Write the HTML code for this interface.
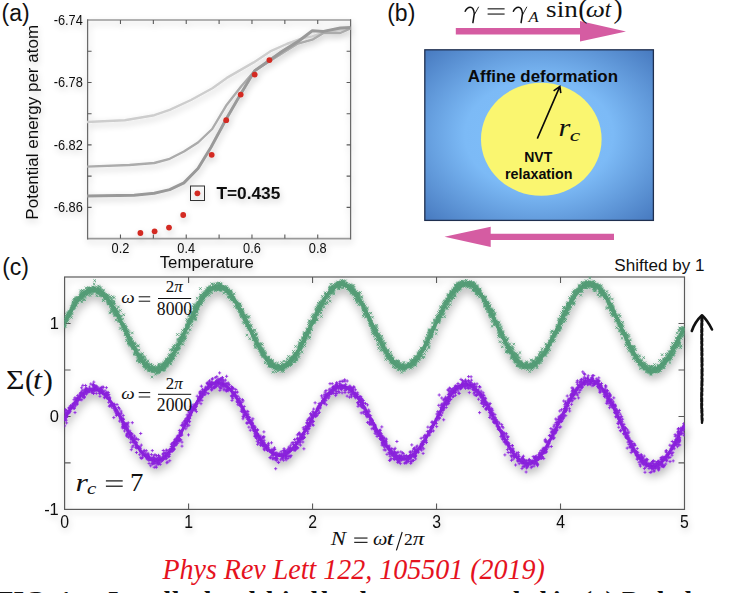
<!DOCTYPE html>
<html><head><meta charset="utf-8"><style>
html,body{margin:0;padding:0;background:#fff;width:736px;height:593px;overflow:hidden;position:relative;font-family:"Liberation Sans",sans-serif}
</style></head><body>
<svg width="736" height="593" viewBox="0 0 736 593" style="position:absolute;left:0;top:0">
<defs>
<filter id="sh" x="-20%" y="-20%" width="140%" height="140%">
 <feGaussianBlur in="SourceAlpha" stdDeviation="3.5"/>
 <feOffset dx="1" dy="3" result="b"/>
 <feComponentTransfer><feFuncA type="linear" slope="0.22"/></feComponentTransfer>
 <feMerge><feMergeNode/><feMergeNode in="SourceGraphic"/></feMerge>
</filter>
<filter id="sh2" x="-20%" y="-20%" width="140%" height="140%">
 <feGaussianBlur in="SourceAlpha" stdDeviation="5"/>
 <feOffset dx="1" dy="4" result="b"/>
 <feComponentTransfer><feFuncA type="linear" slope="0.34"/></feComponentTransfer>
 <feMerge><feMergeNode/><feMergeNode in="SourceGraphic"/></feMerge>
</filter>
<radialGradient id="bg" cx="50%" cy="50%" r="72%">
 <stop offset="0" stop-color="#80c0fb"/>
 <stop offset="0.45" stop-color="#7cbaf6"/>
 <stop offset="1" stop-color="#4577bd"/>
</radialGradient>
</defs>
<clipPath id="cbox"><rect x="64.6" y="267.0" width="619.9" height="252.39999999999998"/></clipPath>
<g filter="url(#sh)">
<path d="M87.6,20.0H350.6M87.6,238.6H350.6" stroke="#999" stroke-width="1.7" fill="none"/>
<path d="M87.6,19.2V239.4M350.6,19.2V239.4" stroke="#6a6a6a" stroke-width="1.25" fill="none"/>
<path d="M87.6,51.23h4M350.6,51.23h-4M87.6,82.46h4M350.6,82.46h-4M87.6,113.69h4M350.6,113.69h-4M87.6,144.91h4M350.6,144.91h-4M87.6,176.14h4M350.6,176.14h-4M87.6,207.37h4M350.6,207.37h-4M120.47,20.0v4M120.47,238.6v-4M153.35,20.0v4M153.35,238.6v-4M186.23,20.0v4M186.23,238.6v-4M219.10,20.0v4M219.10,238.6v-4M251.97,20.0v4M251.97,238.6v-4M284.85,20.0v4M284.85,238.6v-4M317.73,20.0v4M317.73,238.6v-4" stroke="#5a5a5a" stroke-width="1.1" fill="none"/>
<text transform="translate(82.8,24.90) scale(1,1.1)" text-anchor="end" font-size="12.8" font-family="Liberation Sans" fill="#111">-6.74</text>
<text transform="translate(82.8,87.36) scale(1,1.1)" text-anchor="end" font-size="12.8" font-family="Liberation Sans" fill="#111">-6.78</text>
<text transform="translate(82.8,149.81) scale(1,1.1)" text-anchor="end" font-size="12.8" font-family="Liberation Sans" fill="#111">-6.82</text>
<text transform="translate(82.8,212.27) scale(1,1.1)" text-anchor="end" font-size="12.8" font-family="Liberation Sans" fill="#111">-6.86</text>
<text transform="translate(120.47,252.6) scale(1,1.09)" text-anchor="middle" font-size="12.8" font-family="Liberation Sans" fill="#111">0.2</text>
<text transform="translate(186.23,252.6) scale(1,1.09)" text-anchor="middle" font-size="12.8" font-family="Liberation Sans" fill="#111">0.4</text>
<text transform="translate(251.97,252.6) scale(1,1.09)" text-anchor="middle" font-size="12.8" font-family="Liberation Sans" fill="#111">0.6</text>
<text transform="translate(317.73,252.6) scale(1,1.09)" text-anchor="middle" font-size="12.8" font-family="Liberation Sans" fill="#111">0.8</text>
<text x="206.8" y="267.8" text-anchor="middle" font-size="16.8" font-family="Liberation Sans" fill="#111">Temperature</text>
<text transform="translate(38.3,122.3) rotate(-90)" text-anchor="middle" font-size="17" font-family="Liberation Sans" fill="#111">Potential energy per atom</text>
<polyline points="87.0,122.0 124.8,120.2 154.3,115.2 169.7,109.8 191.0,100.0 212.4,88.2 226.8,77.9 253.7,62.4 270.2,51.4 286.7,44.0 303.4,38.0 312.3,36.4 323.9,32.5 340.2,30.0 350.6,28.3" fill="none" stroke="#cdcdcd" stroke-width="2.4" stroke-linejoin="round"/>
<polyline points="87.0,166.6 129.5,165.0 154.3,163.0 169.7,158.8 183.9,151.5 198.0,142.5 212.2,129.0 226.8,104.7 241.3,86.2 254.7,70.7 282.6,53.0 297.9,43.6 312.3,39.7 323.5,33.0 340.2,33.0 350.6,28.5" fill="none" stroke="#ababab" stroke-width="2.4" stroke-linejoin="round"/>
<polyline points="87.0,196.1 134.2,195.3 154.3,193.2 169.7,189.6 183.9,182.9 198.0,168.5 211.0,147.2 226.8,118.0 240.7,94.0 254.7,70.7 282.6,51.0 299.1,40.7 312.3,30.8 323.5,31.4 340.2,28.0 350.6,27.5" fill="none" stroke="#999" stroke-width="3.0" stroke-linejoin="round"/>
<circle cx="140.4" cy="233" r="2.9" fill="#d32a22"/>
<circle cx="154.6" cy="231.3" r="2.9" fill="#d32a22"/>
<circle cx="169" cy="227.6" r="2.9" fill="#d32a22"/>
<circle cx="183.2" cy="215" r="2.9" fill="#d32a22"/>
<circle cx="211.7" cy="154.8" r="2.9" fill="#d32a22"/>
<circle cx="226.2" cy="120.2" r="2.9" fill="#d32a22"/>
<circle cx="240.7" cy="94.6" r="2.9" fill="#d32a22"/>
<circle cx="254.7" cy="74.6" r="2.9" fill="#d32a22"/>
<circle cx="269.4" cy="60.1" r="2.9" fill="#d32a22"/>
<circle cx="197.4" cy="193.3" r="2.9" fill="#d32a22"/>
<rect x="190.5" y="186" width="14" height="14.5" fill="none" stroke="#333" stroke-width="1"/>
<text x="216.4" y="198.9" font-size="17.3" font-weight="bold" font-family="Liberation Sans" fill="#111">T=0.435</text>
</g>
<text transform="translate(1.6,20.6) scale(1.0,1.03)" font-size="23" font-family="Liberation Sans" fill="#111">(a)</text>
<text transform="translate(387.2,20.6) scale(1.0,1.03)" font-size="23" font-family="Liberation Sans" fill="#111">(b)</text>
<path d="M455.8,28.1H580V21.1L626,31.5L580,41.4V34.6H455.8Z" fill="#d55ca2"/>
<path d="M614,233.8H490.7V226.8L444.5,236.8L490.7,246.9V240H614Z" fill="#d55ca2"/>
<path d="M465.2,11.3C466.6,8.2 468.4,7.2 470.2,7.2C472.6,7.2 473.9,9.6 474.3,13.6L472.9,22.6" stroke="#111" stroke-width="1.55" fill="none" stroke-linecap="round"/><path d="M478.5,7.1L474.4,14.6" stroke="#111" stroke-width="0.9" fill="none" stroke-linecap="round"/>
<rect x="487.6" y="8.3" width="17" height="1.1" fill="#111"/><rect x="487.6" y="13.5" width="17" height="1.1" fill="#111"/>
<path d="M513.4,11.3C514.8,8.2 516.6,7.2 518.4,7.2C520.8,7.2 522.1,9.6 522.5,13.6L521.1,22.6" stroke="#111" stroke-width="1.55" fill="none" stroke-linecap="round"/><path d="M526.7,7.1L522.6,14.6" stroke="#111" stroke-width="0.9" fill="none" stroke-linecap="round"/>
<text transform="translate(528.4,21.7) scale(1.2,1)" font-size="13.8" font-style="italic" font-family="Liberation Serif" fill="#111">A</text>
<text transform="translate(546.1,17.1) scale(1.18,1)" font-size="23" font-family="Liberation Serif" fill="#111">sin</text>
<text x="578.2" y="18.2" font-size="27.5" font-family="Liberation Serif" fill="#111">(</text>
<text transform="translate(585.8,17.1) scale(1.18,1)" font-size="23" font-style="italic" font-family="Liberation Serif" fill="#111">ω</text>
<text x="604.8" y="17.1" font-size="23" font-style="italic" font-family="Liberation Serif" fill="#111">t</text>
<text x="613.6" y="18.2" font-size="27.5" font-family="Liberation Serif" fill="#111">)</text>
<rect x="424.8" y="49.8" width="228.6" height="170.6" fill="url(#bg)" stroke="#1f2f4f" stroke-width="1.3"/>
<ellipse cx="541.3" cy="139.2" rx="60.3" ry="56.5" fill="#faf670"/>
<text x="542.9" y="81.5" text-anchor="middle" font-size="16.9" font-weight="bold" font-family="Liberation Sans" fill="#0a0a0a">Affine deformation</text>
<path d="M537.3,138.6L559.9,86.4M553.6,90.9L559.9,86.4L560.8,93.2" stroke="#0a0a0a" stroke-width="1.6" fill="none"/>
<text transform="translate(558.6,136.4) scale(1.22,1)" font-size="25" font-style="italic" font-family="Liberation Serif" fill="#111">r</text>
<text transform="translate(569.8,140.8) scale(1.35,1)" font-size="17.5" font-style="italic" font-family="Liberation Serif" fill="#111">c</text>
<text x="538.2" y="161.6" text-anchor="middle" font-size="14" font-weight="bold" font-family="Liberation Sans" fill="#0a0a0a">NVT</text>
<text x="538.8" y="178.8" text-anchor="middle" font-size="14.3" font-weight="bold" font-family="Liberation Sans" fill="#0a0a0a">relaxation</text>
<g filter="url(#sh)">
<rect x="64.6" y="277.0" width="619.9" height="232.39999999999998" fill="none" stroke="#5a5a5a" stroke-width="1.2"/>
<path d="M64.6,462.92h6M684.5,462.92h-6M64.6,416.44h6M684.5,416.44h-6M64.6,369.96h6M684.5,369.96h-6M64.6,323.48h6M684.5,323.48h-6M188.58,277.0v6M188.58,509.4v-6M312.56,277.0v6M312.56,509.4v-6M436.54,277.0v6M436.54,509.4v-6M560.52,277.0v6M560.52,509.4v-6" stroke="#5a5a5a" stroke-width="1.1" fill="none"/>
<text transform="translate(58.8,328.98) scale(1,1.04)" text-anchor="end" font-size="16.5" font-family="Liberation Sans" fill="#111">1</text>
<text transform="translate(58.8,421.94) scale(1,1.04)" text-anchor="end" font-size="16.5" font-family="Liberation Sans" fill="#111">0</text>
<text transform="translate(58.8,514.90) scale(1,1.04)" text-anchor="end" font-size="16.5" font-family="Liberation Sans" fill="#111">-1</text>
<text transform="translate(64.60,528.3) scale(1,1.13)" text-anchor="middle" font-size="15.8" font-family="Liberation Sans" fill="#111">0</text>
<text transform="translate(188.58,528.3) scale(1,1.13)" text-anchor="middle" font-size="15.8" font-family="Liberation Sans" fill="#111">1</text>
<text transform="translate(312.56,528.3) scale(1,1.13)" text-anchor="middle" font-size="15.8" font-family="Liberation Sans" fill="#111">2</text>
<text transform="translate(436.54,528.3) scale(1,1.13)" text-anchor="middle" font-size="15.8" font-family="Liberation Sans" fill="#111">3</text>
<text transform="translate(560.52,528.3) scale(1,1.13)" text-anchor="middle" font-size="15.8" font-family="Liberation Sans" fill="#111">4</text>
<text transform="translate(684.50,528.3) scale(1,1.13)" text-anchor="middle" font-size="15.8" font-family="Liberation Sans" fill="#111">5</text>
</g>
<text x="614.3" y="270.7" font-size="17.1" font-family="Liberation Sans" fill="#111">Shifted by 1</text>
<text transform="translate(2.2,274.6) scale(1.0,1.03)" font-size="23" font-family="Liberation Sans" fill="#111">(c)</text>
<g filter="url(#sh2)"><g clip-path="url(#cbox)">
<polyline points="60.1,326.6 60.9,326.6 61.7,326.6 62.5,326.6 63.2,325.4 64.0,323.8 64.8,322.3 65.6,320.9 66.4,319.4 67.2,317.9 67.9,316.4 68.7,315.0 69.5,313.6 70.3,312.2 71.1,310.8 71.8,309.4 72.6,308.1 73.4,306.8 74.2,305.5 75.0,304.3 75.8,303.1 76.5,301.9 77.3,300.8 78.1,299.8 78.9,298.8 79.7,297.9 80.4,297.0 81.2,296.2 82.0,295.5 82.8,294.7 83.6,294.1 84.4,293.4 85.1,292.9 85.9,292.3 86.7,291.9 87.5,291.4 88.3,291.1 89.0,290.8 89.8,290.5 90.6,290.3 91.4,290.1 92.2,290.0 93.0,290.0 93.7,290.0 94.5,290.0 95.3,290.1 96.1,290.3 96.9,290.5 97.6,290.8 98.4,291.2 99.2,291.6 100.0,292.0 100.8,292.5 101.6,293.1 102.3,293.7 103.1,294.3 103.9,295.1 104.7,295.8 105.5,296.6 106.2,297.5 107.0,298.4 107.8,299.3 108.6,300.3 109.4,301.4 110.2,302.5 110.9,303.6 111.7,304.7 112.5,305.9 113.3,307.2 114.1,308.4 114.8,309.7 115.6,311.2 116.4,312.6 117.2,314.1 118.0,315.6 118.8,317.1 119.5,318.7 120.3,320.2 121.1,321.8 121.9,323.4 122.7,325.0 123.4,326.6 124.2,328.2 125.0,329.8 125.8,331.4 126.6,333.0 127.4,334.6 128.1,336.2 128.9,337.7 129.7,339.3 130.5,340.9 131.3,342.4 132.0,343.9 132.8,345.4 133.6,346.8 134.4,348.2 135.2,349.6 136.0,351.0 136.7,352.3 137.5,353.6 138.3,354.9 139.1,356.1 139.9,357.3 140.6,358.4 141.4,359.5 142.2,360.5 143.0,361.5 143.8,362.5 144.6,363.3 145.3,364.2 146.1,364.9 146.9,365.7 147.7,366.3 148.5,366.9 149.2,367.5 150.0,368.0 150.8,368.4 151.6,368.7 152.4,369.0 153.2,369.3 153.9,369.4 154.7,369.6 155.5,369.6 156.3,369.6 157.1,369.5 157.8,369.3 158.6,369.1 159.4,368.9 160.2,368.5 161.0,368.1 161.8,367.6 162.5,367.1 163.3,366.5 164.1,365.9 164.9,365.2 165.7,364.4 166.4,363.6 167.2,362.7 168.0,361.7 168.8,360.7 169.6,359.7 170.4,358.6 171.1,357.5 171.9,356.3 172.7,355.1 173.5,353.8 174.3,352.5 175.0,351.1 175.8,349.7 176.6,348.3 177.4,346.9 178.2,345.4 179.0,343.9 179.7,342.3 180.5,340.8 181.3,339.2 182.1,337.6 182.9,336.0 183.6,334.4 184.4,332.7 185.2,331.1 186.0,329.4 186.8,327.8 187.6,326.1 188.3,324.5 189.1,322.9 189.9,321.2 190.7,319.6 191.5,318.0 192.2,316.4 193.0,314.8 193.8,313.3 194.6,311.7 195.4,310.2 196.2,308.8 196.9,307.3 197.7,305.9 198.5,304.5 199.3,303.2 200.1,301.9 200.8,300.6 201.6,299.4 202.4,298.2 203.2,297.1 204.0,296.0 204.8,295.0 205.5,294.0 206.3,293.1 207.1,292.2 207.9,291.4 208.7,290.6 209.4,289.9 210.2,289.3 211.0,288.7 211.8,288.2 212.6,287.7 213.4,287.3 214.1,287.0 214.9,286.7 215.7,286.5 216.5,286.4 217.3,286.3 218.0,286.3 218.8,286.4 219.6,286.5 220.4,286.7 221.2,286.9 222.0,287.2 222.7,287.6 223.5,288.0 224.3,288.5 225.1,289.1 225.9,289.7 226.6,290.4 227.4,291.1 228.2,291.9 229.0,292.7 229.8,293.6 230.6,294.6 231.3,295.6 232.1,296.6 232.9,297.7 233.7,298.8 234.5,300.0 235.2,301.2 236.0,302.5 236.8,303.8 237.6,305.1 238.4,306.5 239.2,307.9 239.9,309.4 240.7,310.8 241.5,312.3 242.3,313.8 243.1,315.3 243.8,316.9 244.6,318.5 245.4,320.0 246.2,321.6 247.0,323.2 247.8,324.8 248.5,326.4 249.3,328.0 250.1,329.6 250.9,331.2 251.7,332.8 252.4,334.4 253.2,336.0 254.0,337.5 254.8,339.1 255.6,340.6 256.4,342.1 257.1,343.6 257.9,345.0 258.7,346.4 259.5,347.8 260.3,349.2 261.0,350.5 261.8,351.8 262.6,353.0 263.4,354.2 264.2,355.4 265.0,356.5 265.7,357.6 266.5,358.6 267.3,359.6 268.1,360.5 268.9,361.4 269.6,362.2 270.4,362.9 271.2,363.6 272.0,364.3 272.8,364.9 273.6,365.4 274.3,365.9 275.1,366.3 275.9,366.6 276.7,366.9 277.5,367.1 278.2,367.3 279.0,367.4 279.8,367.4 280.6,367.4 281.4,367.3 282.2,367.1 282.9,366.9 283.7,366.6 284.5,366.2 285.3,365.8 286.1,365.3 286.8,364.8 287.6,364.2 288.4,363.5 289.2,362.8 290.0,362.0 290.8,361.1 291.5,360.2 292.3,359.3 293.1,358.3 293.9,357.2 294.7,356.1 295.4,355.0 296.2,353.8 297.0,352.6 297.8,351.3 298.6,350.0 299.4,348.6 300.1,347.2 300.9,345.8 301.7,344.3 302.5,342.8 303.3,341.3 304.0,339.8 304.8,338.2 305.6,336.6 306.4,335.0 307.2,333.4 308.0,331.8 308.7,330.2 309.5,328.5 310.3,326.9 311.1,325.2 311.9,323.6 312.6,322.0 313.4,320.3 314.2,318.7 315.0,317.1 315.8,315.5 316.6,313.9 317.3,312.3 318.1,310.8 318.9,309.3 319.7,307.8 320.5,306.3 321.2,304.9 322.0,303.5 322.8,302.1 323.6,300.8 324.4,299.5 325.2,298.2 325.9,297.0 326.7,295.9 327.5,294.8 328.3,293.7 329.1,292.7 329.8,291.7 330.6,290.8 331.4,289.9 332.2,289.1 333.0,288.4 333.8,287.7 334.5,287.1 335.3,286.5 336.1,286.0 336.9,285.6 337.7,285.2 338.4,284.9 339.2,284.7 340.0,284.5 340.8,284.4 341.6,284.3 342.4,284.3 343.1,284.4 343.9,284.5 344.7,284.7 345.5,285.0 346.3,285.3 347.0,285.7 347.8,286.2 348.6,286.7 349.4,287.3 350.2,288.0 351.0,288.7 351.7,289.4 352.5,290.2 353.3,291.1 354.1,292.1 354.9,293.0 355.6,294.1 356.4,295.2 357.2,296.3 358.0,297.5 358.8,298.7 359.6,300.0 360.3,301.3 361.1,302.6 361.9,304.0 362.7,305.4 363.5,306.8 364.2,308.3 365.0,309.8 365.8,311.4 366.6,312.9 367.4,314.5 368.2,316.1 368.9,317.7 369.7,319.3 370.5,320.9 371.3,322.6 372.1,324.2 372.8,325.8 373.6,327.5 374.4,329.1 375.2,330.8 376.0,332.4 376.8,334.0 377.5,335.6 378.3,337.2 379.1,338.8 379.9,340.3 380.7,341.9 381.5,343.4 382.2,344.9 383.0,346.3 383.8,347.7 384.6,349.1 385.4,350.4 386.1,351.7 386.9,353.0 387.7,354.2 388.5,355.4 389.3,356.5 390.1,357.6 390.8,358.7 391.6,359.6 392.4,360.6 393.2,361.5 394.0,362.3 394.7,363.0 395.5,363.7 396.3,364.4 397.1,365.0 397.9,365.5 398.7,366.0 399.4,366.4 400.2,366.7 401.0,367.0 401.8,367.2 402.6,367.3 403.3,367.4 404.1,367.4 404.9,367.3 405.7,367.2 406.5,367.0 407.3,366.8 408.0,366.5 408.8,366.1 409.6,365.7 410.4,365.1 411.2,364.6 411.9,364.0 412.7,363.3 413.5,362.5 414.3,361.7 415.1,360.8 415.9,359.9 416.6,359.0 417.4,357.9 418.2,356.9 419.0,355.7 419.8,354.6 420.5,353.3 421.3,352.1 422.1,350.8 422.9,349.4 423.7,348.1 424.5,346.6 425.2,345.2 426.0,343.7 426.8,342.2 427.6,340.7 428.4,339.1 429.1,337.5 429.9,335.9 430.7,334.3 431.5,332.7 432.3,331.1 433.1,329.4 433.8,327.8 434.6,326.1 435.4,324.4 436.2,322.8 437.0,321.1 437.7,319.5 438.5,317.9 439.3,316.2 440.1,314.6 440.9,313.0 441.7,311.5 442.4,309.9 443.2,308.4 444.0,306.9 444.8,305.4 445.6,304.0 446.3,302.6 447.1,301.2 447.9,299.9 448.7,298.6 449.5,297.3 450.3,296.1 451.0,295.0 451.8,293.8 452.6,292.8 453.4,291.8 454.2,290.8 454.9,289.9 455.7,289.1 456.5,288.3 457.3,287.5 458.1,286.9 458.9,286.3 459.6,285.7 460.4,285.2 461.2,284.8 462.0,284.4 462.8,284.1 463.5,283.9 464.3,283.7 465.1,283.6 465.9,283.6 466.7,283.6 467.5,283.7 468.2,283.9 469.0,284.1 469.8,284.4 470.6,284.7 471.4,285.2 472.1,285.6 472.9,286.2 473.7,286.8 474.5,287.4 475.3,288.1 476.1,288.9 476.8,289.7 477.6,290.6 478.4,291.6 479.2,292.6 480.0,293.6 480.7,294.7 481.5,295.8 482.3,297.0 483.1,298.2 483.9,299.5 484.7,300.8 485.4,302.2 486.2,303.5 487.0,305.0 487.8,306.4 488.6,307.9 489.3,309.4 490.1,310.9 490.9,312.5 491.7,314.0 492.5,315.6 493.3,317.2 494.0,318.8 494.8,320.4 495.6,322.1 496.4,323.7 497.2,325.3 497.9,327.0 498.7,328.6 499.5,330.2 500.3,331.8 501.1,333.5 501.9,335.0 502.6,336.6 503.4,338.2 504.2,339.7 505.0,341.2 505.8,342.7 506.5,344.2 507.3,345.6 508.1,347.0 508.9,348.4 509.7,349.7 510.5,351.0 511.2,352.2 512.0,353.4 512.8,354.6 513.6,355.7 514.4,356.8 515.1,357.8 515.9,358.7 516.7,359.7 517.5,360.5 518.3,361.3 519.1,362.1 519.8,362.7 520.6,363.4 521.4,363.9 522.2,364.4 523.0,364.9 523.7,365.3 524.5,365.6 525.3,365.8 526.1,366.0 526.9,366.1 527.7,366.2 528.4,366.2 529.2,366.1 530.0,366.0 530.8,365.8 531.6,365.5 532.3,365.2 533.1,364.8 533.9,364.4 534.7,363.8 535.5,363.3 536.3,362.6 537.0,362.0 537.8,361.2 538.6,360.4 539.4,359.5 540.2,358.6 540.9,357.7 541.7,356.6 542.5,355.6 543.3,354.5 544.1,353.3 544.9,352.1 545.6,350.8 546.4,349.5 547.2,348.2 548.0,346.9 548.8,345.5 549.5,344.0 550.3,342.6 551.1,341.1 551.9,339.6 552.7,338.0 553.5,336.5 554.2,334.9 555.0,333.3 555.8,331.7 556.6,330.1 557.4,328.5 558.1,326.9 558.9,325.3 559.7,323.6 560.5,322.0 561.3,320.4 562.1,318.8 562.8,317.2 563.6,315.6 564.4,314.0 565.2,312.4 566.0,310.9 566.7,309.4 567.5,307.9 568.3,306.4 569.1,305.0 569.9,303.6 570.7,302.2 571.4,300.9 572.2,299.6 573.0,298.3 573.8,297.1 574.6,296.0 575.3,294.8 576.1,293.8 576.9,292.7 577.7,291.8 578.5,290.8 579.3,290.0 580.0,289.1 580.8,288.4 581.6,287.7 582.4,287.0 583.2,286.5 583.9,285.9 584.7,285.5 585.5,285.1 586.3,284.7 587.1,284.5 587.9,284.2 588.6,284.1 589.4,284.0 590.2,284.0 591.0,284.1 591.8,284.2 592.5,284.4 593.3,284.6 594.1,284.9 594.9,285.3 595.7,285.8 596.5,286.3 597.2,286.8 598.0,287.5 598.8,288.2 599.6,289.0 600.4,289.8 601.1,290.7 601.9,291.6 602.7,292.6 603.5,293.7 604.3,294.8 605.1,295.9 605.8,297.1 606.6,298.4 607.4,299.7 608.2,301.0 609.0,302.4 609.7,303.8 610.5,305.3 611.3,306.8 612.1,308.3 612.9,309.8 613.7,311.4 614.4,313.0 615.2,314.7 616.0,316.3 616.8,318.0 617.6,319.7 618.3,321.3 619.1,323.0 619.9,324.8 620.7,326.5 621.5,328.2 622.3,329.9 623.0,331.6 623.8,333.3 624.6,335.0 625.4,336.7 626.2,338.3 626.9,340.0 627.7,341.6 628.5,343.2 629.3,344.8 630.1,346.3 630.9,347.8 631.6,349.3 632.4,350.8 633.2,352.2 634.0,353.6 634.8,354.9 635.5,356.2 636.3,357.5 637.1,358.7 637.9,359.8 638.7,360.9 639.5,362.0 640.2,363.0 641.0,363.9 641.8,364.8 642.6,365.6 643.4,366.4 644.1,367.1 644.9,367.7 645.7,368.3 646.5,368.8 647.3,369.2 648.1,369.6 648.8,369.9 649.6,370.2 650.4,370.3 651.2,370.5 652.0,370.5 652.7,370.5 653.5,370.4 654.3,370.2 655.1,370.0 655.9,369.7 656.7,369.4 657.4,369.0 658.2,368.5 659.0,368.0 659.8,367.4 660.6,366.8 661.3,366.1 662.1,365.3 662.9,364.5 663.7,363.6 664.5,362.7 665.3,361.7 666.0,360.7 666.8,359.6 667.6,358.5 668.4,357.3 669.2,356.1 669.9,354.8 670.7,353.5 671.5,352.2 672.3,350.8 673.1,349.4 673.9,348.0 674.6,346.5 675.4,345.0 676.2,343.5 677.0,342.0 677.8,340.4 678.5,338.9 679.3,337.3 680.1,335.7 680.9,334.1 681.7,332.5 682.5,330.8 683.2,329.5 684.0,329.5 684.8,329.5 685.6,329.5" fill="none" stroke="#559d77" stroke-width="3.6" stroke-linejoin="round"/>
<path d="M340.3,279.1l2.6,2.6m0,-2.6l-2.6,2.6M375.9,333.7l2.6,2.6m0,-2.6l-2.6,2.6M452.1,289.8l2.6,2.6m0,-2.6l-2.6,2.6M113.1,313.2l2.6,2.6m0,-2.6l-2.6,2.6M672.6,348.3l2.6,2.6m0,-2.6l-2.6,2.6M157.5,370.2l2.6,2.6m0,-2.6l-2.6,2.6M178.2,342.3l2.6,2.6m0,-2.6l-2.6,2.6M332.6,286.3l2.6,2.6m0,-2.6l-2.6,2.6M369.8,323.2l2.6,2.6m0,-2.6l-2.6,2.6M682.7,331.8l2.6,2.6m0,-2.6l-2.6,2.6M257.4,342.8l2.6,2.6m0,-2.6l-2.6,2.6M540.0,355.2l2.6,2.6m0,-2.6l-2.6,2.6M658.0,366.5l2.6,2.6m0,-2.6l-2.6,2.6M629.1,338.6l2.6,2.6m0,-2.6l-2.6,2.6M102.4,293.4l2.6,2.6m0,-2.6l-2.6,2.6M117.1,305.6l2.6,2.6m0,-2.6l-2.6,2.6M133.4,346.1l2.6,2.6m0,-2.6l-2.6,2.6M559.3,325.6l2.6,2.6m0,-2.6l-2.6,2.6M177.2,341.6l2.6,2.6m0,-2.6l-2.6,2.6M132.3,343.2l2.6,2.6m0,-2.6l-2.6,2.6M664.7,358.0l2.6,2.6m0,-2.6l-2.6,2.6M192.7,312.9l2.6,2.6m0,-2.6l-2.6,2.6M121.5,325.4l2.6,2.6m0,-2.6l-2.6,2.6M543.4,352.2l2.6,2.6m0,-2.6l-2.6,2.6M114.6,310.2l2.6,2.6m0,-2.6l-2.6,2.6M292.6,353.0l2.6,2.6m0,-2.6l-2.6,2.6M417.4,354.5l2.6,2.6m0,-2.6l-2.6,2.6M625.8,342.1l2.6,2.6m0,-2.6l-2.6,2.6M520.9,364.6l2.6,2.6m0,-2.6l-2.6,2.6M609.5,305.0l2.6,2.6m0,-2.6l-2.6,2.6M82.7,293.5l2.6,2.6m0,-2.6l-2.6,2.6M217.5,286.7l2.6,2.6m0,-2.6l-2.6,2.6M167.9,357.9l2.6,2.6m0,-2.6l-2.6,2.6M406.8,365.7l2.6,2.6m0,-2.6l-2.6,2.6M632.9,352.2l2.6,2.6m0,-2.6l-2.6,2.6M338.0,284.6l2.6,2.6m0,-2.6l-2.6,2.6M417.9,357.1l2.6,2.6m0,-2.6l-2.6,2.6M669.9,346.0l2.6,2.6m0,-2.6l-2.6,2.6M146.7,365.6l2.6,2.6m0,-2.6l-2.6,2.6M497.2,327.3l2.6,2.6m0,-2.6l-2.6,2.6M359.0,302.2l2.6,2.6m0,-2.6l-2.6,2.6M105.1,294.3l2.6,2.6m0,-2.6l-2.6,2.6M516.9,361.5l2.6,2.6m0,-2.6l-2.6,2.6M275.5,364.5l2.6,2.6m0,-2.6l-2.6,2.6M316.4,304.9l2.6,2.6m0,-2.6l-2.6,2.6M451.2,291.8l2.6,2.6m0,-2.6l-2.6,2.6M104.8,297.5l2.6,2.6m0,-2.6l-2.6,2.6M516.1,354.7l2.6,2.6m0,-2.6l-2.6,2.6M333.7,285.4l2.6,2.6m0,-2.6l-2.6,2.6M76.3,295.9l2.6,2.6m0,-2.6l-2.6,2.6M495.6,320.9l2.6,2.6m0,-2.6l-2.6,2.6M218.9,286.9l2.6,2.6m0,-2.6l-2.6,2.6M188.8,328.4l2.6,2.6m0,-2.6l-2.6,2.6M334.3,285.8l2.6,2.6m0,-2.6l-2.6,2.6M184.3,328.6l2.6,2.6m0,-2.6l-2.6,2.6M610.9,302.4l2.6,2.6m0,-2.6l-2.6,2.6M144.1,359.2l2.6,2.6m0,-2.6l-2.6,2.6M503.2,341.3l2.6,2.6m0,-2.6l-2.6,2.6M341.8,282.8l2.6,2.6m0,-2.6l-2.6,2.6M450.2,291.3l2.6,2.6m0,-2.6l-2.6,2.6M673.4,345.5l2.6,2.6m0,-2.6l-2.6,2.6M501.0,336.3l2.6,2.6m0,-2.6l-2.6,2.6M70.4,310.9l2.6,2.6m0,-2.6l-2.6,2.6M578.1,289.0l2.6,2.6m0,-2.6l-2.6,2.6M450.6,290.6l2.6,2.6m0,-2.6l-2.6,2.6M563.4,309.3l2.6,2.6m0,-2.6l-2.6,2.6M357.9,294.0l2.6,2.6m0,-2.6l-2.6,2.6M505.3,343.5l2.6,2.6m0,-2.6l-2.6,2.6M492.8,323.9l2.6,2.6m0,-2.6l-2.6,2.6M305.6,331.9l2.6,2.6m0,-2.6l-2.6,2.6M643.4,364.7l2.6,2.6m0,-2.6l-2.6,2.6M448.5,294.7l2.6,2.6m0,-2.6l-2.6,2.6M610.6,304.9l2.6,2.6m0,-2.6l-2.6,2.6M465.6,281.7l2.6,2.6m0,-2.6l-2.6,2.6M461.0,279.9l2.6,2.6m0,-2.6l-2.6,2.6M669.2,351.5l2.6,2.6m0,-2.6l-2.6,2.6M260.2,347.5l2.6,2.6m0,-2.6l-2.6,2.6M107.8,302.3l2.6,2.6m0,-2.6l-2.6,2.6M363.1,308.0l2.6,2.6m0,-2.6l-2.6,2.6M560.5,321.7l2.6,2.6m0,-2.6l-2.6,2.6M148.3,366.6l2.6,2.6m0,-2.6l-2.6,2.6M580.4,282.1l2.6,2.6m0,-2.6l-2.6,2.6M653.1,370.2l2.6,2.6m0,-2.6l-2.6,2.6M237.9,310.8l2.6,2.6m0,-2.6l-2.6,2.6M585.9,281.4l2.6,2.6m0,-2.6l-2.6,2.6M586.8,283.8l2.6,2.6m0,-2.6l-2.6,2.6M664.2,357.2l2.6,2.6m0,-2.6l-2.6,2.6M396.0,359.6l2.6,2.6m0,-2.6l-2.6,2.6M307.5,324.4l2.6,2.6m0,-2.6l-2.6,2.6M489.3,313.1l2.6,2.6m0,-2.6l-2.6,2.6M657.1,366.5l2.6,2.6m0,-2.6l-2.6,2.6M139.7,357.6l2.6,2.6m0,-2.6l-2.6,2.6M357.7,292.7l2.6,2.6m0,-2.6l-2.6,2.6M637.6,362.3l2.6,2.6m0,-2.6l-2.6,2.6M179.6,337.0l2.6,2.6m0,-2.6l-2.6,2.6M283.3,364.2l2.6,2.6m0,-2.6l-2.6,2.6M135.6,353.2l2.6,2.6m0,-2.6l-2.6,2.6M389.3,359.9l2.6,2.6m0,-2.6l-2.6,2.6M390.6,359.2l2.6,2.6m0,-2.6l-2.6,2.6M459.5,287.1l2.6,2.6m0,-2.6l-2.6,2.6M594.5,282.6l2.6,2.6m0,-2.6l-2.6,2.6M621.9,330.5l2.6,2.6m0,-2.6l-2.6,2.6M196.0,310.7l2.6,2.6m0,-2.6l-2.6,2.6M208.5,287.6l2.6,2.6m0,-2.6l-2.6,2.6M579.5,288.1l2.6,2.6m0,-2.6l-2.6,2.6M311.9,321.0l2.6,2.6m0,-2.6l-2.6,2.6M486.4,303.7l2.6,2.6m0,-2.6l-2.6,2.6M372.5,331.8l2.6,2.6m0,-2.6l-2.6,2.6M177.4,343.7l2.6,2.6m0,-2.6l-2.6,2.6M403.0,366.3l2.6,2.6m0,-2.6l-2.6,2.6M177.0,348.5l2.6,2.6m0,-2.6l-2.6,2.6M642.4,356.3l2.6,2.6m0,-2.6l-2.6,2.6M346.9,287.6l2.6,2.6m0,-2.6l-2.6,2.6M380.9,345.8l2.6,2.6m0,-2.6l-2.6,2.6M498.1,326.8l2.6,2.6m0,-2.6l-2.6,2.6M521.6,365.2l2.6,2.6m0,-2.6l-2.6,2.6M377.5,347.1l2.6,2.6m0,-2.6l-2.6,2.6M497.7,333.4l2.6,2.6m0,-2.6l-2.6,2.6M433.7,318.3l2.6,2.6m0,-2.6l-2.6,2.6M218.9,288.5l2.6,2.6m0,-2.6l-2.6,2.6M570.4,299.3l2.6,2.6m0,-2.6l-2.6,2.6M490.5,319.2l2.6,2.6m0,-2.6l-2.6,2.6M511.5,353.8l2.6,2.6m0,-2.6l-2.6,2.6M67.4,315.7l2.6,2.6m0,-2.6l-2.6,2.6M203.1,295.6l2.6,2.6m0,-2.6l-2.6,2.6M470.6,282.6l2.6,2.6m0,-2.6l-2.6,2.6M682.2,326.3l2.6,2.6m0,-2.6l-2.6,2.6M672.2,350.6l2.6,2.6m0,-2.6l-2.6,2.6M219.7,284.9l2.6,2.6m0,-2.6l-2.6,2.6M294.5,355.4l2.6,2.6m0,-2.6l-2.6,2.6M402.6,361.1l2.6,2.6m0,-2.6l-2.6,2.6M678.9,327.2l2.6,2.6m0,-2.6l-2.6,2.6M432.0,326.4l2.6,2.6m0,-2.6l-2.6,2.6M159.0,366.1l2.6,2.6m0,-2.6l-2.6,2.6M442.6,313.0l2.6,2.6m0,-2.6l-2.6,2.6M387.4,354.2l2.6,2.6m0,-2.6l-2.6,2.6M468.1,281.7l2.6,2.6m0,-2.6l-2.6,2.6M244.1,319.9l2.6,2.6m0,-2.6l-2.6,2.6M155.1,368.1l2.6,2.6m0,-2.6l-2.6,2.6M528.5,370.3l2.6,2.6m0,-2.6l-2.6,2.6M103.8,297.7l2.6,2.6m0,-2.6l-2.6,2.6M669.6,355.5l2.6,2.6m0,-2.6l-2.6,2.6M511.8,347.2l2.6,2.6m0,-2.6l-2.6,2.6M437.9,320.4l2.6,2.6m0,-2.6l-2.6,2.6M186.9,327.2l2.6,2.6m0,-2.6l-2.6,2.6M334.2,283.1l2.6,2.6m0,-2.6l-2.6,2.6M424.4,342.8l2.6,2.6m0,-2.6l-2.6,2.6M682.0,331.2l2.6,2.6m0,-2.6l-2.6,2.6M128.2,343.8l2.6,2.6m0,-2.6l-2.6,2.6M286.0,364.4l2.6,2.6m0,-2.6l-2.6,2.6M426.8,332.0l2.6,2.6m0,-2.6l-2.6,2.6M214.1,289.4l2.6,2.6m0,-2.6l-2.6,2.6M84.0,293.2l2.6,2.6m0,-2.6l-2.6,2.6M450.0,297.1l2.6,2.6m0,-2.6l-2.6,2.6M111.0,306.2l2.6,2.6m0,-2.6l-2.6,2.6M292.4,355.1l2.6,2.6m0,-2.6l-2.6,2.6M524.1,365.1l2.6,2.6m0,-2.6l-2.6,2.6M562.9,306.8l2.6,2.6m0,-2.6l-2.6,2.6M327.3,296.2l2.6,2.6m0,-2.6l-2.6,2.6M467.6,284.5l2.6,2.6m0,-2.6l-2.6,2.6M524.6,366.6l2.6,2.6m0,-2.6l-2.6,2.6M119.0,320.4l2.6,2.6m0,-2.6l-2.6,2.6M412.0,358.8l2.6,2.6m0,-2.6l-2.6,2.6M544.4,351.5l2.6,2.6m0,-2.6l-2.6,2.6M112.5,301.7l2.6,2.6m0,-2.6l-2.6,2.6M237.0,304.1l2.6,2.6m0,-2.6l-2.6,2.6M289.8,363.6l2.6,2.6m0,-2.6l-2.6,2.6M632.0,357.3l2.6,2.6m0,-2.6l-2.6,2.6M562.5,316.2l2.6,2.6m0,-2.6l-2.6,2.6M642.6,367.4l2.6,2.6m0,-2.6l-2.6,2.6M288.8,360.6l2.6,2.6m0,-2.6l-2.6,2.6M179.6,333.2l2.6,2.6m0,-2.6l-2.6,2.6M581.5,284.0l2.6,2.6m0,-2.6l-2.6,2.6M610.1,305.0l2.6,2.6m0,-2.6l-2.6,2.6M397.3,361.0l2.6,2.6m0,-2.6l-2.6,2.6M562.7,317.3l2.6,2.6m0,-2.6l-2.6,2.6M112.8,307.6l2.6,2.6m0,-2.6l-2.6,2.6M111.1,304.9l2.6,2.6m0,-2.6l-2.6,2.6M465.9,282.3l2.6,2.6m0,-2.6l-2.6,2.6M383.3,350.9l2.6,2.6m0,-2.6l-2.6,2.6M662.7,358.7l2.6,2.6m0,-2.6l-2.6,2.6M506.1,349.5l2.6,2.6m0,-2.6l-2.6,2.6M572.7,289.6l2.6,2.6m0,-2.6l-2.6,2.6M577.6,290.0l2.6,2.6m0,-2.6l-2.6,2.6M383.5,352.2l2.6,2.6m0,-2.6l-2.6,2.6M324.0,302.2l2.6,2.6m0,-2.6l-2.6,2.6M294.7,355.0l2.6,2.6m0,-2.6l-2.6,2.6M241.4,314.1l2.6,2.6m0,-2.6l-2.6,2.6M128.3,340.4l2.6,2.6m0,-2.6l-2.6,2.6M98.4,287.8l2.6,2.6m0,-2.6l-2.6,2.6M82.3,294.3l2.6,2.6m0,-2.6l-2.6,2.6M203.8,290.1l2.6,2.6m0,-2.6l-2.6,2.6M175.5,348.2l2.6,2.6m0,-2.6l-2.6,2.6M252.9,335.0l2.6,2.6m0,-2.6l-2.6,2.6M219.3,289.7l2.6,2.6m0,-2.6l-2.6,2.6M400.6,368.1l2.6,2.6m0,-2.6l-2.6,2.6M88.9,292.1l2.6,2.6m0,-2.6l-2.6,2.6M388.7,354.9l2.6,2.6m0,-2.6l-2.6,2.6M470.3,283.9l2.6,2.6m0,-2.6l-2.6,2.6M288.6,358.6l2.6,2.6m0,-2.6l-2.6,2.6M158.4,368.8l2.6,2.6m0,-2.6l-2.6,2.6M602.3,290.1l2.6,2.6m0,-2.6l-2.6,2.6M225.3,288.2l2.6,2.6m0,-2.6l-2.6,2.6M56.7,326.9l2.6,2.6m0,-2.6l-2.6,2.6M113.1,303.0l2.6,2.6m0,-2.6l-2.6,2.6M359.9,295.4l2.6,2.6m0,-2.6l-2.6,2.6M597.9,283.8l2.6,2.6m0,-2.6l-2.6,2.6M633.9,354.5l2.6,2.6m0,-2.6l-2.6,2.6M398.5,364.2l2.6,2.6m0,-2.6l-2.6,2.6M254.2,337.7l2.6,2.6m0,-2.6l-2.6,2.6M349.5,288.4l2.6,2.6m0,-2.6l-2.6,2.6M126.1,329.4l2.6,2.6m0,-2.6l-2.6,2.6M577.6,288.7l2.6,2.6m0,-2.6l-2.6,2.6M505.1,338.6l2.6,2.6m0,-2.6l-2.6,2.6M65.2,320.9l2.6,2.6m0,-2.6l-2.6,2.6M445.7,302.4l2.6,2.6m0,-2.6l-2.6,2.6M246.8,320.2l2.6,2.6m0,-2.6l-2.6,2.6M221.8,286.4l2.6,2.6m0,-2.6l-2.6,2.6M648.9,366.3l2.6,2.6m0,-2.6l-2.6,2.6M576.5,291.8l2.6,2.6m0,-2.6l-2.6,2.6M481.7,298.1l2.6,2.6m0,-2.6l-2.6,2.6M581.9,284.2l2.6,2.6m0,-2.6l-2.6,2.6M158.3,369.3l2.6,2.6m0,-2.6l-2.6,2.6M635.5,353.5l2.6,2.6m0,-2.6l-2.6,2.6M536.9,358.6l2.6,2.6m0,-2.6l-2.6,2.6M316.8,311.9l2.6,2.6m0,-2.6l-2.6,2.6M670.6,346.6l2.6,2.6m0,-2.6l-2.6,2.6M71.8,307.5l2.6,2.6m0,-2.6l-2.6,2.6M126.7,330.1l2.6,2.6m0,-2.6l-2.6,2.6M574.3,291.5l2.6,2.6m0,-2.6l-2.6,2.6M623.1,332.7l2.6,2.6m0,-2.6l-2.6,2.6M142.6,364.6l2.6,2.6m0,-2.6l-2.6,2.6M505.3,345.4l2.6,2.6m0,-2.6l-2.6,2.6M451.7,292.1l2.6,2.6m0,-2.6l-2.6,2.6M418.0,351.3l2.6,2.6m0,-2.6l-2.6,2.6M284.9,363.1l2.6,2.6m0,-2.6l-2.6,2.6M142.4,364.4l2.6,2.6m0,-2.6l-2.6,2.6M413.0,363.3l2.6,2.6m0,-2.6l-2.6,2.6M569.6,298.8l2.6,2.6m0,-2.6l-2.6,2.6M238.6,310.4l2.6,2.6m0,-2.6l-2.6,2.6M580.4,289.1l2.6,2.6m0,-2.6l-2.6,2.6M83.4,298.4l2.6,2.6m0,-2.6l-2.6,2.6M473.0,283.2l2.6,2.6m0,-2.6l-2.6,2.6M298.1,341.6l2.6,2.6m0,-2.6l-2.6,2.6M147.3,368.4l2.6,2.6m0,-2.6l-2.6,2.6M382.5,348.4l2.6,2.6m0,-2.6l-2.6,2.6M459.3,281.6l2.6,2.6m0,-2.6l-2.6,2.6M657.7,364.1l2.6,2.6m0,-2.6l-2.6,2.6M446.3,293.6l2.6,2.6m0,-2.6l-2.6,2.6M362.6,310.1l2.6,2.6m0,-2.6l-2.6,2.6M315.5,311.6l2.6,2.6m0,-2.6l-2.6,2.6M387.5,353.0l2.6,2.6m0,-2.6l-2.6,2.6M260.3,351.5l2.6,2.6m0,-2.6l-2.6,2.6M515.0,357.1l2.6,2.6m0,-2.6l-2.6,2.6M430.4,332.7l2.6,2.6m0,-2.6l-2.6,2.6M373.5,327.5l2.6,2.6m0,-2.6l-2.6,2.6M389.4,355.3l2.6,2.6m0,-2.6l-2.6,2.6M207.9,294.1l2.6,2.6m0,-2.6l-2.6,2.6M473.9,289.4l2.6,2.6m0,-2.6l-2.6,2.6M195.3,302.6l2.6,2.6m0,-2.6l-2.6,2.6M119.6,322.1l2.6,2.6m0,-2.6l-2.6,2.6M653.6,370.2l2.6,2.6m0,-2.6l-2.6,2.6M263.3,356.4l2.6,2.6m0,-2.6l-2.6,2.6M309.1,327.6l2.6,2.6m0,-2.6l-2.6,2.6M77.4,298.0l2.6,2.6m0,-2.6l-2.6,2.6M642.7,368.0l2.6,2.6m0,-2.6l-2.6,2.6M241.9,321.2l2.6,2.6m0,-2.6l-2.6,2.6M584.4,283.2l2.6,2.6m0,-2.6l-2.6,2.6M609.0,304.9l2.6,2.6m0,-2.6l-2.6,2.6M178.2,341.2l2.6,2.6m0,-2.6l-2.6,2.6M516.1,353.5l2.6,2.6m0,-2.6l-2.6,2.6M506.8,344.1l2.6,2.6m0,-2.6l-2.6,2.6M337.8,284.8l2.6,2.6m0,-2.6l-2.6,2.6M504.2,339.5l2.6,2.6m0,-2.6l-2.6,2.6M472.9,287.8l2.6,2.6m0,-2.6l-2.6,2.6M611.3,308.3l2.6,2.6m0,-2.6l-2.6,2.6M637.3,360.3l2.6,2.6m0,-2.6l-2.6,2.6M114.9,313.3l2.6,2.6m0,-2.6l-2.6,2.6M391.5,361.4l2.6,2.6m0,-2.6l-2.6,2.6M215.1,285.3l2.6,2.6m0,-2.6l-2.6,2.6M532.8,363.7l2.6,2.6m0,-2.6l-2.6,2.6M172.6,344.6l2.6,2.6m0,-2.6l-2.6,2.6M298.4,345.6l2.6,2.6m0,-2.6l-2.6,2.6M405.0,365.2l2.6,2.6m0,-2.6l-2.6,2.6M545.3,344.3l2.6,2.6m0,-2.6l-2.6,2.6M487.8,305.6l2.6,2.6m0,-2.6l-2.6,2.6M545.5,345.6l2.6,2.6m0,-2.6l-2.6,2.6M335.0,284.2l2.6,2.6m0,-2.6l-2.6,2.6M206.8,287.0l2.6,2.6m0,-2.6l-2.6,2.6M369.4,320.7l2.6,2.6m0,-2.6l-2.6,2.6M416.2,356.3l2.6,2.6m0,-2.6l-2.6,2.6M70.0,307.1l2.6,2.6m0,-2.6l-2.6,2.6M222.7,287.6l2.6,2.6m0,-2.6l-2.6,2.6M413.8,355.3l2.6,2.6m0,-2.6l-2.6,2.6M150.7,367.2l2.6,2.6m0,-2.6l-2.6,2.6M447.1,295.9l2.6,2.6m0,-2.6l-2.6,2.6M113.2,310.1l2.6,2.6m0,-2.6l-2.6,2.6M155.8,366.0l2.6,2.6m0,-2.6l-2.6,2.6M97.9,288.3l2.6,2.6m0,-2.6l-2.6,2.6M666.4,359.9l2.6,2.6m0,-2.6l-2.6,2.6M677.1,342.1l2.6,2.6m0,-2.6l-2.6,2.6M86.9,292.2l2.6,2.6m0,-2.6l-2.6,2.6M306.3,334.2l2.6,2.6m0,-2.6l-2.6,2.6M80.2,297.8l2.6,2.6m0,-2.6l-2.6,2.6M204.7,294.8l2.6,2.6m0,-2.6l-2.6,2.6M346.8,287.2l2.6,2.6m0,-2.6l-2.6,2.6M672.2,346.3l2.6,2.6m0,-2.6l-2.6,2.6M465.8,283.9l2.6,2.6m0,-2.6l-2.6,2.6M597.6,285.6l2.6,2.6m0,-2.6l-2.6,2.6M303.2,335.8l2.6,2.6m0,-2.6l-2.6,2.6M194.4,309.3l2.6,2.6m0,-2.6l-2.6,2.6M162.4,366.1l2.6,2.6m0,-2.6l-2.6,2.6M253.6,328.7l2.6,2.6m0,-2.6l-2.6,2.6M600.0,288.3l2.6,2.6m0,-2.6l-2.6,2.6M491.8,315.8l2.6,2.6m0,-2.6l-2.6,2.6M304.3,336.1l2.6,2.6m0,-2.6l-2.6,2.6M286.2,362.6l2.6,2.6m0,-2.6l-2.6,2.6M538.0,357.9l2.6,2.6m0,-2.6l-2.6,2.6M263.3,349.8l2.6,2.6m0,-2.6l-2.6,2.6M261.7,355.1l2.6,2.6m0,-2.6l-2.6,2.6M306.2,333.4l2.6,2.6m0,-2.6l-2.6,2.6M432.9,328.0l2.6,2.6m0,-2.6l-2.6,2.6M401.1,367.4l2.6,2.6m0,-2.6l-2.6,2.6M511.8,354.3l2.6,2.6m0,-2.6l-2.6,2.6M232.5,299.8l2.6,2.6m0,-2.6l-2.6,2.6M601.8,290.3l2.6,2.6m0,-2.6l-2.6,2.6M193.9,309.9l2.6,2.6m0,-2.6l-2.6,2.6M408.5,362.5l2.6,2.6m0,-2.6l-2.6,2.6M477.6,292.8l2.6,2.6m0,-2.6l-2.6,2.6M474.8,292.4l2.6,2.6m0,-2.6l-2.6,2.6M455.4,289.4l2.6,2.6m0,-2.6l-2.6,2.6M97.4,288.3l2.6,2.6m0,-2.6l-2.6,2.6M235.3,300.8l2.6,2.6m0,-2.6l-2.6,2.6M162.0,363.6l2.6,2.6m0,-2.6l-2.6,2.6M273.1,363.4l2.6,2.6m0,-2.6l-2.6,2.6M496.2,322.7l2.6,2.6m0,-2.6l-2.6,2.6M100.1,291.6l2.6,2.6m0,-2.6l-2.6,2.6M424.7,342.1l2.6,2.6m0,-2.6l-2.6,2.6M75.2,304.5l2.6,2.6m0,-2.6l-2.6,2.6M223.4,285.4l2.6,2.6m0,-2.6l-2.6,2.6M442.2,305.8l2.6,2.6m0,-2.6l-2.6,2.6M646.6,370.7l2.6,2.6m0,-2.6l-2.6,2.6M315.3,309.5l2.6,2.6m0,-2.6l-2.6,2.6M609.5,307.2l2.6,2.6m0,-2.6l-2.6,2.6M143.2,362.3l2.6,2.6m0,-2.6l-2.6,2.6M670.3,353.1l2.6,2.6m0,-2.6l-2.6,2.6M486.4,302.3l2.6,2.6m0,-2.6l-2.6,2.6M302.7,333.6l2.6,2.6m0,-2.6l-2.6,2.6M398.7,366.2l2.6,2.6m0,-2.6l-2.6,2.6M662.8,358.0l2.6,2.6m0,-2.6l-2.6,2.6M253.9,343.6l2.6,2.6m0,-2.6l-2.6,2.6M663.0,360.3l2.6,2.6m0,-2.6l-2.6,2.6M364.8,314.7l2.6,2.6m0,-2.6l-2.6,2.6M527.4,366.0l2.6,2.6m0,-2.6l-2.6,2.6M261.2,354.4l2.6,2.6m0,-2.6l-2.6,2.6M100.5,290.4l2.6,2.6m0,-2.6l-2.6,2.6M129.6,341.7l2.6,2.6m0,-2.6l-2.6,2.6M160.9,364.2l2.6,2.6m0,-2.6l-2.6,2.6M218.1,284.6l2.6,2.6m0,-2.6l-2.6,2.6M506.3,343.6l2.6,2.6m0,-2.6l-2.6,2.6M269.4,358.5l2.6,2.6m0,-2.6l-2.6,2.6M413.1,356.6l2.6,2.6m0,-2.6l-2.6,2.6M579.7,285.4l2.6,2.6m0,-2.6l-2.6,2.6M477.6,292.0l2.6,2.6m0,-2.6l-2.6,2.6M425.9,342.1l2.6,2.6m0,-2.6l-2.6,2.6M487.7,309.5l2.6,2.6m0,-2.6l-2.6,2.6M645.2,364.2l2.6,2.6m0,-2.6l-2.6,2.6M132.2,347.4l2.6,2.6m0,-2.6l-2.6,2.6M680.1,334.3l2.6,2.6m0,-2.6l-2.6,2.6M397.1,365.5l2.6,2.6m0,-2.6l-2.6,2.6M559.1,321.3l2.6,2.6m0,-2.6l-2.6,2.6M446.9,302.8l2.6,2.6m0,-2.6l-2.6,2.6M493.2,317.7l2.6,2.6m0,-2.6l-2.6,2.6M169.5,357.3l2.6,2.6m0,-2.6l-2.6,2.6M364.1,308.9l2.6,2.6m0,-2.6l-2.6,2.6M411.8,361.0l2.6,2.6m0,-2.6l-2.6,2.6M200.3,295.8l2.6,2.6m0,-2.6l-2.6,2.6M92.0,289.8l2.6,2.6m0,-2.6l-2.6,2.6M102.1,298.8l2.6,2.6m0,-2.6l-2.6,2.6M183.5,327.6l2.6,2.6m0,-2.6l-2.6,2.6M565.6,312.0l2.6,2.6m0,-2.6l-2.6,2.6M469.0,284.5l2.6,2.6m0,-2.6l-2.6,2.6M596.6,293.5l2.6,2.6m0,-2.6l-2.6,2.6M513.3,355.6l2.6,2.6m0,-2.6l-2.6,2.6M131.3,347.2l2.6,2.6m0,-2.6l-2.6,2.6M253.9,338.7l2.6,2.6m0,-2.6l-2.6,2.6M658.3,359.1l2.6,2.6m0,-2.6l-2.6,2.6M552.7,330.5l2.6,2.6m0,-2.6l-2.6,2.6M571.6,291.0l2.6,2.6m0,-2.6l-2.6,2.6M654.8,366.5l2.6,2.6m0,-2.6l-2.6,2.6M628.1,345.5l2.6,2.6m0,-2.6l-2.6,2.6M303.6,338.5l2.6,2.6m0,-2.6l-2.6,2.6M285.7,361.2l2.6,2.6m0,-2.6l-2.6,2.6M625.6,336.8l2.6,2.6m0,-2.6l-2.6,2.6M525.4,364.8l2.6,2.6m0,-2.6l-2.6,2.6M485.0,301.5l2.6,2.6m0,-2.6l-2.6,2.6M278.0,365.8l2.6,2.6m0,-2.6l-2.6,2.6M313.0,320.2l2.6,2.6m0,-2.6l-2.6,2.6M185.8,324.8l2.6,2.6m0,-2.6l-2.6,2.6M126.5,336.4l2.6,2.6m0,-2.6l-2.6,2.6M197.6,302.5l2.6,2.6m0,-2.6l-2.6,2.6M226.1,291.9l2.6,2.6m0,-2.6l-2.6,2.6M177.6,346.6l2.6,2.6m0,-2.6l-2.6,2.6M457.5,284.4l2.6,2.6m0,-2.6l-2.6,2.6M442.1,305.5l2.6,2.6m0,-2.6l-2.6,2.6M374.2,330.1l2.6,2.6m0,-2.6l-2.6,2.6M491.0,309.8l2.6,2.6m0,-2.6l-2.6,2.6M301.7,345.2l2.6,2.6m0,-2.6l-2.6,2.6M381.6,346.4l2.6,2.6m0,-2.6l-2.6,2.6M427.7,328.3l2.6,2.6m0,-2.6l-2.6,2.6M351.8,292.9l2.6,2.6m0,-2.6l-2.6,2.6M519.5,364.2l2.6,2.6m0,-2.6l-2.6,2.6M137.9,357.4l2.6,2.6m0,-2.6l-2.6,2.6M581.1,281.1l2.6,2.6m0,-2.6l-2.6,2.6M557.3,317.7l2.6,2.6m0,-2.6l-2.6,2.6M601.8,293.2l2.6,2.6m0,-2.6l-2.6,2.6M342.0,279.6l2.6,2.6m0,-2.6l-2.6,2.6M233.2,299.1l2.6,2.6m0,-2.6l-2.6,2.6M551.2,335.8l2.6,2.6m0,-2.6l-2.6,2.6M591.5,284.3l2.6,2.6m0,-2.6l-2.6,2.6M558.5,326.0l2.6,2.6m0,-2.6l-2.6,2.6M84.6,291.0l2.6,2.6m0,-2.6l-2.6,2.6M133.8,346.2l2.6,2.6m0,-2.6l-2.6,2.6M444.4,302.4l2.6,2.6m0,-2.6l-2.6,2.6M185.6,318.2l2.6,2.6m0,-2.6l-2.6,2.6M181.3,329.1l2.6,2.6m0,-2.6l-2.6,2.6M450.6,291.1l2.6,2.6m0,-2.6l-2.6,2.6M171.2,351.3l2.6,2.6m0,-2.6l-2.6,2.6M141.7,355.4l2.6,2.6m0,-2.6l-2.6,2.6M285.1,364.3l2.6,2.6m0,-2.6l-2.6,2.6M518.7,362.0l2.6,2.6m0,-2.6l-2.6,2.6M147.5,369.3l2.6,2.6m0,-2.6l-2.6,2.6M310.6,315.5l2.6,2.6m0,-2.6l-2.6,2.6M275.7,365.4l2.6,2.6m0,-2.6l-2.6,2.6M236.2,307.6l2.6,2.6m0,-2.6l-2.6,2.6M483.6,301.0l2.6,2.6m0,-2.6l-2.6,2.6M523.1,363.7l2.6,2.6m0,-2.6l-2.6,2.6M317.0,302.0l2.6,2.6m0,-2.6l-2.6,2.6M241.5,316.3l2.6,2.6m0,-2.6l-2.6,2.6M317.2,309.4l2.6,2.6m0,-2.6l-2.6,2.6M323.3,299.2l2.6,2.6m0,-2.6l-2.6,2.6M431.2,332.0l2.6,2.6m0,-2.6l-2.6,2.6M112.2,311.8l2.6,2.6m0,-2.6l-2.6,2.6M480.7,292.8l2.6,2.6m0,-2.6l-2.6,2.6M71.8,300.7l2.6,2.6m0,-2.6l-2.6,2.6M348.5,287.6l2.6,2.6m0,-2.6l-2.6,2.6M667.5,355.7l2.6,2.6m0,-2.6l-2.6,2.6M575.3,289.5l2.6,2.6m0,-2.6l-2.6,2.6M98.4,285.6l2.6,2.6m0,-2.6l-2.6,2.6M195.6,308.4l2.6,2.6m0,-2.6l-2.6,2.6M148.2,368.1l2.6,2.6m0,-2.6l-2.6,2.6M161.2,363.4l2.6,2.6m0,-2.6l-2.6,2.6M217.0,282.9l2.6,2.6m0,-2.6l-2.6,2.6M137.0,344.7l2.6,2.6m0,-2.6l-2.6,2.6M651.2,369.5l2.6,2.6m0,-2.6l-2.6,2.6M396.3,362.5l2.6,2.6m0,-2.6l-2.6,2.6M249.0,327.7l2.6,2.6m0,-2.6l-2.6,2.6M138.5,359.7l2.6,2.6m0,-2.6l-2.6,2.6M544.6,348.2l2.6,2.6m0,-2.6l-2.6,2.6M193.2,307.6l2.6,2.6m0,-2.6l-2.6,2.6M591.5,282.2l2.6,2.6m0,-2.6l-2.6,2.6M663.8,357.1l2.6,2.6m0,-2.6l-2.6,2.6M598.9,290.0l2.6,2.6m0,-2.6l-2.6,2.6M154.7,368.4l2.6,2.6m0,-2.6l-2.6,2.6M157.5,365.0l2.6,2.6m0,-2.6l-2.6,2.6M244.9,324.6l2.6,2.6m0,-2.6l-2.6,2.6M88.8,286.6l2.6,2.6m0,-2.6l-2.6,2.6M127.8,339.3l2.6,2.6m0,-2.6l-2.6,2.6M470.0,284.8l2.6,2.6m0,-2.6l-2.6,2.6M371.0,325.0l2.6,2.6m0,-2.6l-2.6,2.6M520.0,364.3l2.6,2.6m0,-2.6l-2.6,2.6M355.4,298.3l2.6,2.6m0,-2.6l-2.6,2.6M91.7,289.8l2.6,2.6m0,-2.6l-2.6,2.6M401.4,366.9l2.6,2.6m0,-2.6l-2.6,2.6M290.2,358.3l2.6,2.6m0,-2.6l-2.6,2.6M529.3,365.0l2.6,2.6m0,-2.6l-2.6,2.6M660.8,353.4l2.6,2.6m0,-2.6l-2.6,2.6M286.6,360.3l2.6,2.6m0,-2.6l-2.6,2.6M439.1,309.8l2.6,2.6m0,-2.6l-2.6,2.6M381.1,344.9l2.6,2.6m0,-2.6l-2.6,2.6M219.4,284.6l2.6,2.6m0,-2.6l-2.6,2.6M597.6,284.9l2.6,2.6m0,-2.6l-2.6,2.6M112.0,309.9l2.6,2.6m0,-2.6l-2.6,2.6M254.6,346.4l2.6,2.6m0,-2.6l-2.6,2.6M93.8,289.0l2.6,2.6m0,-2.6l-2.6,2.6M406.7,366.0l2.6,2.6m0,-2.6l-2.6,2.6M419.7,346.7l2.6,2.6m0,-2.6l-2.6,2.6M483.5,304.7l2.6,2.6m0,-2.6l-2.6,2.6M548.6,341.0l2.6,2.6m0,-2.6l-2.6,2.6M339.2,282.3l2.6,2.6m0,-2.6l-2.6,2.6M518.7,362.1l2.6,2.6m0,-2.6l-2.6,2.6M475.3,287.5l2.6,2.6m0,-2.6l-2.6,2.6M252.1,338.6l2.6,2.6m0,-2.6l-2.6,2.6M192.0,313.2l2.6,2.6m0,-2.6l-2.6,2.6M134.5,350.4l2.6,2.6m0,-2.6l-2.6,2.6M478.0,295.9l2.6,2.6m0,-2.6l-2.6,2.6M303.7,341.0l2.6,2.6m0,-2.6l-2.6,2.6M163.4,366.3l2.6,2.6m0,-2.6l-2.6,2.6M159.6,367.4l2.6,2.6m0,-2.6l-2.6,2.6M302.7,339.0l2.6,2.6m0,-2.6l-2.6,2.6M425.5,342.3l2.6,2.6m0,-2.6l-2.6,2.6M494.8,322.1l2.6,2.6m0,-2.6l-2.6,2.6M421.4,356.4l2.6,2.6m0,-2.6l-2.6,2.6M292.8,353.8l2.6,2.6m0,-2.6l-2.6,2.6M410.4,365.1l2.6,2.6m0,-2.6l-2.6,2.6M363.3,306.6l2.6,2.6m0,-2.6l-2.6,2.6M253.1,331.0l2.6,2.6m0,-2.6l-2.6,2.6M413.6,359.8l2.6,2.6m0,-2.6l-2.6,2.6M653.8,369.7l2.6,2.6m0,-2.6l-2.6,2.6M549.9,340.1l2.6,2.6m0,-2.6l-2.6,2.6M440.5,312.6l2.6,2.6m0,-2.6l-2.6,2.6M620.7,326.9l2.6,2.6m0,-2.6l-2.6,2.6M652.8,367.1l2.6,2.6m0,-2.6l-2.6,2.6M513.5,359.6l2.6,2.6m0,-2.6l-2.6,2.6M394.5,363.3l2.6,2.6m0,-2.6l-2.6,2.6M140.9,360.9l2.6,2.6m0,-2.6l-2.6,2.6M233.1,299.2l2.6,2.6m0,-2.6l-2.6,2.6M594.8,285.2l2.6,2.6m0,-2.6l-2.6,2.6M515.8,359.3l2.6,2.6m0,-2.6l-2.6,2.6M547.4,347.0l2.6,2.6m0,-2.6l-2.6,2.6M285.9,364.9l2.6,2.6m0,-2.6l-2.6,2.6M292.4,360.7l2.6,2.6m0,-2.6l-2.6,2.6M413.3,359.8l2.6,2.6m0,-2.6l-2.6,2.6M127.4,341.4l2.6,2.6m0,-2.6l-2.6,2.6M622.0,332.0l2.6,2.6m0,-2.6l-2.6,2.6M677.7,337.1l2.6,2.6m0,-2.6l-2.6,2.6M477.8,288.0l2.6,2.6m0,-2.6l-2.6,2.6M675.4,345.3l2.6,2.6m0,-2.6l-2.6,2.6M383.7,347.8l2.6,2.6m0,-2.6l-2.6,2.6M387.1,355.4l2.6,2.6m0,-2.6l-2.6,2.6M499.1,332.2l2.6,2.6m0,-2.6l-2.6,2.6M365.5,307.9l2.6,2.6m0,-2.6l-2.6,2.6M141.8,361.6l2.6,2.6m0,-2.6l-2.6,2.6M649.7,370.5l2.6,2.6m0,-2.6l-2.6,2.6M597.8,284.2l2.6,2.6m0,-2.6l-2.6,2.6M426.5,335.7l2.6,2.6m0,-2.6l-2.6,2.6M638.3,363.8l2.6,2.6m0,-2.6l-2.6,2.6M81.6,295.6l2.6,2.6m0,-2.6l-2.6,2.6M71.6,302.0l2.6,2.6m0,-2.6l-2.6,2.6M382.5,346.1l2.6,2.6m0,-2.6l-2.6,2.6M60.5,328.4l2.6,2.6m0,-2.6l-2.6,2.6M580.9,285.1l2.6,2.6m0,-2.6l-2.6,2.6M66.9,312.5l2.6,2.6m0,-2.6l-2.6,2.6M390.1,353.7l2.6,2.6m0,-2.6l-2.6,2.6M204.7,292.2l2.6,2.6m0,-2.6l-2.6,2.6M217.7,281.7l2.6,2.6m0,-2.6l-2.6,2.6M206.7,288.0l2.6,2.6m0,-2.6l-2.6,2.6M217.5,286.0l2.6,2.6m0,-2.6l-2.6,2.6M249.8,324.0l2.6,2.6m0,-2.6l-2.6,2.6M553.0,332.5l2.6,2.6m0,-2.6l-2.6,2.6M213.4,286.6l2.6,2.6m0,-2.6l-2.6,2.6M293.6,355.8l2.6,2.6m0,-2.6l-2.6,2.6M303.2,344.1l2.6,2.6m0,-2.6l-2.6,2.6M268.7,363.2l2.6,2.6m0,-2.6l-2.6,2.6M428.0,331.9l2.6,2.6m0,-2.6l-2.6,2.6M67.5,311.7l2.6,2.6m0,-2.6l-2.6,2.6M631.7,349.7l2.6,2.6m0,-2.6l-2.6,2.6M658.9,366.8l2.6,2.6m0,-2.6l-2.6,2.6M143.5,364.8l2.6,2.6m0,-2.6l-2.6,2.6M140.5,360.8l2.6,2.6m0,-2.6l-2.6,2.6M653.0,367.3l2.6,2.6m0,-2.6l-2.6,2.6M229.3,294.3l2.6,2.6m0,-2.6l-2.6,2.6M276.6,367.4l2.6,2.6m0,-2.6l-2.6,2.6M135.3,349.0l2.6,2.6m0,-2.6l-2.6,2.6M534.9,356.2l2.6,2.6m0,-2.6l-2.6,2.6M198.9,302.9l2.6,2.6m0,-2.6l-2.6,2.6M636.8,357.8l2.6,2.6m0,-2.6l-2.6,2.6M417.3,357.9l2.6,2.6m0,-2.6l-2.6,2.6M344.4,281.9l2.6,2.6m0,-2.6l-2.6,2.6M178.3,342.9l2.6,2.6m0,-2.6l-2.6,2.6M92.6,286.8l2.6,2.6m0,-2.6l-2.6,2.6M194.2,318.7l2.6,2.6m0,-2.6l-2.6,2.6M369.5,322.2l2.6,2.6m0,-2.6l-2.6,2.6M68.8,311.9l2.6,2.6m0,-2.6l-2.6,2.6M447.2,298.4l2.6,2.6m0,-2.6l-2.6,2.6M259.9,342.2l2.6,2.6m0,-2.6l-2.6,2.6M319.1,302.1l2.6,2.6m0,-2.6l-2.6,2.6M634.3,348.4l2.6,2.6m0,-2.6l-2.6,2.6M612.2,307.5l2.6,2.6m0,-2.6l-2.6,2.6M241.8,310.9l2.6,2.6m0,-2.6l-2.6,2.6M427.3,346.6l2.6,2.6m0,-2.6l-2.6,2.6M118.0,319.1l2.6,2.6m0,-2.6l-2.6,2.6M368.9,322.9l2.6,2.6m0,-2.6l-2.6,2.6M59.9,323.8l2.6,2.6m0,-2.6l-2.6,2.6M454.2,287.4l2.6,2.6m0,-2.6l-2.6,2.6M356.7,298.7l2.6,2.6m0,-2.6l-2.6,2.6M337.3,287.2l2.6,2.6m0,-2.6l-2.6,2.6M576.1,289.7l2.6,2.6m0,-2.6l-2.6,2.6M375.0,327.6l2.6,2.6m0,-2.6l-2.6,2.6M365.4,309.9l2.6,2.6m0,-2.6l-2.6,2.6M374.4,327.8l2.6,2.6m0,-2.6l-2.6,2.6M576.1,287.9l2.6,2.6m0,-2.6l-2.6,2.6M484.8,307.6l2.6,2.6m0,-2.6l-2.6,2.6M562.8,320.6l2.6,2.6m0,-2.6l-2.6,2.6M211.3,286.7l2.6,2.6m0,-2.6l-2.6,2.6M271.2,365.5l2.6,2.6m0,-2.6l-2.6,2.6M641.6,364.6l2.6,2.6m0,-2.6l-2.6,2.6M126.8,339.5l2.6,2.6m0,-2.6l-2.6,2.6M172.4,346.3l2.6,2.6m0,-2.6l-2.6,2.6M450.4,297.8l2.6,2.6m0,-2.6l-2.6,2.6M598.6,291.9l2.6,2.6m0,-2.6l-2.6,2.6M414.0,360.9l2.6,2.6m0,-2.6l-2.6,2.6M299.6,344.8l2.6,2.6m0,-2.6l-2.6,2.6M558.9,326.7l2.6,2.6m0,-2.6l-2.6,2.6M493.0,316.8l2.6,2.6m0,-2.6l-2.6,2.6M173.9,344.0l2.6,2.6m0,-2.6l-2.6,2.6M263.9,361.5l2.6,2.6m0,-2.6l-2.6,2.6M651.3,365.0l2.6,2.6m0,-2.6l-2.6,2.6M269.3,359.3l2.6,2.6m0,-2.6l-2.6,2.6M79.4,295.5l2.6,2.6m0,-2.6l-2.6,2.6M525.7,364.7l2.6,2.6m0,-2.6l-2.6,2.6M210.3,287.0l2.6,2.6m0,-2.6l-2.6,2.6M280.4,361.2l2.6,2.6m0,-2.6l-2.6,2.6M318.7,306.0l2.6,2.6m0,-2.6l-2.6,2.6M659.9,367.4l2.6,2.6m0,-2.6l-2.6,2.6M534.9,358.1l2.6,2.6m0,-2.6l-2.6,2.6M625.5,333.7l2.6,2.6m0,-2.6l-2.6,2.6M391.6,357.7l2.6,2.6m0,-2.6l-2.6,2.6M152.4,366.7l2.6,2.6m0,-2.6l-2.6,2.6M516.0,354.5l2.6,2.6m0,-2.6l-2.6,2.6M500.9,331.4l2.6,2.6m0,-2.6l-2.6,2.6M354.8,298.7l2.6,2.6m0,-2.6l-2.6,2.6M105.9,294.0l2.6,2.6m0,-2.6l-2.6,2.6M139.8,354.1l2.6,2.6m0,-2.6l-2.6,2.6M308.8,319.9l2.6,2.6m0,-2.6l-2.6,2.6M87.0,289.2l2.6,2.6m0,-2.6l-2.6,2.6M355.1,294.5l2.6,2.6m0,-2.6l-2.6,2.6M354.5,293.4l2.6,2.6m0,-2.6l-2.6,2.6M362.4,306.1l2.6,2.6m0,-2.6l-2.6,2.6M135.0,347.8l2.6,2.6m0,-2.6l-2.6,2.6M378.0,334.4l2.6,2.6m0,-2.6l-2.6,2.6M217.2,286.4l2.6,2.6m0,-2.6l-2.6,2.6M288.3,359.8l2.6,2.6m0,-2.6l-2.6,2.6M449.8,293.4l2.6,2.6m0,-2.6l-2.6,2.6M344.1,279.6l2.6,2.6m0,-2.6l-2.6,2.6M291.2,358.1l2.6,2.6m0,-2.6l-2.6,2.6M307.4,322.2l2.6,2.6m0,-2.6l-2.6,2.6M510.9,356.2l2.6,2.6m0,-2.6l-2.6,2.6M330.0,287.0l2.6,2.6m0,-2.6l-2.6,2.6M395.8,365.6l2.6,2.6m0,-2.6l-2.6,2.6M70.7,307.5l2.6,2.6m0,-2.6l-2.6,2.6M444.2,306.2l2.6,2.6m0,-2.6l-2.6,2.6M181.5,334.8l2.6,2.6m0,-2.6l-2.6,2.6M571.1,296.8l2.6,2.6m0,-2.6l-2.6,2.6M501.4,341.2l2.6,2.6m0,-2.6l-2.6,2.6M214.1,284.3l2.6,2.6m0,-2.6l-2.6,2.6M678.4,341.8l2.6,2.6m0,-2.6l-2.6,2.6M512.8,357.2l2.6,2.6m0,-2.6l-2.6,2.6M389.3,355.9l2.6,2.6m0,-2.6l-2.6,2.6M616.4,320.5l2.6,2.6m0,-2.6l-2.6,2.6M323.4,302.4l2.6,2.6m0,-2.6l-2.6,2.6M390.1,360.7l2.6,2.6m0,-2.6l-2.6,2.6M278.7,366.1l2.6,2.6m0,-2.6l-2.6,2.6M488.6,313.9l2.6,2.6m0,-2.6l-2.6,2.6M228.2,296.3l2.6,2.6m0,-2.6l-2.6,2.6M154.5,369.9l2.6,2.6m0,-2.6l-2.6,2.6M215.5,281.9l2.6,2.6m0,-2.6l-2.6,2.6M555.3,329.0l2.6,2.6m0,-2.6l-2.6,2.6M490.7,325.0l2.6,2.6m0,-2.6l-2.6,2.6M188.5,314.2l2.6,2.6m0,-2.6l-2.6,2.6M610.1,302.6l2.6,2.6m0,-2.6l-2.6,2.6M333.1,285.5l2.6,2.6m0,-2.6l-2.6,2.6M677.3,340.0l2.6,2.6m0,-2.6l-2.6,2.6M152.4,369.9l2.6,2.6m0,-2.6l-2.6,2.6M325.2,292.4l2.6,2.6m0,-2.6l-2.6,2.6M168.1,359.4l2.6,2.6m0,-2.6l-2.6,2.6M610.0,308.2l2.6,2.6m0,-2.6l-2.6,2.6M201.4,295.7l2.6,2.6m0,-2.6l-2.6,2.6M96.2,291.6l2.6,2.6m0,-2.6l-2.6,2.6M118.8,319.3l2.6,2.6m0,-2.6l-2.6,2.6M433.7,323.5l2.6,2.6m0,-2.6l-2.6,2.6M70.9,305.4l2.6,2.6m0,-2.6l-2.6,2.6M474.6,288.4l2.6,2.6m0,-2.6l-2.6,2.6M239.0,308.2l2.6,2.6m0,-2.6l-2.6,2.6M213.6,287.7l2.6,2.6m0,-2.6l-2.6,2.6M227.9,292.9l2.6,2.6m0,-2.6l-2.6,2.6M381.1,337.9l2.6,2.6m0,-2.6l-2.6,2.6M447.5,293.8l2.6,2.6m0,-2.6l-2.6,2.6M315.3,306.6l2.6,2.6m0,-2.6l-2.6,2.6M390.5,357.4l2.6,2.6m0,-2.6l-2.6,2.6M199.3,296.1l2.6,2.6m0,-2.6l-2.6,2.6M556.0,324.3l2.6,2.6m0,-2.6l-2.6,2.6M599.9,293.7l2.6,2.6m0,-2.6l-2.6,2.6M525.0,362.8l2.6,2.6m0,-2.6l-2.6,2.6M609.3,308.7l2.6,2.6m0,-2.6l-2.6,2.6M109.9,296.7l2.6,2.6m0,-2.6l-2.6,2.6M384.0,341.9l2.6,2.6m0,-2.6l-2.6,2.6M679.3,346.4l2.6,2.6m0,-2.6l-2.6,2.6M455.1,285.6l2.6,2.6m0,-2.6l-2.6,2.6M329.3,285.8l2.6,2.6m0,-2.6l-2.6,2.6M169.2,358.5l2.6,2.6m0,-2.6l-2.6,2.6M192.9,306.6l2.6,2.6m0,-2.6l-2.6,2.6M421.4,350.1l2.6,2.6m0,-2.6l-2.6,2.6M472.1,283.7l2.6,2.6m0,-2.6l-2.6,2.6M266.9,361.6l2.6,2.6m0,-2.6l-2.6,2.6M458.2,285.0l2.6,2.6m0,-2.6l-2.6,2.6M536.1,359.9l2.6,2.6m0,-2.6l-2.6,2.6M147.7,366.0l2.6,2.6m0,-2.6l-2.6,2.6M354.5,293.9l2.6,2.6m0,-2.6l-2.6,2.6M575.1,291.5l2.6,2.6m0,-2.6l-2.6,2.6M642.3,364.6l2.6,2.6m0,-2.6l-2.6,2.6M573.7,292.9l2.6,2.6m0,-2.6l-2.6,2.6M368.6,316.9l2.6,2.6m0,-2.6l-2.6,2.6M633.7,353.8l2.6,2.6m0,-2.6l-2.6,2.6M208.6,290.0l2.6,2.6m0,-2.6l-2.6,2.6M670.5,346.0l2.6,2.6m0,-2.6l-2.6,2.6M509.4,345.6l2.6,2.6m0,-2.6l-2.6,2.6M299.4,346.3l2.6,2.6m0,-2.6l-2.6,2.6M673.1,344.9l2.6,2.6m0,-2.6l-2.6,2.6M430.3,334.0l2.6,2.6m0,-2.6l-2.6,2.6M370.2,326.2l2.6,2.6m0,-2.6l-2.6,2.6M180.4,342.4l2.6,2.6m0,-2.6l-2.6,2.6M76.5,296.9l2.6,2.6m0,-2.6l-2.6,2.6M446.6,299.7l2.6,2.6m0,-2.6l-2.6,2.6M91.7,285.7l2.6,2.6m0,-2.6l-2.6,2.6M81.1,296.3l2.6,2.6m0,-2.6l-2.6,2.6M113.9,310.9l2.6,2.6m0,-2.6l-2.6,2.6M632.1,351.9l2.6,2.6m0,-2.6l-2.6,2.6M179.0,342.3l2.6,2.6m0,-2.6l-2.6,2.6M165.8,364.6l2.6,2.6m0,-2.6l-2.6,2.6M151.6,366.0l2.6,2.6m0,-2.6l-2.6,2.6M356.1,296.9l2.6,2.6m0,-2.6l-2.6,2.6M269.0,365.3l2.6,2.6m0,-2.6l-2.6,2.6M303.1,331.4l2.6,2.6m0,-2.6l-2.6,2.6M297.1,345.8l2.6,2.6m0,-2.6l-2.6,2.6M627.2,342.7l2.6,2.6m0,-2.6l-2.6,2.6M525.5,365.4l2.6,2.6m0,-2.6l-2.6,2.6M177.0,344.7l2.6,2.6m0,-2.6l-2.6,2.6M128.9,342.9l2.6,2.6m0,-2.6l-2.6,2.6M282.7,359.9l2.6,2.6m0,-2.6l-2.6,2.6M415.7,356.6l2.6,2.6m0,-2.6l-2.6,2.6M468.8,284.3l2.6,2.6m0,-2.6l-2.6,2.6M413.8,364.0l2.6,2.6m0,-2.6l-2.6,2.6M453.6,290.2l2.6,2.6m0,-2.6l-2.6,2.6M179.6,337.2l2.6,2.6m0,-2.6l-2.6,2.6M225.0,285.3l2.6,2.6m0,-2.6l-2.6,2.6M592.0,283.5l2.6,2.6m0,-2.6l-2.6,2.6M59.5,325.4l2.6,2.6m0,-2.6l-2.6,2.6M230.8,298.2l2.6,2.6m0,-2.6l-2.6,2.6M508.6,345.7l2.6,2.6m0,-2.6l-2.6,2.6M593.9,286.5l2.6,2.6m0,-2.6l-2.6,2.6M310.0,327.7l2.6,2.6m0,-2.6l-2.6,2.6M490.0,309.1l2.6,2.6m0,-2.6l-2.6,2.6M184.9,323.5l2.6,2.6m0,-2.6l-2.6,2.6M513.8,359.5l2.6,2.6m0,-2.6l-2.6,2.6M97.1,284.7l2.6,2.6m0,-2.6l-2.6,2.6M571.3,293.4l2.6,2.6m0,-2.6l-2.6,2.6M291.3,356.2l2.6,2.6m0,-2.6l-2.6,2.6M202.8,295.6l2.6,2.6m0,-2.6l-2.6,2.6M392.9,361.3l2.6,2.6m0,-2.6l-2.6,2.6M276.0,367.2l2.6,2.6m0,-2.6l-2.6,2.6M611.0,306.5l2.6,2.6m0,-2.6l-2.6,2.6M482.2,299.4l2.6,2.6m0,-2.6l-2.6,2.6M454.7,287.3l2.6,2.6m0,-2.6l-2.6,2.6M222.3,285.8l2.6,2.6m0,-2.6l-2.6,2.6M97.3,291.0l2.6,2.6m0,-2.6l-2.6,2.6M677.0,335.7l2.6,2.6m0,-2.6l-2.6,2.6M373.5,332.7l2.6,2.6m0,-2.6l-2.6,2.6M362.7,302.6l2.6,2.6m0,-2.6l-2.6,2.6M684.5,330.0l2.6,2.6m0,-2.6l-2.6,2.6M483.6,299.3l2.6,2.6m0,-2.6l-2.6,2.6M433.6,320.6l2.6,2.6m0,-2.6l-2.6,2.6M290.4,359.7l2.6,2.6m0,-2.6l-2.6,2.6M143.7,358.6l2.6,2.6m0,-2.6l-2.6,2.6M99.5,289.0l2.6,2.6m0,-2.6l-2.6,2.6M438.7,318.5l2.6,2.6m0,-2.6l-2.6,2.6M149.2,366.0l2.6,2.6m0,-2.6l-2.6,2.6M469.0,282.8l2.6,2.6m0,-2.6l-2.6,2.6M186.4,319.3l2.6,2.6m0,-2.6l-2.6,2.6M247.8,323.7l2.6,2.6m0,-2.6l-2.6,2.6M107.0,298.7l2.6,2.6m0,-2.6l-2.6,2.6M261.7,347.4l2.6,2.6m0,-2.6l-2.6,2.6M85.7,289.3l2.6,2.6m0,-2.6l-2.6,2.6M653.0,370.8l2.6,2.6m0,-2.6l-2.6,2.6M257.3,347.5l2.6,2.6m0,-2.6l-2.6,2.6M268.5,358.7l2.6,2.6m0,-2.6l-2.6,2.6M349.6,283.7l2.6,2.6m0,-2.6l-2.6,2.6M574.7,292.0l2.6,2.6m0,-2.6l-2.6,2.6M291.9,358.3l2.6,2.6m0,-2.6l-2.6,2.6M137.4,356.6l2.6,2.6m0,-2.6l-2.6,2.6M543.6,353.9l2.6,2.6m0,-2.6l-2.6,2.6M312.0,313.3l2.6,2.6m0,-2.6l-2.6,2.6M286.9,362.9l2.6,2.6m0,-2.6l-2.6,2.6M587.0,284.1l2.6,2.6m0,-2.6l-2.6,2.6M300.3,340.0l2.6,2.6m0,-2.6l-2.6,2.6M123.0,326.2l2.6,2.6m0,-2.6l-2.6,2.6M297.0,350.9l2.6,2.6m0,-2.6l-2.6,2.6M616.7,321.5l2.6,2.6m0,-2.6l-2.6,2.6M198.9,301.6l2.6,2.6m0,-2.6l-2.6,2.6M183.7,329.3l2.6,2.6m0,-2.6l-2.6,2.6M512.5,354.0l2.6,2.6m0,-2.6l-2.6,2.6M263.6,354.3l2.6,2.6m0,-2.6l-2.6,2.6M554.1,330.6l2.6,2.6m0,-2.6l-2.6,2.6M433.7,324.7l2.6,2.6m0,-2.6l-2.6,2.6M279.7,367.7l2.6,2.6m0,-2.6l-2.6,2.6M601.4,290.9l2.6,2.6m0,-2.6l-2.6,2.6M114.9,310.7l2.6,2.6m0,-2.6l-2.6,2.6M320.0,315.2l2.6,2.6m0,-2.6l-2.6,2.6M619.2,329.5l2.6,2.6m0,-2.6l-2.6,2.6M352.2,293.7l2.6,2.6m0,-2.6l-2.6,2.6M391.4,356.4l2.6,2.6m0,-2.6l-2.6,2.6M488.5,308.5l2.6,2.6m0,-2.6l-2.6,2.6M117.0,314.5l2.6,2.6m0,-2.6l-2.6,2.6M660.3,365.3l2.6,2.6m0,-2.6l-2.6,2.6M414.7,361.0l2.6,2.6m0,-2.6l-2.6,2.6M587.6,282.8l2.6,2.6m0,-2.6l-2.6,2.6M116.6,315.6l2.6,2.6m0,-2.6l-2.6,2.6M538.3,354.0l2.6,2.6m0,-2.6l-2.6,2.6M386.2,350.3l2.6,2.6m0,-2.6l-2.6,2.6M481.9,297.0l2.6,2.6m0,-2.6l-2.6,2.6M392.1,360.3l2.6,2.6m0,-2.6l-2.6,2.6M582.0,284.7l2.6,2.6m0,-2.6l-2.6,2.6M672.4,352.9l2.6,2.6m0,-2.6l-2.6,2.6M645.8,367.6l2.6,2.6m0,-2.6l-2.6,2.6M201.3,297.0l2.6,2.6m0,-2.6l-2.6,2.6M139.6,355.1l2.6,2.6m0,-2.6l-2.6,2.6M507.4,350.0l2.6,2.6m0,-2.6l-2.6,2.6M352.8,287.8l2.6,2.6m0,-2.6l-2.6,2.6M505.7,338.8l2.6,2.6m0,-2.6l-2.6,2.6M88.7,290.7l2.6,2.6m0,-2.6l-2.6,2.6M649.6,369.8l2.6,2.6m0,-2.6l-2.6,2.6M290.9,360.2l2.6,2.6m0,-2.6l-2.6,2.6M584.0,286.0l2.6,2.6m0,-2.6l-2.6,2.6M68.6,312.9l2.6,2.6m0,-2.6l-2.6,2.6M554.0,335.7l2.6,2.6m0,-2.6l-2.6,2.6M539.1,357.8l2.6,2.6m0,-2.6l-2.6,2.6M281.3,367.8l2.6,2.6m0,-2.6l-2.6,2.6M562.3,306.1l2.6,2.6m0,-2.6l-2.6,2.6M646.6,364.8l2.6,2.6m0,-2.6l-2.6,2.6M561.5,314.7l2.6,2.6m0,-2.6l-2.6,2.6M584.7,286.0l2.6,2.6m0,-2.6l-2.6,2.6M601.4,293.6l2.6,2.6m0,-2.6l-2.6,2.6M243.9,314.5l2.6,2.6m0,-2.6l-2.6,2.6M571.5,296.5l2.6,2.6m0,-2.6l-2.6,2.6M272.3,366.9l2.6,2.6m0,-2.6l-2.6,2.6M315.0,309.9l2.6,2.6m0,-2.6l-2.6,2.6M239.4,312.0l2.6,2.6m0,-2.6l-2.6,2.6M367.1,312.3l2.6,2.6m0,-2.6l-2.6,2.6M244.0,320.7l2.6,2.6m0,-2.6l-2.6,2.6M606.6,302.8l2.6,2.6m0,-2.6l-2.6,2.6M74.4,303.5l2.6,2.6m0,-2.6l-2.6,2.6M367.4,313.4l2.6,2.6m0,-2.6l-2.6,2.6M556.5,328.4l2.6,2.6m0,-2.6l-2.6,2.6M478.1,292.8l2.6,2.6m0,-2.6l-2.6,2.6M387.7,353.8l2.6,2.6m0,-2.6l-2.6,2.6M526.2,364.1l2.6,2.6m0,-2.6l-2.6,2.6M86.9,286.5l2.6,2.6m0,-2.6l-2.6,2.6M163.5,368.7l2.6,2.6m0,-2.6l-2.6,2.6M363.5,313.0l2.6,2.6m0,-2.6l-2.6,2.6M62.9,325.3l2.6,2.6m0,-2.6l-2.6,2.6M547.3,344.6l2.6,2.6m0,-2.6l-2.6,2.6M518.2,360.8l2.6,2.6m0,-2.6l-2.6,2.6M79.4,294.2l2.6,2.6m0,-2.6l-2.6,2.6M613.9,311.3l2.6,2.6m0,-2.6l-2.6,2.6M231.0,295.4l2.6,2.6m0,-2.6l-2.6,2.6M313.4,313.3l2.6,2.6m0,-2.6l-2.6,2.6M649.6,369.4l2.6,2.6m0,-2.6l-2.6,2.6M199.3,294.2l2.6,2.6m0,-2.6l-2.6,2.6M439.5,315.5l2.6,2.6m0,-2.6l-2.6,2.6M71.6,307.3l2.6,2.6m0,-2.6l-2.6,2.6M584.8,286.5l2.6,2.6m0,-2.6l-2.6,2.6M550.7,339.3l2.6,2.6m0,-2.6l-2.6,2.6M663.2,361.8l2.6,2.6m0,-2.6l-2.6,2.6M524.6,362.8l2.6,2.6m0,-2.6l-2.6,2.6M386.2,354.2l2.6,2.6m0,-2.6l-2.6,2.6M150.9,370.0l2.6,2.6m0,-2.6l-2.6,2.6M662.4,366.6l2.6,2.6m0,-2.6l-2.6,2.6M589.0,281.1l2.6,2.6m0,-2.6l-2.6,2.6M516.8,359.2l2.6,2.6m0,-2.6l-2.6,2.6M93.6,289.4l2.6,2.6m0,-2.6l-2.6,2.6M677.3,335.4l2.6,2.6m0,-2.6l-2.6,2.6M492.3,314.9l2.6,2.6m0,-2.6l-2.6,2.6M622.4,329.8l2.6,2.6m0,-2.6l-2.6,2.6M186.2,321.0l2.6,2.6m0,-2.6l-2.6,2.6M127.5,330.3l2.6,2.6m0,-2.6l-2.6,2.6M202.4,298.0l2.6,2.6m0,-2.6l-2.6,2.6M629.6,347.0l2.6,2.6m0,-2.6l-2.6,2.6M437.3,311.2l2.6,2.6m0,-2.6l-2.6,2.6M272.1,365.8l2.6,2.6m0,-2.6l-2.6,2.6M483.5,304.4l2.6,2.6m0,-2.6l-2.6,2.6M563.5,313.8l2.6,2.6m0,-2.6l-2.6,2.6M346.5,287.4l2.6,2.6m0,-2.6l-2.6,2.6M599.8,284.3l2.6,2.6m0,-2.6l-2.6,2.6M676.9,339.5l2.6,2.6m0,-2.6l-2.6,2.6M679.9,332.3l2.6,2.6m0,-2.6l-2.6,2.6M62.7,315.5l2.6,2.6m0,-2.6l-2.6,2.6M305.5,337.1l2.6,2.6m0,-2.6l-2.6,2.6M251.5,329.8l2.6,2.6m0,-2.6l-2.6,2.6M320.9,299.5l2.6,2.6m0,-2.6l-2.6,2.6M181.2,339.9l2.6,2.6m0,-2.6l-2.6,2.6M247.0,325.9l2.6,2.6m0,-2.6l-2.6,2.6M385.9,355.3l2.6,2.6m0,-2.6l-2.6,2.6M278.5,365.9l2.6,2.6m0,-2.6l-2.6,2.6M499.0,323.7l2.6,2.6m0,-2.6l-2.6,2.6M93.3,286.4l2.6,2.6m0,-2.6l-2.6,2.6M678.8,333.2l2.6,2.6m0,-2.6l-2.6,2.6M452.3,296.4l2.6,2.6m0,-2.6l-2.6,2.6M379.7,341.7l2.6,2.6m0,-2.6l-2.6,2.6M102.5,293.5l2.6,2.6m0,-2.6l-2.6,2.6M247.0,328.1l2.6,2.6m0,-2.6l-2.6,2.6M628.0,340.0l2.6,2.6m0,-2.6l-2.6,2.6M219.1,282.3l2.6,2.6m0,-2.6l-2.6,2.6M106.9,298.9l2.6,2.6m0,-2.6l-2.6,2.6M510.4,346.4l2.6,2.6m0,-2.6l-2.6,2.6M97.6,289.7l2.6,2.6m0,-2.6l-2.6,2.6M337.5,281.0l2.6,2.6m0,-2.6l-2.6,2.6M386.7,357.6l2.6,2.6m0,-2.6l-2.6,2.6M508.4,350.2l2.6,2.6m0,-2.6l-2.6,2.6M421.9,347.5l2.6,2.6m0,-2.6l-2.6,2.6M237.4,309.0l2.6,2.6m0,-2.6l-2.6,2.6M288.3,361.1l2.6,2.6m0,-2.6l-2.6,2.6M528.7,367.2l2.6,2.6m0,-2.6l-2.6,2.6M161.7,368.5l2.6,2.6m0,-2.6l-2.6,2.6M657.7,367.1l2.6,2.6m0,-2.6l-2.6,2.6M151.2,369.8l2.6,2.6m0,-2.6l-2.6,2.6M288.6,361.9l2.6,2.6m0,-2.6l-2.6,2.6M392.1,360.5l2.6,2.6m0,-2.6l-2.6,2.6M606.5,300.5l2.6,2.6m0,-2.6l-2.6,2.6M486.2,310.7l2.6,2.6m0,-2.6l-2.6,2.6M155.6,372.2l2.6,2.6m0,-2.6l-2.6,2.6M397.8,366.3l2.6,2.6m0,-2.6l-2.6,2.6M101.2,292.0l2.6,2.6m0,-2.6l-2.6,2.6M280.8,367.5l2.6,2.6m0,-2.6l-2.6,2.6M328.2,286.8l2.6,2.6m0,-2.6l-2.6,2.6M393.7,363.3l2.6,2.6m0,-2.6l-2.6,2.6M221.8,287.8l2.6,2.6m0,-2.6l-2.6,2.6M554.5,332.9l2.6,2.6m0,-2.6l-2.6,2.6M505.1,346.9l2.6,2.6m0,-2.6l-2.6,2.6M183.5,329.5l2.6,2.6m0,-2.6l-2.6,2.6M113.2,310.2l2.6,2.6m0,-2.6l-2.6,2.6M133.0,352.4l2.6,2.6m0,-2.6l-2.6,2.6M302.5,340.0l2.6,2.6m0,-2.6l-2.6,2.6M648.1,368.8l2.6,2.6m0,-2.6l-2.6,2.6M108.9,305.3l2.6,2.6m0,-2.6l-2.6,2.6M129.7,341.4l2.6,2.6m0,-2.6l-2.6,2.6M427.8,329.2l2.6,2.6m0,-2.6l-2.6,2.6M145.5,363.1l2.6,2.6m0,-2.6l-2.6,2.6M74.6,300.7l2.6,2.6m0,-2.6l-2.6,2.6M362.6,312.7l2.6,2.6m0,-2.6l-2.6,2.6M564.4,313.5l2.6,2.6m0,-2.6l-2.6,2.6M537.7,354.0l2.6,2.6m0,-2.6l-2.6,2.6M325.1,293.8l2.6,2.6m0,-2.6l-2.6,2.6M610.2,308.4l2.6,2.6m0,-2.6l-2.6,2.6M94.8,288.6l2.6,2.6m0,-2.6l-2.6,2.6M149.7,366.7l2.6,2.6m0,-2.6l-2.6,2.6M110.5,298.2l2.6,2.6m0,-2.6l-2.6,2.6M593.1,281.6l2.6,2.6m0,-2.6l-2.6,2.6M551.6,333.0l2.6,2.6m0,-2.6l-2.6,2.6M346.0,285.3l2.6,2.6m0,-2.6l-2.6,2.6M327.0,298.1l2.6,2.6m0,-2.6l-2.6,2.6M600.7,289.8l2.6,2.6m0,-2.6l-2.6,2.6M582.7,281.5l2.6,2.6m0,-2.6l-2.6,2.6M90.6,289.7l2.6,2.6m0,-2.6l-2.6,2.6M648.2,367.8l2.6,2.6m0,-2.6l-2.6,2.6M410.5,360.6l2.6,2.6m0,-2.6l-2.6,2.6M187.0,323.9l2.6,2.6m0,-2.6l-2.6,2.6M604.0,294.8l2.6,2.6m0,-2.6l-2.6,2.6M210.5,282.5l2.6,2.6m0,-2.6l-2.6,2.6M233.1,298.7l2.6,2.6m0,-2.6l-2.6,2.6M218.4,287.7l2.6,2.6m0,-2.6l-2.6,2.6M274.4,367.9l2.6,2.6m0,-2.6l-2.6,2.6M462.4,283.8l2.6,2.6m0,-2.6l-2.6,2.6M123.2,322.9l2.6,2.6m0,-2.6l-2.6,2.6M232.5,296.1l2.6,2.6m0,-2.6l-2.6,2.6M577.7,284.5l2.6,2.6m0,-2.6l-2.6,2.6M447.4,293.3l2.6,2.6m0,-2.6l-2.6,2.6M413.1,359.5l2.6,2.6m0,-2.6l-2.6,2.6M511.0,347.1l2.6,2.6m0,-2.6l-2.6,2.6M328.4,288.7l2.6,2.6m0,-2.6l-2.6,2.6M436.7,314.9l2.6,2.6m0,-2.6l-2.6,2.6M405.8,363.7l2.6,2.6m0,-2.6l-2.6,2.6M612.7,313.6l2.6,2.6m0,-2.6l-2.6,2.6M384.3,349.8l2.6,2.6m0,-2.6l-2.6,2.6M112.0,309.2l2.6,2.6m0,-2.6l-2.6,2.6M178.7,339.6l2.6,2.6m0,-2.6l-2.6,2.6M459.4,282.9l2.6,2.6m0,-2.6l-2.6,2.6M439.4,305.6l2.6,2.6m0,-2.6l-2.6,2.6M189.5,310.7l2.6,2.6m0,-2.6l-2.6,2.6M444.4,300.0l2.6,2.6m0,-2.6l-2.6,2.6M291.6,355.4l2.6,2.6m0,-2.6l-2.6,2.6M176.6,345.2l2.6,2.6m0,-2.6l-2.6,2.6M680.9,328.6l2.6,2.6m0,-2.6l-2.6,2.6M69.2,310.2l2.6,2.6m0,-2.6l-2.6,2.6M548.3,339.8l2.6,2.6m0,-2.6l-2.6,2.6M454.4,284.1l2.6,2.6m0,-2.6l-2.6,2.6M114.9,309.9l2.6,2.6m0,-2.6l-2.6,2.6M666.5,356.5l2.6,2.6m0,-2.6l-2.6,2.6M283.6,367.1l2.6,2.6m0,-2.6l-2.6,2.6M498.6,340.4l2.6,2.6m0,-2.6l-2.6,2.6M119.0,309.2l2.6,2.6m0,-2.6l-2.6,2.6M625.8,341.8l2.6,2.6m0,-2.6l-2.6,2.6M158.0,364.2l2.6,2.6m0,-2.6l-2.6,2.6M128.1,342.9l2.6,2.6m0,-2.6l-2.6,2.6M552.5,331.1l2.6,2.6m0,-2.6l-2.6,2.6M430.2,328.8l2.6,2.6m0,-2.6l-2.6,2.6M86.5,288.3l2.6,2.6m0,-2.6l-2.6,2.6M156.9,367.5l2.6,2.6m0,-2.6l-2.6,2.6M433.6,322.1l2.6,2.6m0,-2.6l-2.6,2.6M556.8,324.9l2.6,2.6m0,-2.6l-2.6,2.6M400.5,371.1l2.6,2.6m0,-2.6l-2.6,2.6M331.9,289.8l2.6,2.6m0,-2.6l-2.6,2.6M222.6,291.9l2.6,2.6m0,-2.6l-2.6,2.6M418.0,351.4l2.6,2.6m0,-2.6l-2.6,2.6M657.2,368.2l2.6,2.6m0,-2.6l-2.6,2.6M69.1,314.8l2.6,2.6m0,-2.6l-2.6,2.6M73.9,296.6l2.6,2.6m0,-2.6l-2.6,2.6M71.8,307.1l2.6,2.6m0,-2.6l-2.6,2.6M258.3,342.5l2.6,2.6m0,-2.6l-2.6,2.6M595.5,283.4l2.6,2.6m0,-2.6l-2.6,2.6M208.1,286.5l2.6,2.6m0,-2.6l-2.6,2.6M637.5,359.0l2.6,2.6m0,-2.6l-2.6,2.6M561.8,316.1l2.6,2.6m0,-2.6l-2.6,2.6M207.2,286.9l2.6,2.6m0,-2.6l-2.6,2.6M198.6,296.9l2.6,2.6m0,-2.6l-2.6,2.6M683.4,327.1l2.6,2.6m0,-2.6l-2.6,2.6M379.7,337.0l2.6,2.6m0,-2.6l-2.6,2.6M124.3,333.0l2.6,2.6m0,-2.6l-2.6,2.6M184.3,334.8l2.6,2.6m0,-2.6l-2.6,2.6M145.9,365.0l2.6,2.6m0,-2.6l-2.6,2.6M336.5,280.7l2.6,2.6m0,-2.6l-2.6,2.6M553.2,339.1l2.6,2.6m0,-2.6l-2.6,2.6M139.0,355.5l2.6,2.6m0,-2.6l-2.6,2.6M235.8,306.0l2.6,2.6m0,-2.6l-2.6,2.6M650.6,366.0l2.6,2.6m0,-2.6l-2.6,2.6M310.4,328.4l2.6,2.6m0,-2.6l-2.6,2.6M490.9,309.0l2.6,2.6m0,-2.6l-2.6,2.6M303.4,336.9l2.6,2.6m0,-2.6l-2.6,2.6M381.2,341.7l2.6,2.6m0,-2.6l-2.6,2.6M313.4,321.2l2.6,2.6m0,-2.6l-2.6,2.6M487.9,302.2l2.6,2.6m0,-2.6l-2.6,2.6M124.6,328.6l2.6,2.6m0,-2.6l-2.6,2.6M652.1,366.1l2.6,2.6m0,-2.6l-2.6,2.6M453.4,290.8l2.6,2.6m0,-2.6l-2.6,2.6M71.9,306.0l2.6,2.6m0,-2.6l-2.6,2.6M64.2,314.7l2.6,2.6m0,-2.6l-2.6,2.6M538.8,359.2l2.6,2.6m0,-2.6l-2.6,2.6M540.7,357.8l2.6,2.6m0,-2.6l-2.6,2.6M436.2,317.2l2.6,2.6m0,-2.6l-2.6,2.6M176.0,342.5l2.6,2.6m0,-2.6l-2.6,2.6M455.7,283.1l2.6,2.6m0,-2.6l-2.6,2.6M584.8,279.4l2.6,2.6m0,-2.6l-2.6,2.6M574.0,290.6l2.6,2.6m0,-2.6l-2.6,2.6M215.2,287.6l2.6,2.6m0,-2.6l-2.6,2.6M441.1,304.8l2.6,2.6m0,-2.6l-2.6,2.6M211.1,287.3l2.6,2.6m0,-2.6l-2.6,2.6M259.9,345.8l2.6,2.6m0,-2.6l-2.6,2.6M451.4,288.0l2.6,2.6m0,-2.6l-2.6,2.6M512.2,356.8l2.6,2.6m0,-2.6l-2.6,2.6M469.2,281.0l2.6,2.6m0,-2.6l-2.6,2.6M406.8,362.7l2.6,2.6m0,-2.6l-2.6,2.6M657.5,370.9l2.6,2.6m0,-2.6l-2.6,2.6M557.1,329.3l2.6,2.6m0,-2.6l-2.6,2.6M104.0,293.3l2.6,2.6m0,-2.6l-2.6,2.6M574.9,292.5l2.6,2.6m0,-2.6l-2.6,2.6M114.8,318.8l2.6,2.6m0,-2.6l-2.6,2.6M240.5,310.2l2.6,2.6m0,-2.6l-2.6,2.6M93.2,290.3l2.6,2.6m0,-2.6l-2.6,2.6M321.0,299.5l2.6,2.6m0,-2.6l-2.6,2.6M604.6,294.4l2.6,2.6m0,-2.6l-2.6,2.6M433.5,326.3l2.6,2.6m0,-2.6l-2.6,2.6M650.2,368.6l2.6,2.6m0,-2.6l-2.6,2.6M450.5,294.0l2.6,2.6m0,-2.6l-2.6,2.6M351.7,290.6l2.6,2.6m0,-2.6l-2.6,2.6M152.4,370.0l2.6,2.6m0,-2.6l-2.6,2.6M384.4,354.7l2.6,2.6m0,-2.6l-2.6,2.6M438.5,314.5l2.6,2.6m0,-2.6l-2.6,2.6M276.6,369.8l2.6,2.6m0,-2.6l-2.6,2.6M485.9,309.0l2.6,2.6m0,-2.6l-2.6,2.6M299.1,342.9l2.6,2.6m0,-2.6l-2.6,2.6M161.8,368.6l2.6,2.6m0,-2.6l-2.6,2.6M276.0,367.8l2.6,2.6m0,-2.6l-2.6,2.6M611.0,305.7l2.6,2.6m0,-2.6l-2.6,2.6M640.2,360.2l2.6,2.6m0,-2.6l-2.6,2.6M286.6,362.1l2.6,2.6m0,-2.6l-2.6,2.6M528.8,364.0l2.6,2.6m0,-2.6l-2.6,2.6M586.9,284.3l2.6,2.6m0,-2.6l-2.6,2.6M202.2,293.1l2.6,2.6m0,-2.6l-2.6,2.6M338.1,285.5l2.6,2.6m0,-2.6l-2.6,2.6M274.3,370.4l2.6,2.6m0,-2.6l-2.6,2.6M645.8,367.8l2.6,2.6m0,-2.6l-2.6,2.6M368.3,321.1l2.6,2.6m0,-2.6l-2.6,2.6M89.9,288.1l2.6,2.6m0,-2.6l-2.6,2.6M240.3,308.5l2.6,2.6m0,-2.6l-2.6,2.6M535.1,363.3l2.6,2.6m0,-2.6l-2.6,2.6M107.1,302.3l2.6,2.6m0,-2.6l-2.6,2.6M548.2,339.9l2.6,2.6m0,-2.6l-2.6,2.6M73.7,299.0l2.6,2.6m0,-2.6l-2.6,2.6M124.1,333.6l2.6,2.6m0,-2.6l-2.6,2.6M112.8,296.3l2.6,2.6m0,-2.6l-2.6,2.6M397.8,362.1l2.6,2.6m0,-2.6l-2.6,2.6M163.9,359.7l2.6,2.6m0,-2.6l-2.6,2.6M87.3,291.8l2.6,2.6m0,-2.6l-2.6,2.6M358.9,301.1l2.6,2.6m0,-2.6l-2.6,2.6M241.1,309.3l2.6,2.6m0,-2.6l-2.6,2.6M83.4,293.2l2.6,2.6m0,-2.6l-2.6,2.6M647.0,366.9l2.6,2.6m0,-2.6l-2.6,2.6M329.6,286.3l2.6,2.6m0,-2.6l-2.6,2.6M274.1,366.3l2.6,2.6m0,-2.6l-2.6,2.6M327.7,295.2l2.6,2.6m0,-2.6l-2.6,2.6M501.0,345.5l2.6,2.6m0,-2.6l-2.6,2.6M440.8,311.4l2.6,2.6m0,-2.6l-2.6,2.6M301.3,336.4l2.6,2.6m0,-2.6l-2.6,2.6M349.4,289.4l2.6,2.6m0,-2.6l-2.6,2.6M597.2,285.7l2.6,2.6m0,-2.6l-2.6,2.6M469.9,284.0l2.6,2.6m0,-2.6l-2.6,2.6M378.9,337.2l2.6,2.6m0,-2.6l-2.6,2.6M558.1,328.8l2.6,2.6m0,-2.6l-2.6,2.6M580.1,288.9l2.6,2.6m0,-2.6l-2.6,2.6M171.6,356.0l2.6,2.6m0,-2.6l-2.6,2.6M226.0,289.7l2.6,2.6m0,-2.6l-2.6,2.6M462.5,283.0l2.6,2.6m0,-2.6l-2.6,2.6M325.8,302.0l2.6,2.6m0,-2.6l-2.6,2.6M350.1,286.7l2.6,2.6m0,-2.6l-2.6,2.6M102.4,292.0l2.6,2.6m0,-2.6l-2.6,2.6M133.4,342.4l2.6,2.6m0,-2.6l-2.6,2.6M449.2,299.7l2.6,2.6m0,-2.6l-2.6,2.6M518.9,361.1l2.6,2.6m0,-2.6l-2.6,2.6M592.2,283.8l2.6,2.6m0,-2.6l-2.6,2.6M581.9,285.7l2.6,2.6m0,-2.6l-2.6,2.6M529.7,365.1l2.6,2.6m0,-2.6l-2.6,2.6M657.5,368.1l2.6,2.6m0,-2.6l-2.6,2.6M536.3,360.7l2.6,2.6m0,-2.6l-2.6,2.6M664.5,360.0l2.6,2.6m0,-2.6l-2.6,2.6M519.2,361.5l2.6,2.6m0,-2.6l-2.6,2.6M373.0,330.3l2.6,2.6m0,-2.6l-2.6,2.6M455.2,285.7l2.6,2.6m0,-2.6l-2.6,2.6M226.6,295.7l2.6,2.6m0,-2.6l-2.6,2.6M75.3,296.4l2.6,2.6m0,-2.6l-2.6,2.6M405.1,364.0l2.6,2.6m0,-2.6l-2.6,2.6M476.3,287.6l2.6,2.6m0,-2.6l-2.6,2.6M283.5,363.1l2.6,2.6m0,-2.6l-2.6,2.6M90.6,289.5l2.6,2.6m0,-2.6l-2.6,2.6M551.1,339.7l2.6,2.6m0,-2.6l-2.6,2.6M244.1,318.0l2.6,2.6m0,-2.6l-2.6,2.6M75.0,298.8l2.6,2.6m0,-2.6l-2.6,2.6M101.4,292.5l2.6,2.6m0,-2.6l-2.6,2.6M196.8,301.0l2.6,2.6m0,-2.6l-2.6,2.6M424.6,342.1l2.6,2.6m0,-2.6l-2.6,2.6M221.1,288.4l2.6,2.6m0,-2.6l-2.6,2.6M515.6,364.5l2.6,2.6m0,-2.6l-2.6,2.6M674.8,340.0l2.6,2.6m0,-2.6l-2.6,2.6M451.0,293.5l2.6,2.6m0,-2.6l-2.6,2.6M468.6,283.1l2.6,2.6m0,-2.6l-2.6,2.6M391.1,357.9l2.6,2.6m0,-2.6l-2.6,2.6M128.1,338.1l2.6,2.6m0,-2.6l-2.6,2.6M672.2,348.2l2.6,2.6m0,-2.6l-2.6,2.6M662.1,357.6l2.6,2.6m0,-2.6l-2.6,2.6M72.8,302.7l2.6,2.6m0,-2.6l-2.6,2.6M110.8,302.7l2.6,2.6m0,-2.6l-2.6,2.6M647.4,370.5l2.6,2.6m0,-2.6l-2.6,2.6M545.4,348.4l2.6,2.6m0,-2.6l-2.6,2.6M413.4,357.8l2.6,2.6m0,-2.6l-2.6,2.6M329.7,290.3l2.6,2.6m0,-2.6l-2.6,2.6M536.7,362.2l2.6,2.6m0,-2.6l-2.6,2.6M194.7,307.6l2.6,2.6m0,-2.6l-2.6,2.6M277.2,365.1l2.6,2.6m0,-2.6l-2.6,2.6M436.2,320.3l2.6,2.6m0,-2.6l-2.6,2.6M278.7,367.0l2.6,2.6m0,-2.6l-2.6,2.6M345.5,282.0l2.6,2.6m0,-2.6l-2.6,2.6M145.0,361.6l2.6,2.6m0,-2.6l-2.6,2.6M426.1,343.3l2.6,2.6m0,-2.6l-2.6,2.6M585.4,282.3l2.6,2.6m0,-2.6l-2.6,2.6M453.7,294.6l2.6,2.6m0,-2.6l-2.6,2.6M316.5,313.7l2.6,2.6m0,-2.6l-2.6,2.6M177.6,347.4l2.6,2.6m0,-2.6l-2.6,2.6M150.5,366.9l2.6,2.6m0,-2.6l-2.6,2.6M72.9,298.0l2.6,2.6m0,-2.6l-2.6,2.6M595.1,284.4l2.6,2.6m0,-2.6l-2.6,2.6M442.5,301.4l2.6,2.6m0,-2.6l-2.6,2.6M208.3,289.3l2.6,2.6m0,-2.6l-2.6,2.6M109.8,310.6l2.6,2.6m0,-2.6l-2.6,2.6M662.9,361.5l2.6,2.6m0,-2.6l-2.6,2.6M285.2,363.8l2.6,2.6m0,-2.6l-2.6,2.6M70.3,307.6l2.6,2.6m0,-2.6l-2.6,2.6M635.6,360.6l2.6,2.6m0,-2.6l-2.6,2.6M276.9,366.1l2.6,2.6m0,-2.6l-2.6,2.6M522.7,363.0l2.6,2.6m0,-2.6l-2.6,2.6M128.6,340.7l2.6,2.6m0,-2.6l-2.6,2.6M562.5,306.2l2.6,2.6m0,-2.6l-2.6,2.6M489.4,315.9l2.6,2.6m0,-2.6l-2.6,2.6M428.9,329.1l2.6,2.6m0,-2.6l-2.6,2.6M648.6,368.2l2.6,2.6m0,-2.6l-2.6,2.6M254.4,332.4l2.6,2.6m0,-2.6l-2.6,2.6M305.8,333.1l2.6,2.6m0,-2.6l-2.6,2.6M492.1,312.4l2.6,2.6m0,-2.6l-2.6,2.6M440.5,307.4l2.6,2.6m0,-2.6l-2.6,2.6M674.8,336.7l2.6,2.6m0,-2.6l-2.6,2.6M477.0,290.7l2.6,2.6m0,-2.6l-2.6,2.6M193.1,313.9l2.6,2.6m0,-2.6l-2.6,2.6M202.5,294.1l2.6,2.6m0,-2.6l-2.6,2.6M426.6,338.2l2.6,2.6m0,-2.6l-2.6,2.6M660.8,361.3l2.6,2.6m0,-2.6l-2.6,2.6M245.1,313.6l2.6,2.6m0,-2.6l-2.6,2.6M667.6,350.1l2.6,2.6m0,-2.6l-2.6,2.6M656.9,364.9l2.6,2.6m0,-2.6l-2.6,2.6M165.8,360.8l2.6,2.6m0,-2.6l-2.6,2.6M150.5,367.2l2.6,2.6m0,-2.6l-2.6,2.6M137.6,348.8l2.6,2.6m0,-2.6l-2.6,2.6M396.6,361.3l2.6,2.6m0,-2.6l-2.6,2.6M542.1,352.0l2.6,2.6m0,-2.6l-2.6,2.6M649.2,370.3l2.6,2.6m0,-2.6l-2.6,2.6M655.3,369.8l2.6,2.6m0,-2.6l-2.6,2.6M552.0,336.8l2.6,2.6m0,-2.6l-2.6,2.6M183.4,330.1l2.6,2.6m0,-2.6l-2.6,2.6M114.2,311.2l2.6,2.6m0,-2.6l-2.6,2.6M162.7,363.0l2.6,2.6m0,-2.6l-2.6,2.6M457.1,283.0l2.6,2.6m0,-2.6l-2.6,2.6M285.1,364.1l2.6,2.6m0,-2.6l-2.6,2.6M632.0,347.4l2.6,2.6m0,-2.6l-2.6,2.6M112.6,307.8l2.6,2.6m0,-2.6l-2.6,2.6M280.6,370.1l2.6,2.6m0,-2.6l-2.6,2.6M226.7,289.8l2.6,2.6m0,-2.6l-2.6,2.6M508.4,347.7l2.6,2.6m0,-2.6l-2.6,2.6M391.3,360.0l2.6,2.6m0,-2.6l-2.6,2.6M396.2,363.1l2.6,2.6m0,-2.6l-2.6,2.6M280.5,366.9l2.6,2.6m0,-2.6l-2.6,2.6M193.0,315.0l2.6,2.6m0,-2.6l-2.6,2.6M331.0,287.0l2.6,2.6m0,-2.6l-2.6,2.6M220.1,282.7l2.6,2.6m0,-2.6l-2.6,2.6M344.2,283.3l2.6,2.6m0,-2.6l-2.6,2.6M182.5,331.8l2.6,2.6m0,-2.6l-2.6,2.6M226.7,289.3l2.6,2.6m0,-2.6l-2.6,2.6M614.9,314.5l2.6,2.6m0,-2.6l-2.6,2.6M374.1,337.4l2.6,2.6m0,-2.6l-2.6,2.6M69.9,311.3l2.6,2.6m0,-2.6l-2.6,2.6M63.5,321.9l2.6,2.6m0,-2.6l-2.6,2.6M191.4,315.7l2.6,2.6m0,-2.6l-2.6,2.6M129.7,338.4l2.6,2.6m0,-2.6l-2.6,2.6M678.2,329.4l2.6,2.6m0,-2.6l-2.6,2.6M669.7,353.6l2.6,2.6m0,-2.6l-2.6,2.6M88.7,286.9l2.6,2.6m0,-2.6l-2.6,2.6M682.1,328.8l2.6,2.6m0,-2.6l-2.6,2.6M442.3,308.2l2.6,2.6m0,-2.6l-2.6,2.6M557.8,320.6l2.6,2.6m0,-2.6l-2.6,2.6M539.4,353.3l2.6,2.6m0,-2.6l-2.6,2.6M630.7,353.6l2.6,2.6m0,-2.6l-2.6,2.6M168.1,360.6l2.6,2.6m0,-2.6l-2.6,2.6M309.0,331.8l2.6,2.6m0,-2.6l-2.6,2.6M359.1,300.6l2.6,2.6m0,-2.6l-2.6,2.6M243.5,317.1l2.6,2.6m0,-2.6l-2.6,2.6M139.4,353.3l2.6,2.6m0,-2.6l-2.6,2.6M313.4,317.7l2.6,2.6m0,-2.6l-2.6,2.6M107.3,302.6l2.6,2.6m0,-2.6l-2.6,2.6M567.9,303.2l2.6,2.6m0,-2.6l-2.6,2.6M660.9,364.0l2.6,2.6m0,-2.6l-2.6,2.6M414.3,358.7l2.6,2.6m0,-2.6l-2.6,2.6M548.1,343.2l2.6,2.6m0,-2.6l-2.6,2.6M500.5,333.1l2.6,2.6m0,-2.6l-2.6,2.6M545.7,344.3l2.6,2.6m0,-2.6l-2.6,2.6M568.5,307.6l2.6,2.6m0,-2.6l-2.6,2.6M347.7,288.8l2.6,2.6m0,-2.6l-2.6,2.6M181.1,335.9l2.6,2.6m0,-2.6l-2.6,2.6M530.3,368.3l2.6,2.6m0,-2.6l-2.6,2.6M666.2,352.6l2.6,2.6m0,-2.6l-2.6,2.6M313.8,314.9l2.6,2.6m0,-2.6l-2.6,2.6M292.7,356.8l2.6,2.6m0,-2.6l-2.6,2.6M268.6,364.4l2.6,2.6m0,-2.6l-2.6,2.6M158.1,370.6l2.6,2.6m0,-2.6l-2.6,2.6M368.3,316.0l2.6,2.6m0,-2.6l-2.6,2.6M96.5,289.2l2.6,2.6m0,-2.6l-2.6,2.6M266.9,357.2l2.6,2.6m0,-2.6l-2.6,2.6M117.8,315.4l2.6,2.6m0,-2.6l-2.6,2.6M516.9,356.3l2.6,2.6m0,-2.6l-2.6,2.6M256.5,342.7l2.6,2.6m0,-2.6l-2.6,2.6M81.2,289.2l2.6,2.6m0,-2.6l-2.6,2.6M188.2,317.9l2.6,2.6m0,-2.6l-2.6,2.6M102.8,293.8l2.6,2.6m0,-2.6l-2.6,2.6M425.3,339.2l2.6,2.6m0,-2.6l-2.6,2.6M296.5,353.4l2.6,2.6m0,-2.6l-2.6,2.6M453.5,289.1l2.6,2.6m0,-2.6l-2.6,2.6M201.4,292.1l2.6,2.6m0,-2.6l-2.6,2.6M628.7,346.1l2.6,2.6m0,-2.6l-2.6,2.6M289.1,360.9l2.6,2.6m0,-2.6l-2.6,2.6M175.7,348.5l2.6,2.6m0,-2.6l-2.6,2.6M512.5,353.1l2.6,2.6m0,-2.6l-2.6,2.6M295.9,358.7l2.6,2.6m0,-2.6l-2.6,2.6M493.1,320.7l2.6,2.6m0,-2.6l-2.6,2.6M231.1,293.9l2.6,2.6m0,-2.6l-2.6,2.6M108.5,311.6l2.6,2.6m0,-2.6l-2.6,2.6M547.5,343.8l2.6,2.6m0,-2.6l-2.6,2.6M378.0,335.8l2.6,2.6m0,-2.6l-2.6,2.6M132.2,344.5l2.6,2.6m0,-2.6l-2.6,2.6M195.7,307.4l2.6,2.6m0,-2.6l-2.6,2.6M674.4,343.2l2.6,2.6m0,-2.6l-2.6,2.6M608.7,303.8l2.6,2.6m0,-2.6l-2.6,2.6M660.5,366.1l2.6,2.6m0,-2.6l-2.6,2.6M516.2,364.4l2.6,2.6m0,-2.6l-2.6,2.6M532.9,361.5l2.6,2.6m0,-2.6l-2.6,2.6M414.0,355.2l2.6,2.6m0,-2.6l-2.6,2.6M504.9,338.4l2.6,2.6m0,-2.6l-2.6,2.6M199.2,298.7l2.6,2.6m0,-2.6l-2.6,2.6M645.0,367.1l2.6,2.6m0,-2.6l-2.6,2.6M259.4,347.5l2.6,2.6m0,-2.6l-2.6,2.6M557.3,328.8l2.6,2.6m0,-2.6l-2.6,2.6M238.9,306.7l2.6,2.6m0,-2.6l-2.6,2.6M675.8,331.9l2.6,2.6m0,-2.6l-2.6,2.6M569.2,298.2l2.6,2.6m0,-2.6l-2.6,2.6M581.7,284.1l2.6,2.6m0,-2.6l-2.6,2.6M570.8,302.0l2.6,2.6m0,-2.6l-2.6,2.6M160.3,362.9l2.6,2.6m0,-2.6l-2.6,2.6M159.5,365.0l2.6,2.6m0,-2.6l-2.6,2.6M649.6,372.7l2.6,2.6m0,-2.6l-2.6,2.6M630.2,347.5l2.6,2.6m0,-2.6l-2.6,2.6M588.7,283.4l2.6,2.6m0,-2.6l-2.6,2.6M610.6,313.1l2.6,2.6m0,-2.6l-2.6,2.6M259.0,347.8l2.6,2.6m0,-2.6l-2.6,2.6M584.3,280.9l2.6,2.6m0,-2.6l-2.6,2.6M569.6,305.7l2.6,2.6m0,-2.6l-2.6,2.6M297.8,344.8l2.6,2.6m0,-2.6l-2.6,2.6M525.2,362.2l2.6,2.6m0,-2.6l-2.6,2.6M103.1,291.9l2.6,2.6m0,-2.6l-2.6,2.6M404.5,364.7l2.6,2.6m0,-2.6l-2.6,2.6M575.3,290.1l2.6,2.6m0,-2.6l-2.6,2.6M228.2,294.3l2.6,2.6m0,-2.6l-2.6,2.6M660.7,361.9l2.6,2.6m0,-2.6l-2.6,2.6M372.2,329.2l2.6,2.6m0,-2.6l-2.6,2.6M486.3,305.4l2.6,2.6m0,-2.6l-2.6,2.6M324.0,291.4l2.6,2.6m0,-2.6l-2.6,2.6M294.5,358.9l2.6,2.6m0,-2.6l-2.6,2.6M339.6,286.2l2.6,2.6m0,-2.6l-2.6,2.6M374.7,329.9l2.6,2.6m0,-2.6l-2.6,2.6M309.6,323.5l2.6,2.6m0,-2.6l-2.6,2.6M392.9,360.9l2.6,2.6m0,-2.6l-2.6,2.6M382.6,342.7l2.6,2.6m0,-2.6l-2.6,2.6M482.5,298.0l2.6,2.6m0,-2.6l-2.6,2.6M214.3,283.2l2.6,2.6m0,-2.6l-2.6,2.6M659.7,362.5l2.6,2.6m0,-2.6l-2.6,2.6M128.5,340.2l2.6,2.6m0,-2.6l-2.6,2.6M427.5,343.2l2.6,2.6m0,-2.6l-2.6,2.6M667.5,357.9l2.6,2.6m0,-2.6l-2.6,2.6M416.6,351.8l2.6,2.6m0,-2.6l-2.6,2.6M336.6,282.7l2.6,2.6m0,-2.6l-2.6,2.6M226.4,291.9l2.6,2.6m0,-2.6l-2.6,2.6M393.5,366.5l2.6,2.6m0,-2.6l-2.6,2.6M440.7,307.7l2.6,2.6m0,-2.6l-2.6,2.6M334.0,285.4l2.6,2.6m0,-2.6l-2.6,2.6M558.5,318.4l2.6,2.6m0,-2.6l-2.6,2.6M625.2,340.2l2.6,2.6m0,-2.6l-2.6,2.6M484.5,295.9l2.6,2.6m0,-2.6l-2.6,2.6M492.7,314.9l2.6,2.6m0,-2.6l-2.6,2.6M616.0,315.5l2.6,2.6m0,-2.6l-2.6,2.6M477.2,290.9l2.6,2.6m0,-2.6l-2.6,2.6M465.4,283.1l2.6,2.6m0,-2.6l-2.6,2.6M232.9,296.9l2.6,2.6m0,-2.6l-2.6,2.6M461.5,282.5l2.6,2.6m0,-2.6l-2.6,2.6M469.0,283.3l2.6,2.6m0,-2.6l-2.6,2.6M611.2,308.8l2.6,2.6m0,-2.6l-2.6,2.6M139.2,357.0l2.6,2.6m0,-2.6l-2.6,2.6M438.6,310.3l2.6,2.6m0,-2.6l-2.6,2.6M441.9,302.7l2.6,2.6m0,-2.6l-2.6,2.6M576.8,287.8l2.6,2.6m0,-2.6l-2.6,2.6M110.6,299.9l2.6,2.6m0,-2.6l-2.6,2.6M660.9,365.2l2.6,2.6m0,-2.6l-2.6,2.6M667.1,358.4l2.6,2.6m0,-2.6l-2.6,2.6M286.1,363.0l2.6,2.6m0,-2.6l-2.6,2.6M334.8,283.1l2.6,2.6m0,-2.6l-2.6,2.6M124.4,331.0l2.6,2.6m0,-2.6l-2.6,2.6M261.6,355.0l2.6,2.6m0,-2.6l-2.6,2.6M82.1,298.5l2.6,2.6m0,-2.6l-2.6,2.6M84.4,292.3l2.6,2.6m0,-2.6l-2.6,2.6M299.4,347.5l2.6,2.6m0,-2.6l-2.6,2.6M173.0,348.2l2.6,2.6m0,-2.6l-2.6,2.6M522.0,362.3l2.6,2.6m0,-2.6l-2.6,2.6M134.2,345.3l2.6,2.6m0,-2.6l-2.6,2.6M189.6,316.6l2.6,2.6m0,-2.6l-2.6,2.6M441.2,312.4l2.6,2.6m0,-2.6l-2.6,2.6M394.7,364.5l2.6,2.6m0,-2.6l-2.6,2.6M130.3,337.8l2.6,2.6m0,-2.6l-2.6,2.6M649.6,365.3l2.6,2.6m0,-2.6l-2.6,2.6M298.9,338.9l2.6,2.6m0,-2.6l-2.6,2.6M594.0,285.5l2.6,2.6m0,-2.6l-2.6,2.6M384.1,348.2l2.6,2.6m0,-2.6l-2.6,2.6M615.4,326.4l2.6,2.6m0,-2.6l-2.6,2.6M373.2,331.6l2.6,2.6m0,-2.6l-2.6,2.6M533.3,361.8l2.6,2.6m0,-2.6l-2.6,2.6M205.7,290.4l2.6,2.6m0,-2.6l-2.6,2.6M537.2,360.1l2.6,2.6m0,-2.6l-2.6,2.6M382.7,348.2l2.6,2.6m0,-2.6l-2.6,2.6M429.5,329.5l2.6,2.6m0,-2.6l-2.6,2.6M254.2,339.8l2.6,2.6m0,-2.6l-2.6,2.6M518.7,362.6l2.6,2.6m0,-2.6l-2.6,2.6M163.0,366.5l2.6,2.6m0,-2.6l-2.6,2.6M556.6,331.6l2.6,2.6m0,-2.6l-2.6,2.6M489.5,310.9l2.6,2.6m0,-2.6l-2.6,2.6M648.7,370.6l2.6,2.6m0,-2.6l-2.6,2.6M215.8,285.5l2.6,2.6m0,-2.6l-2.6,2.6M496.7,331.1l2.6,2.6m0,-2.6l-2.6,2.6M401.1,363.8l2.6,2.6m0,-2.6l-2.6,2.6M629.4,347.7l2.6,2.6m0,-2.6l-2.6,2.6M610.0,306.1l2.6,2.6m0,-2.6l-2.6,2.6M246.3,324.0l2.6,2.6m0,-2.6l-2.6,2.6M383.3,349.3l2.6,2.6m0,-2.6l-2.6,2.6M625.2,335.6l2.6,2.6m0,-2.6l-2.6,2.6M612.2,312.2l2.6,2.6m0,-2.6l-2.6,2.6M646.5,368.2l2.6,2.6m0,-2.6l-2.6,2.6M343.7,283.6l2.6,2.6m0,-2.6l-2.6,2.6M109.4,299.1l2.6,2.6m0,-2.6l-2.6,2.6M117.6,317.8l2.6,2.6m0,-2.6l-2.6,2.6M402.4,367.5l2.6,2.6m0,-2.6l-2.6,2.6M638.3,354.5l2.6,2.6m0,-2.6l-2.6,2.6M488.4,312.1l2.6,2.6m0,-2.6l-2.6,2.6M374.3,333.9l2.6,2.6m0,-2.6l-2.6,2.6M586.1,282.0l2.6,2.6m0,-2.6l-2.6,2.6M608.0,296.3l2.6,2.6m0,-2.6l-2.6,2.6M316.4,311.6l2.6,2.6m0,-2.6l-2.6,2.6M389.1,358.4l2.6,2.6m0,-2.6l-2.6,2.6M470.2,282.6l2.6,2.6m0,-2.6l-2.6,2.6M509.2,350.5l2.6,2.6m0,-2.6l-2.6,2.6M529.8,358.7l2.6,2.6m0,-2.6l-2.6,2.6M126.3,337.1l2.6,2.6m0,-2.6l-2.6,2.6M189.6,316.3l2.6,2.6m0,-2.6l-2.6,2.6M391.4,357.7l2.6,2.6m0,-2.6l-2.6,2.6M70.8,312.4l2.6,2.6m0,-2.6l-2.6,2.6M617.8,313.3l2.6,2.6m0,-2.6l-2.6,2.6M224.1,288.0l2.6,2.6m0,-2.6l-2.6,2.6M131.2,341.2l2.6,2.6m0,-2.6l-2.6,2.6M293.4,352.6l2.6,2.6m0,-2.6l-2.6,2.6M465.9,282.9l2.6,2.6m0,-2.6l-2.6,2.6M578.2,287.7l2.6,2.6m0,-2.6l-2.6,2.6M338.9,285.6l2.6,2.6m0,-2.6l-2.6,2.6M445.9,307.2l2.6,2.6m0,-2.6l-2.6,2.6M485.7,303.8l2.6,2.6m0,-2.6l-2.6,2.6M356.8,291.7l2.6,2.6m0,-2.6l-2.6,2.6M436.6,320.7l2.6,2.6m0,-2.6l-2.6,2.6M401.7,364.2l2.6,2.6m0,-2.6l-2.6,2.6M548.7,339.3l2.6,2.6m0,-2.6l-2.6,2.6M85.0,292.5l2.6,2.6m0,-2.6l-2.6,2.6M300.9,350.8l2.6,2.6m0,-2.6l-2.6,2.6M117.4,318.8l2.6,2.6m0,-2.6l-2.6,2.6M441.6,310.5l2.6,2.6m0,-2.6l-2.6,2.6M484.9,300.0l2.6,2.6m0,-2.6l-2.6,2.6M538.6,355.9l2.6,2.6m0,-2.6l-2.6,2.6M316.3,310.4l2.6,2.6m0,-2.6l-2.6,2.6M627.8,343.5l2.6,2.6m0,-2.6l-2.6,2.6M276.6,363.9l2.6,2.6m0,-2.6l-2.6,2.6M684.6,326.7l2.6,2.6m0,-2.6l-2.6,2.6M502.8,335.8l2.6,2.6m0,-2.6l-2.6,2.6M475.7,290.9l2.6,2.6m0,-2.6l-2.6,2.6M494.2,321.7l2.6,2.6m0,-2.6l-2.6,2.6M134.1,346.5l2.6,2.6m0,-2.6l-2.6,2.6M350.9,284.4l2.6,2.6m0,-2.6l-2.6,2.6M277.7,366.4l2.6,2.6m0,-2.6l-2.6,2.6M235.7,306.0l2.6,2.6m0,-2.6l-2.6,2.6M680.2,331.7l2.6,2.6m0,-2.6l-2.6,2.6M632.5,345.6l2.6,2.6m0,-2.6l-2.6,2.6M68.1,309.9l2.6,2.6m0,-2.6l-2.6,2.6M451.4,296.2l2.6,2.6m0,-2.6l-2.6,2.6M403.5,366.8l2.6,2.6m0,-2.6l-2.6,2.6M283.4,364.3l2.6,2.6m0,-2.6l-2.6,2.6M171.7,356.4l2.6,2.6m0,-2.6l-2.6,2.6M267.7,355.5l2.6,2.6m0,-2.6l-2.6,2.6M654.1,365.7l2.6,2.6m0,-2.6l-2.6,2.6M648.0,368.0l2.6,2.6m0,-2.6l-2.6,2.6M81.6,291.5l2.6,2.6m0,-2.6l-2.6,2.6M171.4,357.0l2.6,2.6m0,-2.6l-2.6,2.6M235.6,302.0l2.6,2.6m0,-2.6l-2.6,2.6M644.3,363.4l2.6,2.6m0,-2.6l-2.6,2.6M259.2,350.0l2.6,2.6m0,-2.6l-2.6,2.6M394.2,362.7l2.6,2.6m0,-2.6l-2.6,2.6M347.9,287.5l2.6,2.6m0,-2.6l-2.6,2.6M678.8,334.2l2.6,2.6m0,-2.6l-2.6,2.6M537.7,357.8l2.6,2.6m0,-2.6l-2.6,2.6M266.8,359.3l2.6,2.6m0,-2.6l-2.6,2.6M392.4,360.7l2.6,2.6m0,-2.6l-2.6,2.6M335.3,284.9l2.6,2.6m0,-2.6l-2.6,2.6M411.2,365.8l2.6,2.6m0,-2.6l-2.6,2.6M170.8,348.9l2.6,2.6m0,-2.6l-2.6,2.6M134.0,343.3l2.6,2.6m0,-2.6l-2.6,2.6M415.3,356.6l2.6,2.6m0,-2.6l-2.6,2.6M111.8,309.0l2.6,2.6m0,-2.6l-2.6,2.6M104.0,294.6l2.6,2.6m0,-2.6l-2.6,2.6M203.2,291.7l2.6,2.6m0,-2.6l-2.6,2.6M171.8,358.1l2.6,2.6m0,-2.6l-2.6,2.6M657.0,364.6l2.6,2.6m0,-2.6l-2.6,2.6M492.6,313.3l2.6,2.6m0,-2.6l-2.6,2.6M572.9,301.2l2.6,2.6m0,-2.6l-2.6,2.6M88.8,290.2l2.6,2.6m0,-2.6l-2.6,2.6M202.4,295.3l2.6,2.6m0,-2.6l-2.6,2.6M375.9,328.4l2.6,2.6m0,-2.6l-2.6,2.6M138.6,356.7l2.6,2.6m0,-2.6l-2.6,2.6M587.9,284.0l2.6,2.6m0,-2.6l-2.6,2.6M173.6,353.6l2.6,2.6m0,-2.6l-2.6,2.6M638.6,362.8l2.6,2.6m0,-2.6l-2.6,2.6M371.1,329.8l2.6,2.6m0,-2.6l-2.6,2.6M618.8,315.0l2.6,2.6m0,-2.6l-2.6,2.6M486.2,303.0l2.6,2.6m0,-2.6l-2.6,2.6M588.8,284.3l2.6,2.6m0,-2.6l-2.6,2.6M143.7,361.8l2.6,2.6m0,-2.6l-2.6,2.6M576.3,290.5l2.6,2.6m0,-2.6l-2.6,2.6M410.2,361.0l2.6,2.6m0,-2.6l-2.6,2.6M478.7,290.9l2.6,2.6m0,-2.6l-2.6,2.6M156.1,371.6l2.6,2.6m0,-2.6l-2.6,2.6M170.4,359.7l2.6,2.6m0,-2.6l-2.6,2.6M372.9,325.3l2.6,2.6m0,-2.6l-2.6,2.6M447.3,299.5l2.6,2.6m0,-2.6l-2.6,2.6M520.8,362.8l2.6,2.6m0,-2.6l-2.6,2.6M230.9,294.0l2.6,2.6m0,-2.6l-2.6,2.6M153.8,367.2l2.6,2.6m0,-2.6l-2.6,2.6M169.0,358.4l2.6,2.6m0,-2.6l-2.6,2.6M394.7,364.4l2.6,2.6m0,-2.6l-2.6,2.6M195.5,306.1l2.6,2.6m0,-2.6l-2.6,2.6M422.9,355.7l2.6,2.6m0,-2.6l-2.6,2.6M140.2,358.9l2.6,2.6m0,-2.6l-2.6,2.6M580.7,285.6l2.6,2.6m0,-2.6l-2.6,2.6M577.0,289.4l2.6,2.6m0,-2.6l-2.6,2.6M567.1,312.0l2.6,2.6m0,-2.6l-2.6,2.6M194.5,317.6l2.6,2.6m0,-2.6l-2.6,2.6M188.1,317.7l2.6,2.6m0,-2.6l-2.6,2.6M409.5,367.0l2.6,2.6m0,-2.6l-2.6,2.6M341.5,280.6l2.6,2.6m0,-2.6l-2.6,2.6M346.1,284.1l2.6,2.6m0,-2.6l-2.6,2.6M160.3,366.6l2.6,2.6m0,-2.6l-2.6,2.6M680.3,327.1l2.6,2.6m0,-2.6l-2.6,2.6M229.6,289.9l2.6,2.6m0,-2.6l-2.6,2.6M412.5,359.3l2.6,2.6m0,-2.6l-2.6,2.6M170.6,352.1l2.6,2.6m0,-2.6l-2.6,2.6M225.4,287.1l2.6,2.6m0,-2.6l-2.6,2.6M220.4,286.5l2.6,2.6m0,-2.6l-2.6,2.6M166.5,358.6l2.6,2.6m0,-2.6l-2.6,2.6M475.8,284.8l2.6,2.6m0,-2.6l-2.6,2.6M450.0,290.3l2.6,2.6m0,-2.6l-2.6,2.6M232.3,298.5l2.6,2.6m0,-2.6l-2.6,2.6M232.8,292.5l2.6,2.6m0,-2.6l-2.6,2.6M497.5,322.0l2.6,2.6m0,-2.6l-2.6,2.6M376.8,335.1l2.6,2.6m0,-2.6l-2.6,2.6M191.1,316.7l2.6,2.6m0,-2.6l-2.6,2.6M273.3,365.0l2.6,2.6m0,-2.6l-2.6,2.6M391.3,361.9l2.6,2.6m0,-2.6l-2.6,2.6M260.6,347.2l2.6,2.6m0,-2.6l-2.6,2.6M245.6,322.4l2.6,2.6m0,-2.6l-2.6,2.6M255.7,344.5l2.6,2.6m0,-2.6l-2.6,2.6M82.4,293.4l2.6,2.6m0,-2.6l-2.6,2.6M588.6,284.2l2.6,2.6m0,-2.6l-2.6,2.6M583.1,285.0l2.6,2.6m0,-2.6l-2.6,2.6M583.3,285.9l2.6,2.6m0,-2.6l-2.6,2.6M189.9,318.8l2.6,2.6m0,-2.6l-2.6,2.6M501.3,332.2l2.6,2.6m0,-2.6l-2.6,2.6M474.5,288.5l2.6,2.6m0,-2.6l-2.6,2.6M481.8,299.9l2.6,2.6m0,-2.6l-2.6,2.6M290.9,356.1l2.6,2.6m0,-2.6l-2.6,2.6M94.3,288.3l2.6,2.6m0,-2.6l-2.6,2.6M541.1,349.9l2.6,2.6m0,-2.6l-2.6,2.6M578.1,285.3l2.6,2.6m0,-2.6l-2.6,2.6M87.6,290.4l2.6,2.6m0,-2.6l-2.6,2.6M191.0,319.6l2.6,2.6m0,-2.6l-2.6,2.6M280.5,365.5l2.6,2.6m0,-2.6l-2.6,2.6M673.3,350.9l2.6,2.6m0,-2.6l-2.6,2.6M347.9,284.2l2.6,2.6m0,-2.6l-2.6,2.6M193.4,306.1l2.6,2.6m0,-2.6l-2.6,2.6M108.6,300.4l2.6,2.6m0,-2.6l-2.6,2.6M206.1,286.6l2.6,2.6m0,-2.6l-2.6,2.6M144.5,363.0l2.6,2.6m0,-2.6l-2.6,2.6M281.8,364.7l2.6,2.6m0,-2.6l-2.6,2.6M230.2,291.0l2.6,2.6m0,-2.6l-2.6,2.6M178.0,340.9l2.6,2.6m0,-2.6l-2.6,2.6M496.2,324.6l2.6,2.6m0,-2.6l-2.6,2.6M193.7,304.5l2.6,2.6m0,-2.6l-2.6,2.6M371.2,315.9l2.6,2.6m0,-2.6l-2.6,2.6M631.4,346.3l2.6,2.6m0,-2.6l-2.6,2.6M534.3,364.5l2.6,2.6m0,-2.6l-2.6,2.6M308.2,322.8l2.6,2.6m0,-2.6l-2.6,2.6M303.8,337.0l2.6,2.6m0,-2.6l-2.6,2.6M264.8,357.5l2.6,2.6m0,-2.6l-2.6,2.6M156.8,369.5l2.6,2.6m0,-2.6l-2.6,2.6M122.0,323.0l2.6,2.6m0,-2.6l-2.6,2.6M563.3,312.7l2.6,2.6m0,-2.6l-2.6,2.6M342.1,279.9l2.6,2.6m0,-2.6l-2.6,2.6M142.8,364.0l2.6,2.6m0,-2.6l-2.6,2.6M154.4,368.3l2.6,2.6m0,-2.6l-2.6,2.6M400.5,365.4l2.6,2.6m0,-2.6l-2.6,2.6M101.1,295.0l2.6,2.6m0,-2.6l-2.6,2.6M140.6,359.2l2.6,2.6m0,-2.6l-2.6,2.6M87.9,289.7l2.6,2.6m0,-2.6l-2.6,2.6M498.2,328.6l2.6,2.6m0,-2.6l-2.6,2.6M244.1,314.6l2.6,2.6m0,-2.6l-2.6,2.6M126.8,334.3l2.6,2.6m0,-2.6l-2.6,2.6M463.1,284.8l2.6,2.6m0,-2.6l-2.6,2.6M440.9,307.6l2.6,2.6m0,-2.6l-2.6,2.6M223.7,287.2l2.6,2.6m0,-2.6l-2.6,2.6M636.2,354.4l2.6,2.6m0,-2.6l-2.6,2.6M226.4,287.2l2.6,2.6m0,-2.6l-2.6,2.6M381.3,345.6l2.6,2.6m0,-2.6l-2.6,2.6M357.4,294.3l2.6,2.6m0,-2.6l-2.6,2.6M618.1,319.8l2.6,2.6m0,-2.6l-2.6,2.6M133.7,346.8l2.6,2.6m0,-2.6l-2.6,2.6M524.4,365.8l2.6,2.6m0,-2.6l-2.6,2.6M494.5,320.2l2.6,2.6m0,-2.6l-2.6,2.6M353.2,297.1l2.6,2.6m0,-2.6l-2.6,2.6M397.3,360.0l2.6,2.6m0,-2.6l-2.6,2.6M310.5,323.6l2.6,2.6m0,-2.6l-2.6,2.6M473.5,286.1l2.6,2.6m0,-2.6l-2.6,2.6M63.0,319.9l2.6,2.6m0,-2.6l-2.6,2.6M572.4,303.1l2.6,2.6m0,-2.6l-2.6,2.6M445.9,298.6l2.6,2.6m0,-2.6l-2.6,2.6M194.1,303.6l2.6,2.6m0,-2.6l-2.6,2.6M644.6,364.8l2.6,2.6m0,-2.6l-2.6,2.6M545.9,346.8l2.6,2.6m0,-2.6l-2.6,2.6M598.8,290.9l2.6,2.6m0,-2.6l-2.6,2.6M62.5,317.9l2.6,2.6m0,-2.6l-2.6,2.6M490.3,307.5l2.6,2.6m0,-2.6l-2.6,2.6M598.4,291.1l2.6,2.6m0,-2.6l-2.6,2.6M150.2,367.3l2.6,2.6m0,-2.6l-2.6,2.6M648.4,370.8l2.6,2.6m0,-2.6l-2.6,2.6M644.9,370.7l2.6,2.6m0,-2.6l-2.6,2.6M95.6,291.6l2.6,2.6m0,-2.6l-2.6,2.6M202.7,291.5l2.6,2.6m0,-2.6l-2.6,2.6M473.1,283.6l2.6,2.6m0,-2.6l-2.6,2.6M129.8,336.6l2.6,2.6m0,-2.6l-2.6,2.6M219.7,285.5l2.6,2.6m0,-2.6l-2.6,2.6M564.8,306.4l2.6,2.6m0,-2.6l-2.6,2.6M528.2,364.9l2.6,2.6m0,-2.6l-2.6,2.6M186.7,327.2l2.6,2.6m0,-2.6l-2.6,2.6M259.8,350.4l2.6,2.6m0,-2.6l-2.6,2.6M306.3,330.9l2.6,2.6m0,-2.6l-2.6,2.6M617.1,316.8l2.6,2.6m0,-2.6l-2.6,2.6M468.0,282.3l2.6,2.6m0,-2.6l-2.6,2.6M264.4,351.5l2.6,2.6m0,-2.6l-2.6,2.6M476.8,289.2l2.6,2.6m0,-2.6l-2.6,2.6M296.9,351.7l2.6,2.6m0,-2.6l-2.6,2.6M188.0,321.1l2.6,2.6m0,-2.6l-2.6,2.6M386.7,349.5l2.6,2.6m0,-2.6l-2.6,2.6M300.5,340.2l2.6,2.6m0,-2.6l-2.6,2.6M537.2,357.8l2.6,2.6m0,-2.6l-2.6,2.6M671.0,349.0l2.6,2.6m0,-2.6l-2.6,2.6M57.0,323.3l2.6,2.6m0,-2.6l-2.6,2.6M473.3,283.9l2.6,2.6m0,-2.6l-2.6,2.6M560.2,323.1l2.6,2.6m0,-2.6l-2.6,2.6M100.3,289.1l2.6,2.6m0,-2.6l-2.6,2.6M514.5,360.2l2.6,2.6m0,-2.6l-2.6,2.6M456.4,283.2l2.6,2.6m0,-2.6l-2.6,2.6M437.8,319.0l2.6,2.6m0,-2.6l-2.6,2.6M330.6,284.9l2.6,2.6m0,-2.6l-2.6,2.6M569.1,299.2l2.6,2.6m0,-2.6l-2.6,2.6M373.2,334.3l2.6,2.6m0,-2.6l-2.6,2.6M333.1,285.6l2.6,2.6m0,-2.6l-2.6,2.6M223.7,290.0l2.6,2.6m0,-2.6l-2.6,2.6M150.6,367.3l2.6,2.6m0,-2.6l-2.6,2.6M196.9,302.6l2.6,2.6m0,-2.6l-2.6,2.6M556.4,324.6l2.6,2.6m0,-2.6l-2.6,2.6M677.4,344.9l2.6,2.6m0,-2.6l-2.6,2.6M463.0,282.4l2.6,2.6m0,-2.6l-2.6,2.6M546.5,351.2l2.6,2.6m0,-2.6l-2.6,2.6M265.6,360.2l2.6,2.6m0,-2.6l-2.6,2.6M440.4,315.4l2.6,2.6m0,-2.6l-2.6,2.6M494.5,320.3l2.6,2.6m0,-2.6l-2.6,2.6M574.1,292.8l2.6,2.6m0,-2.6l-2.6,2.6M168.7,362.0l2.6,2.6m0,-2.6l-2.6,2.6M473.5,287.4l2.6,2.6m0,-2.6l-2.6,2.6M235.3,300.6l2.6,2.6m0,-2.6l-2.6,2.6M593.1,285.4l2.6,2.6m0,-2.6l-2.6,2.6M207.1,289.5l2.6,2.6m0,-2.6l-2.6,2.6M106.3,296.6l2.6,2.6m0,-2.6l-2.6,2.6M194.7,307.1l2.6,2.6m0,-2.6l-2.6,2.6M272.3,365.6l2.6,2.6m0,-2.6l-2.6,2.6M602.9,294.4l2.6,2.6m0,-2.6l-2.6,2.6M242.2,317.1l2.6,2.6m0,-2.6l-2.6,2.6M294.6,352.4l2.6,2.6m0,-2.6l-2.6,2.6M438.7,309.7l2.6,2.6m0,-2.6l-2.6,2.6M409.2,359.0l2.6,2.6m0,-2.6l-2.6,2.6M583.3,285.9l2.6,2.6m0,-2.6l-2.6,2.6M370.7,327.1l2.6,2.6m0,-2.6l-2.6,2.6M619.4,325.7l2.6,2.6m0,-2.6l-2.6,2.6M330.1,288.4l2.6,2.6m0,-2.6l-2.6,2.6M497.0,327.5l2.6,2.6m0,-2.6l-2.6,2.6M235.5,301.4l2.6,2.6m0,-2.6l-2.6,2.6M196.9,305.6l2.6,2.6m0,-2.6l-2.6,2.6M250.4,331.6l2.6,2.6m0,-2.6l-2.6,2.6M459.7,280.6l2.6,2.6m0,-2.6l-2.6,2.6M557.0,326.7l2.6,2.6m0,-2.6l-2.6,2.6M675.4,345.5l2.6,2.6m0,-2.6l-2.6,2.6M157.7,364.5l2.6,2.6m0,-2.6l-2.6,2.6M632.4,344.9l2.6,2.6m0,-2.6l-2.6,2.6M117.2,312.7l2.6,2.6m0,-2.6l-2.6,2.6M277.4,364.8l2.6,2.6m0,-2.6l-2.6,2.6M319.3,307.6l2.6,2.6m0,-2.6l-2.6,2.6M276.7,365.7l2.6,2.6m0,-2.6l-2.6,2.6M509.0,352.0l2.6,2.6m0,-2.6l-2.6,2.6M416.7,352.9l2.6,2.6m0,-2.6l-2.6,2.6M398.7,363.4l2.6,2.6m0,-2.6l-2.6,2.6M465.0,279.0l2.6,2.6m0,-2.6l-2.6,2.6M661.8,361.9l2.6,2.6m0,-2.6l-2.6,2.6M87.3,289.2l2.6,2.6m0,-2.6l-2.6,2.6M262.9,352.9l2.6,2.6m0,-2.6l-2.6,2.6M519.6,361.5l2.6,2.6m0,-2.6l-2.6,2.6M675.8,346.2l2.6,2.6m0,-2.6l-2.6,2.6M61.9,318.5l2.6,2.6m0,-2.6l-2.6,2.6M581.9,282.6l2.6,2.6m0,-2.6l-2.6,2.6M532.1,365.7l2.6,2.6m0,-2.6l-2.6,2.6M672.1,343.1l2.6,2.6m0,-2.6l-2.6,2.6M457.8,282.3l2.6,2.6m0,-2.6l-2.6,2.6M339.0,281.3l2.6,2.6m0,-2.6l-2.6,2.6M667.4,356.4l2.6,2.6m0,-2.6l-2.6,2.6M373.8,325.8l2.6,2.6m0,-2.6l-2.6,2.6M182.1,337.8l2.6,2.6m0,-2.6l-2.6,2.6M269.3,361.2l2.6,2.6m0,-2.6l-2.6,2.6M453.9,283.7l2.6,2.6m0,-2.6l-2.6,2.6M369.5,311.9l2.6,2.6m0,-2.6l-2.6,2.6M632.9,353.2l2.6,2.6m0,-2.6l-2.6,2.6M128.8,336.1l2.6,2.6m0,-2.6l-2.6,2.6M419.2,349.1l2.6,2.6m0,-2.6l-2.6,2.6M307.7,331.3l2.6,2.6m0,-2.6l-2.6,2.6M456.3,282.0l2.6,2.6m0,-2.6l-2.6,2.6M532.9,361.7l2.6,2.6m0,-2.6l-2.6,2.6M98.8,291.7l2.6,2.6m0,-2.6l-2.6,2.6M592.7,289.4l2.6,2.6m0,-2.6l-2.6,2.6M458.9,287.5l2.6,2.6m0,-2.6l-2.6,2.6M176.7,345.8l2.6,2.6m0,-2.6l-2.6,2.6M282.1,370.1l2.6,2.6m0,-2.6l-2.6,2.6M671.6,353.7l2.6,2.6m0,-2.6l-2.6,2.6M78.8,294.4l2.6,2.6m0,-2.6l-2.6,2.6M507.0,351.0l2.6,2.6m0,-2.6l-2.6,2.6M129.3,342.3l2.6,2.6m0,-2.6l-2.6,2.6M643.9,367.4l2.6,2.6m0,-2.6l-2.6,2.6M568.3,306.0l2.6,2.6m0,-2.6l-2.6,2.6M627.4,347.4l2.6,2.6m0,-2.6l-2.6,2.6M104.6,296.3l2.6,2.6m0,-2.6l-2.6,2.6M582.8,282.3l2.6,2.6m0,-2.6l-2.6,2.6M412.5,359.7l2.6,2.6m0,-2.6l-2.6,2.6M69.1,311.1l2.6,2.6m0,-2.6l-2.6,2.6M379.3,338.5l2.6,2.6m0,-2.6l-2.6,2.6M313.8,316.4l2.6,2.6m0,-2.6l-2.6,2.6M440.9,311.7l2.6,2.6m0,-2.6l-2.6,2.6M559.1,315.1l2.6,2.6m0,-2.6l-2.6,2.6M391.3,358.6l2.6,2.6m0,-2.6l-2.6,2.6M258.9,349.2l2.6,2.6m0,-2.6l-2.6,2.6M615.2,315.2l2.6,2.6m0,-2.6l-2.6,2.6M467.8,282.8l2.6,2.6m0,-2.6l-2.6,2.6M437.5,321.1l2.6,2.6m0,-2.6l-2.6,2.6M62.1,318.2l2.6,2.6m0,-2.6l-2.6,2.6M534.0,361.5l2.6,2.6m0,-2.6l-2.6,2.6M675.9,337.1l2.6,2.6m0,-2.6l-2.6,2.6M476.1,294.0l2.6,2.6m0,-2.6l-2.6,2.6M351.1,287.5l2.6,2.6m0,-2.6l-2.6,2.6M138.5,357.7l2.6,2.6m0,-2.6l-2.6,2.6M441.8,310.7l2.6,2.6m0,-2.6l-2.6,2.6M604.8,296.1l2.6,2.6m0,-2.6l-2.6,2.6M549.8,337.6l2.6,2.6m0,-2.6l-2.6,2.6M94.4,289.9l2.6,2.6m0,-2.6l-2.6,2.6M337.1,286.6l2.6,2.6m0,-2.6l-2.6,2.6M94.0,286.5l2.6,2.6m0,-2.6l-2.6,2.6M626.8,340.4l2.6,2.6m0,-2.6l-2.6,2.6M535.4,364.6l2.6,2.6m0,-2.6l-2.6,2.6M109.3,304.5l2.6,2.6m0,-2.6l-2.6,2.6M63.0,324.6l2.6,2.6m0,-2.6l-2.6,2.6M423.2,345.6l2.6,2.6m0,-2.6l-2.6,2.6M321.0,295.1l2.6,2.6m0,-2.6l-2.6,2.6M523.4,364.1l2.6,2.6m0,-2.6l-2.6,2.6M675.4,342.2l2.6,2.6m0,-2.6l-2.6,2.6M241.2,309.8l2.6,2.6m0,-2.6l-2.6,2.6M298.9,345.3l2.6,2.6m0,-2.6l-2.6,2.6M111.2,307.1l2.6,2.6m0,-2.6l-2.6,2.6M88.4,287.9l2.6,2.6m0,-2.6l-2.6,2.6M265.2,358.7l2.6,2.6m0,-2.6l-2.6,2.6M663.0,361.5l2.6,2.6m0,-2.6l-2.6,2.6M550.3,335.4l2.6,2.6m0,-2.6l-2.6,2.6M481.1,295.5l2.6,2.6m0,-2.6l-2.6,2.6M174.7,349.2l2.6,2.6m0,-2.6l-2.6,2.6M677.5,336.4l2.6,2.6m0,-2.6l-2.6,2.6M387.2,353.2l2.6,2.6m0,-2.6l-2.6,2.6M643.6,361.4l2.6,2.6m0,-2.6l-2.6,2.6M377.0,342.1l2.6,2.6m0,-2.6l-2.6,2.6M254.9,333.9l2.6,2.6m0,-2.6l-2.6,2.6M408.3,365.3l2.6,2.6m0,-2.6l-2.6,2.6M380.7,343.5l2.6,2.6m0,-2.6l-2.6,2.6M664.3,359.5l2.6,2.6m0,-2.6l-2.6,2.6M457.5,284.3l2.6,2.6m0,-2.6l-2.6,2.6M304.2,336.3l2.6,2.6m0,-2.6l-2.6,2.6M133.7,350.3l2.6,2.6m0,-2.6l-2.6,2.6M588.9,281.9l2.6,2.6m0,-2.6l-2.6,2.6M295.4,356.7l2.6,2.6m0,-2.6l-2.6,2.6M643.0,367.4l2.6,2.6m0,-2.6l-2.6,2.6M116.4,311.8l2.6,2.6m0,-2.6l-2.6,2.6M257.8,344.7l2.6,2.6m0,-2.6l-2.6,2.6M548.8,341.9l2.6,2.6m0,-2.6l-2.6,2.6M188.0,321.9l2.6,2.6m0,-2.6l-2.6,2.6M396.9,364.0l2.6,2.6m0,-2.6l-2.6,2.6M331.9,286.4l2.6,2.6m0,-2.6l-2.6,2.6M280.7,364.9l2.6,2.6m0,-2.6l-2.6,2.6M648.5,370.6l2.6,2.6m0,-2.6l-2.6,2.6M366.2,306.8l2.6,2.6m0,-2.6l-2.6,2.6M587.0,284.5l2.6,2.6m0,-2.6l-2.6,2.6M157.5,371.4l2.6,2.6m0,-2.6l-2.6,2.6M240.8,312.4l2.6,2.6m0,-2.6l-2.6,2.6M556.6,328.7l2.6,2.6m0,-2.6l-2.6,2.6M225.2,290.3l2.6,2.6m0,-2.6l-2.6,2.6M334.7,282.1l2.6,2.6m0,-2.6l-2.6,2.6M399.0,363.7l2.6,2.6m0,-2.6l-2.6,2.6M99.8,292.1l2.6,2.6m0,-2.6l-2.6,2.6M192.6,303.3l2.6,2.6m0,-2.6l-2.6,2.6M323.3,299.8l2.6,2.6m0,-2.6l-2.6,2.6M416.1,359.2l2.6,2.6m0,-2.6l-2.6,2.6M221.6,286.4l2.6,2.6m0,-2.6l-2.6,2.6M278.7,365.7l2.6,2.6m0,-2.6l-2.6,2.6M478.9,292.1l2.6,2.6m0,-2.6l-2.6,2.6M536.9,361.8l2.6,2.6m0,-2.6l-2.6,2.6M178.2,337.6l2.6,2.6m0,-2.6l-2.6,2.6M430.2,334.7l2.6,2.6m0,-2.6l-2.6,2.6M573.7,296.0l2.6,2.6m0,-2.6l-2.6,2.6M439.1,314.8l2.6,2.6m0,-2.6l-2.6,2.6M488.7,312.7l2.6,2.6m0,-2.6l-2.6,2.6M282.0,365.7l2.6,2.6m0,-2.6l-2.6,2.6M582.8,284.4l2.6,2.6m0,-2.6l-2.6,2.6M300.0,342.1l2.6,2.6m0,-2.6l-2.6,2.6M139.3,356.3l2.6,2.6m0,-2.6l-2.6,2.6M679.1,332.7l2.6,2.6m0,-2.6l-2.6,2.6M573.5,293.1l2.6,2.6m0,-2.6l-2.6,2.6M319.5,307.8l2.6,2.6m0,-2.6l-2.6,2.6M587.9,282.4l2.6,2.6m0,-2.6l-2.6,2.6M184.2,336.4l2.6,2.6m0,-2.6l-2.6,2.6M677.9,340.7l2.6,2.6m0,-2.6l-2.6,2.6M660.1,366.5l2.6,2.6m0,-2.6l-2.6,2.6M403.1,367.8l2.6,2.6m0,-2.6l-2.6,2.6M245.6,333.8l2.6,2.6m0,-2.6l-2.6,2.6M355.0,290.3l2.6,2.6m0,-2.6l-2.6,2.6M313.6,316.1l2.6,2.6m0,-2.6l-2.6,2.6M420.2,351.5l2.6,2.6m0,-2.6l-2.6,2.6M371.3,325.1l2.6,2.6m0,-2.6l-2.6,2.6M473.7,284.9l2.6,2.6m0,-2.6l-2.6,2.6M412.1,360.1l2.6,2.6m0,-2.6l-2.6,2.6M515.7,360.5l2.6,2.6m0,-2.6l-2.6,2.6M424.2,342.5l2.6,2.6m0,-2.6l-2.6,2.6M534.1,363.5l2.6,2.6m0,-2.6l-2.6,2.6M386.8,348.5l2.6,2.6m0,-2.6l-2.6,2.6M337.4,283.3l2.6,2.6m0,-2.6l-2.6,2.6M201.9,293.2l2.6,2.6m0,-2.6l-2.6,2.6M157.8,367.4l2.6,2.6m0,-2.6l-2.6,2.6M245.0,319.9l2.6,2.6m0,-2.6l-2.6,2.6M289.5,362.1l2.6,2.6m0,-2.6l-2.6,2.6M288.5,361.5l2.6,2.6m0,-2.6l-2.6,2.6M394.3,360.1l2.6,2.6m0,-2.6l-2.6,2.6M512.0,353.3l2.6,2.6m0,-2.6l-2.6,2.6M546.9,346.2l2.6,2.6m0,-2.6l-2.6,2.6M423.6,345.0l2.6,2.6m0,-2.6l-2.6,2.6M637.9,362.2l2.6,2.6m0,-2.6l-2.6,2.6M267.8,364.7l2.6,2.6m0,-2.6l-2.6,2.6M66.9,313.7l2.6,2.6m0,-2.6l-2.6,2.6M266.4,358.9l2.6,2.6m0,-2.6l-2.6,2.6M627.5,345.1l2.6,2.6m0,-2.6l-2.6,2.6M165.1,358.4l2.6,2.6m0,-2.6l-2.6,2.6M627.4,349.5l2.6,2.6m0,-2.6l-2.6,2.6M385.3,353.7l2.6,2.6m0,-2.6l-2.6,2.6M362.4,308.0l2.6,2.6m0,-2.6l-2.6,2.6M532.2,359.1l2.6,2.6m0,-2.6l-2.6,2.6M525.3,362.1l2.6,2.6m0,-2.6l-2.6,2.6M666.2,357.3l2.6,2.6m0,-2.6l-2.6,2.6M255.2,342.1l2.6,2.6m0,-2.6l-2.6,2.6M671.1,342.0l2.6,2.6m0,-2.6l-2.6,2.6M150.7,375.6l2.6,2.6m0,-2.6l-2.6,2.6M579.9,290.0l2.6,2.6m0,-2.6l-2.6,2.6M261.1,343.1l2.6,2.6m0,-2.6l-2.6,2.6M493.7,320.1l2.6,2.6m0,-2.6l-2.6,2.6M185.3,327.3l2.6,2.6m0,-2.6l-2.6,2.6M223.5,287.6l2.6,2.6m0,-2.6l-2.6,2.6M317.5,310.4l2.6,2.6m0,-2.6l-2.6,2.6M311.0,322.1l2.6,2.6m0,-2.6l-2.6,2.6M520.2,363.8l2.6,2.6m0,-2.6l-2.6,2.6M485.6,304.0l2.6,2.6m0,-2.6l-2.6,2.6M181.5,335.2l2.6,2.6m0,-2.6l-2.6,2.6M536.8,359.9l2.6,2.6m0,-2.6l-2.6,2.6M319.1,301.4l2.6,2.6m0,-2.6l-2.6,2.6M501.5,331.4l2.6,2.6m0,-2.6l-2.6,2.6M228.3,289.5l2.6,2.6m0,-2.6l-2.6,2.6M86.1,293.5l2.6,2.6m0,-2.6l-2.6,2.6M124.3,329.0l2.6,2.6m0,-2.6l-2.6,2.6M255.1,340.9l2.6,2.6m0,-2.6l-2.6,2.6M625.7,334.3l2.6,2.6m0,-2.6l-2.6,2.6M400.0,364.9l2.6,2.6m0,-2.6l-2.6,2.6M170.5,356.5l2.6,2.6m0,-2.6l-2.6,2.6M627.3,335.8l2.6,2.6m0,-2.6l-2.6,2.6M160.5,368.7l2.6,2.6m0,-2.6l-2.6,2.6M260.3,349.3l2.6,2.6m0,-2.6l-2.6,2.6M479.1,290.0l2.6,2.6m0,-2.6l-2.6,2.6M188.8,319.4l2.6,2.6m0,-2.6l-2.6,2.6M269.2,359.4l2.6,2.6m0,-2.6l-2.6,2.6M332.5,288.7l2.6,2.6m0,-2.6l-2.6,2.6M75.1,299.5l2.6,2.6m0,-2.6l-2.6,2.6M514.7,353.3l2.6,2.6m0,-2.6l-2.6,2.6M554.6,332.3l2.6,2.6m0,-2.6l-2.6,2.6M206.1,290.4l2.6,2.6m0,-2.6l-2.6,2.6M445.4,301.3l2.6,2.6m0,-2.6l-2.6,2.6M255.7,336.7l2.6,2.6m0,-2.6l-2.6,2.6M153.3,366.5l2.6,2.6m0,-2.6l-2.6,2.6M360.9,300.5l2.6,2.6m0,-2.6l-2.6,2.6M159.5,368.5l2.6,2.6m0,-2.6l-2.6,2.6M239.7,313.6l2.6,2.6m0,-2.6l-2.6,2.6M525.4,360.6l2.6,2.6m0,-2.6l-2.6,2.6M641.6,366.2l2.6,2.6m0,-2.6l-2.6,2.6M186.8,319.9l2.6,2.6m0,-2.6l-2.6,2.6M290.3,362.3l2.6,2.6m0,-2.6l-2.6,2.6M279.0,367.8l2.6,2.6m0,-2.6l-2.6,2.6M398.4,368.2l2.6,2.6m0,-2.6l-2.6,2.6M432.5,327.0l2.6,2.6m0,-2.6l-2.6,2.6M189.2,320.9l2.6,2.6m0,-2.6l-2.6,2.6M230.9,294.7l2.6,2.6m0,-2.6l-2.6,2.6M328.9,288.3l2.6,2.6m0,-2.6l-2.6,2.6M629.8,346.1l2.6,2.6m0,-2.6l-2.6,2.6M110.8,303.9l2.6,2.6m0,-2.6l-2.6,2.6M653.7,368.5l2.6,2.6m0,-2.6l-2.6,2.6M259.7,353.4l2.6,2.6m0,-2.6l-2.6,2.6M457.8,287.6l2.6,2.6m0,-2.6l-2.6,2.6M504.3,343.6l2.6,2.6m0,-2.6l-2.6,2.6M72.3,298.9l2.6,2.6m0,-2.6l-2.6,2.6M424.8,336.7l2.6,2.6m0,-2.6l-2.6,2.6M664.2,360.4l2.6,2.6m0,-2.6l-2.6,2.6M219.2,283.2l2.6,2.6m0,-2.6l-2.6,2.6M636.0,359.8l2.6,2.6m0,-2.6l-2.6,2.6M290.7,357.9l2.6,2.6m0,-2.6l-2.6,2.6M652.6,366.5l2.6,2.6m0,-2.6l-2.6,2.6M642.3,365.9l2.6,2.6m0,-2.6l-2.6,2.6M72.8,301.7l2.6,2.6m0,-2.6l-2.6,2.6M551.8,339.9l2.6,2.6m0,-2.6l-2.6,2.6M156.8,369.5l2.6,2.6m0,-2.6l-2.6,2.6M400.9,363.7l2.6,2.6m0,-2.6l-2.6,2.6M653.3,368.4l2.6,2.6m0,-2.6l-2.6,2.6M190.7,320.6l2.6,2.6m0,-2.6l-2.6,2.6M568.0,305.3l2.6,2.6m0,-2.6l-2.6,2.6M236.3,305.8l2.6,2.6m0,-2.6l-2.6,2.6M311.9,320.5l2.6,2.6m0,-2.6l-2.6,2.6M145.1,364.1l2.6,2.6m0,-2.6l-2.6,2.6M163.2,362.1l2.6,2.6m0,-2.6l-2.6,2.6M515.6,358.9l2.6,2.6m0,-2.6l-2.6,2.6M519.3,362.1l2.6,2.6m0,-2.6l-2.6,2.6M437.1,321.0l2.6,2.6m0,-2.6l-2.6,2.6M362.3,308.8l2.6,2.6m0,-2.6l-2.6,2.6M483.9,300.6l2.6,2.6m0,-2.6l-2.6,2.6M527.6,366.1l2.6,2.6m0,-2.6l-2.6,2.6M338.4,282.2l2.6,2.6m0,-2.6l-2.6,2.6M232.2,296.5l2.6,2.6m0,-2.6l-2.6,2.6M119.5,316.1l2.6,2.6m0,-2.6l-2.6,2.6M258.2,345.3l2.6,2.6m0,-2.6l-2.6,2.6M102.6,296.6l2.6,2.6m0,-2.6l-2.6,2.6M468.6,282.0l2.6,2.6m0,-2.6l-2.6,2.6M607.7,300.5l2.6,2.6m0,-2.6l-2.6,2.6M141.7,356.5l2.6,2.6m0,-2.6l-2.6,2.6M127.8,333.9l2.6,2.6m0,-2.6l-2.6,2.6M461.8,280.3l2.6,2.6m0,-2.6l-2.6,2.6M416.0,359.1l2.6,2.6m0,-2.6l-2.6,2.6M175.9,343.4l2.6,2.6m0,-2.6l-2.6,2.6M60.8,326.6l2.6,2.6m0,-2.6l-2.6,2.6M193.1,310.2l2.6,2.6m0,-2.6l-2.6,2.6M163.5,362.0l2.6,2.6m0,-2.6l-2.6,2.6M142.3,360.0l2.6,2.6m0,-2.6l-2.6,2.6M461.7,281.2l2.6,2.6m0,-2.6l-2.6,2.6M335.1,284.6l2.6,2.6m0,-2.6l-2.6,2.6M108.7,301.3l2.6,2.6m0,-2.6l-2.6,2.6M561.2,316.0l2.6,2.6m0,-2.6l-2.6,2.6M584.7,285.5l2.6,2.6m0,-2.6l-2.6,2.6M271.6,370.9l2.6,2.6m0,-2.6l-2.6,2.6M579.1,287.1l2.6,2.6m0,-2.6l-2.6,2.6M646.3,369.7l2.6,2.6m0,-2.6l-2.6,2.6M518.9,362.1l2.6,2.6m0,-2.6l-2.6,2.6M437.3,316.3l2.6,2.6m0,-2.6l-2.6,2.6M380.5,334.9l2.6,2.6m0,-2.6l-2.6,2.6M120.8,324.9l2.6,2.6m0,-2.6l-2.6,2.6M149.9,366.6l2.6,2.6m0,-2.6l-2.6,2.6M286.2,362.7l2.6,2.6m0,-2.6l-2.6,2.6M128.1,337.0l2.6,2.6m0,-2.6l-2.6,2.6M81.3,293.4l2.6,2.6m0,-2.6l-2.6,2.6M646.5,368.8l2.6,2.6m0,-2.6l-2.6,2.6M532.0,365.4l2.6,2.6m0,-2.6l-2.6,2.6M167.4,358.3l2.6,2.6m0,-2.6l-2.6,2.6M427.4,336.9l2.6,2.6m0,-2.6l-2.6,2.6M199.4,297.0l2.6,2.6m0,-2.6l-2.6,2.6M433.0,327.3l2.6,2.6m0,-2.6l-2.6,2.6M266.3,362.6l2.6,2.6m0,-2.6l-2.6,2.6M529.8,362.7l2.6,2.6m0,-2.6l-2.6,2.6M245.9,315.9l2.6,2.6m0,-2.6l-2.6,2.6M451.4,289.3l2.6,2.6m0,-2.6l-2.6,2.6M281.9,367.8l2.6,2.6m0,-2.6l-2.6,2.6M369.0,322.8l2.6,2.6m0,-2.6l-2.6,2.6M158.9,366.0l2.6,2.6m0,-2.6l-2.6,2.6M253.6,342.8l2.6,2.6m0,-2.6l-2.6,2.6M205.7,289.3l2.6,2.6m0,-2.6l-2.6,2.6M232.4,298.3l2.6,2.6m0,-2.6l-2.6,2.6M196.4,300.7l2.6,2.6m0,-2.6l-2.6,2.6M567.6,302.7l2.6,2.6m0,-2.6l-2.6,2.6M419.8,354.3l2.6,2.6m0,-2.6l-2.6,2.6M475.6,291.8l2.6,2.6m0,-2.6l-2.6,2.6M312.5,321.7l2.6,2.6m0,-2.6l-2.6,2.6M183.9,328.7l2.6,2.6m0,-2.6l-2.6,2.6M640.8,361.6l2.6,2.6m0,-2.6l-2.6,2.6M538.7,356.1l2.6,2.6m0,-2.6l-2.6,2.6M153.6,368.7l2.6,2.6m0,-2.6l-2.6,2.6M360.0,299.4l2.6,2.6m0,-2.6l-2.6,2.6M508.8,347.2l2.6,2.6m0,-2.6l-2.6,2.6M287.8,361.6l2.6,2.6m0,-2.6l-2.6,2.6M214.0,283.3l2.6,2.6m0,-2.6l-2.6,2.6M583.3,284.0l2.6,2.6m0,-2.6l-2.6,2.6M649.2,365.6l2.6,2.6m0,-2.6l-2.6,2.6M182.7,339.4l2.6,2.6m0,-2.6l-2.6,2.6M240.0,312.0l2.6,2.6m0,-2.6l-2.6,2.6M308.6,335.5l2.6,2.6m0,-2.6l-2.6,2.6M193.5,314.8l2.6,2.6m0,-2.6l-2.6,2.6M651.7,368.4l2.6,2.6m0,-2.6l-2.6,2.6M363.9,308.6l2.6,2.6m0,-2.6l-2.6,2.6M376.5,343.5l2.6,2.6m0,-2.6l-2.6,2.6M335.3,284.2l2.6,2.6m0,-2.6l-2.6,2.6M344.4,283.5l2.6,2.6m0,-2.6l-2.6,2.6M452.9,291.4l2.6,2.6m0,-2.6l-2.6,2.6M187.4,324.0l2.6,2.6m0,-2.6l-2.6,2.6M276.1,364.7l2.6,2.6m0,-2.6l-2.6,2.6M178.3,341.4l2.6,2.6m0,-2.6l-2.6,2.6M315.8,310.7l2.6,2.6m0,-2.6l-2.6,2.6M631.7,348.6l2.6,2.6m0,-2.6l-2.6,2.6M471.5,285.8l2.6,2.6m0,-2.6l-2.6,2.6M191.6,312.2l2.6,2.6m0,-2.6l-2.6,2.6M190.8,316.1l2.6,2.6m0,-2.6l-2.6,2.6M502.5,334.0l2.6,2.6m0,-2.6l-2.6,2.6M580.4,286.1l2.6,2.6m0,-2.6l-2.6,2.6M641.2,362.2l2.6,2.6m0,-2.6l-2.6,2.6M200.8,296.9l2.6,2.6m0,-2.6l-2.6,2.6M293.6,356.3l2.6,2.6m0,-2.6l-2.6,2.6M65.2,313.3l2.6,2.6m0,-2.6l-2.6,2.6M632.7,348.4l2.6,2.6m0,-2.6l-2.6,2.6M515.9,358.1l2.6,2.6m0,-2.6l-2.6,2.6M234.6,299.7l2.6,2.6m0,-2.6l-2.6,2.6M563.6,311.5l2.6,2.6m0,-2.6l-2.6,2.6M606.3,298.0l2.6,2.6m0,-2.6l-2.6,2.6M153.3,368.8l2.6,2.6m0,-2.6l-2.6,2.6M113.9,306.0l2.6,2.6m0,-2.6l-2.6,2.6M193.6,314.5l2.6,2.6m0,-2.6l-2.6,2.6M374.3,330.7l2.6,2.6m0,-2.6l-2.6,2.6M533.2,363.1l2.6,2.6m0,-2.6l-2.6,2.6M606.1,299.9l2.6,2.6m0,-2.6l-2.6,2.6M471.1,282.1l2.6,2.6m0,-2.6l-2.6,2.6M533.1,364.5l2.6,2.6m0,-2.6l-2.6,2.6M317.7,304.3l2.6,2.6m0,-2.6l-2.6,2.6M192.6,311.9l2.6,2.6m0,-2.6l-2.6,2.6M124.6,326.3l2.6,2.6m0,-2.6l-2.6,2.6M141.4,356.8l2.6,2.6m0,-2.6l-2.6,2.6M510.6,355.4l2.6,2.6m0,-2.6l-2.6,2.6M261.5,350.3l2.6,2.6m0,-2.6l-2.6,2.6M586.7,283.2l2.6,2.6m0,-2.6l-2.6,2.6M602.9,295.1l2.6,2.6m0,-2.6l-2.6,2.6M312.9,318.4l2.6,2.6m0,-2.6l-2.6,2.6M239.8,315.6l2.6,2.6m0,-2.6l-2.6,2.6M415.6,355.5l2.6,2.6m0,-2.6l-2.6,2.6M193.5,317.5l2.6,2.6m0,-2.6l-2.6,2.6M351.1,287.1l2.6,2.6m0,-2.6l-2.6,2.6M600.8,287.3l2.6,2.6m0,-2.6l-2.6,2.6M116.6,316.2l2.6,2.6m0,-2.6l-2.6,2.6M583.0,283.5l2.6,2.6m0,-2.6l-2.6,2.6M208.5,284.9l2.6,2.6m0,-2.6l-2.6,2.6M350.9,290.1l2.6,2.6m0,-2.6l-2.6,2.6M192.3,305.9l2.6,2.6m0,-2.6l-2.6,2.6M61.2,317.4l2.6,2.6m0,-2.6l-2.6,2.6M560.4,311.4l2.6,2.6m0,-2.6l-2.6,2.6M650.9,369.5l2.6,2.6m0,-2.6l-2.6,2.6M544.9,348.8l2.6,2.6m0,-2.6l-2.6,2.6M328.8,299.9l2.6,2.6m0,-2.6l-2.6,2.6M181.1,332.5l2.6,2.6m0,-2.6l-2.6,2.6M332.0,283.3l2.6,2.6m0,-2.6l-2.6,2.6M298.5,341.7l2.6,2.6m0,-2.6l-2.6,2.6M80.3,296.3l2.6,2.6m0,-2.6l-2.6,2.6M446.6,302.0l2.6,2.6m0,-2.6l-2.6,2.6M660.3,359.5l2.6,2.6m0,-2.6l-2.6,2.6M139.7,359.3l2.6,2.6m0,-2.6l-2.6,2.6M537.4,358.7l2.6,2.6m0,-2.6l-2.6,2.6M77.7,298.3l2.6,2.6m0,-2.6l-2.6,2.6M392.7,362.3l2.6,2.6m0,-2.6l-2.6,2.6M171.8,346.4l2.6,2.6m0,-2.6l-2.6,2.6M444.8,305.5l2.6,2.6m0,-2.6l-2.6,2.6M104.8,294.0l2.6,2.6m0,-2.6l-2.6,2.6M151.3,368.0l2.6,2.6m0,-2.6l-2.6,2.6M258.5,349.3l2.6,2.6m0,-2.6l-2.6,2.6M96.2,290.9l2.6,2.6m0,-2.6l-2.6,2.6M261.1,353.4l2.6,2.6m0,-2.6l-2.6,2.6M548.7,343.0l2.6,2.6m0,-2.6l-2.6,2.6M422.9,340.0l2.6,2.6m0,-2.6l-2.6,2.6M624.5,332.2l2.6,2.6m0,-2.6l-2.6,2.6M609.7,307.9l2.6,2.6m0,-2.6l-2.6,2.6M513.3,359.9l2.6,2.6m0,-2.6l-2.6,2.6M284.0,364.5l2.6,2.6m0,-2.6l-2.6,2.6M513.8,356.3l2.6,2.6m0,-2.6l-2.6,2.6M288.7,362.7l2.6,2.6m0,-2.6l-2.6,2.6M429.3,330.0l2.6,2.6m0,-2.6l-2.6,2.6M394.6,361.6l2.6,2.6m0,-2.6l-2.6,2.6M151.0,367.1l2.6,2.6m0,-2.6l-2.6,2.6M376.1,339.2l2.6,2.6m0,-2.6l-2.6,2.6M549.5,343.7l2.6,2.6m0,-2.6l-2.6,2.6M168.4,353.3l2.6,2.6m0,-2.6l-2.6,2.6M574.0,288.7l2.6,2.6m0,-2.6l-2.6,2.6M204.8,288.4l2.6,2.6m0,-2.6l-2.6,2.6M581.0,290.3l2.6,2.6m0,-2.6l-2.6,2.6M398.6,366.8l2.6,2.6m0,-2.6l-2.6,2.6M630.6,349.1l2.6,2.6m0,-2.6l-2.6,2.6M414.2,363.9l2.6,2.6m0,-2.6l-2.6,2.6M110.1,308.8l2.6,2.6m0,-2.6l-2.6,2.6M417.5,357.6l2.6,2.6m0,-2.6l-2.6,2.6M583.0,285.8l2.6,2.6m0,-2.6l-2.6,2.6M591.8,285.3l2.6,2.6m0,-2.6l-2.6,2.6M530.9,366.7l2.6,2.6m0,-2.6l-2.6,2.6M174.2,350.3l2.6,2.6m0,-2.6l-2.6,2.6M668.1,356.9l2.6,2.6m0,-2.6l-2.6,2.6M393.8,362.7l2.6,2.6m0,-2.6l-2.6,2.6M567.1,303.2l2.6,2.6m0,-2.6l-2.6,2.6M169.9,357.5l2.6,2.6m0,-2.6l-2.6,2.6M211.1,287.2l2.6,2.6m0,-2.6l-2.6,2.6M129.7,339.7l2.6,2.6m0,-2.6l-2.6,2.6M593.0,287.2l2.6,2.6m0,-2.6l-2.6,2.6M592.8,287.8l2.6,2.6m0,-2.6l-2.6,2.6M98.6,294.4l2.6,2.6m0,-2.6l-2.6,2.6M165.5,362.0l2.6,2.6m0,-2.6l-2.6,2.6M444.0,299.4l2.6,2.6m0,-2.6l-2.6,2.6M611.0,297.8l2.6,2.6m0,-2.6l-2.6,2.6M214.6,287.7l2.6,2.6m0,-2.6l-2.6,2.6M537.4,357.6l2.6,2.6m0,-2.6l-2.6,2.6M450.6,291.9l2.6,2.6m0,-2.6l-2.6,2.6M669.8,350.7l2.6,2.6m0,-2.6l-2.6,2.6M548.5,342.5l2.6,2.6m0,-2.6l-2.6,2.6M287.9,361.8l2.6,2.6m0,-2.6l-2.6,2.6M89.8,287.8l2.6,2.6m0,-2.6l-2.6,2.6M125.4,334.8l2.6,2.6m0,-2.6l-2.6,2.6M498.7,331.7l2.6,2.6m0,-2.6l-2.6,2.6M210.6,288.4l2.6,2.6m0,-2.6l-2.6,2.6M653.4,370.7l2.6,2.6m0,-2.6l-2.6,2.6M678.5,336.7l2.6,2.6m0,-2.6l-2.6,2.6M639.1,360.5l2.6,2.6m0,-2.6l-2.6,2.6M537.6,361.1l2.6,2.6m0,-2.6l-2.6,2.6M478.6,288.9l2.6,2.6m0,-2.6l-2.6,2.6M483.7,297.5l2.6,2.6m0,-2.6l-2.6,2.6M352.4,284.2l2.6,2.6m0,-2.6l-2.6,2.6M472.5,285.5l2.6,2.6m0,-2.6l-2.6,2.6M530.4,362.0l2.6,2.6m0,-2.6l-2.6,2.6M104.1,295.8l2.6,2.6m0,-2.6l-2.6,2.6M470.4,284.9l2.6,2.6m0,-2.6l-2.6,2.6M556.6,324.2l2.6,2.6m0,-2.6l-2.6,2.6M634.7,356.5l2.6,2.6m0,-2.6l-2.6,2.6M100.5,293.4l2.6,2.6m0,-2.6l-2.6,2.6M601.7,293.7l2.6,2.6m0,-2.6l-2.6,2.6M361.8,305.2l2.6,2.6m0,-2.6l-2.6,2.6M63.3,317.2l2.6,2.6m0,-2.6l-2.6,2.6M449.2,299.6l2.6,2.6m0,-2.6l-2.6,2.6M353.5,288.9l2.6,2.6m0,-2.6l-2.6,2.6M259.3,344.1l2.6,2.6m0,-2.6l-2.6,2.6M445.3,297.8l2.6,2.6m0,-2.6l-2.6,2.6M512.6,350.4l2.6,2.6m0,-2.6l-2.6,2.6M428.3,334.0l2.6,2.6m0,-2.6l-2.6,2.6M144.5,368.0l2.6,2.6m0,-2.6l-2.6,2.6M506.1,350.0l2.6,2.6m0,-2.6l-2.6,2.6M58.6,327.5l2.6,2.6m0,-2.6l-2.6,2.6M66.1,312.5l2.6,2.6m0,-2.6l-2.6,2.6M106.4,300.5l2.6,2.6m0,-2.6l-2.6,2.6M429.9,329.6l2.6,2.6m0,-2.6l-2.6,2.6M273.8,365.6l2.6,2.6m0,-2.6l-2.6,2.6M488.4,304.7l2.6,2.6m0,-2.6l-2.6,2.6M76.4,301.3l2.6,2.6m0,-2.6l-2.6,2.6M322.6,297.4l2.6,2.6m0,-2.6l-2.6,2.6M311.5,314.3l2.6,2.6m0,-2.6l-2.6,2.6M106.3,297.5l2.6,2.6m0,-2.6l-2.6,2.6M181.1,339.9l2.6,2.6m0,-2.6l-2.6,2.6M243.0,318.4l2.6,2.6m0,-2.6l-2.6,2.6M178.2,346.4l2.6,2.6m0,-2.6l-2.6,2.6M380.2,341.3l2.6,2.6m0,-2.6l-2.6,2.6M127.6,341.7l2.6,2.6m0,-2.6l-2.6,2.6M124.8,328.4l2.6,2.6m0,-2.6l-2.6,2.6M106.3,301.8l2.6,2.6m0,-2.6l-2.6,2.6M371.2,327.7l2.6,2.6m0,-2.6l-2.6,2.6M537.0,356.4l2.6,2.6m0,-2.6l-2.6,2.6M490.0,308.5l2.6,2.6m0,-2.6l-2.6,2.6M559.4,326.9l2.6,2.6m0,-2.6l-2.6,2.6M378.2,338.8l2.6,2.6m0,-2.6l-2.6,2.6M563.2,310.9l2.6,2.6m0,-2.6l-2.6,2.6M343.4,284.5l2.6,2.6m0,-2.6l-2.6,2.6M389.6,355.8l2.6,2.6m0,-2.6l-2.6,2.6M498.6,335.7l2.6,2.6m0,-2.6l-2.6,2.6M127.5,332.4l2.6,2.6m0,-2.6l-2.6,2.6M444.6,302.2l2.6,2.6m0,-2.6l-2.6,2.6M144.9,361.9l2.6,2.6m0,-2.6l-2.6,2.6M557.0,325.6l2.6,2.6m0,-2.6l-2.6,2.6M347.5,284.3l2.6,2.6m0,-2.6l-2.6,2.6M225.6,290.2l2.6,2.6m0,-2.6l-2.6,2.6M172.5,347.4l2.6,2.6m0,-2.6l-2.6,2.6M192.1,315.1l2.6,2.6m0,-2.6l-2.6,2.6M365.1,313.0l2.6,2.6m0,-2.6l-2.6,2.6M534.3,363.7l2.6,2.6m0,-2.6l-2.6,2.6M243.8,316.6l2.6,2.6m0,-2.6l-2.6,2.6M268.8,361.1l2.6,2.6m0,-2.6l-2.6,2.6M239.5,304.4l2.6,2.6m0,-2.6l-2.6,2.6M131.0,331.6l2.6,2.6m0,-2.6l-2.6,2.6M646.2,368.1l2.6,2.6m0,-2.6l-2.6,2.6M190.7,312.6l2.6,2.6m0,-2.6l-2.6,2.6M446.1,299.6l2.6,2.6m0,-2.6l-2.6,2.6M620.8,323.9l2.6,2.6m0,-2.6l-2.6,2.6M486.7,302.5l2.6,2.6m0,-2.6l-2.6,2.6M121.2,328.3l2.6,2.6m0,-2.6l-2.6,2.6M328.8,287.3l2.6,2.6m0,-2.6l-2.6,2.6M243.7,314.3l2.6,2.6m0,-2.6l-2.6,2.6M332.7,292.5l2.6,2.6m0,-2.6l-2.6,2.6M354.7,292.3l2.6,2.6m0,-2.6l-2.6,2.6M176.6,345.7l2.6,2.6m0,-2.6l-2.6,2.6M102.1,299.3l2.6,2.6m0,-2.6l-2.6,2.6M85.1,292.0l2.6,2.6m0,-2.6l-2.6,2.6M260.3,350.9l2.6,2.6m0,-2.6l-2.6,2.6M560.5,318.0l2.6,2.6m0,-2.6l-2.6,2.6M572.9,298.3l2.6,2.6m0,-2.6l-2.6,2.6M639.9,360.0l2.6,2.6m0,-2.6l-2.6,2.6M292.2,350.2l2.6,2.6m0,-2.6l-2.6,2.6M670.5,354.0l2.6,2.6m0,-2.6l-2.6,2.6M390.6,361.5l2.6,2.6m0,-2.6l-2.6,2.6M490.9,320.3l2.6,2.6m0,-2.6l-2.6,2.6M200.1,295.7l2.6,2.6m0,-2.6l-2.6,2.6M512.8,358.8l2.6,2.6m0,-2.6l-2.6,2.6M627.9,345.4l2.6,2.6m0,-2.6l-2.6,2.6M87.2,287.3l2.6,2.6m0,-2.6l-2.6,2.6M328.6,287.4l2.6,2.6m0,-2.6l-2.6,2.6M205.4,293.6l2.6,2.6m0,-2.6l-2.6,2.6M66.6,319.0l2.6,2.6m0,-2.6l-2.6,2.6M668.7,361.3l2.6,2.6m0,-2.6l-2.6,2.6M565.1,307.5l2.6,2.6m0,-2.6l-2.6,2.6M462.7,282.4l2.6,2.6m0,-2.6l-2.6,2.6M375.4,329.9l2.6,2.6m0,-2.6l-2.6,2.6M673.7,345.1l2.6,2.6m0,-2.6l-2.6,2.6M676.1,340.3l2.6,2.6m0,-2.6l-2.6,2.6M138.9,358.4l2.6,2.6m0,-2.6l-2.6,2.6M160.8,367.6l2.6,2.6m0,-2.6l-2.6,2.6M137.4,356.7l2.6,2.6m0,-2.6l-2.6,2.6M651.4,370.7l2.6,2.6m0,-2.6l-2.6,2.6M198.1,299.8l2.6,2.6m0,-2.6l-2.6,2.6M466.2,281.7l2.6,2.6m0,-2.6l-2.6,2.6M117.9,317.0l2.6,2.6m0,-2.6l-2.6,2.6M654.7,366.9l2.6,2.6m0,-2.6l-2.6,2.6M389.4,351.1l2.6,2.6m0,-2.6l-2.6,2.6M631.1,346.7l2.6,2.6m0,-2.6l-2.6,2.6M499.3,329.6l2.6,2.6m0,-2.6l-2.6,2.6M456.2,290.9l2.6,2.6m0,-2.6l-2.6,2.6M515.0,352.5l2.6,2.6m0,-2.6l-2.6,2.6M680.0,337.0l2.6,2.6m0,-2.6l-2.6,2.6M644.3,365.5l2.6,2.6m0,-2.6l-2.6,2.6M539.5,358.0l2.6,2.6m0,-2.6l-2.6,2.6M97.4,289.2l2.6,2.6m0,-2.6l-2.6,2.6M217.7,287.4l2.6,2.6m0,-2.6l-2.6,2.6M521.2,366.1l2.6,2.6m0,-2.6l-2.6,2.6M618.4,325.9l2.6,2.6m0,-2.6l-2.6,2.6M325.6,293.3l2.6,2.6m0,-2.6l-2.6,2.6M216.3,288.0l2.6,2.6m0,-2.6l-2.6,2.6M142.5,361.0l2.6,2.6m0,-2.6l-2.6,2.6M197.7,304.2l2.6,2.6m0,-2.6l-2.6,2.6M277.2,365.5l2.6,2.6m0,-2.6l-2.6,2.6M194.1,315.4l2.6,2.6m0,-2.6l-2.6,2.6M639.9,358.8l2.6,2.6m0,-2.6l-2.6,2.6M252.9,333.9l2.6,2.6m0,-2.6l-2.6,2.6M94.4,289.0l2.6,2.6m0,-2.6l-2.6,2.6M99.1,291.1l2.6,2.6m0,-2.6l-2.6,2.6M585.6,284.9l2.6,2.6m0,-2.6l-2.6,2.6M169.5,362.8l2.6,2.6m0,-2.6l-2.6,2.6M335.5,284.1l2.6,2.6m0,-2.6l-2.6,2.6M620.4,332.6l2.6,2.6m0,-2.6l-2.6,2.6M194.0,307.8l2.6,2.6m0,-2.6l-2.6,2.6M265.2,357.5l2.6,2.6m0,-2.6l-2.6,2.6M673.8,342.4l2.6,2.6m0,-2.6l-2.6,2.6M223.3,285.5l2.6,2.6m0,-2.6l-2.6,2.6M504.2,339.9l2.6,2.6m0,-2.6l-2.6,2.6M635.3,356.4l2.6,2.6m0,-2.6l-2.6,2.6M150.9,369.1l2.6,2.6m0,-2.6l-2.6,2.6M231.0,295.8l2.6,2.6m0,-2.6l-2.6,2.6M392.5,362.1l2.6,2.6m0,-2.6l-2.6,2.6M590.1,280.9l2.6,2.6m0,-2.6l-2.6,2.6M73.4,306.1l2.6,2.6m0,-2.6l-2.6,2.6M471.5,281.0l2.6,2.6m0,-2.6l-2.6,2.6M269.7,360.5l2.6,2.6m0,-2.6l-2.6,2.6M298.8,347.9l2.6,2.6m0,-2.6l-2.6,2.6M443.0,300.1l2.6,2.6m0,-2.6l-2.6,2.6M167.9,359.6l2.6,2.6m0,-2.6l-2.6,2.6M475.5,291.7l2.6,2.6m0,-2.6l-2.6,2.6M458.6,284.2l2.6,2.6m0,-2.6l-2.6,2.6M386.2,351.4l2.6,2.6m0,-2.6l-2.6,2.6M371.5,328.1l2.6,2.6m0,-2.6l-2.6,2.6M509.9,357.2l2.6,2.6m0,-2.6l-2.6,2.6M271.3,363.9l2.6,2.6m0,-2.6l-2.6,2.6M73.4,305.9l2.6,2.6m0,-2.6l-2.6,2.6M310.3,321.4l2.6,2.6m0,-2.6l-2.6,2.6M364.0,306.9l2.6,2.6m0,-2.6l-2.6,2.6M107.0,295.8l2.6,2.6m0,-2.6l-2.6,2.6M573.8,296.6l2.6,2.6m0,-2.6l-2.6,2.6M251.5,329.0l2.6,2.6m0,-2.6l-2.6,2.6M435.3,315.1l2.6,2.6m0,-2.6l-2.6,2.6M653.6,367.6l2.6,2.6m0,-2.6l-2.6,2.6M293.3,360.5l2.6,2.6m0,-2.6l-2.6,2.6M488.3,309.7l2.6,2.6m0,-2.6l-2.6,2.6M561.8,309.8l2.6,2.6m0,-2.6l-2.6,2.6M127.3,341.8l2.6,2.6m0,-2.6l-2.6,2.6M486.3,300.5l2.6,2.6m0,-2.6l-2.6,2.6M282.2,363.7l2.6,2.6m0,-2.6l-2.6,2.6M241.3,312.6l2.6,2.6m0,-2.6l-2.6,2.6M124.1,327.0l2.6,2.6m0,-2.6l-2.6,2.6M124.0,332.9l2.6,2.6m0,-2.6l-2.6,2.6M485.7,304.2l2.6,2.6m0,-2.6l-2.6,2.6M332.0,291.3l2.6,2.6m0,-2.6l-2.6,2.6M219.9,288.5l2.6,2.6m0,-2.6l-2.6,2.6M123.9,326.8l2.6,2.6m0,-2.6l-2.6,2.6M271.2,359.8l2.6,2.6m0,-2.6l-2.6,2.6M618.3,329.0l2.6,2.6m0,-2.6l-2.6,2.6M266.6,356.0l2.6,2.6m0,-2.6l-2.6,2.6M483.2,303.6l2.6,2.6m0,-2.6l-2.6,2.6M686.5,326.2l2.6,2.6m0,-2.6l-2.6,2.6M132.3,344.6l2.6,2.6m0,-2.6l-2.6,2.6M614.8,320.1l2.6,2.6m0,-2.6l-2.6,2.6M475.5,284.3l2.6,2.6m0,-2.6l-2.6,2.6M678.6,326.6l2.6,2.6m0,-2.6l-2.6,2.6M251.3,331.0l2.6,2.6m0,-2.6l-2.6,2.6M407.6,363.4l2.6,2.6m0,-2.6l-2.6,2.6M79.3,289.6l2.6,2.6m0,-2.6l-2.6,2.6M675.6,342.8l2.6,2.6m0,-2.6l-2.6,2.6M136.0,355.1l2.6,2.6m0,-2.6l-2.6,2.6M532.2,363.0l2.6,2.6m0,-2.6l-2.6,2.6M544.1,348.9l2.6,2.6m0,-2.6l-2.6,2.6M663.2,361.5l2.6,2.6m0,-2.6l-2.6,2.6M382.7,344.2l2.6,2.6m0,-2.6l-2.6,2.6M669.0,351.2l2.6,2.6m0,-2.6l-2.6,2.6M513.9,360.8l2.6,2.6m0,-2.6l-2.6,2.6M211.9,283.0l2.6,2.6m0,-2.6l-2.6,2.6M626.8,340.3l2.6,2.6m0,-2.6l-2.6,2.6M168.0,359.8l2.6,2.6m0,-2.6l-2.6,2.6M146.6,365.1l2.6,2.6m0,-2.6l-2.6,2.6M613.2,310.8l2.6,2.6m0,-2.6l-2.6,2.6M154.8,369.4l2.6,2.6m0,-2.6l-2.6,2.6M341.0,283.7l2.6,2.6m0,-2.6l-2.6,2.6M199.9,300.9l2.6,2.6m0,-2.6l-2.6,2.6M618.1,324.2l2.6,2.6m0,-2.6l-2.6,2.6M455.3,284.8l2.6,2.6m0,-2.6l-2.6,2.6M650.8,368.6l2.6,2.6m0,-2.6l-2.6,2.6M528.5,365.3l2.6,2.6m0,-2.6l-2.6,2.6M482.0,294.7l2.6,2.6m0,-2.6l-2.6,2.6M471.3,285.9l2.6,2.6m0,-2.6l-2.6,2.6M229.5,289.5l2.6,2.6m0,-2.6l-2.6,2.6M624.4,344.0l2.6,2.6m0,-2.6l-2.6,2.6M460.9,285.2l2.6,2.6m0,-2.6l-2.6,2.6M142.2,359.3l2.6,2.6m0,-2.6l-2.6,2.6M641.8,362.9l2.6,2.6m0,-2.6l-2.6,2.6M505.0,343.2l2.6,2.6m0,-2.6l-2.6,2.6M603.8,296.3l2.6,2.6m0,-2.6l-2.6,2.6M138.0,352.8l2.6,2.6m0,-2.6l-2.6,2.6M344.9,286.0l2.6,2.6m0,-2.6l-2.6,2.6M674.2,346.9l2.6,2.6m0,-2.6l-2.6,2.6M676.8,341.0l2.6,2.6m0,-2.6l-2.6,2.6M157.4,365.1l2.6,2.6m0,-2.6l-2.6,2.6M96.4,286.9l2.6,2.6m0,-2.6l-2.6,2.6M299.5,349.0l2.6,2.6m0,-2.6l-2.6,2.6M84.4,289.4l2.6,2.6m0,-2.6l-2.6,2.6M415.4,358.4l2.6,2.6m0,-2.6l-2.6,2.6M390.8,359.4l2.6,2.6m0,-2.6l-2.6,2.6M167.5,358.1l2.6,2.6m0,-2.6l-2.6,2.6M438.7,316.6l2.6,2.6m0,-2.6l-2.6,2.6M453.0,290.0l2.6,2.6m0,-2.6l-2.6,2.6M139.9,359.9l2.6,2.6m0,-2.6l-2.6,2.6M678.3,342.6l2.6,2.6m0,-2.6l-2.6,2.6M394.3,359.7l2.6,2.6m0,-2.6l-2.6,2.6M540.5,355.4l2.6,2.6m0,-2.6l-2.6,2.6M378.0,335.2l2.6,2.6m0,-2.6l-2.6,2.6M440.5,313.1l2.6,2.6m0,-2.6l-2.6,2.6M241.5,308.0l2.6,2.6m0,-2.6l-2.6,2.6M591.0,283.8l2.6,2.6m0,-2.6l-2.6,2.6M149.5,363.4l2.6,2.6m0,-2.6l-2.6,2.6M181.4,332.6l2.6,2.6m0,-2.6l-2.6,2.6M141.4,355.8l2.6,2.6m0,-2.6l-2.6,2.6M367.4,317.7l2.6,2.6m0,-2.6l-2.6,2.6M482.2,297.0l2.6,2.6m0,-2.6l-2.6,2.6M170.2,357.3l2.6,2.6m0,-2.6l-2.6,2.6M270.1,361.5l2.6,2.6m0,-2.6l-2.6,2.6M605.7,298.7l2.6,2.6m0,-2.6l-2.6,2.6M110.9,306.2l2.6,2.6m0,-2.6l-2.6,2.6M526.8,366.7l2.6,2.6m0,-2.6l-2.6,2.6M91.4,287.8l2.6,2.6m0,-2.6l-2.6,2.6M586.7,281.1l2.6,2.6m0,-2.6l-2.6,2.6M432.6,327.1l2.6,2.6m0,-2.6l-2.6,2.6M67.0,314.5l2.6,2.6m0,-2.6l-2.6,2.6M287.8,359.8l2.6,2.6m0,-2.6l-2.6,2.6M384.4,358.1l2.6,2.6m0,-2.6l-2.6,2.6M212.4,285.8l2.6,2.6m0,-2.6l-2.6,2.6M564.0,319.4l2.6,2.6m0,-2.6l-2.6,2.6M427.8,330.0l2.6,2.6m0,-2.6l-2.6,2.6M280.2,363.2l2.6,2.6m0,-2.6l-2.6,2.6M202.2,299.9l2.6,2.6m0,-2.6l-2.6,2.6M667.6,358.0l2.6,2.6m0,-2.6l-2.6,2.6M612.2,311.1l2.6,2.6m0,-2.6l-2.6,2.6M584.9,284.2l2.6,2.6m0,-2.6l-2.6,2.6M167.9,361.3l2.6,2.6m0,-2.6l-2.6,2.6M249.8,327.7l2.6,2.6m0,-2.6l-2.6,2.6M81.2,289.7l2.6,2.6m0,-2.6l-2.6,2.6M75.8,298.0l2.6,2.6m0,-2.6l-2.6,2.6M602.0,289.1l2.6,2.6m0,-2.6l-2.6,2.6M294.3,356.0l2.6,2.6m0,-2.6l-2.6,2.6M674.5,340.4l2.6,2.6m0,-2.6l-2.6,2.6M667.9,356.8l2.6,2.6m0,-2.6l-2.6,2.6M665.1,357.3l2.6,2.6m0,-2.6l-2.6,2.6M355.2,292.9l2.6,2.6m0,-2.6l-2.6,2.6M630.9,345.8l2.6,2.6m0,-2.6l-2.6,2.6M431.1,326.7l2.6,2.6m0,-2.6l-2.6,2.6M658.2,369.4l2.6,2.6m0,-2.6l-2.6,2.6M123.0,329.1l2.6,2.6m0,-2.6l-2.6,2.6M96.9,290.2l2.6,2.6m0,-2.6l-2.6,2.6M165.3,364.8l2.6,2.6m0,-2.6l-2.6,2.6M554.2,331.5l2.6,2.6m0,-2.6l-2.6,2.6M493.2,312.5l2.6,2.6m0,-2.6l-2.6,2.6M198.4,301.0l2.6,2.6m0,-2.6l-2.6,2.6M585.1,282.7l2.6,2.6m0,-2.6l-2.6,2.6M276.8,364.3l2.6,2.6m0,-2.6l-2.6,2.6M97.5,290.8l2.6,2.6m0,-2.6l-2.6,2.6M320.0,305.5l2.6,2.6m0,-2.6l-2.6,2.6M415.5,360.0l2.6,2.6m0,-2.6l-2.6,2.6M186.8,321.8l2.6,2.6m0,-2.6l-2.6,2.6M370.9,323.8l2.6,2.6m0,-2.6l-2.6,2.6M304.0,335.4l2.6,2.6m0,-2.6l-2.6,2.6M603.3,297.3l2.6,2.6m0,-2.6l-2.6,2.6M672.2,353.6l2.6,2.6m0,-2.6l-2.6,2.6M436.8,316.5l2.6,2.6m0,-2.6l-2.6,2.6M674.4,342.1l2.6,2.6m0,-2.6l-2.6,2.6M497.9,321.1l2.6,2.6m0,-2.6l-2.6,2.6M270.6,365.1l2.6,2.6m0,-2.6l-2.6,2.6M614.3,317.1l2.6,2.6m0,-2.6l-2.6,2.6M156.6,367.9l2.6,2.6m0,-2.6l-2.6,2.6M627.6,334.1l2.6,2.6m0,-2.6l-2.6,2.6M437.7,313.7l2.6,2.6m0,-2.6l-2.6,2.6M519.7,364.4l2.6,2.6m0,-2.6l-2.6,2.6M63.3,324.7l2.6,2.6m0,-2.6l-2.6,2.6M223.5,287.8l2.6,2.6m0,-2.6l-2.6,2.6M187.6,314.3l2.6,2.6m0,-2.6l-2.6,2.6M325.4,301.0l2.6,2.6m0,-2.6l-2.6,2.6M390.1,357.4l2.6,2.6m0,-2.6l-2.6,2.6M174.1,354.5l2.6,2.6m0,-2.6l-2.6,2.6M411.9,359.7l2.6,2.6m0,-2.6l-2.6,2.6M191.3,317.2l2.6,2.6m0,-2.6l-2.6,2.6M596.0,282.7l2.6,2.6m0,-2.6l-2.6,2.6M599.6,286.9l2.6,2.6m0,-2.6l-2.6,2.6M511.0,350.3l2.6,2.6m0,-2.6l-2.6,2.6M679.4,327.7l2.6,2.6m0,-2.6l-2.6,2.6M668.8,357.6l2.6,2.6m0,-2.6l-2.6,2.6M292.8,355.3l2.6,2.6m0,-2.6l-2.6,2.6M329.7,291.9l2.6,2.6m0,-2.6l-2.6,2.6M84.1,295.7l2.6,2.6m0,-2.6l-2.6,2.6M225.6,290.1l2.6,2.6m0,-2.6l-2.6,2.6M69.4,309.0l2.6,2.6m0,-2.6l-2.6,2.6M627.6,342.6l2.6,2.6m0,-2.6l-2.6,2.6M582.9,282.5l2.6,2.6m0,-2.6l-2.6,2.6M297.4,353.9l2.6,2.6m0,-2.6l-2.6,2.6M312.2,318.0l2.6,2.6m0,-2.6l-2.6,2.6M669.4,354.7l2.6,2.6m0,-2.6l-2.6,2.6M114.1,312.1l2.6,2.6m0,-2.6l-2.6,2.6M298.1,346.0l2.6,2.6m0,-2.6l-2.6,2.6M388.9,355.7l2.6,2.6m0,-2.6l-2.6,2.6M161.4,367.8l2.6,2.6m0,-2.6l-2.6,2.6M355.9,293.4l2.6,2.6m0,-2.6l-2.6,2.6M171.0,355.5l2.6,2.6m0,-2.6l-2.6,2.6M616.8,323.3l2.6,2.6m0,-2.6l-2.6,2.6M532.9,360.6l2.6,2.6m0,-2.6l-2.6,2.6M322.7,305.9l2.6,2.6m0,-2.6l-2.6,2.6M512.5,342.9l2.6,2.6m0,-2.6l-2.6,2.6M376.0,335.9l2.6,2.6m0,-2.6l-2.6,2.6M467.6,280.8l2.6,2.6m0,-2.6l-2.6,2.6M294.4,345.2l2.6,2.6m0,-2.6l-2.6,2.6M141.1,360.3l2.6,2.6m0,-2.6l-2.6,2.6M364.0,312.0l2.6,2.6m0,-2.6l-2.6,2.6M460.2,284.7l2.6,2.6m0,-2.6l-2.6,2.6M658.6,367.3l2.6,2.6m0,-2.6l-2.6,2.6M621.6,330.7l2.6,2.6m0,-2.6l-2.6,2.6M88.8,294.3l2.6,2.6m0,-2.6l-2.6,2.6M142.1,362.5l2.6,2.6m0,-2.6l-2.6,2.6M298.3,351.9l2.6,2.6m0,-2.6l-2.6,2.6M661.4,364.3l2.6,2.6m0,-2.6l-2.6,2.6M653.8,368.9l2.6,2.6m0,-2.6l-2.6,2.6M74.6,298.4l2.6,2.6m0,-2.6l-2.6,2.6M587.9,280.1l2.6,2.6m0,-2.6l-2.6,2.6M284.3,366.0l2.6,2.6m0,-2.6l-2.6,2.6M169.0,348.5l2.6,2.6m0,-2.6l-2.6,2.6M584.1,285.7l2.6,2.6m0,-2.6l-2.6,2.6M418.0,349.9l2.6,2.6m0,-2.6l-2.6,2.6M620.5,322.5l2.6,2.6m0,-2.6l-2.6,2.6M262.2,352.4l2.6,2.6m0,-2.6l-2.6,2.6M630.2,350.6l2.6,2.6m0,-2.6l-2.6,2.6M528.6,364.8l2.6,2.6m0,-2.6l-2.6,2.6M337.9,282.7l2.6,2.6m0,-2.6l-2.6,2.6M169.5,354.2l2.6,2.6m0,-2.6l-2.6,2.6M482.3,299.6l2.6,2.6m0,-2.6l-2.6,2.6M467.6,281.1l2.6,2.6m0,-2.6l-2.6,2.6M114.6,308.7l2.6,2.6m0,-2.6l-2.6,2.6M316.3,309.6l2.6,2.6m0,-2.6l-2.6,2.6M136.8,352.6l2.6,2.6m0,-2.6l-2.6,2.6M402.5,363.6l2.6,2.6m0,-2.6l-2.6,2.6M196.1,302.5l2.6,2.6m0,-2.6l-2.6,2.6M636.2,358.5l2.6,2.6m0,-2.6l-2.6,2.6M243.4,318.2l2.6,2.6m0,-2.6l-2.6,2.6M670.2,348.5l2.6,2.6m0,-2.6l-2.6,2.6M93.4,279.3l2.6,2.6m0,-2.6l-2.6,2.6M550.3,339.9l2.6,2.6m0,-2.6l-2.6,2.6M70.7,306.1l2.6,2.6m0,-2.6l-2.6,2.6M81.6,292.2l2.6,2.6m0,-2.6l-2.6,2.6M408.5,363.7l2.6,2.6m0,-2.6l-2.6,2.6M593.0,281.2l2.6,2.6m0,-2.6l-2.6,2.6M152.3,370.6l2.6,2.6m0,-2.6l-2.6,2.6M619.2,321.3l2.6,2.6m0,-2.6l-2.6,2.6M146.4,361.3l2.6,2.6m0,-2.6l-2.6,2.6M556.5,326.7l2.6,2.6m0,-2.6l-2.6,2.6M669.4,353.7l2.6,2.6m0,-2.6l-2.6,2.6M357.5,292.0l2.6,2.6m0,-2.6l-2.6,2.6M75.4,299.0l2.6,2.6m0,-2.6l-2.6,2.6M308.9,320.4l2.6,2.6m0,-2.6l-2.6,2.6M578.1,287.4l2.6,2.6m0,-2.6l-2.6,2.6M318.7,305.1l2.6,2.6m0,-2.6l-2.6,2.6M683.4,328.6l2.6,2.6m0,-2.6l-2.6,2.6M185.8,332.1l2.6,2.6m0,-2.6l-2.6,2.6M236.8,302.1l2.6,2.6m0,-2.6l-2.6,2.6M578.4,286.9l2.6,2.6m0,-2.6l-2.6,2.6M417.5,356.5l2.6,2.6m0,-2.6l-2.6,2.6M91.0,292.6l2.6,2.6m0,-2.6l-2.6,2.6M300.6,344.8l2.6,2.6m0,-2.6l-2.6,2.6M356.2,295.9l2.6,2.6m0,-2.6l-2.6,2.6M294.5,356.9l2.6,2.6m0,-2.6l-2.6,2.6M621.6,331.1l2.6,2.6m0,-2.6l-2.6,2.6M425.4,339.7l2.6,2.6m0,-2.6l-2.6,2.6M140.0,359.8l2.6,2.6m0,-2.6l-2.6,2.6M605.6,290.2l2.6,2.6m0,-2.6l-2.6,2.6M82.1,292.1l2.6,2.6m0,-2.6l-2.6,2.6M480.4,292.6l2.6,2.6m0,-2.6l-2.6,2.6M130.7,345.2l2.6,2.6m0,-2.6l-2.6,2.6M496.0,321.1l2.6,2.6m0,-2.6l-2.6,2.6M203.8,291.2l2.6,2.6m0,-2.6l-2.6,2.6M306.1,334.3l2.6,2.6m0,-2.6l-2.6,2.6M306.7,327.4l2.6,2.6m0,-2.6l-2.6,2.6M320.4,303.1l2.6,2.6m0,-2.6l-2.6,2.6M166.6,358.4l2.6,2.6m0,-2.6l-2.6,2.6M617.5,320.2l2.6,2.6m0,-2.6l-2.6,2.6M531.5,365.8l2.6,2.6m0,-2.6l-2.6,2.6M91.0,289.2l2.6,2.6m0,-2.6l-2.6,2.6M268.0,364.8l2.6,2.6m0,-2.6l-2.6,2.6M578.2,289.4l2.6,2.6m0,-2.6l-2.6,2.6M281.0,366.9l2.6,2.6m0,-2.6l-2.6,2.6M435.2,320.5l2.6,2.6m0,-2.6l-2.6,2.6M272.9,363.3l2.6,2.6m0,-2.6l-2.6,2.6M246.2,324.2l2.6,2.6m0,-2.6l-2.6,2.6M483.1,301.4l2.6,2.6m0,-2.6l-2.6,2.6M638.0,358.2l2.6,2.6m0,-2.6l-2.6,2.6M406.6,364.8l2.6,2.6m0,-2.6l-2.6,2.6M314.2,314.9l2.6,2.6m0,-2.6l-2.6,2.6M321.9,298.1l2.6,2.6m0,-2.6l-2.6,2.6M550.6,329.7l2.6,2.6m0,-2.6l-2.6,2.6M318.4,303.0l2.6,2.6m0,-2.6l-2.6,2.6M609.4,311.1l2.6,2.6m0,-2.6l-2.6,2.6M428.2,336.0l2.6,2.6m0,-2.6l-2.6,2.6M334.2,285.3l2.6,2.6m0,-2.6l-2.6,2.6M85.9,289.7l2.6,2.6m0,-2.6l-2.6,2.6M575.9,288.9l2.6,2.6m0,-2.6l-2.6,2.6M144.8,366.7l2.6,2.6m0,-2.6l-2.6,2.6M312.8,319.4l2.6,2.6m0,-2.6l-2.6,2.6M328.7,287.0l2.6,2.6m0,-2.6l-2.6,2.6M179.0,339.2l2.6,2.6m0,-2.6l-2.6,2.6M276.2,361.8l2.6,2.6m0,-2.6l-2.6,2.6M134.1,349.2l2.6,2.6m0,-2.6l-2.6,2.6M420.5,354.6l2.6,2.6m0,-2.6l-2.6,2.6M279.1,366.7l2.6,2.6m0,-2.6l-2.6,2.6M639.6,359.7l2.6,2.6m0,-2.6l-2.6,2.6M677.6,329.1l2.6,2.6m0,-2.6l-2.6,2.6M152.4,366.7l2.6,2.6m0,-2.6l-2.6,2.6M640.8,366.3l2.6,2.6m0,-2.6l-2.6,2.6M447.4,295.5l2.6,2.6m0,-2.6l-2.6,2.6M128.6,339.9l2.6,2.6m0,-2.6l-2.6,2.6M381.3,342.2l2.6,2.6m0,-2.6l-2.6,2.6M329.1,292.5l2.6,2.6m0,-2.6l-2.6,2.6M255.3,332.7l2.6,2.6m0,-2.6l-2.6,2.6M531.2,365.6l2.6,2.6m0,-2.6l-2.6,2.6M445.3,301.9l2.6,2.6m0,-2.6l-2.6,2.6M162.0,362.6l2.6,2.6m0,-2.6l-2.6,2.6M629.6,350.6l2.6,2.6m0,-2.6l-2.6,2.6M247.7,315.2l2.6,2.6m0,-2.6l-2.6,2.6M675.9,342.9l2.6,2.6m0,-2.6l-2.6,2.6M606.6,299.4l2.6,2.6m0,-2.6l-2.6,2.6M206.1,292.2l2.6,2.6m0,-2.6l-2.6,2.6M669.0,356.7l2.6,2.6m0,-2.6l-2.6,2.6M630.6,346.0l2.6,2.6m0,-2.6l-2.6,2.6M117.1,310.2l2.6,2.6m0,-2.6l-2.6,2.6M504.4,339.8l2.6,2.6m0,-2.6l-2.6,2.6M482.3,297.8l2.6,2.6m0,-2.6l-2.6,2.6M510.2,349.9l2.6,2.6m0,-2.6l-2.6,2.6M587.0,282.8l2.6,2.6m0,-2.6l-2.6,2.6M539.1,355.9l2.6,2.6m0,-2.6l-2.6,2.6M322.0,298.4l2.6,2.6m0,-2.6l-2.6,2.6M303.5,331.7l2.6,2.6m0,-2.6l-2.6,2.6M188.5,320.7l2.6,2.6m0,-2.6l-2.6,2.6M342.4,283.2l2.6,2.6m0,-2.6l-2.6,2.6M384.2,346.8l2.6,2.6m0,-2.6l-2.6,2.6M118.9,327.2l2.6,2.6m0,-2.6l-2.6,2.6M672.8,351.0l2.6,2.6m0,-2.6l-2.6,2.6M176.3,342.5l2.6,2.6m0,-2.6l-2.6,2.6M329.3,290.6l2.6,2.6m0,-2.6l-2.6,2.6M303.9,340.5l2.6,2.6m0,-2.6l-2.6,2.6M205.6,293.5l2.6,2.6m0,-2.6l-2.6,2.6M96.9,289.8l2.6,2.6m0,-2.6l-2.6,2.6M411.3,361.1l2.6,2.6m0,-2.6l-2.6,2.6M525.4,366.7l2.6,2.6m0,-2.6l-2.6,2.6M236.3,302.3l2.6,2.6m0,-2.6l-2.6,2.6M520.5,361.9l2.6,2.6m0,-2.6l-2.6,2.6M640.7,363.5l2.6,2.6m0,-2.6l-2.6,2.6M169.2,358.4l2.6,2.6m0,-2.6l-2.6,2.6M413.6,363.1l2.6,2.6m0,-2.6l-2.6,2.6M595.4,284.1l2.6,2.6m0,-2.6l-2.6,2.6M572.9,291.5l2.6,2.6m0,-2.6l-2.6,2.6M193.2,306.3l2.6,2.6m0,-2.6l-2.6,2.6M662.8,366.3l2.6,2.6m0,-2.6l-2.6,2.6M146.8,364.5l2.6,2.6m0,-2.6l-2.6,2.6M313.5,318.4l2.6,2.6m0,-2.6l-2.6,2.6M208.3,286.3l2.6,2.6m0,-2.6l-2.6,2.6M203.9,294.5l2.6,2.6m0,-2.6l-2.6,2.6M220.8,286.3l2.6,2.6m0,-2.6l-2.6,2.6M280.6,367.1l2.6,2.6m0,-2.6l-2.6,2.6M133.9,350.3l2.6,2.6m0,-2.6l-2.6,2.6M217.3,284.7l2.6,2.6m0,-2.6l-2.6,2.6M677.2,339.1l2.6,2.6m0,-2.6l-2.6,2.6M143.6,365.2l2.6,2.6m0,-2.6l-2.6,2.6M302.7,340.8l2.6,2.6m0,-2.6l-2.6,2.6M589.0,282.5l2.6,2.6m0,-2.6l-2.6,2.6M361.5,308.7l2.6,2.6m0,-2.6l-2.6,2.6M507.1,350.9l2.6,2.6m0,-2.6l-2.6,2.6M561.7,315.7l2.6,2.6m0,-2.6l-2.6,2.6M657.5,367.1l2.6,2.6m0,-2.6l-2.6,2.6M393.1,361.0l2.6,2.6m0,-2.6l-2.6,2.6M124.8,329.7l2.6,2.6m0,-2.6l-2.6,2.6M143.4,362.0l2.6,2.6m0,-2.6l-2.6,2.6M196.3,307.7l2.6,2.6m0,-2.6l-2.6,2.6M324.4,293.7l2.6,2.6m0,-2.6l-2.6,2.6M332.9,288.4l2.6,2.6m0,-2.6l-2.6,2.6M625.0,341.9l2.6,2.6m0,-2.6l-2.6,2.6M416.1,357.6l2.6,2.6m0,-2.6l-2.6,2.6M194.2,309.8l2.6,2.6m0,-2.6l-2.6,2.6M389.8,360.4l2.6,2.6m0,-2.6l-2.6,2.6M426.1,344.2l2.6,2.6m0,-2.6l-2.6,2.6M134.0,348.5l2.6,2.6m0,-2.6l-2.6,2.6M468.7,281.5l2.6,2.6m0,-2.6l-2.6,2.6M659.2,369.2l2.6,2.6m0,-2.6l-2.6,2.6M545.3,348.4l2.6,2.6m0,-2.6l-2.6,2.6M534.4,362.8l2.6,2.6m0,-2.6l-2.6,2.6M594.6,289.2l2.6,2.6m0,-2.6l-2.6,2.6M542.8,351.8l2.6,2.6m0,-2.6l-2.6,2.6M428.5,335.4l2.6,2.6m0,-2.6l-2.6,2.6M120.1,323.9l2.6,2.6m0,-2.6l-2.6,2.6M188.7,309.7l2.6,2.6m0,-2.6l-2.6,2.6M649.7,371.7l2.6,2.6m0,-2.6l-2.6,2.6M193.1,308.9l2.6,2.6m0,-2.6l-2.6,2.6M314.6,312.0l2.6,2.6m0,-2.6l-2.6,2.6M300.0,345.6l2.6,2.6m0,-2.6l-2.6,2.6M84.9,290.9l2.6,2.6m0,-2.6l-2.6,2.6M468.2,283.6l2.6,2.6m0,-2.6l-2.6,2.6M248.0,320.9l2.6,2.6m0,-2.6l-2.6,2.6M398.8,362.1l2.6,2.6m0,-2.6l-2.6,2.6M469.4,280.3l2.6,2.6m0,-2.6l-2.6,2.6M567.7,301.7l2.6,2.6m0,-2.6l-2.6,2.6M317.7,309.8l2.6,2.6m0,-2.6l-2.6,2.6M143.1,365.8l2.6,2.6m0,-2.6l-2.6,2.6M458.2,284.5l2.6,2.6m0,-2.6l-2.6,2.6M506.5,337.2l2.6,2.6m0,-2.6l-2.6,2.6M328.1,295.2l2.6,2.6m0,-2.6l-2.6,2.6M160.4,367.1l2.6,2.6m0,-2.6l-2.6,2.6M406.7,364.3l2.6,2.6m0,-2.6l-2.6,2.6M300.8,342.4l2.6,2.6m0,-2.6l-2.6,2.6M488.7,315.4l2.6,2.6m0,-2.6l-2.6,2.6M72.7,306.8l2.6,2.6m0,-2.6l-2.6,2.6M270.2,364.7l2.6,2.6m0,-2.6l-2.6,2.6M186.9,326.7l2.6,2.6m0,-2.6l-2.6,2.6M590.8,285.8l2.6,2.6m0,-2.6l-2.6,2.6M412.0,359.0l2.6,2.6m0,-2.6l-2.6,2.6M139.2,360.3l2.6,2.6m0,-2.6l-2.6,2.6M611.3,307.2l2.6,2.6m0,-2.6l-2.6,2.6M67.7,311.4l2.6,2.6m0,-2.6l-2.6,2.6M471.8,288.9l2.6,2.6m0,-2.6l-2.6,2.6M596.5,286.1l2.6,2.6m0,-2.6l-2.6,2.6M69.5,308.8l2.6,2.6m0,-2.6l-2.6,2.6M531.7,365.3l2.6,2.6m0,-2.6l-2.6,2.6M411.1,362.1l2.6,2.6m0,-2.6l-2.6,2.6M182.7,333.3l2.6,2.6m0,-2.6l-2.6,2.6M355.2,296.4l2.6,2.6m0,-2.6l-2.6,2.6M566.0,308.7l2.6,2.6m0,-2.6l-2.6,2.6M303.3,344.0l2.6,2.6m0,-2.6l-2.6,2.6M453.2,292.7l2.6,2.6m0,-2.6l-2.6,2.6M83.2,294.5l2.6,2.6m0,-2.6l-2.6,2.6M150.2,367.1l2.6,2.6m0,-2.6l-2.6,2.6M654.6,370.2l2.6,2.6m0,-2.6l-2.6,2.6M115.5,310.9l2.6,2.6m0,-2.6l-2.6,2.6M429.2,336.5l2.6,2.6m0,-2.6l-2.6,2.6M519.0,366.7l2.6,2.6m0,-2.6l-2.6,2.6M133.3,353.6l2.6,2.6m0,-2.6l-2.6,2.6M517.1,360.1l2.6,2.6m0,-2.6l-2.6,2.6M95.9,289.0l2.6,2.6m0,-2.6l-2.6,2.6M531.5,365.8l2.6,2.6m0,-2.6l-2.6,2.6M278.1,365.6l2.6,2.6m0,-2.6l-2.6,2.6M74.3,303.4l2.6,2.6m0,-2.6l-2.6,2.6M679.8,344.6l2.6,2.6m0,-2.6l-2.6,2.6M331.6,289.8l2.6,2.6m0,-2.6l-2.6,2.6M227.1,292.5l2.6,2.6m0,-2.6l-2.6,2.6M426.7,340.3l2.6,2.6m0,-2.6l-2.6,2.6M539.7,350.9l2.6,2.6m0,-2.6l-2.6,2.6M457.7,285.0l2.6,2.6m0,-2.6l-2.6,2.6M314.8,317.8l2.6,2.6m0,-2.6l-2.6,2.6M90.9,290.8l2.6,2.6m0,-2.6l-2.6,2.6M121.5,321.5l2.6,2.6m0,-2.6l-2.6,2.6M116.7,316.7l2.6,2.6m0,-2.6l-2.6,2.6M483.7,304.9l2.6,2.6m0,-2.6l-2.6,2.6M395.1,361.5l2.6,2.6m0,-2.6l-2.6,2.6M402.0,362.6l2.6,2.6m0,-2.6l-2.6,2.6M399.8,365.4l2.6,2.6m0,-2.6l-2.6,2.6M571.7,301.9l2.6,2.6m0,-2.6l-2.6,2.6M181.6,334.8l2.6,2.6m0,-2.6l-2.6,2.6M207.4,291.4l2.6,2.6m0,-2.6l-2.6,2.6M442.9,310.1l2.6,2.6m0,-2.6l-2.6,2.6M256.1,337.7l2.6,2.6m0,-2.6l-2.6,2.6M500.9,335.3l2.6,2.6m0,-2.6l-2.6,2.6M593.0,284.1l2.6,2.6m0,-2.6l-2.6,2.6M657.6,367.9l2.6,2.6m0,-2.6l-2.6,2.6M195.5,306.9l2.6,2.6m0,-2.6l-2.6,2.6M456.2,287.8l2.6,2.6m0,-2.6l-2.6,2.6M627.9,345.0l2.6,2.6m0,-2.6l-2.6,2.6M436.6,314.3l2.6,2.6m0,-2.6l-2.6,2.6M120.0,314.7l2.6,2.6m0,-2.6l-2.6,2.6M653.9,367.5l2.6,2.6m0,-2.6l-2.6,2.6M484.6,299.1l2.6,2.6m0,-2.6l-2.6,2.6M302.3,338.4l2.6,2.6m0,-2.6l-2.6,2.6M520.0,359.8l2.6,2.6m0,-2.6l-2.6,2.6M610.2,307.3l2.6,2.6m0,-2.6l-2.6,2.6M373.6,329.9l2.6,2.6m0,-2.6l-2.6,2.6M137.0,354.9l2.6,2.6m0,-2.6l-2.6,2.6M493.3,317.8l2.6,2.6m0,-2.6l-2.6,2.6M262.5,355.3l2.6,2.6m0,-2.6l-2.6,2.6M290.4,356.6l2.6,2.6m0,-2.6l-2.6,2.6M613.0,314.1l2.6,2.6m0,-2.6l-2.6,2.6M535.2,357.0l2.6,2.6m0,-2.6l-2.6,2.6M129.3,344.7l2.6,2.6m0,-2.6l-2.6,2.6M248.8,327.9l2.6,2.6m0,-2.6l-2.6,2.6M101.6,291.1l2.6,2.6m0,-2.6l-2.6,2.6M476.0,285.5l2.6,2.6m0,-2.6l-2.6,2.6M342.5,284.7l2.6,2.6m0,-2.6l-2.6,2.6M387.4,353.9l2.6,2.6m0,-2.6l-2.6,2.6M612.3,312.4l2.6,2.6m0,-2.6l-2.6,2.6M544.5,342.6l2.6,2.6m0,-2.6l-2.6,2.6M127.2,341.4l2.6,2.6m0,-2.6l-2.6,2.6M471.8,283.9l2.6,2.6m0,-2.6l-2.6,2.6M429.1,332.5l2.6,2.6m0,-2.6l-2.6,2.6M643.8,363.3l2.6,2.6m0,-2.6l-2.6,2.6M315.7,310.6l2.6,2.6m0,-2.6l-2.6,2.6M402.2,364.7l2.6,2.6m0,-2.6l-2.6,2.6M615.6,318.6l2.6,2.6m0,-2.6l-2.6,2.6M426.3,340.5l2.6,2.6m0,-2.6l-2.6,2.6M502.1,337.3l2.6,2.6m0,-2.6l-2.6,2.6M155.8,366.9l2.6,2.6m0,-2.6l-2.6,2.6M586.1,283.2l2.6,2.6m0,-2.6l-2.6,2.6M96.4,286.4l2.6,2.6m0,-2.6l-2.6,2.6M310.5,322.1l2.6,2.6m0,-2.6l-2.6,2.6M364.6,315.8l2.6,2.6m0,-2.6l-2.6,2.6M677.5,341.7l2.6,2.6m0,-2.6l-2.6,2.6M587.5,286.3l2.6,2.6m0,-2.6l-2.6,2.6M244.4,316.5l2.6,2.6m0,-2.6l-2.6,2.6M400.7,367.2l2.6,2.6m0,-2.6l-2.6,2.6M362.7,306.6l2.6,2.6m0,-2.6l-2.6,2.6M583.3,285.2l2.6,2.6m0,-2.6l-2.6,2.6M310.3,323.2l2.6,2.6m0,-2.6l-2.6,2.6M599.8,290.7l2.6,2.6m0,-2.6l-2.6,2.6M118.0,319.2l2.6,2.6m0,-2.6l-2.6,2.6M539.1,353.0l2.6,2.6m0,-2.6l-2.6,2.6M168.5,358.5l2.6,2.6m0,-2.6l-2.6,2.6M243.2,322.0l2.6,2.6m0,-2.6l-2.6,2.6M148.6,368.3l2.6,2.6m0,-2.6l-2.6,2.6M261.5,349.0l2.6,2.6m0,-2.6l-2.6,2.6M680.2,330.9l2.6,2.6m0,-2.6l-2.6,2.6M303.3,338.1l2.6,2.6m0,-2.6l-2.6,2.6M285.3,364.3l2.6,2.6m0,-2.6l-2.6,2.6M88.2,289.9l2.6,2.6m0,-2.6l-2.6,2.6M256.0,339.2l2.6,2.6m0,-2.6l-2.6,2.6M576.1,291.8l2.6,2.6m0,-2.6l-2.6,2.6M163.0,365.0l2.6,2.6m0,-2.6l-2.6,2.6M483.8,296.5l2.6,2.6m0,-2.6l-2.6,2.6M643.8,368.0l2.6,2.6m0,-2.6l-2.6,2.6M642.2,364.8l2.6,2.6m0,-2.6l-2.6,2.6M465.1,281.9l2.6,2.6m0,-2.6l-2.6,2.6M471.8,281.6l2.6,2.6m0,-2.6l-2.6,2.6M167.8,358.2l2.6,2.6m0,-2.6l-2.6,2.6M240.1,311.5l2.6,2.6m0,-2.6l-2.6,2.6M633.3,346.2l2.6,2.6m0,-2.6l-2.6,2.6M585.3,281.3l2.6,2.6m0,-2.6l-2.6,2.6M352.0,289.2l2.6,2.6m0,-2.6l-2.6,2.6M544.6,354.2l2.6,2.6m0,-2.6l-2.6,2.6M472.1,288.7l2.6,2.6m0,-2.6l-2.6,2.6M493.9,312.3l2.6,2.6m0,-2.6l-2.6,2.6M125.1,330.4l2.6,2.6m0,-2.6l-2.6,2.6M269.7,362.8l2.6,2.6m0,-2.6l-2.6,2.6M370.4,320.3l2.6,2.6m0,-2.6l-2.6,2.6M62.5,325.8l2.6,2.6m0,-2.6l-2.6,2.6M508.4,342.7l2.6,2.6m0,-2.6l-2.6,2.6M416.6,356.9l2.6,2.6m0,-2.6l-2.6,2.6M310.9,319.8l2.6,2.6m0,-2.6l-2.6,2.6M313.6,320.1l2.6,2.6m0,-2.6l-2.6,2.6M161.6,365.1l2.6,2.6m0,-2.6l-2.6,2.6M629.6,348.0l2.6,2.6m0,-2.6l-2.6,2.6M431.9,326.2l2.6,2.6m0,-2.6l-2.6,2.6M510.6,346.3l2.6,2.6m0,-2.6l-2.6,2.6M86.5,290.8l2.6,2.6m0,-2.6l-2.6,2.6M464.6,279.9l2.6,2.6m0,-2.6l-2.6,2.6M342.2,282.2l2.6,2.6m0,-2.6l-2.6,2.6M241.8,312.8l2.6,2.6m0,-2.6l-2.6,2.6M79.6,292.1l2.6,2.6m0,-2.6l-2.6,2.6M377.6,332.4l2.6,2.6m0,-2.6l-2.6,2.6M685.2,328.1l2.6,2.6m0,-2.6l-2.6,2.6M372.7,325.2l2.6,2.6m0,-2.6l-2.6,2.6M212.1,287.3l2.6,2.6m0,-2.6l-2.6,2.6M125.2,331.9l2.6,2.6m0,-2.6l-2.6,2.6M422.3,347.1l2.6,2.6m0,-2.6l-2.6,2.6M284.9,361.1l2.6,2.6m0,-2.6l-2.6,2.6M511.3,352.7l2.6,2.6m0,-2.6l-2.6,2.6M293.0,354.7l2.6,2.6m0,-2.6l-2.6,2.6M390.3,355.0l2.6,2.6m0,-2.6l-2.6,2.6M356.1,300.4l2.6,2.6m0,-2.6l-2.6,2.6M423.7,341.5l2.6,2.6m0,-2.6l-2.6,2.6M604.7,295.1l2.6,2.6m0,-2.6l-2.6,2.6M462.1,284.4l2.6,2.6m0,-2.6l-2.6,2.6M438.1,315.5l2.6,2.6m0,-2.6l-2.6,2.6M655.8,368.5l2.6,2.6m0,-2.6l-2.6,2.6M288.9,356.5l2.6,2.6m0,-2.6l-2.6,2.6M319.0,306.3l2.6,2.6m0,-2.6l-2.6,2.6M112.5,308.9l2.6,2.6m0,-2.6l-2.6,2.6M522.2,366.7l2.6,2.6m0,-2.6l-2.6,2.6M625.9,333.4l2.6,2.6m0,-2.6l-2.6,2.6M106.0,297.6l2.6,2.6m0,-2.6l-2.6,2.6M643.7,365.7l2.6,2.6m0,-2.6l-2.6,2.6M650.5,368.5l2.6,2.6m0,-2.6l-2.6,2.6M70.2,305.7l2.6,2.6m0,-2.6l-2.6,2.6M586.7,284.7l2.6,2.6m0,-2.6l-2.6,2.6M84.9,291.1l2.6,2.6m0,-2.6l-2.6,2.6M293.8,360.3l2.6,2.6m0,-2.6l-2.6,2.6M590.1,285.6l2.6,2.6m0,-2.6l-2.6,2.6M274.6,366.2l2.6,2.6m0,-2.6l-2.6,2.6M117.7,315.9l2.6,2.6m0,-2.6l-2.6,2.6M261.9,348.6l2.6,2.6m0,-2.6l-2.6,2.6M429.0,331.1l2.6,2.6m0,-2.6l-2.6,2.6M273.3,362.1l2.6,2.6m0,-2.6l-2.6,2.6M478.2,288.3l2.6,2.6m0,-2.6l-2.6,2.6M681.1,333.6l2.6,2.6m0,-2.6l-2.6,2.6M551.5,339.2l2.6,2.6m0,-2.6l-2.6,2.6M71.3,305.4l2.6,2.6m0,-2.6l-2.6,2.6M657.1,364.2l2.6,2.6m0,-2.6l-2.6,2.6M504.7,336.1l2.6,2.6m0,-2.6l-2.6,2.6M592.1,283.8l2.6,2.6m0,-2.6l-2.6,2.6M353.5,290.9l2.6,2.6m0,-2.6l-2.6,2.6M111.4,295.4l2.6,2.6m0,-2.6l-2.6,2.6M124.1,331.4l2.6,2.6m0,-2.6l-2.6,2.6M653.1,370.2l2.6,2.6m0,-2.6l-2.6,2.6M473.9,282.1l2.6,2.6m0,-2.6l-2.6,2.6M446.1,299.4l2.6,2.6m0,-2.6l-2.6,2.6M332.9,286.7l2.6,2.6m0,-2.6l-2.6,2.6M142.5,361.5l2.6,2.6m0,-2.6l-2.6,2.6M71.5,305.3l2.6,2.6m0,-2.6l-2.6,2.6M128.3,339.7l2.6,2.6m0,-2.6l-2.6,2.6M527.3,365.1l2.6,2.6m0,-2.6l-2.6,2.6M663.7,359.4l2.6,2.6m0,-2.6l-2.6,2.6M494.4,323.2l2.6,2.6m0,-2.6l-2.6,2.6M361.5,304.9l2.6,2.6m0,-2.6l-2.6,2.6M455.6,284.4l2.6,2.6m0,-2.6l-2.6,2.6M315.5,306.0l2.6,2.6m0,-2.6l-2.6,2.6M176.6,351.9l2.6,2.6m0,-2.6l-2.6,2.6M427.9,340.9l2.6,2.6m0,-2.6l-2.6,2.6M497.9,328.3l2.6,2.6m0,-2.6l-2.6,2.6M182.1,335.9l2.6,2.6m0,-2.6l-2.6,2.6M64.2,324.9l2.6,2.6m0,-2.6l-2.6,2.6M301.0,341.8l2.6,2.6m0,-2.6l-2.6,2.6M89.4,287.5l2.6,2.6m0,-2.6l-2.6,2.6M203.9,293.1l2.6,2.6m0,-2.6l-2.6,2.6M542.2,353.7l2.6,2.6m0,-2.6l-2.6,2.6M316.2,313.6l2.6,2.6m0,-2.6l-2.6,2.6M266.8,356.4l2.6,2.6m0,-2.6l-2.6,2.6M146.9,363.0l2.6,2.6m0,-2.6l-2.6,2.6M475.1,290.5l2.6,2.6m0,-2.6l-2.6,2.6M216.1,286.0l2.6,2.6m0,-2.6l-2.6,2.6M91.2,289.0l2.6,2.6m0,-2.6l-2.6,2.6M499.8,327.9l2.6,2.6m0,-2.6l-2.6,2.6M531.3,361.2l2.6,2.6m0,-2.6l-2.6,2.6M306.1,332.8l2.6,2.6m0,-2.6l-2.6,2.6M615.6,314.8l2.6,2.6m0,-2.6l-2.6,2.6M531.1,364.9l2.6,2.6m0,-2.6l-2.6,2.6M670.2,357.3l2.6,2.6m0,-2.6l-2.6,2.6M221.3,285.3l2.6,2.6m0,-2.6l-2.6,2.6M278.9,368.4l2.6,2.6m0,-2.6l-2.6,2.6M108.9,295.4l2.6,2.6m0,-2.6l-2.6,2.6M619.8,327.2l2.6,2.6m0,-2.6l-2.6,2.6M185.3,324.0l2.6,2.6m0,-2.6l-2.6,2.6M319.9,300.1l2.6,2.6m0,-2.6l-2.6,2.6M617.4,319.0l2.6,2.6m0,-2.6l-2.6,2.6M453.9,293.8l2.6,2.6m0,-2.6l-2.6,2.6M350.8,290.0l2.6,2.6m0,-2.6l-2.6,2.6M109.4,302.6l2.6,2.6m0,-2.6l-2.6,2.6M108.0,302.8l2.6,2.6m0,-2.6l-2.6,2.6M634.6,355.8l2.6,2.6m0,-2.6l-2.6,2.6M151.7,369.5l2.6,2.6m0,-2.6l-2.6,2.6M130.8,346.5l2.6,2.6m0,-2.6l-2.6,2.6M70.0,316.1l2.6,2.6m0,-2.6l-2.6,2.6M190.3,324.0l2.6,2.6m0,-2.6l-2.6,2.6M341.6,281.4l2.6,2.6m0,-2.6l-2.6,2.6M605.1,296.0l2.6,2.6m0,-2.6l-2.6,2.6M618.7,325.7l2.6,2.6m0,-2.6l-2.6,2.6M195.9,297.0l2.6,2.6m0,-2.6l-2.6,2.6M665.2,353.2l2.6,2.6m0,-2.6l-2.6,2.6M524.9,364.9l2.6,2.6m0,-2.6l-2.6,2.6M437.4,318.7l2.6,2.6m0,-2.6l-2.6,2.6M143.3,362.8l2.6,2.6m0,-2.6l-2.6,2.6M95.5,294.5l2.6,2.6m0,-2.6l-2.6,2.6M652.5,370.3l2.6,2.6m0,-2.6l-2.6,2.6M384.4,348.3l2.6,2.6m0,-2.6l-2.6,2.6M452.1,296.2l2.6,2.6m0,-2.6l-2.6,2.6M588.2,281.3l2.6,2.6m0,-2.6l-2.6,2.6M379.5,337.6l2.6,2.6m0,-2.6l-2.6,2.6M173.0,352.9l2.6,2.6m0,-2.6l-2.6,2.6M329.6,286.5l2.6,2.6m0,-2.6l-2.6,2.6M443.3,315.5l2.6,2.6m0,-2.6l-2.6,2.6M613.5,309.5l2.6,2.6m0,-2.6l-2.6,2.6M444.8,307.1l2.6,2.6m0,-2.6l-2.6,2.6M381.2,348.9l2.6,2.6m0,-2.6l-2.6,2.6M317.6,304.1l2.6,2.6m0,-2.6l-2.6,2.6M63.9,319.9l2.6,2.6m0,-2.6l-2.6,2.6M229.4,298.0l2.6,2.6m0,-2.6l-2.6,2.6M394.7,363.3l2.6,2.6m0,-2.6l-2.6,2.6M608.5,304.4l2.6,2.6m0,-2.6l-2.6,2.6M216.1,284.7l2.6,2.6m0,-2.6l-2.6,2.6M270.5,360.2l2.6,2.6m0,-2.6l-2.6,2.6M300.4,346.6l2.6,2.6m0,-2.6l-2.6,2.6M196.4,302.5l2.6,2.6m0,-2.6l-2.6,2.6M390.3,358.2l2.6,2.6m0,-2.6l-2.6,2.6M494.3,320.8l2.6,2.6m0,-2.6l-2.6,2.6M144.6,363.1l2.6,2.6m0,-2.6l-2.6,2.6M482.8,298.7l2.6,2.6m0,-2.6l-2.6,2.6M334.2,284.1l2.6,2.6m0,-2.6l-2.6,2.6M558.6,328.4l2.6,2.6m0,-2.6l-2.6,2.6M371.7,330.1l2.6,2.6m0,-2.6l-2.6,2.6M285.9,358.0l2.6,2.6m0,-2.6l-2.6,2.6M155.3,367.3l2.6,2.6m0,-2.6l-2.6,2.6M501.4,333.0l2.6,2.6m0,-2.6l-2.6,2.6M521.6,366.8l2.6,2.6m0,-2.6l-2.6,2.6M410.5,359.6l2.6,2.6m0,-2.6l-2.6,2.6M232.7,300.8l2.6,2.6m0,-2.6l-2.6,2.6M270.7,364.8l2.6,2.6m0,-2.6l-2.6,2.6M432.9,319.0l2.6,2.6m0,-2.6l-2.6,2.6M106.8,298.6l2.6,2.6m0,-2.6l-2.6,2.6M605.1,296.3l2.6,2.6m0,-2.6l-2.6,2.6M468.6,283.6l2.6,2.6m0,-2.6l-2.6,2.6M623.9,338.0l2.6,2.6m0,-2.6l-2.6,2.6M162.6,361.4l2.6,2.6m0,-2.6l-2.6,2.6M450.8,293.8l2.6,2.6m0,-2.6l-2.6,2.6M318.6,309.8l2.6,2.6m0,-2.6l-2.6,2.6M207.0,289.5l2.6,2.6m0,-2.6l-2.6,2.6M149.3,369.5l2.6,2.6m0,-2.6l-2.6,2.6M281.2,368.3l2.6,2.6m0,-2.6l-2.6,2.6M549.9,336.3l2.6,2.6m0,-2.6l-2.6,2.6M244.5,316.0l2.6,2.6m0,-2.6l-2.6,2.6M339.4,280.0l2.6,2.6m0,-2.6l-2.6,2.6M252.9,337.9l2.6,2.6m0,-2.6l-2.6,2.6M339.4,282.0l2.6,2.6m0,-2.6l-2.6,2.6M156.9,366.1l2.6,2.6m0,-2.6l-2.6,2.6M638.4,363.1l2.6,2.6m0,-2.6l-2.6,2.6M221.8,285.3l2.6,2.6m0,-2.6l-2.6,2.6M99.0,294.0l2.6,2.6m0,-2.6l-2.6,2.6M566.8,304.4l2.6,2.6m0,-2.6l-2.6,2.6M566.5,312.1l2.6,2.6m0,-2.6l-2.6,2.6M80.6,292.5l2.6,2.6m0,-2.6l-2.6,2.6M493.5,318.6l2.6,2.6m0,-2.6l-2.6,2.6M71.8,307.5l2.6,2.6m0,-2.6l-2.6,2.6M421.1,347.4l2.6,2.6m0,-2.6l-2.6,2.6M621.1,329.9l2.6,2.6m0,-2.6l-2.6,2.6M373.6,327.5l2.6,2.6m0,-2.6l-2.6,2.6M293.0,353.8l2.6,2.6m0,-2.6l-2.6,2.6M606.5,299.5l2.6,2.6m0,-2.6l-2.6,2.6M390.8,359.0l2.6,2.6m0,-2.6l-2.6,2.6M123.5,329.2l2.6,2.6m0,-2.6l-2.6,2.6M131.3,340.2l2.6,2.6m0,-2.6l-2.6,2.6M667.3,355.7l2.6,2.6m0,-2.6l-2.6,2.6M122.4,313.4l2.6,2.6m0,-2.6l-2.6,2.6M652.1,368.3l2.6,2.6m0,-2.6l-2.6,2.6M158.0,369.9l2.6,2.6m0,-2.6l-2.6,2.6M181.7,336.2l2.6,2.6m0,-2.6l-2.6,2.6M305.6,327.8l2.6,2.6m0,-2.6l-2.6,2.6M641.5,364.5l2.6,2.6m0,-2.6l-2.6,2.6M329.6,288.8l2.6,2.6m0,-2.6l-2.6,2.6M600.4,293.7l2.6,2.6m0,-2.6l-2.6,2.6M621.3,321.0l2.6,2.6m0,-2.6l-2.6,2.6M545.9,349.8l2.6,2.6m0,-2.6l-2.6,2.6M469.1,284.8l2.6,2.6m0,-2.6l-2.6,2.6M426.0,334.0l2.6,2.6m0,-2.6l-2.6,2.6M584.2,282.0l2.6,2.6m0,-2.6l-2.6,2.6M490.6,310.5l2.6,2.6m0,-2.6l-2.6,2.6M290.3,357.7l2.6,2.6m0,-2.6l-2.6,2.6M238.0,302.9l2.6,2.6m0,-2.6l-2.6,2.6M617.9,324.3l2.6,2.6m0,-2.6l-2.6,2.6M648.8,372.1l2.6,2.6m0,-2.6l-2.6,2.6M651.6,367.8l2.6,2.6m0,-2.6l-2.6,2.6M512.2,353.1l2.6,2.6m0,-2.6l-2.6,2.6M224.6,287.2l2.6,2.6m0,-2.6l-2.6,2.6M558.0,318.7l2.6,2.6m0,-2.6l-2.6,2.6M456.8,288.4l2.6,2.6m0,-2.6l-2.6,2.6M593.9,289.5l2.6,2.6m0,-2.6l-2.6,2.6M428.9,330.8l2.6,2.6m0,-2.6l-2.6,2.6M642.0,366.1l2.6,2.6m0,-2.6l-2.6,2.6M115.5,307.9l2.6,2.6m0,-2.6l-2.6,2.6M264.4,359.2l2.6,2.6m0,-2.6l-2.6,2.6M577.1,292.2l2.6,2.6m0,-2.6l-2.6,2.6M161.6,365.2l2.6,2.6m0,-2.6l-2.6,2.6M166.7,357.0l2.6,2.6m0,-2.6l-2.6,2.6M206.2,291.1l2.6,2.6m0,-2.6l-2.6,2.6M551.3,339.3l2.6,2.6m0,-2.6l-2.6,2.6M104.3,297.3l2.6,2.6m0,-2.6l-2.6,2.6M538.6,351.1l2.6,2.6m0,-2.6l-2.6,2.6M84.8,286.6l2.6,2.6m0,-2.6l-2.6,2.6M471.0,283.0l2.6,2.6m0,-2.6l-2.6,2.6M650.7,371.3l2.6,2.6m0,-2.6l-2.6,2.6M406.7,362.0l2.6,2.6m0,-2.6l-2.6,2.6M365.9,313.4l2.6,2.6m0,-2.6l-2.6,2.6M437.1,314.4l2.6,2.6m0,-2.6l-2.6,2.6M317.0,309.7l2.6,2.6m0,-2.6l-2.6,2.6M135.6,350.9l2.6,2.6m0,-2.6l-2.6,2.6M313.0,317.3l2.6,2.6m0,-2.6l-2.6,2.6M646.7,366.4l2.6,2.6m0,-2.6l-2.6,2.6M654.3,368.8l2.6,2.6m0,-2.6l-2.6,2.6M669.4,353.4l2.6,2.6m0,-2.6l-2.6,2.6M314.3,317.5l2.6,2.6m0,-2.6l-2.6,2.6M189.2,317.2l2.6,2.6m0,-2.6l-2.6,2.6M473.9,288.0l2.6,2.6m0,-2.6l-2.6,2.6M332.5,286.1l2.6,2.6m0,-2.6l-2.6,2.6M400.3,368.2l2.6,2.6m0,-2.6l-2.6,2.6M609.2,308.4l2.6,2.6m0,-2.6l-2.6,2.6M233.8,299.8l2.6,2.6m0,-2.6l-2.6,2.6M502.6,342.3l2.6,2.6m0,-2.6l-2.6,2.6M144.9,365.5l2.6,2.6m0,-2.6l-2.6,2.6M523.1,364.7l2.6,2.6m0,-2.6l-2.6,2.6M371.2,332.1l2.6,2.6m0,-2.6l-2.6,2.6M503.2,339.5l2.6,2.6m0,-2.6l-2.6,2.6M67.2,315.7l2.6,2.6m0,-2.6l-2.6,2.6M536.8,358.0l2.6,2.6m0,-2.6l-2.6,2.6M72.1,301.2l2.6,2.6m0,-2.6l-2.6,2.6M458.1,288.9l2.6,2.6m0,-2.6l-2.6,2.6M330.0,287.5l2.6,2.6m0,-2.6l-2.6,2.6M296.4,351.5l2.6,2.6m0,-2.6l-2.6,2.6M252.2,337.9l2.6,2.6m0,-2.6l-2.6,2.6M151.1,364.1l2.6,2.6m0,-2.6l-2.6,2.6M248.5,326.8l2.6,2.6m0,-2.6l-2.6,2.6M424.7,342.4l2.6,2.6m0,-2.6l-2.6,2.6M122.8,325.5l2.6,2.6m0,-2.6l-2.6,2.6M542.0,352.7l2.6,2.6m0,-2.6l-2.6,2.6M589.0,283.5l2.6,2.6m0,-2.6l-2.6,2.6M193.0,306.5l2.6,2.6m0,-2.6l-2.6,2.6M353.9,290.8l2.6,2.6m0,-2.6l-2.6,2.6M181.8,343.1l2.6,2.6m0,-2.6l-2.6,2.6M262.3,351.9l2.6,2.6m0,-2.6l-2.6,2.6M343.6,282.9l2.6,2.6m0,-2.6l-2.6,2.6M287.9,359.2l2.6,2.6m0,-2.6l-2.6,2.6M324.8,292.6l2.6,2.6m0,-2.6l-2.6,2.6M283.4,363.5l2.6,2.6m0,-2.6l-2.6,2.6M544.3,348.2l2.6,2.6m0,-2.6l-2.6,2.6M315.8,318.6l2.6,2.6m0,-2.6l-2.6,2.6M632.7,356.5l2.6,2.6m0,-2.6l-2.6,2.6M518.7,351.3l2.6,2.6m0,-2.6l-2.6,2.6M479.9,293.2l2.6,2.6m0,-2.6l-2.6,2.6M326.1,293.7l2.6,2.6m0,-2.6l-2.6,2.6M329.6,283.0l2.6,2.6m0,-2.6l-2.6,2.6M305.7,334.2l2.6,2.6m0,-2.6l-2.6,2.6M113.0,307.4l2.6,2.6m0,-2.6l-2.6,2.6M564.5,317.4l2.6,2.6m0,-2.6l-2.6,2.6M67.7,310.6l2.6,2.6m0,-2.6l-2.6,2.6M430.4,333.3l2.6,2.6m0,-2.6l-2.6,2.6M559.9,318.3l2.6,2.6m0,-2.6l-2.6,2.6M347.9,284.6l2.6,2.6m0,-2.6l-2.6,2.6M132.0,343.4l2.6,2.6m0,-2.6l-2.6,2.6M293.3,357.8l2.6,2.6m0,-2.6l-2.6,2.6M614.2,315.1l2.6,2.6m0,-2.6l-2.6,2.6M230.2,297.0l2.6,2.6m0,-2.6l-2.6,2.6M557.6,320.5l2.6,2.6m0,-2.6l-2.6,2.6M176.8,345.1l2.6,2.6m0,-2.6l-2.6,2.6M82.6,290.0l2.6,2.6m0,-2.6l-2.6,2.6M657.6,368.1l2.6,2.6m0,-2.6l-2.6,2.6M506.3,342.2l2.6,2.6m0,-2.6l-2.6,2.6M191.0,311.2l2.6,2.6m0,-2.6l-2.6,2.6M60.6,324.5l2.6,2.6m0,-2.6l-2.6,2.6M99.9,293.1l2.6,2.6m0,-2.6l-2.6,2.6M466.9,283.9l2.6,2.6m0,-2.6l-2.6,2.6M492.4,309.3l2.6,2.6m0,-2.6l-2.6,2.6M96.8,288.6l2.6,2.6m0,-2.6l-2.6,2.6M96.8,289.8l2.6,2.6m0,-2.6l-2.6,2.6M138.3,357.1l2.6,2.6m0,-2.6l-2.6,2.6M138.0,361.0l2.6,2.6m0,-2.6l-2.6,2.6M573.2,292.3l2.6,2.6m0,-2.6l-2.6,2.6M199.6,298.0l2.6,2.6m0,-2.6l-2.6,2.6M289.7,361.0l2.6,2.6m0,-2.6l-2.6,2.6M171.1,348.4l2.6,2.6m0,-2.6l-2.6,2.6M138.2,359.8l2.6,2.6m0,-2.6l-2.6,2.6M136.9,344.3l2.6,2.6m0,-2.6l-2.6,2.6M472.0,288.5l2.6,2.6m0,-2.6l-2.6,2.6M506.4,348.2l2.6,2.6m0,-2.6l-2.6,2.6M292.1,358.5l2.6,2.6m0,-2.6l-2.6,2.6M448.6,295.2l2.6,2.6m0,-2.6l-2.6,2.6M171.2,355.0l2.6,2.6m0,-2.6l-2.6,2.6M185.3,325.7l2.6,2.6m0,-2.6l-2.6,2.6M562.7,318.2l2.6,2.6m0,-2.6l-2.6,2.6M208.3,292.0l2.6,2.6m0,-2.6l-2.6,2.6M307.9,319.4l2.6,2.6m0,-2.6l-2.6,2.6M282.7,364.6l2.6,2.6m0,-2.6l-2.6,2.6M590.5,281.5l2.6,2.6m0,-2.6l-2.6,2.6M473.3,288.7l2.6,2.6m0,-2.6l-2.6,2.6M286.3,364.3l2.6,2.6m0,-2.6l-2.6,2.6M431.4,325.7l2.6,2.6m0,-2.6l-2.6,2.6M446.0,297.9l2.6,2.6m0,-2.6l-2.6,2.6M76.7,297.0l2.6,2.6m0,-2.6l-2.6,2.6M436.0,319.8l2.6,2.6m0,-2.6l-2.6,2.6M441.9,307.9l2.6,2.6m0,-2.6l-2.6,2.6M180.9,335.3l2.6,2.6m0,-2.6l-2.6,2.6M543.7,351.8l2.6,2.6m0,-2.6l-2.6,2.6M117.7,314.9l2.6,2.6m0,-2.6l-2.6,2.6M453.3,290.4l2.6,2.6m0,-2.6l-2.6,2.6M431.1,329.8l2.6,2.6m0,-2.6l-2.6,2.6M196.1,307.3l2.6,2.6m0,-2.6l-2.6,2.6M663.2,361.1l2.6,2.6m0,-2.6l-2.6,2.6M550.3,334.7l2.6,2.6m0,-2.6l-2.6,2.6M488.6,313.4l2.6,2.6m0,-2.6l-2.6,2.6M637.8,362.6l2.6,2.6m0,-2.6l-2.6,2.6M653.3,363.3l2.6,2.6m0,-2.6l-2.6,2.6M317.9,308.3l2.6,2.6m0,-2.6l-2.6,2.6M529.3,365.5l2.6,2.6m0,-2.6l-2.6,2.6M359.0,291.2l2.6,2.6m0,-2.6l-2.6,2.6M210.2,286.9l2.6,2.6m0,-2.6l-2.6,2.6M476.0,286.3l2.6,2.6m0,-2.6l-2.6,2.6M599.9,290.4l2.6,2.6m0,-2.6l-2.6,2.6M685.3,334.6l2.6,2.6m0,-2.6l-2.6,2.6M611.4,305.3l2.6,2.6m0,-2.6l-2.6,2.6M151.9,366.2l2.6,2.6m0,-2.6l-2.6,2.6M192.4,316.6l2.6,2.6m0,-2.6l-2.6,2.6M622.2,330.3l2.6,2.6m0,-2.6l-2.6,2.6M262.3,353.0l2.6,2.6m0,-2.6l-2.6,2.6M566.4,305.4l2.6,2.6m0,-2.6l-2.6,2.6M466.0,283.1l2.6,2.6m0,-2.6l-2.6,2.6M199.1,287.3l2.6,2.6m0,-2.6l-2.6,2.6M124.1,327.6l2.6,2.6m0,-2.6l-2.6,2.6M679.1,333.6l2.6,2.6m0,-2.6l-2.6,2.6M527.8,363.4l2.6,2.6m0,-2.6l-2.6,2.6M85.6,290.7l2.6,2.6m0,-2.6l-2.6,2.6M458.3,283.3l2.6,2.6m0,-2.6l-2.6,2.6M634.0,359.3l2.6,2.6m0,-2.6l-2.6,2.6M155.3,368.4l2.6,2.6m0,-2.6l-2.6,2.6M459.4,283.8l2.6,2.6m0,-2.6l-2.6,2.6M303.2,334.5l2.6,2.6m0,-2.6l-2.6,2.6M336.5,281.6l2.6,2.6m0,-2.6l-2.6,2.6M226.5,289.2l2.6,2.6m0,-2.6l-2.6,2.6M85.9,292.9l2.6,2.6m0,-2.6l-2.6,2.6M653.2,367.3l2.6,2.6m0,-2.6l-2.6,2.6M220.4,285.4l2.6,2.6m0,-2.6l-2.6,2.6M620.1,332.4l2.6,2.6m0,-2.6l-2.6,2.6M614.3,319.1l2.6,2.6m0,-2.6l-2.6,2.6M183.7,337.9l2.6,2.6m0,-2.6l-2.6,2.6M271.8,364.3l2.6,2.6m0,-2.6l-2.6,2.6M388.1,359.0l2.6,2.6m0,-2.6l-2.6,2.6M165.7,363.6l2.6,2.6m0,-2.6l-2.6,2.6M672.2,345.9l2.6,2.6m0,-2.6l-2.6,2.6M622.0,332.6l2.6,2.6m0,-2.6l-2.6,2.6M600.5,290.2l2.6,2.6m0,-2.6l-2.6,2.6M666.9,358.9l2.6,2.6m0,-2.6l-2.6,2.6M179.9,338.5l2.6,2.6m0,-2.6l-2.6,2.6M577.6,290.0l2.6,2.6m0,-2.6l-2.6,2.6M261.0,349.1l2.6,2.6m0,-2.6l-2.6,2.6M83.6,292.1l2.6,2.6m0,-2.6l-2.6,2.6M518.3,356.5l2.6,2.6m0,-2.6l-2.6,2.6M322.0,303.5l2.6,2.6m0,-2.6l-2.6,2.6M331.7,289.1l2.6,2.6m0,-2.6l-2.6,2.6M651.1,370.0l2.6,2.6m0,-2.6l-2.6,2.6M343.0,284.3l2.6,2.6m0,-2.6l-2.6,2.6M64.9,317.6l2.6,2.6m0,-2.6l-2.6,2.6M95.2,287.8l2.6,2.6m0,-2.6l-2.6,2.6M268.2,361.4l2.6,2.6m0,-2.6l-2.6,2.6M68.4,313.0l2.6,2.6m0,-2.6l-2.6,2.6M464.3,283.4l2.6,2.6m0,-2.6l-2.6,2.6M220.2,286.1l2.6,2.6m0,-2.6l-2.6,2.6M514.0,351.8l2.6,2.6m0,-2.6l-2.6,2.6M224.0,287.6l2.6,2.6m0,-2.6l-2.6,2.6M97.6,289.2l2.6,2.6m0,-2.6l-2.6,2.6M363.9,304.3l2.6,2.6m0,-2.6l-2.6,2.6M225.6,286.4l2.6,2.6m0,-2.6l-2.6,2.6M169.9,354.5l2.6,2.6m0,-2.6l-2.6,2.6M609.7,306.1l2.6,2.6m0,-2.6l-2.6,2.6M607.9,305.5l2.6,2.6m0,-2.6l-2.6,2.6M114.4,314.2l2.6,2.6m0,-2.6l-2.6,2.6M66.7,311.6l2.6,2.6m0,-2.6l-2.6,2.6M566.3,305.6l2.6,2.6m0,-2.6l-2.6,2.6M83.1,291.7l2.6,2.6m0,-2.6l-2.6,2.6M472.4,281.8l2.6,2.6m0,-2.6l-2.6,2.6M553.6,331.2l2.6,2.6m0,-2.6l-2.6,2.6M510.7,354.0l2.6,2.6m0,-2.6l-2.6,2.6M497.9,327.6l2.6,2.6m0,-2.6l-2.6,2.6M418.9,355.5l2.6,2.6m0,-2.6l-2.6,2.6M270.7,361.0l2.6,2.6m0,-2.6l-2.6,2.6M220.8,285.2l2.6,2.6m0,-2.6l-2.6,2.6M165.1,365.6l2.6,2.6m0,-2.6l-2.6,2.6M375.2,329.6l2.6,2.6m0,-2.6l-2.6,2.6M482.5,299.8l2.6,2.6m0,-2.6l-2.6,2.6M479.4,292.8l2.6,2.6m0,-2.6l-2.6,2.6M518.8,362.0l2.6,2.6m0,-2.6l-2.6,2.6M523.4,365.7l2.6,2.6m0,-2.6l-2.6,2.6M547.3,349.0l2.6,2.6m0,-2.6l-2.6,2.6M282.4,367.2l2.6,2.6m0,-2.6l-2.6,2.6M516.1,363.4l2.6,2.6m0,-2.6l-2.6,2.6M379.7,339.2l2.6,2.6m0,-2.6l-2.6,2.6M488.2,310.3l2.6,2.6m0,-2.6l-2.6,2.6M59.5,326.5l2.6,2.6m0,-2.6l-2.6,2.6M382.7,343.4l2.6,2.6m0,-2.6l-2.6,2.6M572.6,301.9l2.6,2.6m0,-2.6l-2.6,2.6M390.4,361.6l2.6,2.6m0,-2.6l-2.6,2.6M271.9,362.8l2.6,2.6m0,-2.6l-2.6,2.6M477.1,293.0l2.6,2.6m0,-2.6l-2.6,2.6M356.4,299.4l2.6,2.6m0,-2.6l-2.6,2.6M158.9,367.8l2.6,2.6m0,-2.6l-2.6,2.6M458.3,284.2l2.6,2.6m0,-2.6l-2.6,2.6M88.3,290.6l2.6,2.6m0,-2.6l-2.6,2.6M450.1,296.7l2.6,2.6m0,-2.6l-2.6,2.6M594.9,285.1l2.6,2.6m0,-2.6l-2.6,2.6M368.1,319.8l2.6,2.6m0,-2.6l-2.6,2.6M539.7,356.6l2.6,2.6m0,-2.6l-2.6,2.6M600.1,290.9l2.6,2.6m0,-2.6l-2.6,2.6M80.5,300.7l2.6,2.6m0,-2.6l-2.6,2.6M124.9,326.6l2.6,2.6m0,-2.6l-2.6,2.6M355.7,301.2l2.6,2.6m0,-2.6l-2.6,2.6M245.9,318.6l2.6,2.6m0,-2.6l-2.6,2.6M212.3,285.3l2.6,2.6m0,-2.6l-2.6,2.6M229.8,292.6l2.6,2.6m0,-2.6l-2.6,2.6M212.0,286.4l2.6,2.6m0,-2.6l-2.6,2.6M78.5,296.2l2.6,2.6m0,-2.6l-2.6,2.6M92.9,282.8l2.6,2.6m0,-2.6l-2.6,2.6M541.8,354.6l2.6,2.6m0,-2.6l-2.6,2.6M80.9,291.5l2.6,2.6m0,-2.6l-2.6,2.6M97.0,292.1l2.6,2.6m0,-2.6l-2.6,2.6M633.6,352.8l2.6,2.6m0,-2.6l-2.6,2.6M186.7,331.2l2.6,2.6m0,-2.6l-2.6,2.6M169.0,353.7l2.6,2.6m0,-2.6l-2.6,2.6M647.5,369.1l2.6,2.6m0,-2.6l-2.6,2.6M86.1,288.9l2.6,2.6m0,-2.6l-2.6,2.6M140.5,353.2l2.6,2.6m0,-2.6l-2.6,2.6M389.3,358.1l2.6,2.6m0,-2.6l-2.6,2.6M489.2,309.9l2.6,2.6m0,-2.6l-2.6,2.6M239.5,313.0l2.6,2.6m0,-2.6l-2.6,2.6M565.2,313.5l2.6,2.6m0,-2.6l-2.6,2.6M515.8,357.0l2.6,2.6m0,-2.6l-2.6,2.6M591.2,282.8l2.6,2.6m0,-2.6l-2.6,2.6M453.1,287.4l2.6,2.6m0,-2.6l-2.6,2.6M215.1,286.2l2.6,2.6m0,-2.6l-2.6,2.6M616.4,319.0l2.6,2.6m0,-2.6l-2.6,2.6M363.8,307.5l2.6,2.6m0,-2.6l-2.6,2.6M199.7,293.7l2.6,2.6m0,-2.6l-2.6,2.6M169.7,360.0l2.6,2.6m0,-2.6l-2.6,2.6M171.8,356.1l2.6,2.6m0,-2.6l-2.6,2.6M622.9,329.7l2.6,2.6m0,-2.6l-2.6,2.6M258.4,347.3l2.6,2.6m0,-2.6l-2.6,2.6M581.8,282.7l2.6,2.6m0,-2.6l-2.6,2.6M677.8,340.1l2.6,2.6m0,-2.6l-2.6,2.6M258.0,346.3l2.6,2.6m0,-2.6l-2.6,2.6M412.9,359.9l2.6,2.6m0,-2.6l-2.6,2.6M433.6,322.8l2.6,2.6m0,-2.6l-2.6,2.6M431.2,328.5l2.6,2.6m0,-2.6l-2.6,2.6M118.9,320.1l2.6,2.6m0,-2.6l-2.6,2.6M459.7,282.7l2.6,2.6m0,-2.6l-2.6,2.6M286.2,361.3l2.6,2.6m0,-2.6l-2.6,2.6M484.9,306.2l2.6,2.6m0,-2.6l-2.6,2.6M656.5,368.3l2.6,2.6m0,-2.6l-2.6,2.6M74.2,299.1l2.6,2.6m0,-2.6l-2.6,2.6M603.0,293.9l2.6,2.6m0,-2.6l-2.6,2.6M656.1,368.9l2.6,2.6m0,-2.6l-2.6,2.6M225.0,289.7l2.6,2.6m0,-2.6l-2.6,2.6M452.8,286.7l2.6,2.6m0,-2.6l-2.6,2.6M644.9,366.1l2.6,2.6m0,-2.6l-2.6,2.6M190.3,317.2l2.6,2.6m0,-2.6l-2.6,2.6M95.8,288.1l2.6,2.6m0,-2.6l-2.6,2.6M414.1,361.5l2.6,2.6m0,-2.6l-2.6,2.6M406.8,365.1l2.6,2.6m0,-2.6l-2.6,2.6M274.4,366.7l2.6,2.6m0,-2.6l-2.6,2.6M179.7,338.1l2.6,2.6m0,-2.6l-2.6,2.6M200.5,300.6l2.6,2.6m0,-2.6l-2.6,2.6M382.8,347.0l2.6,2.6m0,-2.6l-2.6,2.6M281.2,363.7l2.6,2.6m0,-2.6l-2.6,2.6M316.5,307.4l2.6,2.6m0,-2.6l-2.6,2.6M441.5,307.1l2.6,2.6m0,-2.6l-2.6,2.6M246.4,324.2l2.6,2.6m0,-2.6l-2.6,2.6M146.5,364.2l2.6,2.6m0,-2.6l-2.6,2.6M336.3,281.9l2.6,2.6m0,-2.6l-2.6,2.6M523.2,366.1l2.6,2.6m0,-2.6l-2.6,2.6M468.5,282.6l2.6,2.6m0,-2.6l-2.6,2.6M137.6,355.8l2.6,2.6m0,-2.6l-2.6,2.6M379.6,349.1l2.6,2.6m0,-2.6l-2.6,2.6M395.7,366.2l2.6,2.6m0,-2.6l-2.6,2.6M488.7,304.7l2.6,2.6m0,-2.6l-2.6,2.6M652.4,369.6l2.6,2.6m0,-2.6l-2.6,2.6M396.4,359.8l2.6,2.6m0,-2.6l-2.6,2.6M654.2,370.1l2.6,2.6m0,-2.6l-2.6,2.6M375.3,323.9l2.6,2.6m0,-2.6l-2.6,2.6M449.1,292.3l2.6,2.6m0,-2.6l-2.6,2.6M458.4,281.3l2.6,2.6m0,-2.6l-2.6,2.6M69.3,310.1l2.6,2.6m0,-2.6l-2.6,2.6M496.4,324.8l2.6,2.6m0,-2.6l-2.6,2.6M449.7,295.5l2.6,2.6m0,-2.6l-2.6,2.6M81.8,294.9l2.6,2.6m0,-2.6l-2.6,2.6M526.3,368.3l2.6,2.6m0,-2.6l-2.6,2.6M217.2,287.8l2.6,2.6m0,-2.6l-2.6,2.6M276.7,366.9l2.6,2.6m0,-2.6l-2.6,2.6M402.6,367.8l2.6,2.6m0,-2.6l-2.6,2.6M355.9,296.0l2.6,2.6m0,-2.6l-2.6,2.6M485.9,305.6l2.6,2.6m0,-2.6l-2.6,2.6M111.7,306.9l2.6,2.6m0,-2.6l-2.6,2.6M417.0,360.0l2.6,2.6m0,-2.6l-2.6,2.6M352.6,286.1l2.6,2.6m0,-2.6l-2.6,2.6M205.7,291.5l2.6,2.6m0,-2.6l-2.6,2.6M329.1,291.3l2.6,2.6m0,-2.6l-2.6,2.6M236.5,302.9l2.6,2.6m0,-2.6l-2.6,2.6M362.4,305.0l2.6,2.6m0,-2.6l-2.6,2.6M316.3,309.3l2.6,2.6m0,-2.6l-2.6,2.6M665.4,358.0l2.6,2.6m0,-2.6l-2.6,2.6M315.4,310.4l2.6,2.6m0,-2.6l-2.6,2.6M296.1,354.4l2.6,2.6m0,-2.6l-2.6,2.6M78.0,297.5l2.6,2.6m0,-2.6l-2.6,2.6M566.2,302.7l2.6,2.6m0,-2.6l-2.6,2.6M157.7,362.8l2.6,2.6m0,-2.6l-2.6,2.6M528.3,362.7l2.6,2.6m0,-2.6l-2.6,2.6M449.3,291.4l2.6,2.6m0,-2.6l-2.6,2.6M462.8,284.4l2.6,2.6m0,-2.6l-2.6,2.6M364.9,309.0l2.6,2.6m0,-2.6l-2.6,2.6M329.2,290.8l2.6,2.6m0,-2.6l-2.6,2.6M183.2,336.5l2.6,2.6m0,-2.6l-2.6,2.6M265.3,356.7l2.6,2.6m0,-2.6l-2.6,2.6M541.1,352.2l2.6,2.6m0,-2.6l-2.6,2.6M565.9,303.1l2.6,2.6m0,-2.6l-2.6,2.6M601.6,292.8l2.6,2.6m0,-2.6l-2.6,2.6M344.2,282.2l2.6,2.6m0,-2.6l-2.6,2.6M99.6,286.3l2.6,2.6m0,-2.6l-2.6,2.6M100.4,291.3l2.6,2.6m0,-2.6l-2.6,2.6M90.9,289.2l2.6,2.6m0,-2.6l-2.6,2.6M112.5,299.6l2.6,2.6m0,-2.6l-2.6,2.6M339.0,281.8l2.6,2.6m0,-2.6l-2.6,2.6M431.1,321.7l2.6,2.6m0,-2.6l-2.6,2.6M370.5,323.7l2.6,2.6m0,-2.6l-2.6,2.6M284.5,365.8l2.6,2.6m0,-2.6l-2.6,2.6M172.2,350.1l2.6,2.6m0,-2.6l-2.6,2.6M594.3,283.9l2.6,2.6m0,-2.6l-2.6,2.6M266.5,358.9l2.6,2.6m0,-2.6l-2.6,2.6M642.9,363.3l2.6,2.6m0,-2.6l-2.6,2.6M246.5,325.7l2.6,2.6m0,-2.6l-2.6,2.6M235.3,305.1l2.6,2.6m0,-2.6l-2.6,2.6M559.7,317.8l2.6,2.6m0,-2.6l-2.6,2.6M610.5,312.9l2.6,2.6m0,-2.6l-2.6,2.6M160.7,364.3l2.6,2.6m0,-2.6l-2.6,2.6M306.8,331.6l2.6,2.6m0,-2.6l-2.6,2.6M127.9,342.2l2.6,2.6m0,-2.6l-2.6,2.6M457.0,281.5l2.6,2.6m0,-2.6l-2.6,2.6M286.4,363.0l2.6,2.6m0,-2.6l-2.6,2.6M593.4,285.4l2.6,2.6m0,-2.6l-2.6,2.6M127.0,336.6l2.6,2.6m0,-2.6l-2.6,2.6M477.4,291.6l2.6,2.6m0,-2.6l-2.6,2.6M256.2,340.3l2.6,2.6m0,-2.6l-2.6,2.6M79.4,299.3l2.6,2.6m0,-2.6l-2.6,2.6M163.4,360.7l2.6,2.6m0,-2.6l-2.6,2.6M548.4,348.4l2.6,2.6m0,-2.6l-2.6,2.6M217.1,285.5l2.6,2.6m0,-2.6l-2.6,2.6M147.6,363.9l2.6,2.6m0,-2.6l-2.6,2.6M195.4,310.6l2.6,2.6m0,-2.6l-2.6,2.6M144.9,364.5l2.6,2.6m0,-2.6l-2.6,2.6M395.6,362.4l2.6,2.6m0,-2.6l-2.6,2.6M671.9,345.2l2.6,2.6m0,-2.6l-2.6,2.6M496.3,321.4l2.6,2.6m0,-2.6l-2.6,2.6M492.8,322.6l2.6,2.6m0,-2.6l-2.6,2.6M434.9,332.3l2.6,2.6m0,-2.6l-2.6,2.6M439.3,306.5l2.6,2.6m0,-2.6l-2.6,2.6M540.9,347.4l2.6,2.6m0,-2.6l-2.6,2.6M323.0,296.9l2.6,2.6m0,-2.6l-2.6,2.6M341.5,286.7l2.6,2.6m0,-2.6l-2.6,2.6M386.7,355.7l2.6,2.6m0,-2.6l-2.6,2.6M497.2,328.0l2.6,2.6m0,-2.6l-2.6,2.6M86.5,291.1l2.6,2.6m0,-2.6l-2.6,2.6M354.5,293.5l2.6,2.6m0,-2.6l-2.6,2.6M213.3,288.7l2.6,2.6m0,-2.6l-2.6,2.6M280.0,367.8l2.6,2.6m0,-2.6l-2.6,2.6M420.0,352.2l2.6,2.6m0,-2.6l-2.6,2.6M560.8,313.6l2.6,2.6m0,-2.6l-2.6,2.6M620.7,337.0l2.6,2.6m0,-2.6l-2.6,2.6M79.9,292.3l2.6,2.6m0,-2.6l-2.6,2.6M657.0,367.4l2.6,2.6m0,-2.6l-2.6,2.6M303.0,336.3l2.6,2.6m0,-2.6l-2.6,2.6M410.1,363.2l2.6,2.6m0,-2.6l-2.6,2.6M528.7,365.2l2.6,2.6m0,-2.6l-2.6,2.6M676.4,342.5l2.6,2.6m0,-2.6l-2.6,2.6M338.5,284.9l2.6,2.6m0,-2.6l-2.6,2.6M532.3,364.2l2.6,2.6m0,-2.6l-2.6,2.6M134.4,351.9l2.6,2.6m0,-2.6l-2.6,2.6M570.5,295.1l2.6,2.6m0,-2.6l-2.6,2.6M106.5,296.8l2.6,2.6m0,-2.6l-2.6,2.6M110.4,302.0l2.6,2.6m0,-2.6l-2.6,2.6M305.0,333.1l2.6,2.6m0,-2.6l-2.6,2.6M387.7,356.4l2.6,2.6m0,-2.6l-2.6,2.6M100.8,291.0l2.6,2.6m0,-2.6l-2.6,2.6M361.5,301.1l2.6,2.6m0,-2.6l-2.6,2.6M199.9,296.1l2.6,2.6m0,-2.6l-2.6,2.6M647.5,368.4l2.6,2.6m0,-2.6l-2.6,2.6M278.1,366.8l2.6,2.6m0,-2.6l-2.6,2.6M638.9,367.3l2.6,2.6m0,-2.6l-2.6,2.6M627.2,343.4l2.6,2.6m0,-2.6l-2.6,2.6M356.8,294.6l2.6,2.6m0,-2.6l-2.6,2.6M552.7,331.7l2.6,2.6m0,-2.6l-2.6,2.6M448.9,303.2l2.6,2.6m0,-2.6l-2.6,2.6M217.5,288.2l2.6,2.6m0,-2.6l-2.6,2.6M518.7,365.2l2.6,2.6m0,-2.6l-2.6,2.6M687.0,329.3l2.6,2.6m0,-2.6l-2.6,2.6M324.4,294.2l2.6,2.6m0,-2.6l-2.6,2.6M452.2,292.9l2.6,2.6m0,-2.6l-2.6,2.6M297.6,356.0l2.6,2.6m0,-2.6l-2.6,2.6M210.4,288.3l2.6,2.6m0,-2.6l-2.6,2.6M600.8,288.1l2.6,2.6m0,-2.6l-2.6,2.6M349.3,287.0l2.6,2.6m0,-2.6l-2.6,2.6M466.4,285.9l2.6,2.6m0,-2.6l-2.6,2.6M66.8,312.5l2.6,2.6m0,-2.6l-2.6,2.6M175.3,347.0l2.6,2.6m0,-2.6l-2.6,2.6M537.8,361.6l2.6,2.6m0,-2.6l-2.6,2.6M267.8,363.8l2.6,2.6m0,-2.6l-2.6,2.6M354.1,294.3l2.6,2.6m0,-2.6l-2.6,2.6M187.0,323.6l2.6,2.6m0,-2.6l-2.6,2.6M337.6,287.6l2.6,2.6m0,-2.6l-2.6,2.6M227.3,292.6l2.6,2.6m0,-2.6l-2.6,2.6M566.3,303.4l2.6,2.6m0,-2.6l-2.6,2.6M664.6,360.4l2.6,2.6m0,-2.6l-2.6,2.6M242.0,314.0l2.6,2.6m0,-2.6l-2.6,2.6M107.1,294.1l2.6,2.6m0,-2.6l-2.6,2.6M137.2,354.4l2.6,2.6m0,-2.6l-2.6,2.6M290.3,357.8l2.6,2.6m0,-2.6l-2.6,2.6M680.9,326.3l2.6,2.6m0,-2.6l-2.6,2.6M298.1,343.9l2.6,2.6m0,-2.6l-2.6,2.6M235.9,306.2l2.6,2.6m0,-2.6l-2.6,2.6M100.6,294.6l2.6,2.6m0,-2.6l-2.6,2.6M273.8,367.1l2.6,2.6m0,-2.6l-2.6,2.6M465.5,285.2l2.6,2.6m0,-2.6l-2.6,2.6M217.0,288.5l2.6,2.6m0,-2.6l-2.6,2.6M368.0,318.2l2.6,2.6m0,-2.6l-2.6,2.6M406.5,364.5l2.6,2.6m0,-2.6l-2.6,2.6M604.7,292.9l2.6,2.6m0,-2.6l-2.6,2.6M216.9,286.9l2.6,2.6m0,-2.6l-2.6,2.6M578.7,286.2l2.6,2.6m0,-2.6l-2.6,2.6M317.1,304.9l2.6,2.6m0,-2.6l-2.6,2.6M66.1,320.3l2.6,2.6m0,-2.6l-2.6,2.6M525.6,363.9l2.6,2.6m0,-2.6l-2.6,2.6M626.5,346.2l2.6,2.6m0,-2.6l-2.6,2.6M570.7,296.1l2.6,2.6m0,-2.6l-2.6,2.6M664.5,362.8l2.6,2.6m0,-2.6l-2.6,2.6M567.6,309.0l2.6,2.6m0,-2.6l-2.6,2.6M144.0,362.8l2.6,2.6m0,-2.6l-2.6,2.6M621.9,324.9l2.6,2.6m0,-2.6l-2.6,2.6M96.5,290.4l2.6,2.6m0,-2.6l-2.6,2.6M285.7,365.0l2.6,2.6m0,-2.6l-2.6,2.6M147.3,367.1l2.6,2.6m0,-2.6l-2.6,2.6M144.9,362.0l2.6,2.6m0,-2.6l-2.6,2.6M176.6,339.3l2.6,2.6m0,-2.6l-2.6,2.6M446.1,297.4l2.6,2.6m0,-2.6l-2.6,2.6M566.6,301.9l2.6,2.6m0,-2.6l-2.6,2.6M86.8,289.1l2.6,2.6m0,-2.6l-2.6,2.6M626.8,343.4l2.6,2.6m0,-2.6l-2.6,2.6M588.4,281.3l2.6,2.6m0,-2.6l-2.6,2.6M138.4,354.7l2.6,2.6m0,-2.6l-2.6,2.6M196.6,303.6l2.6,2.6m0,-2.6l-2.6,2.6M471.8,284.1l2.6,2.6m0,-2.6l-2.6,2.6M60.0,328.2l2.6,2.6m0,-2.6l-2.6,2.6M579.6,294.0l2.6,2.6m0,-2.6l-2.6,2.6M454.5,284.8l2.6,2.6m0,-2.6l-2.6,2.6M397.7,368.0l2.6,2.6m0,-2.6l-2.6,2.6M635.4,356.0l2.6,2.6m0,-2.6l-2.6,2.6M243.5,318.9l2.6,2.6m0,-2.6l-2.6,2.6M509.7,351.5l2.6,2.6m0,-2.6l-2.6,2.6M411.9,363.0l2.6,2.6m0,-2.6l-2.6,2.6M162.8,362.4l2.6,2.6m0,-2.6l-2.6,2.6M632.3,351.0l2.6,2.6m0,-2.6l-2.6,2.6M167.6,354.2l2.6,2.6m0,-2.6l-2.6,2.6M253.9,345.7l2.6,2.6m0,-2.6l-2.6,2.6M473.0,289.4l2.6,2.6m0,-2.6l-2.6,2.6M363.1,309.3l2.6,2.6m0,-2.6l-2.6,2.6M532.1,359.9l2.6,2.6m0,-2.6l-2.6,2.6M382.2,339.9l2.6,2.6m0,-2.6l-2.6,2.6M192.9,306.5l2.6,2.6m0,-2.6l-2.6,2.6M303.0,332.3l2.6,2.6m0,-2.6l-2.6,2.6M451.8,293.7l2.6,2.6m0,-2.6l-2.6,2.6M404.5,367.7l2.6,2.6m0,-2.6l-2.6,2.6M274.8,368.0l2.6,2.6m0,-2.6l-2.6,2.6M156.0,368.9l2.6,2.6m0,-2.6l-2.6,2.6M430.5,331.2l2.6,2.6m0,-2.6l-2.6,2.6M592.8,286.8l2.6,2.6m0,-2.6l-2.6,2.6M611.9,306.1l2.6,2.6m0,-2.6l-2.6,2.6M510.6,356.2l2.6,2.6m0,-2.6l-2.6,2.6M295.5,349.7l2.6,2.6m0,-2.6l-2.6,2.6M591.3,284.1l2.6,2.6m0,-2.6l-2.6,2.6M272.8,366.6l2.6,2.6m0,-2.6l-2.6,2.6M173.2,349.9l2.6,2.6m0,-2.6l-2.6,2.6M176.1,333.2l2.6,2.6m0,-2.6l-2.6,2.6M132.3,343.2l2.6,2.6m0,-2.6l-2.6,2.6M380.0,343.8l2.6,2.6m0,-2.6l-2.6,2.6M119.4,320.0l2.6,2.6m0,-2.6l-2.6,2.6M425.2,349.0l2.6,2.6m0,-2.6l-2.6,2.6M631.0,351.5l2.6,2.6m0,-2.6l-2.6,2.6M376.0,338.4l2.6,2.6m0,-2.6l-2.6,2.6M389.5,361.0l2.6,2.6m0,-2.6l-2.6,2.6M661.0,362.1l2.6,2.6m0,-2.6l-2.6,2.6M149.4,363.1l2.6,2.6m0,-2.6l-2.6,2.6M299.3,345.7l2.6,2.6m0,-2.6l-2.6,2.6M125.5,334.9l2.6,2.6m0,-2.6l-2.6,2.6M440.1,310.8l2.6,2.6m0,-2.6l-2.6,2.6M529.8,362.9l2.6,2.6m0,-2.6l-2.6,2.6M229.6,293.0l2.6,2.6m0,-2.6l-2.6,2.6M228.0,291.3l2.6,2.6m0,-2.6l-2.6,2.6M595.0,286.4l2.6,2.6m0,-2.6l-2.6,2.6M536.5,360.5l2.6,2.6m0,-2.6l-2.6,2.6M360.1,303.7l2.6,2.6m0,-2.6l-2.6,2.6M215.1,286.2l2.6,2.6m0,-2.6l-2.6,2.6M660.4,363.4l2.6,2.6m0,-2.6l-2.6,2.6M284.9,364.7l2.6,2.6m0,-2.6l-2.6,2.6M570.8,298.3l2.6,2.6m0,-2.6l-2.6,2.6M229.1,294.9l2.6,2.6m0,-2.6l-2.6,2.6M163.3,365.0l2.6,2.6m0,-2.6l-2.6,2.6M640.6,364.7l2.6,2.6m0,-2.6l-2.6,2.6M648.8,365.1l2.6,2.6m0,-2.6l-2.6,2.6M421.6,349.0l2.6,2.6m0,-2.6l-2.6,2.6M103.5,295.0l2.6,2.6m0,-2.6l-2.6,2.6M524.4,365.8l2.6,2.6m0,-2.6l-2.6,2.6M676.7,343.7l2.6,2.6m0,-2.6l-2.6,2.6M104.5,293.1l2.6,2.6m0,-2.6l-2.6,2.6M330.5,291.9l2.6,2.6m0,-2.6l-2.6,2.6M110.3,308.3l2.6,2.6m0,-2.6l-2.6,2.6M333.0,286.4l2.6,2.6m0,-2.6l-2.6,2.6M66.8,317.1l2.6,2.6m0,-2.6l-2.6,2.6M372.7,324.8l2.6,2.6m0,-2.6l-2.6,2.6M153.4,365.1l2.6,2.6m0,-2.6l-2.6,2.6M283.5,364.9l2.6,2.6m0,-2.6l-2.6,2.6M178.4,342.1l2.6,2.6m0,-2.6l-2.6,2.6M303.4,335.6l2.6,2.6m0,-2.6l-2.6,2.6M281.1,367.7l2.6,2.6m0,-2.6l-2.6,2.6M352.4,291.8l2.6,2.6m0,-2.6l-2.6,2.6M634.3,356.1l2.6,2.6m0,-2.6l-2.6,2.6M469.0,286.6l2.6,2.6m0,-2.6l-2.6,2.6M642.1,362.1l2.6,2.6m0,-2.6l-2.6,2.6M188.6,321.3l2.6,2.6m0,-2.6l-2.6,2.6M274.3,364.8l2.6,2.6m0,-2.6l-2.6,2.6M455.4,289.8l2.6,2.6m0,-2.6l-2.6,2.6M171.4,355.9l2.6,2.6m0,-2.6l-2.6,2.6M411.2,358.6l2.6,2.6m0,-2.6l-2.6,2.6M342.6,281.0l2.6,2.6m0,-2.6l-2.6,2.6M525.7,361.4l2.6,2.6m0,-2.6l-2.6,2.6M154.2,372.8l2.6,2.6m0,-2.6l-2.6,2.6M59.1,329.2l2.6,2.6m0,-2.6l-2.6,2.6M381.4,345.2l2.6,2.6m0,-2.6l-2.6,2.6M110.8,305.8l2.6,2.6m0,-2.6l-2.6,2.6M247.2,315.9l2.6,2.6m0,-2.6l-2.6,2.6M179.0,335.5l2.6,2.6m0,-2.6l-2.6,2.6M175.7,345.5l2.6,2.6m0,-2.6l-2.6,2.6M174.5,347.3l2.6,2.6m0,-2.6l-2.6,2.6M249.7,324.6l2.6,2.6m0,-2.6l-2.6,2.6M407.9,362.0l2.6,2.6m0,-2.6l-2.6,2.6M188.9,321.4l2.6,2.6m0,-2.6l-2.6,2.6M92.5,286.2l2.6,2.6m0,-2.6l-2.6,2.6M195.0,306.3l2.6,2.6m0,-2.6l-2.6,2.6M390.6,359.3l2.6,2.6m0,-2.6l-2.6,2.6M166.7,363.3l2.6,2.6m0,-2.6l-2.6,2.6M176.6,337.9l2.6,2.6m0,-2.6l-2.6,2.6M143.7,363.2l2.6,2.6m0,-2.6l-2.6,2.6M501.3,333.0l2.6,2.6m0,-2.6l-2.6,2.6M103.5,293.3l2.6,2.6m0,-2.6l-2.6,2.6M346.5,287.3l2.6,2.6m0,-2.6l-2.6,2.6M642.6,363.8l2.6,2.6m0,-2.6l-2.6,2.6M403.1,369.5l2.6,2.6m0,-2.6l-2.6,2.6M169.0,355.8l2.6,2.6m0,-2.6l-2.6,2.6M498.5,333.3l2.6,2.6m0,-2.6l-2.6,2.6M362.1,306.9l2.6,2.6m0,-2.6l-2.6,2.6M605.2,306.8l2.6,2.6m0,-2.6l-2.6,2.6M432.2,326.1l2.6,2.6m0,-2.6l-2.6,2.6M290.7,356.0l2.6,2.6m0,-2.6l-2.6,2.6M377.9,335.2l2.6,2.6m0,-2.6l-2.6,2.6M661.4,364.6l2.6,2.6m0,-2.6l-2.6,2.6M88.5,287.7l2.6,2.6m0,-2.6l-2.6,2.6M647.7,370.5l2.6,2.6m0,-2.6l-2.6,2.6M358.0,298.5l2.6,2.6m0,-2.6l-2.6,2.6M227.2,288.9l2.6,2.6m0,-2.6l-2.6,2.6M485.1,301.2l2.6,2.6m0,-2.6l-2.6,2.6M436.2,316.5l2.6,2.6m0,-2.6l-2.6,2.6M468.2,284.1l2.6,2.6m0,-2.6l-2.6,2.6M392.5,363.3l2.6,2.6m0,-2.6l-2.6,2.6M125.1,339.2l2.6,2.6m0,-2.6l-2.6,2.6M665.5,355.9l2.6,2.6m0,-2.6l-2.6,2.6M146.4,363.6l2.6,2.6m0,-2.6l-2.6,2.6M294.6,358.0l2.6,2.6m0,-2.6l-2.6,2.6M436.2,315.7l2.6,2.6m0,-2.6l-2.6,2.6M532.8,363.0l2.6,2.6m0,-2.6l-2.6,2.6M158.5,367.1l2.6,2.6m0,-2.6l-2.6,2.6M578.3,283.8l2.6,2.6m0,-2.6l-2.6,2.6M642.9,366.5l2.6,2.6m0,-2.6l-2.6,2.6M455.0,286.6l2.6,2.6m0,-2.6l-2.6,2.6M336.0,282.1l2.6,2.6m0,-2.6l-2.6,2.6M324.5,296.5l2.6,2.6m0,-2.6l-2.6,2.6M575.3,291.3l2.6,2.6m0,-2.6l-2.6,2.6M283.7,363.9l2.6,2.6m0,-2.6l-2.6,2.6M349.1,289.6l2.6,2.6m0,-2.6l-2.6,2.6M87.1,291.5l2.6,2.6m0,-2.6l-2.6,2.6M494.3,321.1l2.6,2.6m0,-2.6l-2.6,2.6M652.1,367.7l2.6,2.6m0,-2.6l-2.6,2.6M317.2,307.9l2.6,2.6m0,-2.6l-2.6,2.6M124.4,324.6l2.6,2.6m0,-2.6l-2.6,2.6M585.7,281.1l2.6,2.6m0,-2.6l-2.6,2.6M302.8,334.7l2.6,2.6m0,-2.6l-2.6,2.6M280.3,365.1l2.6,2.6m0,-2.6l-2.6,2.6M571.4,301.2l2.6,2.6m0,-2.6l-2.6,2.6M481.7,294.9l2.6,2.6m0,-2.6l-2.6,2.6M158.1,364.3l2.6,2.6m0,-2.6l-2.6,2.6M161.2,368.3l2.6,2.6m0,-2.6l-2.6,2.6M133.4,341.6l2.6,2.6m0,-2.6l-2.6,2.6M585.2,284.6l2.6,2.6m0,-2.6l-2.6,2.6M571.2,296.5l2.6,2.6m0,-2.6l-2.6,2.6M263.3,352.9l2.6,2.6m0,-2.6l-2.6,2.6M94.6,288.5l2.6,2.6m0,-2.6l-2.6,2.6M655.0,369.9l2.6,2.6m0,-2.6l-2.6,2.6M284.1,365.8l2.6,2.6m0,-2.6l-2.6,2.6M266.5,358.6l2.6,2.6m0,-2.6l-2.6,2.6M101.5,289.9l2.6,2.6m0,-2.6l-2.6,2.6M420.1,350.4l2.6,2.6m0,-2.6l-2.6,2.6M359.7,298.5l2.6,2.6m0,-2.6l-2.6,2.6M555.2,325.8l2.6,2.6m0,-2.6l-2.6,2.6M238.7,302.6l2.6,2.6m0,-2.6l-2.6,2.6M117.8,318.1l2.6,2.6m0,-2.6l-2.6,2.6M478.9,287.7l2.6,2.6m0,-2.6l-2.6,2.6M455.6,284.3l2.6,2.6m0,-2.6l-2.6,2.6M130.5,342.7l2.6,2.6m0,-2.6l-2.6,2.6M96.1,287.7l2.6,2.6m0,-2.6l-2.6,2.6M159.0,368.0l2.6,2.6m0,-2.6l-2.6,2.6M504.8,350.7l2.6,2.6m0,-2.6l-2.6,2.6M607.3,301.3l2.6,2.6m0,-2.6l-2.6,2.6M461.8,280.2l2.6,2.6m0,-2.6l-2.6,2.6M112.6,300.9l2.6,2.6m0,-2.6l-2.6,2.6M673.7,349.2l2.6,2.6m0,-2.6l-2.6,2.6M218.8,285.2l2.6,2.6m0,-2.6l-2.6,2.6M539.6,361.3l2.6,2.6m0,-2.6l-2.6,2.6M545.3,346.4l2.6,2.6m0,-2.6l-2.6,2.6M680.7,331.0l2.6,2.6m0,-2.6l-2.6,2.6M271.0,359.3l2.6,2.6m0,-2.6l-2.6,2.6M246.1,324.5l2.6,2.6m0,-2.6l-2.6,2.6M560.2,321.5l2.6,2.6m0,-2.6l-2.6,2.6M362.1,315.0l2.6,2.6m0,-2.6l-2.6,2.6M228.5,290.7l2.6,2.6m0,-2.6l-2.6,2.6M667.7,353.2l2.6,2.6m0,-2.6l-2.6,2.6M218.7,285.4l2.6,2.6m0,-2.6l-2.6,2.6M391.9,365.5l2.6,2.6m0,-2.6l-2.6,2.6M430.1,330.8l2.6,2.6m0,-2.6l-2.6,2.6M671.4,348.4l2.6,2.6m0,-2.6l-2.6,2.6M269.4,361.5l2.6,2.6m0,-2.6l-2.6,2.6M61.8,325.4l2.6,2.6m0,-2.6l-2.6,2.6M223.6,288.6l2.6,2.6m0,-2.6l-2.6,2.6M647.7,367.9l2.6,2.6m0,-2.6l-2.6,2.6M161.3,365.7l2.6,2.6m0,-2.6l-2.6,2.6M210.4,291.5l2.6,2.6m0,-2.6l-2.6,2.6M466.1,283.7l2.6,2.6m0,-2.6l-2.6,2.6M598.2,290.8l2.6,2.6m0,-2.6l-2.6,2.6M351.0,286.1l2.6,2.6m0,-2.6l-2.6,2.6M436.5,320.2l2.6,2.6m0,-2.6l-2.6,2.6M242.0,312.5l2.6,2.6m0,-2.6l-2.6,2.6M112.4,301.6l2.6,2.6m0,-2.6l-2.6,2.6M610.4,308.2l2.6,2.6m0,-2.6l-2.6,2.6M298.9,343.6l2.6,2.6m0,-2.6l-2.6,2.6M251.0,334.9l2.6,2.6m0,-2.6l-2.6,2.6M430.7,335.6l2.6,2.6m0,-2.6l-2.6,2.6M212.8,286.2l2.6,2.6m0,-2.6l-2.6,2.6M511.0,348.8l2.6,2.6m0,-2.6l-2.6,2.6M489.1,312.7l2.6,2.6m0,-2.6l-2.6,2.6M320.3,308.6l2.6,2.6m0,-2.6l-2.6,2.6M357.4,303.4l2.6,2.6m0,-2.6l-2.6,2.6M347.2,285.8l2.6,2.6m0,-2.6l-2.6,2.6M398.3,366.1l2.6,2.6m0,-2.6l-2.6,2.6M284.1,362.9l2.6,2.6m0,-2.6l-2.6,2.6M483.5,295.4l2.6,2.6m0,-2.6l-2.6,2.6M149.8,365.5l2.6,2.6m0,-2.6l-2.6,2.6M343.1,285.3l2.6,2.6m0,-2.6l-2.6,2.6M565.8,309.9l2.6,2.6m0,-2.6l-2.6,2.6M289.1,363.5l2.6,2.6m0,-2.6l-2.6,2.6M306.0,328.6l2.6,2.6m0,-2.6l-2.6,2.6M318.8,306.0l2.6,2.6m0,-2.6l-2.6,2.6M403.8,364.4l2.6,2.6m0,-2.6l-2.6,2.6M102.3,288.8l2.6,2.6m0,-2.6l-2.6,2.6M621.6,331.8l2.6,2.6m0,-2.6l-2.6,2.6M167.3,357.0l2.6,2.6m0,-2.6l-2.6,2.6M598.6,295.2l2.6,2.6m0,-2.6l-2.6,2.6M396.4,368.6l2.6,2.6m0,-2.6l-2.6,2.6M121.4,317.9l2.6,2.6m0,-2.6l-2.6,2.6M559.7,318.2l2.6,2.6m0,-2.6l-2.6,2.6M214.8,288.5l2.6,2.6m0,-2.6l-2.6,2.6M459.1,285.2l2.6,2.6m0,-2.6l-2.6,2.6M458.2,285.2l2.6,2.6m0,-2.6l-2.6,2.6M288.4,364.3l2.6,2.6m0,-2.6l-2.6,2.6M349.5,291.7l2.6,2.6m0,-2.6l-2.6,2.6M196.9,307.2l2.6,2.6m0,-2.6l-2.6,2.6M466.5,284.4l2.6,2.6m0,-2.6l-2.6,2.6M157.9,369.7l2.6,2.6m0,-2.6l-2.6,2.6M435.6,328.6l2.6,2.6m0,-2.6l-2.6,2.6M79.7,296.8l2.6,2.6m0,-2.6l-2.6,2.6M565.5,310.1l2.6,2.6m0,-2.6l-2.6,2.6M475.9,289.4l2.6,2.6m0,-2.6l-2.6,2.6M507.1,348.0l2.6,2.6m0,-2.6l-2.6,2.6M529.7,364.0l2.6,2.6m0,-2.6l-2.6,2.6M660.7,363.5l2.6,2.6m0,-2.6l-2.6,2.6M652.6,370.2l2.6,2.6m0,-2.6l-2.6,2.6M554.5,334.1l2.6,2.6m0,-2.6l-2.6,2.6M375.3,325.6l2.6,2.6m0,-2.6l-2.6,2.6M660.1,363.3l2.6,2.6m0,-2.6l-2.6,2.6M251.2,334.1l2.6,2.6m0,-2.6l-2.6,2.6M172.2,356.9l2.6,2.6m0,-2.6l-2.6,2.6M669.3,352.7l2.6,2.6m0,-2.6l-2.6,2.6M93.5,288.1l2.6,2.6m0,-2.6l-2.6,2.6M500.0,325.7l2.6,2.6m0,-2.6l-2.6,2.6M586.0,284.3l2.6,2.6m0,-2.6l-2.6,2.6M146.7,359.5l2.6,2.6m0,-2.6l-2.6,2.6M262.0,352.3l2.6,2.6m0,-2.6l-2.6,2.6M179.5,337.2l2.6,2.6m0,-2.6l-2.6,2.6M386.0,356.2l2.6,2.6m0,-2.6l-2.6,2.6M233.5,305.1l2.6,2.6m0,-2.6l-2.6,2.6M181.9,334.1l2.6,2.6m0,-2.6l-2.6,2.6M505.6,350.2l2.6,2.6m0,-2.6l-2.6,2.6M106.1,299.1l2.6,2.6m0,-2.6l-2.6,2.6M585.4,286.1l2.6,2.6m0,-2.6l-2.6,2.6M395.1,364.4l2.6,2.6m0,-2.6l-2.6,2.6M321.1,305.1l2.6,2.6m0,-2.6l-2.6,2.6M329.0,289.0l2.6,2.6m0,-2.6l-2.6,2.6M517.8,365.0l2.6,2.6m0,-2.6l-2.6,2.6M368.5,321.5l2.6,2.6m0,-2.6l-2.6,2.6M238.6,303.0l2.6,2.6m0,-2.6l-2.6,2.6M410.1,362.0l2.6,2.6m0,-2.6l-2.6,2.6M404.0,365.7l2.6,2.6m0,-2.6l-2.6,2.6M568.4,296.4l2.6,2.6m0,-2.6l-2.6,2.6M162.6,366.2l2.6,2.6m0,-2.6l-2.6,2.6M209.7,289.5l2.6,2.6m0,-2.6l-2.6,2.6M70.9,303.6l2.6,2.6m0,-2.6l-2.6,2.6M495.1,319.5l2.6,2.6m0,-2.6l-2.6,2.6M555.3,331.2l2.6,2.6m0,-2.6l-2.6,2.6M109.4,301.4l2.6,2.6m0,-2.6l-2.6,2.6M168.1,359.5l2.6,2.6m0,-2.6l-2.6,2.6M143.6,355.5l2.6,2.6m0,-2.6l-2.6,2.6M413.5,360.4l2.6,2.6m0,-2.6l-2.6,2.6M649.7,373.3l2.6,2.6m0,-2.6l-2.6,2.6M180.8,336.5l2.6,2.6m0,-2.6l-2.6,2.6M130.3,340.8l2.6,2.6m0,-2.6l-2.6,2.6M513.1,353.2l2.6,2.6m0,-2.6l-2.6,2.6M607.9,297.4l2.6,2.6m0,-2.6l-2.6,2.6M149.4,369.1l2.6,2.6m0,-2.6l-2.6,2.6M197.0,303.8l2.6,2.6m0,-2.6l-2.6,2.6M624.3,331.4l2.6,2.6m0,-2.6l-2.6,2.6M164.1,366.6l2.6,2.6m0,-2.6l-2.6,2.6M91.5,287.0l2.6,2.6m0,-2.6l-2.6,2.6M382.3,343.5l2.6,2.6m0,-2.6l-2.6,2.6M229.3,295.4l2.6,2.6m0,-2.6l-2.6,2.6M637.3,359.2l2.6,2.6m0,-2.6l-2.6,2.6M113.3,314.2l2.6,2.6m0,-2.6l-2.6,2.6M268.8,364.6l2.6,2.6m0,-2.6l-2.6,2.6M274.7,366.2l2.6,2.6m0,-2.6l-2.6,2.6M135.9,359.6l2.6,2.6m0,-2.6l-2.6,2.6M86.2,289.1l2.6,2.6m0,-2.6l-2.6,2.6M592.2,286.8l2.6,2.6m0,-2.6l-2.6,2.6M156.5,366.4l2.6,2.6m0,-2.6l-2.6,2.6M228.4,295.3l2.6,2.6m0,-2.6l-2.6,2.6M466.7,280.8l2.6,2.6m0,-2.6l-2.6,2.6M582.2,286.1l2.6,2.6m0,-2.6l-2.6,2.6M488.1,310.3l2.6,2.6m0,-2.6l-2.6,2.6M219.5,285.7l2.6,2.6m0,-2.6l-2.6,2.6M281.4,365.9l2.6,2.6m0,-2.6l-2.6,2.6M217.8,287.4l2.6,2.6m0,-2.6l-2.6,2.6M608.7,305.6l2.6,2.6m0,-2.6l-2.6,2.6M155.6,370.8l2.6,2.6m0,-2.6l-2.6,2.6M418.5,354.4l2.6,2.6m0,-2.6l-2.6,2.6M129.0,339.9l2.6,2.6m0,-2.6l-2.6,2.6M339.5,281.2l2.6,2.6m0,-2.6l-2.6,2.6M643.3,366.3l2.6,2.6m0,-2.6l-2.6,2.6M423.6,347.6l2.6,2.6m0,-2.6l-2.6,2.6M596.0,285.8l2.6,2.6m0,-2.6l-2.6,2.6M406.6,363.7l2.6,2.6m0,-2.6l-2.6,2.6M357.0,295.8l2.6,2.6m0,-2.6l-2.6,2.6M99.0,288.6l2.6,2.6m0,-2.6l-2.6,2.6M367.1,318.7l2.6,2.6m0,-2.6l-2.6,2.6M210.2,286.8l2.6,2.6m0,-2.6l-2.6,2.6M62.0,319.8l2.6,2.6m0,-2.6l-2.6,2.6M80.7,297.0l2.6,2.6m0,-2.6l-2.6,2.6M631.1,351.8l2.6,2.6m0,-2.6l-2.6,2.6M266.8,360.7l2.6,2.6m0,-2.6l-2.6,2.6M678.0,336.4l2.6,2.6m0,-2.6l-2.6,2.6M141.1,352.3l2.6,2.6m0,-2.6l-2.6,2.6M562.5,317.3l2.6,2.6m0,-2.6l-2.6,2.6M96.2,289.8l2.6,2.6m0,-2.6l-2.6,2.6M315.7,318.2l2.6,2.6m0,-2.6l-2.6,2.6M179.7,339.7l2.6,2.6m0,-2.6l-2.6,2.6M77.6,296.0l2.6,2.6m0,-2.6l-2.6,2.6M555.9,331.0l2.6,2.6m0,-2.6l-2.6,2.6M427.9,345.7l2.6,2.6m0,-2.6l-2.6,2.6M531.0,367.1l2.6,2.6m0,-2.6l-2.6,2.6M445.6,298.6l2.6,2.6m0,-2.6l-2.6,2.6M169.1,357.4l2.6,2.6m0,-2.6l-2.6,2.6M277.0,364.7l2.6,2.6m0,-2.6l-2.6,2.6M611.5,310.8l2.6,2.6m0,-2.6l-2.6,2.6M145.0,364.8l2.6,2.6m0,-2.6l-2.6,2.6M643.6,366.6l2.6,2.6m0,-2.6l-2.6,2.6M230.8,298.8l2.6,2.6m0,-2.6l-2.6,2.6M202.7,296.9l2.6,2.6m0,-2.6l-2.6,2.6M266.3,357.7l2.6,2.6m0,-2.6l-2.6,2.6M418.3,357.8l2.6,2.6m0,-2.6l-2.6,2.6M134.2,351.6l2.6,2.6m0,-2.6l-2.6,2.6M350.6,292.2l2.6,2.6m0,-2.6l-2.6,2.6M149.5,365.8l2.6,2.6m0,-2.6l-2.6,2.6M532.3,360.0l2.6,2.6m0,-2.6l-2.6,2.6M423.5,346.2l2.6,2.6m0,-2.6l-2.6,2.6M147.4,369.7l2.6,2.6m0,-2.6l-2.6,2.6M677.9,336.0l2.6,2.6m0,-2.6l-2.6,2.6M394.7,363.5l2.6,2.6m0,-2.6l-2.6,2.6M143.6,361.7l2.6,2.6m0,-2.6l-2.6,2.6M681.5,335.1l2.6,2.6m0,-2.6l-2.6,2.6M515.9,360.3l2.6,2.6m0,-2.6l-2.6,2.6M458.2,286.5l2.6,2.6m0,-2.6l-2.6,2.6M108.9,301.6l2.6,2.6m0,-2.6l-2.6,2.6M600.7,292.9l2.6,2.6m0,-2.6l-2.6,2.6M61.2,325.7l2.6,2.6m0,-2.6l-2.6,2.6M656.1,370.4l2.6,2.6m0,-2.6l-2.6,2.6M672.1,352.7l2.6,2.6m0,-2.6l-2.6,2.6M166.2,363.8l2.6,2.6m0,-2.6l-2.6,2.6M591.0,280.5l2.6,2.6m0,-2.6l-2.6,2.6M645.0,366.4l2.6,2.6m0,-2.6l-2.6,2.6M422.8,348.9l2.6,2.6m0,-2.6l-2.6,2.6M560.6,319.8l2.6,2.6m0,-2.6l-2.6,2.6M571.6,296.7l2.6,2.6m0,-2.6l-2.6,2.6M95.6,287.9l2.6,2.6m0,-2.6l-2.6,2.6M348.2,285.7l2.6,2.6m0,-2.6l-2.6,2.6M607.7,303.2l2.6,2.6m0,-2.6l-2.6,2.6M517.4,362.9l2.6,2.6m0,-2.6l-2.6,2.6M164.9,357.6l2.6,2.6m0,-2.6l-2.6,2.6M651.5,370.1l2.6,2.6m0,-2.6l-2.6,2.6M639.2,364.1l2.6,2.6m0,-2.6l-2.6,2.6M190.3,317.1l2.6,2.6m0,-2.6l-2.6,2.6M79.3,293.0l2.6,2.6m0,-2.6l-2.6,2.6M410.8,364.0l2.6,2.6m0,-2.6l-2.6,2.6M378.4,345.1l2.6,2.6m0,-2.6l-2.6,2.6M501.6,330.2l2.6,2.6m0,-2.6l-2.6,2.6M101.5,290.3l2.6,2.6m0,-2.6l-2.6,2.6M308.4,330.8l2.6,2.6m0,-2.6l-2.6,2.6M240.3,314.4l2.6,2.6m0,-2.6l-2.6,2.6M138.3,356.0l2.6,2.6m0,-2.6l-2.6,2.6M497.4,335.2l2.6,2.6m0,-2.6l-2.6,2.6M606.4,306.5l2.6,2.6m0,-2.6l-2.6,2.6M348.9,283.3l2.6,2.6m0,-2.6l-2.6,2.6M665.2,353.6l2.6,2.6m0,-2.6l-2.6,2.6M238.0,303.2l2.6,2.6m0,-2.6l-2.6,2.6M162.7,369.1l2.6,2.6m0,-2.6l-2.6,2.6M411.8,358.6l2.6,2.6m0,-2.6l-2.6,2.6M342.6,283.9l2.6,2.6m0,-2.6l-2.6,2.6M652.5,369.4l2.6,2.6m0,-2.6l-2.6,2.6M569.7,302.2l2.6,2.6m0,-2.6l-2.6,2.6M449.8,290.3l2.6,2.6m0,-2.6l-2.6,2.6M258.0,343.2l2.6,2.6m0,-2.6l-2.6,2.6M562.0,310.1l2.6,2.6m0,-2.6l-2.6,2.6M625.9,339.5l2.6,2.6m0,-2.6l-2.6,2.6M200.1,303.0l2.6,2.6m0,-2.6l-2.6,2.6M316.7,311.8l2.6,2.6m0,-2.6l-2.6,2.6M165.6,359.3l2.6,2.6m0,-2.6l-2.6,2.6M566.6,301.4l2.6,2.6m0,-2.6l-2.6,2.6M663.4,364.6l2.6,2.6m0,-2.6l-2.6,2.6M346.2,283.4l2.6,2.6m0,-2.6l-2.6,2.6M117.5,320.4l2.6,2.6m0,-2.6l-2.6,2.6M507.7,351.1l2.6,2.6m0,-2.6l-2.6,2.6M592.4,280.1l2.6,2.6m0,-2.6l-2.6,2.6M556.0,329.8l2.6,2.6m0,-2.6l-2.6,2.6M560.6,319.2l2.6,2.6m0,-2.6l-2.6,2.6M270.4,362.7l2.6,2.6m0,-2.6l-2.6,2.6M530.2,362.4l2.6,2.6m0,-2.6l-2.6,2.6M157.2,370.2l2.6,2.6m0,-2.6l-2.6,2.6M111.3,306.7l2.6,2.6m0,-2.6l-2.6,2.6M535.2,359.1l2.6,2.6m0,-2.6l-2.6,2.6M252.8,338.2l2.6,2.6m0,-2.6l-2.6,2.6M399.8,367.2l2.6,2.6m0,-2.6l-2.6,2.6M276.6,363.8l2.6,2.6m0,-2.6l-2.6,2.6M550.0,331.2l2.6,2.6m0,-2.6l-2.6,2.6M206.2,291.1l2.6,2.6m0,-2.6l-2.6,2.6M545.1,351.2l2.6,2.6m0,-2.6l-2.6,2.6M195.4,309.1l2.6,2.6m0,-2.6l-2.6,2.6M460.3,283.3l2.6,2.6m0,-2.6l-2.6,2.6M566.1,308.2l2.6,2.6m0,-2.6l-2.6,2.6M525.4,364.3l2.6,2.6m0,-2.6l-2.6,2.6M76.5,299.3l2.6,2.6m0,-2.6l-2.6,2.6M361.5,306.0l2.6,2.6m0,-2.6l-2.6,2.6M319.6,311.8l2.6,2.6m0,-2.6l-2.6,2.6M293.5,352.4l2.6,2.6m0,-2.6l-2.6,2.6M535.8,366.4l2.6,2.6m0,-2.6l-2.6,2.6M143.7,357.9l2.6,2.6m0,-2.6l-2.6,2.6M505.5,346.7l2.6,2.6m0,-2.6l-2.6,2.6M598.5,288.9l2.6,2.6m0,-2.6l-2.6,2.6M498.3,332.4l2.6,2.6m0,-2.6l-2.6,2.6M117.3,314.2l2.6,2.6m0,-2.6l-2.6,2.6M429.1,337.2l2.6,2.6m0,-2.6l-2.6,2.6M510.1,346.2l2.6,2.6m0,-2.6l-2.6,2.6M499.9,328.6l2.6,2.6m0,-2.6l-2.6,2.6M457.1,285.2l2.6,2.6m0,-2.6l-2.6,2.6M106.0,294.7l2.6,2.6m0,-2.6l-2.6,2.6M313.7,317.7l2.6,2.6m0,-2.6l-2.6,2.6M195.7,313.4l2.6,2.6m0,-2.6l-2.6,2.6M60.0,323.8l2.6,2.6m0,-2.6l-2.6,2.6M304.9,336.1l2.6,2.6m0,-2.6l-2.6,2.6M368.9,324.4l2.6,2.6m0,-2.6l-2.6,2.6M611.3,314.7l2.6,2.6m0,-2.6l-2.6,2.6M436.7,316.9l2.6,2.6m0,-2.6l-2.6,2.6M377.9,340.1l2.6,2.6m0,-2.6l-2.6,2.6M420.8,349.4l2.6,2.6m0,-2.6l-2.6,2.6M498.6,332.8l2.6,2.6m0,-2.6l-2.6,2.6M465.5,282.4l2.6,2.6m0,-2.6l-2.6,2.6M301.3,337.0l2.6,2.6m0,-2.6l-2.6,2.6M129.1,341.0l2.6,2.6m0,-2.6l-2.6,2.6M543.6,352.3l2.6,2.6m0,-2.6l-2.6,2.6M604.0,291.2l2.6,2.6m0,-2.6l-2.6,2.6M186.8,325.5l2.6,2.6m0,-2.6l-2.6,2.6M591.7,284.6l2.6,2.6m0,-2.6l-2.6,2.6M404.4,365.4l2.6,2.6m0,-2.6l-2.6,2.6M515.3,359.7l2.6,2.6m0,-2.6l-2.6,2.6M393.1,362.4l2.6,2.6m0,-2.6l-2.6,2.6M88.1,287.3l2.6,2.6m0,-2.6l-2.6,2.6M80.9,293.3l2.6,2.6m0,-2.6l-2.6,2.6M349.9,289.5l2.6,2.6m0,-2.6l-2.6,2.6M377.0,334.2l2.6,2.6m0,-2.6l-2.6,2.6M136.6,358.3l2.6,2.6m0,-2.6l-2.6,2.6M491.7,309.8l2.6,2.6m0,-2.6l-2.6,2.6M519.7,362.0l2.6,2.6m0,-2.6l-2.6,2.6M314.5,316.2l2.6,2.6m0,-2.6l-2.6,2.6M447.0,305.1l2.6,2.6m0,-2.6l-2.6,2.6M377.2,332.9l2.6,2.6m0,-2.6l-2.6,2.6M126.2,329.0l2.6,2.6m0,-2.6l-2.6,2.6M178.1,338.8l2.6,2.6m0,-2.6l-2.6,2.6M159.1,366.5l2.6,2.6m0,-2.6l-2.6,2.6M599.6,285.2l2.6,2.6m0,-2.6l-2.6,2.6M475.1,290.8l2.6,2.6m0,-2.6l-2.6,2.6M394.8,365.2l2.6,2.6m0,-2.6l-2.6,2.6M355.1,291.9l2.6,2.6m0,-2.6l-2.6,2.6M585.8,282.5l2.6,2.6m0,-2.6l-2.6,2.6M565.4,311.7l2.6,2.6m0,-2.6l-2.6,2.6M682.5,333.8l2.6,2.6m0,-2.6l-2.6,2.6M197.2,303.6l2.6,2.6m0,-2.6l-2.6,2.6M192.0,310.8l2.6,2.6m0,-2.6l-2.6,2.6M318.6,300.6l2.6,2.6m0,-2.6l-2.6,2.6M241.1,311.2l2.6,2.6m0,-2.6l-2.6,2.6M486.6,301.0l2.6,2.6m0,-2.6l-2.6,2.6M607.8,293.6l2.6,2.6m0,-2.6l-2.6,2.6M611.6,306.5l2.6,2.6m0,-2.6l-2.6,2.6M495.9,321.9l2.6,2.6m0,-2.6l-2.6,2.6M461.6,284.1l2.6,2.6m0,-2.6l-2.6,2.6M341.7,281.8l2.6,2.6m0,-2.6l-2.6,2.6M208.6,287.6l2.6,2.6m0,-2.6l-2.6,2.6M329.7,286.4l2.6,2.6m0,-2.6l-2.6,2.6M86.3,290.3l2.6,2.6m0,-2.6l-2.6,2.6M350.2,285.3l2.6,2.6m0,-2.6l-2.6,2.6M406.5,365.0l2.6,2.6m0,-2.6l-2.6,2.6M218.7,286.4l2.6,2.6m0,-2.6l-2.6,2.6M468.5,281.3l2.6,2.6m0,-2.6l-2.6,2.6M368.6,318.1l2.6,2.6m0,-2.6l-2.6,2.6M667.9,355.1l2.6,2.6m0,-2.6l-2.6,2.6M238.9,306.2l2.6,2.6m0,-2.6l-2.6,2.6M98.3,291.7l2.6,2.6m0,-2.6l-2.6,2.6M88.4,287.7l2.6,2.6m0,-2.6l-2.6,2.6M380.3,348.0l2.6,2.6m0,-2.6l-2.6,2.6M596.3,287.0l2.6,2.6m0,-2.6l-2.6,2.6M254.2,334.6l2.6,2.6m0,-2.6l-2.6,2.6M593.8,287.5l2.6,2.6m0,-2.6l-2.6,2.6M526.9,363.4l2.6,2.6m0,-2.6l-2.6,2.6M360.7,296.1l2.6,2.6m0,-2.6l-2.6,2.6M248.5,337.4l2.6,2.6m0,-2.6l-2.6,2.6M540.4,359.3l2.6,2.6m0,-2.6l-2.6,2.6M518.7,363.8l2.6,2.6m0,-2.6l-2.6,2.6M319.3,308.1l2.6,2.6m0,-2.6l-2.6,2.6M561.6,318.9l2.6,2.6m0,-2.6l-2.6,2.6M352.2,290.1l2.6,2.6m0,-2.6l-2.6,2.6M588.5,276.7l2.6,2.6m0,-2.6l-2.6,2.6M199.6,302.6l2.6,2.6m0,-2.6l-2.6,2.6M263.5,355.0l2.6,2.6m0,-2.6l-2.6,2.6M590.0,283.7l2.6,2.6m0,-2.6l-2.6,2.6M137.4,354.5l2.6,2.6m0,-2.6l-2.6,2.6M115.1,312.4l2.6,2.6m0,-2.6l-2.6,2.6M303.7,339.7l2.6,2.6m0,-2.6l-2.6,2.6M517.8,362.8l2.6,2.6m0,-2.6l-2.6,2.6M227.1,288.2l2.6,2.6m0,-2.6l-2.6,2.6M641.7,362.5l2.6,2.6m0,-2.6l-2.6,2.6M193.0,308.5l2.6,2.6m0,-2.6l-2.6,2.6M449.9,290.5l2.6,2.6m0,-2.6l-2.6,2.6M354.3,291.2l2.6,2.6m0,-2.6l-2.6,2.6M314.4,307.7l2.6,2.6m0,-2.6l-2.6,2.6M637.3,355.6l2.6,2.6m0,-2.6l-2.6,2.6M305.3,331.7l2.6,2.6m0,-2.6l-2.6,2.6M337.5,282.1l2.6,2.6m0,-2.6l-2.6,2.6M630.1,344.9l2.6,2.6m0,-2.6l-2.6,2.6M287.1,355.2l2.6,2.6m0,-2.6l-2.6,2.6M515.1,358.6l2.6,2.6m0,-2.6l-2.6,2.6M507.5,345.0l2.6,2.6m0,-2.6l-2.6,2.6M68.9,312.5l2.6,2.6m0,-2.6l-2.6,2.6M514.3,360.9l2.6,2.6m0,-2.6l-2.6,2.6M308.1,336.9l2.6,2.6m0,-2.6l-2.6,2.6M655.1,366.4l2.6,2.6m0,-2.6l-2.6,2.6M423.2,352.4l2.6,2.6m0,-2.6l-2.6,2.6M114.6,310.2l2.6,2.6m0,-2.6l-2.6,2.6M667.9,358.4l2.6,2.6m0,-2.6l-2.6,2.6M320.5,303.0l2.6,2.6m0,-2.6l-2.6,2.6M612.1,313.7l2.6,2.6m0,-2.6l-2.6,2.6M95.7,289.9l2.6,2.6m0,-2.6l-2.6,2.6M618.2,329.7l2.6,2.6m0,-2.6l-2.6,2.6M269.1,363.6l2.6,2.6m0,-2.6l-2.6,2.6M649.5,365.3l2.6,2.6m0,-2.6l-2.6,2.6M62.5,323.3l2.6,2.6m0,-2.6l-2.6,2.6" stroke="#559d77" stroke-width="0.85" fill="none"/>
</g></g>
<g filter="url(#sh2)"><g clip-path="url(#cbox)">
<polyline points="60.1,421.5 60.9,421.5 61.7,421.5 62.5,421.5 63.2,420.4 64.0,419.2 64.8,417.9 65.6,416.6 66.4,415.3 67.2,414.1 67.9,412.8 68.7,411.6 69.5,410.4 70.3,409.2 71.1,408.0 71.8,406.8 72.6,405.7 73.4,404.6 74.2,403.5 75.0,402.4 75.8,401.4 76.5,400.4 77.3,399.5 78.1,398.5 78.9,397.6 79.7,396.8 80.4,396.0 81.2,395.2 82.0,394.5 82.8,393.8 83.6,393.1 84.4,392.5 85.1,392.0 85.9,391.4 86.7,391.0 87.5,390.6 88.3,390.2 89.0,389.9 89.8,389.6 90.6,389.4 91.4,389.2 92.2,389.1 93.0,389.0 93.7,389.0 94.5,389.0 95.3,389.1 96.1,389.3 96.9,389.5 97.6,389.7 98.4,390.1 99.2,390.4 100.0,390.8 100.8,391.3 101.6,391.9 102.3,392.4 103.1,393.1 103.9,393.7 104.7,394.5 105.5,395.3 106.2,396.1 107.0,397.0 107.8,397.9 108.6,398.8 109.4,399.8 110.2,400.9 110.9,401.9 111.7,403.0 112.5,404.2 113.3,405.4 114.1,406.6 114.8,407.8 115.6,409.1 116.4,410.4 117.2,411.7 118.0,413.0 118.8,414.3 119.5,415.7 120.3,417.1 121.1,418.5 121.9,419.9 122.7,421.3 123.4,422.7 124.2,424.1 125.0,425.6 125.8,427.0 126.6,428.4 127.4,429.8 128.1,431.2 128.9,432.6 129.7,434.0 130.5,435.3 131.3,436.7 132.0,438.0 132.8,439.3 133.6,440.6 134.4,441.9 135.2,443.1 136.0,444.3 136.7,445.5 137.5,446.7 138.3,447.8 139.1,448.9 139.9,449.9 140.6,450.9 141.4,451.9 142.2,452.8 143.0,453.6 143.8,454.5 144.6,455.3 145.3,456.0 146.1,456.7 146.9,457.3 147.7,457.9 148.5,458.4 149.2,458.9 150.0,459.3 150.8,459.7 151.6,460.0 152.4,460.3 153.2,460.5 153.9,460.7 154.7,460.8 155.5,460.8 156.3,460.8 157.1,460.7 157.8,460.6 158.6,460.4 159.4,460.1 160.2,459.8 161.0,459.4 161.8,459.0 162.5,458.5 163.3,457.9 164.1,457.3 164.9,456.6 165.7,455.9 166.4,455.1 167.2,454.3 168.0,453.4 168.8,452.5 169.6,451.5 170.4,450.5 171.1,449.4 171.9,448.3 172.7,447.1 173.5,446.0 174.3,444.7 175.0,443.5 175.8,442.2 176.6,440.8 177.4,439.5 178.2,438.1 179.0,436.6 179.7,435.2 180.5,433.7 181.3,432.3 182.1,430.8 182.9,429.2 183.6,427.7 184.4,426.2 185.2,424.6 186.0,423.1 186.8,421.6 187.6,420.0 188.3,418.5 189.1,416.9 189.9,415.4 190.7,413.9 191.5,412.4 192.2,410.9 193.0,409.4 193.8,407.9 194.6,406.5 195.4,405.1 196.2,403.7 196.9,402.3 197.7,401.0 198.5,399.7 199.3,398.4 200.1,397.2 200.8,396.0 201.6,394.9 202.4,393.8 203.2,392.7 204.0,391.7 204.8,390.7 205.5,389.8 206.3,388.9 207.1,388.1 207.9,387.4 208.7,386.6 209.4,386.0 210.2,385.4 211.0,384.8 211.8,384.4 212.6,383.9 213.4,383.6 214.1,383.2 214.9,383.0 215.7,382.8 216.5,382.7 217.3,382.6 218.0,382.6 218.8,382.7 219.6,382.8 220.4,382.9 221.2,383.2 222.0,383.4 222.7,383.8 223.5,384.2 224.3,384.6 225.1,385.1 225.9,385.7 226.6,386.3 227.4,386.9 228.2,387.6 229.0,388.4 229.8,389.2 230.6,390.0 231.3,390.9 232.1,391.9 232.9,392.8 233.7,393.9 234.5,394.9 235.2,396.0 236.0,397.2 236.8,398.3 237.6,399.5 238.4,400.8 239.2,402.0 239.9,403.3 240.7,404.6 241.5,406.0 242.3,407.3 243.1,408.7 243.8,410.1 244.6,411.5 245.4,412.9 246.2,414.3 247.0,415.8 247.8,417.2 248.5,418.7 249.3,420.1 250.1,421.5 250.9,423.0 251.7,424.4 252.4,425.8 253.2,427.2 254.0,428.6 254.8,430.0 255.6,431.4 256.4,432.7 257.1,434.1 257.9,435.4 258.7,436.7 259.5,437.9 260.3,439.1 261.0,440.3 261.8,441.5 262.6,442.6 263.4,443.7 264.2,444.7 265.0,445.7 265.7,446.7 266.5,447.6 267.3,448.5 268.1,449.3 268.9,450.1 269.6,450.8 270.4,451.5 271.2,452.1 272.0,452.7 272.8,453.2 273.6,453.7 274.3,454.1 275.1,454.5 275.9,454.8 276.7,455.1 277.5,455.3 278.2,455.4 279.0,455.5 279.8,455.5 280.6,455.5 281.4,455.4 282.2,455.2 282.9,455.1 283.7,454.8 284.5,454.5 285.3,454.2 286.1,453.8 286.8,453.3 287.6,452.8 288.4,452.2 289.2,451.6 290.0,451.0 290.8,450.3 291.5,449.5 292.3,448.8 293.1,447.9 293.9,447.0 294.7,446.1 295.4,445.2 296.2,444.2 297.0,443.1 297.8,442.1 298.6,441.0 299.4,439.8 300.1,438.7 300.9,437.5 301.7,436.3 302.5,435.0 303.3,433.8 304.0,432.5 304.8,431.2 305.6,429.9 306.4,428.6 307.2,427.2 308.0,425.9 308.7,424.5 309.5,423.1 310.3,421.8 311.1,420.4 311.9,419.0 312.6,417.7 313.4,416.3 314.2,415.0 315.0,413.6 315.8,412.3 316.6,411.0 317.3,409.7 318.1,408.4 318.9,407.1 319.7,405.9 320.5,404.6 321.2,403.4 322.0,402.3 322.8,401.1 323.6,400.0 324.4,398.9 325.2,397.9 325.9,396.9 326.7,395.9 327.5,395.0 328.3,394.1 329.1,393.3 329.8,392.5 330.6,391.7 331.4,391.0 332.2,390.3 333.0,389.7 333.8,389.1 334.5,388.6 335.3,388.2 336.1,387.7 336.9,387.4 337.7,387.1 338.4,386.8 339.2,386.6 340.0,386.4 340.8,386.3 341.6,386.3 342.4,386.3 343.1,386.4 343.9,386.5 344.7,386.7 345.5,386.9 346.3,387.2 347.0,387.6 347.8,388.0 348.6,388.4 349.4,388.9 350.2,389.5 351.0,390.1 351.7,390.8 352.5,391.5 353.3,392.3 354.1,393.1 354.9,394.0 355.6,394.9 356.4,395.8 357.2,396.8 358.0,397.8 358.8,398.9 359.6,400.0 360.3,401.2 361.1,402.4 361.9,403.6 362.7,404.8 363.5,406.1 364.2,407.4 365.0,408.7 365.8,410.0 366.6,411.4 367.4,412.8 368.2,414.2 368.9,415.6 369.7,417.0 370.5,418.4 371.3,419.9 372.1,421.3 372.8,422.8 373.6,424.2 374.4,425.6 375.2,427.1 376.0,428.5 376.8,429.9 377.5,431.3 378.3,432.7 379.1,434.1 379.9,435.5 380.7,436.8 381.5,438.1 382.2,439.4 383.0,440.7 383.8,441.9 384.6,443.1 385.4,444.3 386.1,445.5 386.9,446.6 387.7,447.7 388.5,448.7 389.3,449.7 390.1,450.6 390.8,451.5 391.6,452.4 392.4,453.2 393.2,454.0 394.0,454.7 394.7,455.4 395.5,456.0 396.3,456.6 397.1,457.1 397.9,457.5 398.7,457.9 399.4,458.3 400.2,458.6 401.0,458.8 401.8,459.0 402.6,459.1 403.3,459.2 404.1,459.2 404.9,459.1 405.7,459.0 406.5,458.9 407.3,458.7 408.0,458.4 408.8,458.0 409.6,457.6 410.4,457.2 411.2,456.7 411.9,456.1 412.7,455.5 413.5,454.8 414.3,454.1 415.1,453.4 415.9,452.5 416.6,451.7 417.4,450.8 418.2,449.8 419.0,448.8 419.8,447.7 420.5,446.7 421.3,445.5 422.1,444.4 422.9,443.2 423.7,441.9 424.5,440.7 425.2,439.4 426.0,438.1 426.8,436.7 427.6,435.3 428.4,434.0 429.1,432.5 429.9,431.1 430.7,429.7 431.5,428.2 432.3,426.8 433.1,425.3 433.8,423.8 434.6,422.3 435.4,420.9 436.2,419.4 437.0,417.9 437.7,416.4 438.5,415.0 439.3,413.5 440.1,412.1 440.9,410.7 441.7,409.3 442.4,407.9 443.2,406.5 444.0,405.2 444.8,403.9 445.6,402.6 446.3,401.3 447.1,400.1 447.9,398.9 448.7,397.8 449.5,396.6 450.3,395.6 451.0,394.5 451.8,393.5 452.6,392.6 453.4,391.7 454.2,390.8 454.9,390.0 455.7,389.3 456.5,388.6 457.3,387.9 458.1,387.3 458.9,386.8 459.6,386.3 460.4,385.8 461.2,385.5 462.0,385.1 462.8,384.9 463.5,384.7 464.3,384.5 465.1,384.4 465.9,384.4 466.7,384.4 467.5,384.5 468.2,384.7 469.0,384.9 469.8,385.2 470.6,385.5 471.4,385.9 472.1,386.3 472.9,386.9 473.7,387.4 474.5,388.1 475.3,388.7 476.1,389.5 476.8,390.3 477.6,391.1 478.4,392.0 479.2,393.0 480.0,394.0 480.7,395.0 481.5,396.1 482.3,397.2 483.1,398.4 483.9,399.6 484.7,400.9 485.4,402.2 486.2,403.5 487.0,404.9 487.8,406.2 488.6,407.7 489.3,409.1 490.1,410.6 490.9,412.0 491.7,413.5 492.5,415.1 493.3,416.6 494.0,418.1 494.8,419.7 495.6,421.2 496.4,422.8 497.2,424.4 497.9,425.9 498.7,427.5 499.5,429.1 500.3,430.6 501.1,432.1 501.9,433.7 502.6,435.2 503.4,436.7 504.2,438.1 505.0,439.6 505.8,441.0 506.5,442.4 507.3,443.8 508.1,445.1 508.9,446.4 509.7,447.7 510.5,448.9 511.2,450.1 512.0,451.3 512.8,452.4 513.6,453.5 514.4,454.5 515.1,455.4 515.9,456.4 516.7,457.2 517.5,458.1 518.3,458.8 519.1,459.5 519.8,460.2 520.6,460.8 521.4,461.3 522.2,461.8 523.0,462.2 523.7,462.6 524.5,462.9 525.3,463.1 526.1,463.3 526.9,463.4 527.7,463.5 528.4,463.5 529.2,463.4 530.0,463.3 530.8,463.1 531.6,462.8 532.3,462.5 533.1,462.1 533.9,461.6 534.7,461.1 535.5,460.5 536.3,459.9 537.0,459.2 537.8,458.5 538.6,457.6 539.4,456.8 540.2,455.8 540.9,454.9 541.7,453.8 542.5,452.8 543.3,451.6 544.1,450.5 544.9,449.2 545.6,448.0 546.4,446.7 547.2,445.3 548.0,444.0 548.8,442.6 549.5,441.1 550.3,439.6 551.1,438.1 551.9,436.6 552.7,435.1 553.5,433.5 554.2,431.9 555.0,430.3 555.8,428.7 556.6,427.1 557.4,425.4 558.1,423.8 558.9,422.2 559.7,420.5 560.5,418.9 561.3,417.2 562.1,415.6 562.8,414.0 563.6,412.4 564.4,410.8 565.2,409.2 566.0,407.7 566.7,406.1 567.5,404.6 568.3,403.2 569.1,401.7 569.9,400.3 570.7,398.9 571.4,397.6 572.2,396.3 573.0,395.0 573.8,393.8 574.6,392.6 575.3,391.4 576.1,390.4 576.9,389.3 577.7,388.3 578.5,387.4 579.3,386.5 580.0,385.7 580.8,384.9 581.6,384.2 582.4,383.6 583.2,383.0 583.9,382.5 584.7,382.0 585.5,381.6 586.3,381.2 587.1,381.0 587.9,380.8 588.6,380.6 589.4,380.5 590.2,380.5 591.0,380.6 591.8,380.7 592.5,380.8 593.3,381.1 594.1,381.4 594.9,381.8 595.7,382.2 596.5,382.8 597.2,383.3 598.0,384.0 598.8,384.7 599.6,385.4 600.4,386.3 601.1,387.1 601.9,388.1 602.7,389.1 603.5,390.1 604.3,391.2 605.1,392.4 605.8,393.6 606.6,394.8 607.4,396.1 608.2,397.4 609.0,398.8 609.7,400.2 610.5,401.7 611.3,403.1 612.1,404.7 612.9,406.2 613.7,407.8 614.4,409.4 615.2,411.0 616.0,412.6 616.8,414.3 617.6,415.9 618.3,417.6 619.1,419.3 619.9,421.0 620.7,422.7 621.5,424.4 622.3,426.1 623.0,427.8 623.8,429.5 624.6,431.2 625.4,432.9 626.2,434.5 626.9,436.1 627.7,437.8 628.5,439.4 629.3,440.9 630.1,442.5 630.9,444.0 631.6,445.5 632.4,446.9 633.2,448.3 634.0,449.7 634.8,451.0 635.5,452.3 636.3,453.5 637.1,454.7 637.9,455.9 638.7,457.0 639.5,458.0 640.2,459.0 641.0,459.9 641.8,460.8 642.6,461.6 643.4,462.4 644.1,463.1 644.9,463.7 645.7,464.3 646.5,464.8 647.3,465.2 648.1,465.6 648.8,465.9 649.6,466.2 650.4,466.3 651.2,466.5 652.0,466.5 652.7,466.5 653.5,466.4 654.3,466.2 655.1,466.0 655.9,465.8 656.7,465.5 657.4,465.1 658.2,464.6 659.0,464.1 659.8,463.6 660.6,462.9 661.3,462.3 662.1,461.5 662.9,460.7 663.7,459.9 664.5,459.0 665.3,458.1 666.0,457.1 666.8,456.1 667.6,455.0 668.4,453.9 669.2,452.7 669.9,451.5 670.7,450.3 671.5,449.0 672.3,447.7 673.1,446.4 673.9,445.0 674.6,443.6 675.4,442.2 676.2,440.7 677.0,439.2 677.8,437.8 678.5,436.3 679.3,434.7 680.1,433.2 680.9,431.7 681.7,430.1 682.5,428.6 683.2,427.3 684.0,427.3 684.8,427.3 685.6,427.3" fill="none" stroke="#8a22dc" stroke-width="3.0" stroke-linejoin="round"/>
<path d="M353.6,394.0h3.2m-1.6,-1.6v3.2M66.1,412.8h3.2m-1.6,-1.6v3.2M489.4,411.2h3.2m-1.6,-1.6v3.2M149.7,458.1h3.2m-1.6,-1.6v3.2M94.8,390.0h3.2m-1.6,-1.6v3.2M272.2,453.6h3.2m-1.6,-1.6v3.2M380.2,435.4h3.2m-1.6,-1.6v3.2M129.7,434.8h3.2m-1.6,-1.6v3.2M447.1,399.5h3.2m-1.6,-1.6v3.2M164.4,453.4h3.2m-1.6,-1.6v3.2M431.0,427.5h3.2m-1.6,-1.6v3.2M514.9,455.0h3.2m-1.6,-1.6v3.2M280.6,454.4h3.2m-1.6,-1.6v3.2M128.6,432.6h3.2m-1.6,-1.6v3.2M567.8,408.7h3.2m-1.6,-1.6v3.2M327.8,394.2h3.2m-1.6,-1.6v3.2M302.8,437.4h3.2m-1.6,-1.6v3.2M171.0,451.2h3.2m-1.6,-1.6v3.2M275.3,455.2h3.2m-1.6,-1.6v3.2M185.6,414.9h3.2m-1.6,-1.6v3.2M361.0,403.3h3.2m-1.6,-1.6v3.2M286.3,458.5h3.2m-1.6,-1.6v3.2M62.9,412.1h3.2m-1.6,-1.6v3.2M210.1,390.1h3.2m-1.6,-1.6v3.2M672.8,445.6h3.2m-1.6,-1.6v3.2M579.1,390.0h3.2m-1.6,-1.6v3.2M356.8,402.5h3.2m-1.6,-1.6v3.2M617.2,427.3h3.2m-1.6,-1.6v3.2M230.4,400.4h3.2m-1.6,-1.6v3.2M499.0,431.3h3.2m-1.6,-1.6v3.2M487.9,408.0h3.2m-1.6,-1.6v3.2M317.8,405.4h3.2m-1.6,-1.6v3.2M411.9,460.5h3.2m-1.6,-1.6v3.2M531.6,456.6h3.2m-1.6,-1.6v3.2M551.4,429.5h3.2m-1.6,-1.6v3.2M520.9,462.9h3.2m-1.6,-1.6v3.2M626.3,433.4h3.2m-1.6,-1.6v3.2M392.6,451.4h3.2m-1.6,-1.6v3.2M281.4,456.4h3.2m-1.6,-1.6v3.2M398.5,456.2h3.2m-1.6,-1.6v3.2M496.8,429.3h3.2m-1.6,-1.6v3.2M261.3,445.5h3.2m-1.6,-1.6v3.2M254.1,432.4h3.2m-1.6,-1.6v3.2M644.7,459.2h3.2m-1.6,-1.6v3.2M335.4,387.7h3.2m-1.6,-1.6v3.2M207.8,383.8h3.2m-1.6,-1.6v3.2M284.3,453.9h3.2m-1.6,-1.6v3.2M194.2,403.6h3.2m-1.6,-1.6v3.2M157.9,459.0h3.2m-1.6,-1.6v3.2M216.4,379.1h3.2m-1.6,-1.6v3.2M200.9,389.3h3.2m-1.6,-1.6v3.2M481.5,392.8h3.2m-1.6,-1.6v3.2M484.2,402.3h3.2m-1.6,-1.6v3.2M370.9,420.0h3.2m-1.6,-1.6v3.2M199.7,396.9h3.2m-1.6,-1.6v3.2M562.9,415.1h3.2m-1.6,-1.6v3.2M302.9,431.9h3.2m-1.6,-1.6v3.2M138.3,446.9h3.2m-1.6,-1.6v3.2M548.3,435.5h3.2m-1.6,-1.6v3.2M312.0,412.7h3.2m-1.6,-1.6v3.2M563.7,411.6h3.2m-1.6,-1.6v3.2M668.4,457.4h3.2m-1.6,-1.6v3.2M603.4,396.4h3.2m-1.6,-1.6v3.2M251.3,427.3h3.2m-1.6,-1.6v3.2M191.8,406.7h3.2m-1.6,-1.6v3.2M67.8,412.8h3.2m-1.6,-1.6v3.2M244.5,417.4h3.2m-1.6,-1.6v3.2M599.5,387.6h3.2m-1.6,-1.6v3.2M391.9,458.7h3.2m-1.6,-1.6v3.2M558.3,417.2h3.2m-1.6,-1.6v3.2M453.7,385.9h3.2m-1.6,-1.6v3.2M507.2,445.6h3.2m-1.6,-1.6v3.2M595.6,380.4h3.2m-1.6,-1.6v3.2M323.7,394.3h3.2m-1.6,-1.6v3.2M583.9,378.7h3.2m-1.6,-1.6v3.2M112.3,405.2h3.2m-1.6,-1.6v3.2M126.6,436.2h3.2m-1.6,-1.6v3.2M659.6,457.5h3.2m-1.6,-1.6v3.2M200.1,393.2h3.2m-1.6,-1.6v3.2M530.7,462.2h3.2m-1.6,-1.6v3.2M207.0,383.9h3.2m-1.6,-1.6v3.2M676.9,434.1h3.2m-1.6,-1.6v3.2M243.3,414.0h3.2m-1.6,-1.6v3.2M64.1,410.2h3.2m-1.6,-1.6v3.2M574.3,390.2h3.2m-1.6,-1.6v3.2M597.0,387.8h3.2m-1.6,-1.6v3.2M448.4,395.2h3.2m-1.6,-1.6v3.2M300.8,438.8h3.2m-1.6,-1.6v3.2M654.1,468.5h3.2m-1.6,-1.6v3.2M121.9,427.1h3.2m-1.6,-1.6v3.2M400.1,457.8h3.2m-1.6,-1.6v3.2M253.6,427.1h3.2m-1.6,-1.6v3.2M373.5,425.6h3.2m-1.6,-1.6v3.2M185.8,421.2h3.2m-1.6,-1.6v3.2M644.2,467.0h3.2m-1.6,-1.6v3.2M306.7,428.6h3.2m-1.6,-1.6v3.2M478.6,393.3h3.2m-1.6,-1.6v3.2M678.2,440.8h3.2m-1.6,-1.6v3.2M235.4,401.3h3.2m-1.6,-1.6v3.2M456.3,388.5h3.2m-1.6,-1.6v3.2M659.7,461.6h3.2m-1.6,-1.6v3.2M349.1,389.2h3.2m-1.6,-1.6v3.2M207.9,380.9h3.2m-1.6,-1.6v3.2M472.5,384.5h3.2m-1.6,-1.6v3.2M248.7,430.2h3.2m-1.6,-1.6v3.2M302.0,438.5h3.2m-1.6,-1.6v3.2M582.4,380.5h3.2m-1.6,-1.6v3.2M317.5,407.9h3.2m-1.6,-1.6v3.2M251.3,426.4h3.2m-1.6,-1.6v3.2M296.1,438.3h3.2m-1.6,-1.6v3.2M152.7,460.8h3.2m-1.6,-1.6v3.2M641.1,459.1h3.2m-1.6,-1.6v3.2M626.3,442.1h3.2m-1.6,-1.6v3.2M220.9,377.6h3.2m-1.6,-1.6v3.2M447.1,403.7h3.2m-1.6,-1.6v3.2M461.5,384.2h3.2m-1.6,-1.6v3.2M283.5,453.4h3.2m-1.6,-1.6v3.2M384.0,440.8h3.2m-1.6,-1.6v3.2M401.6,453.6h3.2m-1.6,-1.6v3.2M622.1,433.6h3.2m-1.6,-1.6v3.2M447.7,398.8h3.2m-1.6,-1.6v3.2M556.9,419.3h3.2m-1.6,-1.6v3.2M480.6,402.4h3.2m-1.6,-1.6v3.2M238.2,403.9h3.2m-1.6,-1.6v3.2M670.2,453.5h3.2m-1.6,-1.6v3.2M662.7,457.2h3.2m-1.6,-1.6v3.2M596.4,386.1h3.2m-1.6,-1.6v3.2M473.6,386.4h3.2m-1.6,-1.6v3.2M526.5,465.5h3.2m-1.6,-1.6v3.2M530.1,462.1h3.2m-1.6,-1.6v3.2M116.3,412.7h3.2m-1.6,-1.6v3.2M408.6,455.5h3.2m-1.6,-1.6v3.2M625.3,432.5h3.2m-1.6,-1.6v3.2M643.2,462.7h3.2m-1.6,-1.6v3.2M472.4,393.8h3.2m-1.6,-1.6v3.2M659.4,464.6h3.2m-1.6,-1.6v3.2M573.3,398.6h3.2m-1.6,-1.6v3.2M331.8,389.2h3.2m-1.6,-1.6v3.2M657.7,464.1h3.2m-1.6,-1.6v3.2M186.5,417.1h3.2m-1.6,-1.6v3.2M359.7,400.9h3.2m-1.6,-1.6v3.2M480.1,394.4h3.2m-1.6,-1.6v3.2M673.7,436.3h3.2m-1.6,-1.6v3.2M163.3,452.3h3.2m-1.6,-1.6v3.2M185.5,423.1h3.2m-1.6,-1.6v3.2M263.0,449.9h3.2m-1.6,-1.6v3.2M331.0,387.6h3.2m-1.6,-1.6v3.2M629.5,452.6h3.2m-1.6,-1.6v3.2M396.4,456.7h3.2m-1.6,-1.6v3.2M164.8,458.6h3.2m-1.6,-1.6v3.2M617.8,410.4h3.2m-1.6,-1.6v3.2M438.5,414.4h3.2m-1.6,-1.6v3.2M670.7,448.1h3.2m-1.6,-1.6v3.2M230.7,391.1h3.2m-1.6,-1.6v3.2M222.2,389.9h3.2m-1.6,-1.6v3.2M650.6,468.5h3.2m-1.6,-1.6v3.2M85.1,388.6h3.2m-1.6,-1.6v3.2M330.9,391.7h3.2m-1.6,-1.6v3.2M625.2,438.1h3.2m-1.6,-1.6v3.2M247.0,416.9h3.2m-1.6,-1.6v3.2M583.8,380.3h3.2m-1.6,-1.6v3.2M241.5,400.9h3.2m-1.6,-1.6v3.2M152.6,467.3h3.2m-1.6,-1.6v3.2M224.6,391.1h3.2m-1.6,-1.6v3.2M164.1,458.7h3.2m-1.6,-1.6v3.2M328.4,383.7h3.2m-1.6,-1.6v3.2M631.0,449.8h3.2m-1.6,-1.6v3.2M493.8,422.6h3.2m-1.6,-1.6v3.2M356.9,404.2h3.2m-1.6,-1.6v3.2M200.6,397.0h3.2m-1.6,-1.6v3.2M633.0,444.7h3.2m-1.6,-1.6v3.2M492.9,421.1h3.2m-1.6,-1.6v3.2M334.9,384.8h3.2m-1.6,-1.6v3.2M256.0,429.7h3.2m-1.6,-1.6v3.2M606.2,393.4h3.2m-1.6,-1.6v3.2M505.5,443.0h3.2m-1.6,-1.6v3.2M139.1,433.5h3.2m-1.6,-1.6v3.2M253.5,429.3h3.2m-1.6,-1.6v3.2M227.2,388.3h3.2m-1.6,-1.6v3.2M508.7,452.4h3.2m-1.6,-1.6v3.2M202.5,389.9h3.2m-1.6,-1.6v3.2M511.2,451.2h3.2m-1.6,-1.6v3.2M115.4,404.6h3.2m-1.6,-1.6v3.2M115.4,410.4h3.2m-1.6,-1.6v3.2M358.2,396.6h3.2m-1.6,-1.6v3.2M326.7,398.2h3.2m-1.6,-1.6v3.2M129.0,439.0h3.2m-1.6,-1.6v3.2M516.8,459.9h3.2m-1.6,-1.6v3.2M161.7,450.5h3.2m-1.6,-1.6v3.2M598.4,384.4h3.2m-1.6,-1.6v3.2M677.3,440.6h3.2m-1.6,-1.6v3.2M544.3,441.2h3.2m-1.6,-1.6v3.2M590.8,378.5h3.2m-1.6,-1.6v3.2M453.7,391.2h3.2m-1.6,-1.6v3.2M265.0,445.6h3.2m-1.6,-1.6v3.2M388.2,452.9h3.2m-1.6,-1.6v3.2M173.6,445.3h3.2m-1.6,-1.6v3.2M610.3,407.0h3.2m-1.6,-1.6v3.2M316.7,413.5h3.2m-1.6,-1.6v3.2M272.2,458.9h3.2m-1.6,-1.6v3.2M639.9,456.6h3.2m-1.6,-1.6v3.2M123.5,426.1h3.2m-1.6,-1.6v3.2M504.0,441.9h3.2m-1.6,-1.6v3.2M344.0,388.2h3.2m-1.6,-1.6v3.2M459.5,385.8h3.2m-1.6,-1.6v3.2M398.1,455.2h3.2m-1.6,-1.6v3.2M98.4,396.3h3.2m-1.6,-1.6v3.2M448.6,388.7h3.2m-1.6,-1.6v3.2M299.3,438.7h3.2m-1.6,-1.6v3.2M122.1,424.3h3.2m-1.6,-1.6v3.2M406.5,457.1h3.2m-1.6,-1.6v3.2M638.0,457.0h3.2m-1.6,-1.6v3.2M543.1,449.5h3.2m-1.6,-1.6v3.2M397.7,461.0h3.2m-1.6,-1.6v3.2M531.7,461.2h3.2m-1.6,-1.6v3.2M578.5,381.3h3.2m-1.6,-1.6v3.2M198.7,399.1h3.2m-1.6,-1.6v3.2M649.9,466.4h3.2m-1.6,-1.6v3.2M370.6,420.5h3.2m-1.6,-1.6v3.2M664.3,457.8h3.2m-1.6,-1.6v3.2M250.5,425.2h3.2m-1.6,-1.6v3.2M616.0,410.8h3.2m-1.6,-1.6v3.2M490.6,415.9h3.2m-1.6,-1.6v3.2M426.3,427.1h3.2m-1.6,-1.6v3.2M168.8,449.9h3.2m-1.6,-1.6v3.2M559.0,419.8h3.2m-1.6,-1.6v3.2M254.0,435.1h3.2m-1.6,-1.6v3.2M556.1,422.8h3.2m-1.6,-1.6v3.2M132.5,439.8h3.2m-1.6,-1.6v3.2M308.0,425.2h3.2m-1.6,-1.6v3.2M145.9,457.6h3.2m-1.6,-1.6v3.2M523.3,463.9h3.2m-1.6,-1.6v3.2M592.5,384.0h3.2m-1.6,-1.6v3.2M226.6,382.9h3.2m-1.6,-1.6v3.2M262.4,436.9h3.2m-1.6,-1.6v3.2M164.7,450.0h3.2m-1.6,-1.6v3.2M619.1,420.0h3.2m-1.6,-1.6v3.2M219.6,384.2h3.2m-1.6,-1.6v3.2M575.3,393.9h3.2m-1.6,-1.6v3.2M447.3,401.5h3.2m-1.6,-1.6v3.2M373.8,427.3h3.2m-1.6,-1.6v3.2M550.2,436.5h3.2m-1.6,-1.6v3.2M562.7,408.5h3.2m-1.6,-1.6v3.2M570.4,394.0h3.2m-1.6,-1.6v3.2M420.2,445.3h3.2m-1.6,-1.6v3.2M616.7,417.1h3.2m-1.6,-1.6v3.2M350.7,391.8h3.2m-1.6,-1.6v3.2M273.6,453.0h3.2m-1.6,-1.6v3.2M548.8,439.5h3.2m-1.6,-1.6v3.2M446.7,398.6h3.2m-1.6,-1.6v3.2M194.3,405.7h3.2m-1.6,-1.6v3.2M313.7,415.9h3.2m-1.6,-1.6v3.2M612.2,397.9h3.2m-1.6,-1.6v3.2M122.0,426.6h3.2m-1.6,-1.6v3.2M335.8,385.3h3.2m-1.6,-1.6v3.2M430.6,422.0h3.2m-1.6,-1.6v3.2M597.6,381.0h3.2m-1.6,-1.6v3.2M142.2,451.3h3.2m-1.6,-1.6v3.2M200.5,395.7h3.2m-1.6,-1.6v3.2M245.1,423.0h3.2m-1.6,-1.6v3.2M311.2,416.4h3.2m-1.6,-1.6v3.2M657.4,468.8h3.2m-1.6,-1.6v3.2M312.2,415.8h3.2m-1.6,-1.6v3.2M187.9,417.5h3.2m-1.6,-1.6v3.2M484.4,408.8h3.2m-1.6,-1.6v3.2M638.4,464.6h3.2m-1.6,-1.6v3.2M581.2,371.9h3.2m-1.6,-1.6v3.2M323.4,396.5h3.2m-1.6,-1.6v3.2M376.1,431.8h3.2m-1.6,-1.6v3.2M273.9,454.1h3.2m-1.6,-1.6v3.2M343.5,387.9h3.2m-1.6,-1.6v3.2M295.5,438.8h3.2m-1.6,-1.6v3.2M447.6,392.9h3.2m-1.6,-1.6v3.2M677.7,441.3h3.2m-1.6,-1.6v3.2M271.2,451.1h3.2m-1.6,-1.6v3.2M408.5,451.8h3.2m-1.6,-1.6v3.2M389.6,450.5h3.2m-1.6,-1.6v3.2M261.5,446.2h3.2m-1.6,-1.6v3.2M674.6,444.1h3.2m-1.6,-1.6v3.2M419.5,438.3h3.2m-1.6,-1.6v3.2M378.3,432.1h3.2m-1.6,-1.6v3.2M450.5,392.5h3.2m-1.6,-1.6v3.2M409.2,461.6h3.2m-1.6,-1.6v3.2M368.2,424.4h3.2m-1.6,-1.6v3.2M501.3,433.1h3.2m-1.6,-1.6v3.2M446.9,402.1h3.2m-1.6,-1.6v3.2M280.9,456.9h3.2m-1.6,-1.6v3.2M239.7,406.3h3.2m-1.6,-1.6v3.2M246.1,419.3h3.2m-1.6,-1.6v3.2M277.0,455.0h3.2m-1.6,-1.6v3.2M601.0,390.6h3.2m-1.6,-1.6v3.2M555.6,430.0h3.2m-1.6,-1.6v3.2M673.2,444.9h3.2m-1.6,-1.6v3.2M98.5,392.4h3.2m-1.6,-1.6v3.2M339.7,388.4h3.2m-1.6,-1.6v3.2M525.6,463.8h3.2m-1.6,-1.6v3.2M438.1,414.3h3.2m-1.6,-1.6v3.2M93.9,387.5h3.2m-1.6,-1.6v3.2M554.4,430.8h3.2m-1.6,-1.6v3.2M590.5,385.8h3.2m-1.6,-1.6v3.2M664.9,450.8h3.2m-1.6,-1.6v3.2M477.1,392.6h3.2m-1.6,-1.6v3.2M628.2,440.3h3.2m-1.6,-1.6v3.2M504.3,442.2h3.2m-1.6,-1.6v3.2M130.3,434.1h3.2m-1.6,-1.6v3.2M261.2,437.5h3.2m-1.6,-1.6v3.2M203.9,392.1h3.2m-1.6,-1.6v3.2M640.7,463.6h3.2m-1.6,-1.6v3.2M606.0,398.0h3.2m-1.6,-1.6v3.2M368.1,421.8h3.2m-1.6,-1.6v3.2M302.5,429.7h3.2m-1.6,-1.6v3.2M176.0,443.3h3.2m-1.6,-1.6v3.2M257.8,436.8h3.2m-1.6,-1.6v3.2M563.0,408.7h3.2m-1.6,-1.6v3.2M275.2,452.8h3.2m-1.6,-1.6v3.2M518.4,459.4h3.2m-1.6,-1.6v3.2M445.7,400.2h3.2m-1.6,-1.6v3.2M184.1,423.6h3.2m-1.6,-1.6v3.2M147.9,457.7h3.2m-1.6,-1.6v3.2M171.8,449.9h3.2m-1.6,-1.6v3.2M302.2,433.3h3.2m-1.6,-1.6v3.2M256.3,434.4h3.2m-1.6,-1.6v3.2M293.9,449.9h3.2m-1.6,-1.6v3.2M335.0,382.8h3.2m-1.6,-1.6v3.2M534.9,460.1h3.2m-1.6,-1.6v3.2M680.8,427.3h3.2m-1.6,-1.6v3.2M550.1,436.1h3.2m-1.6,-1.6v3.2M102.7,397.8h3.2m-1.6,-1.6v3.2M64.1,416.5h3.2m-1.6,-1.6v3.2M660.5,465.8h3.2m-1.6,-1.6v3.2M617.3,421.7h3.2m-1.6,-1.6v3.2M645.0,461.2h3.2m-1.6,-1.6v3.2M638.8,466.1h3.2m-1.6,-1.6v3.2M559.6,421.6h3.2m-1.6,-1.6v3.2M136.3,447.1h3.2m-1.6,-1.6v3.2M176.2,441.8h3.2m-1.6,-1.6v3.2M683.6,433.6h3.2m-1.6,-1.6v3.2M393.3,455.5h3.2m-1.6,-1.6v3.2M221.8,380.1h3.2m-1.6,-1.6v3.2M482.0,402.5h3.2m-1.6,-1.6v3.2M461.5,386.2h3.2m-1.6,-1.6v3.2M91.9,393.4h3.2m-1.6,-1.6v3.2M403.2,455.5h3.2m-1.6,-1.6v3.2M512.6,456.1h3.2m-1.6,-1.6v3.2M294.3,447.6h3.2m-1.6,-1.6v3.2M350.7,389.2h3.2m-1.6,-1.6v3.2M441.7,407.9h3.2m-1.6,-1.6v3.2M227.5,389.3h3.2m-1.6,-1.6v3.2M349.8,387.8h3.2m-1.6,-1.6v3.2M624.9,435.6h3.2m-1.6,-1.6v3.2M481.8,406.4h3.2m-1.6,-1.6v3.2M223.2,389.1h3.2m-1.6,-1.6v3.2M87.2,390.9h3.2m-1.6,-1.6v3.2M360.6,403.4h3.2m-1.6,-1.6v3.2M100.2,391.6h3.2m-1.6,-1.6v3.2M411.1,460.6h3.2m-1.6,-1.6v3.2M131.9,439.8h3.2m-1.6,-1.6v3.2M271.2,451.5h3.2m-1.6,-1.6v3.2M387.5,445.9h3.2m-1.6,-1.6v3.2M571.0,394.9h3.2m-1.6,-1.6v3.2M146.4,453.3h3.2m-1.6,-1.6v3.2M446.8,394.5h3.2m-1.6,-1.6v3.2M603.2,389.7h3.2m-1.6,-1.6v3.2M154.6,467.5h3.2m-1.6,-1.6v3.2M446.2,401.2h3.2m-1.6,-1.6v3.2M332.2,387.9h3.2m-1.6,-1.6v3.2M595.8,380.4h3.2m-1.6,-1.6v3.2M475.0,392.0h3.2m-1.6,-1.6v3.2M181.3,422.8h3.2m-1.6,-1.6v3.2M633.3,445.5h3.2m-1.6,-1.6v3.2M474.2,389.9h3.2m-1.6,-1.6v3.2M333.1,387.2h3.2m-1.6,-1.6v3.2M472.8,392.5h3.2m-1.6,-1.6v3.2M676.9,444.7h3.2m-1.6,-1.6v3.2M406.8,459.3h3.2m-1.6,-1.6v3.2M412.7,455.5h3.2m-1.6,-1.6v3.2M195.6,396.2h3.2m-1.6,-1.6v3.2M445.0,404.7h3.2m-1.6,-1.6v3.2M651.7,463.8h3.2m-1.6,-1.6v3.2M480.5,398.0h3.2m-1.6,-1.6v3.2M633.1,451.9h3.2m-1.6,-1.6v3.2M281.7,450.5h3.2m-1.6,-1.6v3.2M266.7,449.2h3.2m-1.6,-1.6v3.2M597.1,387.5h3.2m-1.6,-1.6v3.2M599.6,386.0h3.2m-1.6,-1.6v3.2M74.6,400.6h3.2m-1.6,-1.6v3.2M642.8,468.6h3.2m-1.6,-1.6v3.2M291.8,444.5h3.2m-1.6,-1.6v3.2M285.8,453.6h3.2m-1.6,-1.6v3.2M649.0,466.3h3.2m-1.6,-1.6v3.2M290.4,443.0h3.2m-1.6,-1.6v3.2M394.1,457.4h3.2m-1.6,-1.6v3.2M121.2,419.1h3.2m-1.6,-1.6v3.2M388.5,456.3h3.2m-1.6,-1.6v3.2M180.4,446.1h3.2m-1.6,-1.6v3.2M583.8,383.2h3.2m-1.6,-1.6v3.2M449.3,392.2h3.2m-1.6,-1.6v3.2M359.5,401.2h3.2m-1.6,-1.6v3.2M118.6,414.2h3.2m-1.6,-1.6v3.2M264.3,446.8h3.2m-1.6,-1.6v3.2M331.6,386.6h3.2m-1.6,-1.6v3.2M79.5,392.8h3.2m-1.6,-1.6v3.2M121.2,424.7h3.2m-1.6,-1.6v3.2M571.8,394.6h3.2m-1.6,-1.6v3.2M206.2,389.1h3.2m-1.6,-1.6v3.2M543.6,452.6h3.2m-1.6,-1.6v3.2M580.0,387.7h3.2m-1.6,-1.6v3.2M207.0,388.5h3.2m-1.6,-1.6v3.2M529.0,464.3h3.2m-1.6,-1.6v3.2M372.6,424.3h3.2m-1.6,-1.6v3.2M104.8,395.2h3.2m-1.6,-1.6v3.2M437.5,413.5h3.2m-1.6,-1.6v3.2M655.0,466.6h3.2m-1.6,-1.6v3.2M483.0,404.3h3.2m-1.6,-1.6v3.2M119.9,419.6h3.2m-1.6,-1.6v3.2M219.2,387.8h3.2m-1.6,-1.6v3.2M372.0,428.3h3.2m-1.6,-1.6v3.2M169.7,446.6h3.2m-1.6,-1.6v3.2M654.1,466.3h3.2m-1.6,-1.6v3.2M608.0,407.7h3.2m-1.6,-1.6v3.2M282.0,460.2h3.2m-1.6,-1.6v3.2M268.4,457.6h3.2m-1.6,-1.6v3.2M522.7,466.4h3.2m-1.6,-1.6v3.2M647.4,468.4h3.2m-1.6,-1.6v3.2M260.7,443.2h3.2m-1.6,-1.6v3.2M506.6,452.5h3.2m-1.6,-1.6v3.2M311.6,425.3h3.2m-1.6,-1.6v3.2M262.0,436.9h3.2m-1.6,-1.6v3.2M168.0,454.7h3.2m-1.6,-1.6v3.2M224.3,385.3h3.2m-1.6,-1.6v3.2M159.7,459.1h3.2m-1.6,-1.6v3.2M433.8,422.3h3.2m-1.6,-1.6v3.2M590.8,378.6h3.2m-1.6,-1.6v3.2M583.1,384.1h3.2m-1.6,-1.6v3.2M401.0,452.9h3.2m-1.6,-1.6v3.2M635.6,455.8h3.2m-1.6,-1.6v3.2M674.7,444.4h3.2m-1.6,-1.6v3.2M475.4,383.9h3.2m-1.6,-1.6v3.2M613.2,404.8h3.2m-1.6,-1.6v3.2M324.4,390.6h3.2m-1.6,-1.6v3.2M67.2,411.4h3.2m-1.6,-1.6v3.2M310.2,415.9h3.2m-1.6,-1.6v3.2M94.2,390.2h3.2m-1.6,-1.6v3.2M665.3,460.8h3.2m-1.6,-1.6v3.2M511.5,450.0h3.2m-1.6,-1.6v3.2M284.0,451.2h3.2m-1.6,-1.6v3.2M362.2,411.8h3.2m-1.6,-1.6v3.2M231.2,398.4h3.2m-1.6,-1.6v3.2M61.5,420.0h3.2m-1.6,-1.6v3.2M564.9,410.7h3.2m-1.6,-1.6v3.2M251.9,428.6h3.2m-1.6,-1.6v3.2M636.5,457.7h3.2m-1.6,-1.6v3.2M455.1,388.7h3.2m-1.6,-1.6v3.2M641.1,460.4h3.2m-1.6,-1.6v3.2M180.4,442.1h3.2m-1.6,-1.6v3.2M206.1,383.3h3.2m-1.6,-1.6v3.2M161.8,459.5h3.2m-1.6,-1.6v3.2M553.6,433.3h3.2m-1.6,-1.6v3.2M354.7,396.6h3.2m-1.6,-1.6v3.2M371.9,428.1h3.2m-1.6,-1.6v3.2M412.3,456.6h3.2m-1.6,-1.6v3.2M170.1,449.6h3.2m-1.6,-1.6v3.2M88.2,389.7h3.2m-1.6,-1.6v3.2M611.6,404.9h3.2m-1.6,-1.6v3.2M430.3,422.3h3.2m-1.6,-1.6v3.2M103.8,393.7h3.2m-1.6,-1.6v3.2M587.2,384.3h3.2m-1.6,-1.6v3.2M342.0,387.3h3.2m-1.6,-1.6v3.2M536.8,457.6h3.2m-1.6,-1.6v3.2M547.5,441.1h3.2m-1.6,-1.6v3.2M266.4,449.7h3.2m-1.6,-1.6v3.2M322.9,402.2h3.2m-1.6,-1.6v3.2M479.4,393.8h3.2m-1.6,-1.6v3.2M306.3,424.9h3.2m-1.6,-1.6v3.2M169.9,451.3h3.2m-1.6,-1.6v3.2M372.8,429.1h3.2m-1.6,-1.6v3.2M583.1,382.1h3.2m-1.6,-1.6v3.2M682.0,423.8h3.2m-1.6,-1.6v3.2M100.4,390.3h3.2m-1.6,-1.6v3.2M140.8,457.3h3.2m-1.6,-1.6v3.2M500.6,432.3h3.2m-1.6,-1.6v3.2M180.9,425.3h3.2m-1.6,-1.6v3.2M580.9,387.1h3.2m-1.6,-1.6v3.2M437.2,405.3h3.2m-1.6,-1.6v3.2M182.1,425.3h3.2m-1.6,-1.6v3.2M673.3,444.0h3.2m-1.6,-1.6v3.2M258.8,443.9h3.2m-1.6,-1.6v3.2M425.8,431.4h3.2m-1.6,-1.6v3.2M122.9,422.9h3.2m-1.6,-1.6v3.2M179.8,425.3h3.2m-1.6,-1.6v3.2M618.8,430.6h3.2m-1.6,-1.6v3.2M240.1,402.6h3.2m-1.6,-1.6v3.2M502.9,441.8h3.2m-1.6,-1.6v3.2M375.8,432.5h3.2m-1.6,-1.6v3.2M599.9,383.5h3.2m-1.6,-1.6v3.2M253.5,436.5h3.2m-1.6,-1.6v3.2M436.2,411.6h3.2m-1.6,-1.6v3.2M187.9,414.0h3.2m-1.6,-1.6v3.2M435.1,426.6h3.2m-1.6,-1.6v3.2M539.9,458.3h3.2m-1.6,-1.6v3.2M272.3,449.3h3.2m-1.6,-1.6v3.2M274.9,455.5h3.2m-1.6,-1.6v3.2M187.4,425.3h3.2m-1.6,-1.6v3.2M100.9,393.7h3.2m-1.6,-1.6v3.2M449.7,390.2h3.2m-1.6,-1.6v3.2M84.4,390.3h3.2m-1.6,-1.6v3.2M593.7,382.5h3.2m-1.6,-1.6v3.2M179.1,431.8h3.2m-1.6,-1.6v3.2M652.2,468.7h3.2m-1.6,-1.6v3.2M126.1,425.1h3.2m-1.6,-1.6v3.2M619.3,430.9h3.2m-1.6,-1.6v3.2M352.0,393.6h3.2m-1.6,-1.6v3.2M175.7,439.8h3.2m-1.6,-1.6v3.2M189.9,410.8h3.2m-1.6,-1.6v3.2M311.6,421.2h3.2m-1.6,-1.6v3.2M86.4,391.3h3.2m-1.6,-1.6v3.2M412.9,455.0h3.2m-1.6,-1.6v3.2M293.6,446.9h3.2m-1.6,-1.6v3.2M487.9,412.5h3.2m-1.6,-1.6v3.2M189.1,409.9h3.2m-1.6,-1.6v3.2M252.5,431.3h3.2m-1.6,-1.6v3.2M113.1,406.4h3.2m-1.6,-1.6v3.2M127.0,437.4h3.2m-1.6,-1.6v3.2M154.5,466.1h3.2m-1.6,-1.6v3.2M365.3,415.2h3.2m-1.6,-1.6v3.2M645.2,463.7h3.2m-1.6,-1.6v3.2M650.9,461.6h3.2m-1.6,-1.6v3.2M571.0,390.4h3.2m-1.6,-1.6v3.2M413.9,456.5h3.2m-1.6,-1.6v3.2M329.6,393.5h3.2m-1.6,-1.6v3.2M339.3,384.9h3.2m-1.6,-1.6v3.2M657.8,462.6h3.2m-1.6,-1.6v3.2M595.6,383.3h3.2m-1.6,-1.6v3.2M459.4,387.5h3.2m-1.6,-1.6v3.2M460.4,387.0h3.2m-1.6,-1.6v3.2M392.8,453.1h3.2m-1.6,-1.6v3.2M453.8,395.3h3.2m-1.6,-1.6v3.2M309.5,419.9h3.2m-1.6,-1.6v3.2M535.4,463.1h3.2m-1.6,-1.6v3.2M162.1,453.6h3.2m-1.6,-1.6v3.2M575.8,380.8h3.2m-1.6,-1.6v3.2M235.9,392.1h3.2m-1.6,-1.6v3.2M166.8,456.7h3.2m-1.6,-1.6v3.2M606.2,399.8h3.2m-1.6,-1.6v3.2M278.0,454.1h3.2m-1.6,-1.6v3.2M262.4,446.5h3.2m-1.6,-1.6v3.2M639.7,455.3h3.2m-1.6,-1.6v3.2M203.8,387.2h3.2m-1.6,-1.6v3.2M107.8,398.7h3.2m-1.6,-1.6v3.2M463.7,381.0h3.2m-1.6,-1.6v3.2M538.6,454.0h3.2m-1.6,-1.6v3.2M62.6,416.5h3.2m-1.6,-1.6v3.2M87.9,387.1h3.2m-1.6,-1.6v3.2M569.6,395.4h3.2m-1.6,-1.6v3.2M593.1,384.5h3.2m-1.6,-1.6v3.2M340.6,387.3h3.2m-1.6,-1.6v3.2M475.0,386.9h3.2m-1.6,-1.6v3.2M309.0,421.9h3.2m-1.6,-1.6v3.2M187.3,418.3h3.2m-1.6,-1.6v3.2M189.5,406.3h3.2m-1.6,-1.6v3.2M635.7,455.9h3.2m-1.6,-1.6v3.2M677.2,439.5h3.2m-1.6,-1.6v3.2M668.3,445.2h3.2m-1.6,-1.6v3.2M93.2,386.1h3.2m-1.6,-1.6v3.2M252.2,425.6h3.2m-1.6,-1.6v3.2M394.6,459.5h3.2m-1.6,-1.6v3.2M484.9,409.2h3.2m-1.6,-1.6v3.2M387.8,454.1h3.2m-1.6,-1.6v3.2M651.9,460.9h3.2m-1.6,-1.6v3.2M579.5,387.6h3.2m-1.6,-1.6v3.2M194.5,406.7h3.2m-1.6,-1.6v3.2M509.5,455.4h3.2m-1.6,-1.6v3.2M454.2,386.3h3.2m-1.6,-1.6v3.2M613.1,412.3h3.2m-1.6,-1.6v3.2M341.8,387.2h3.2m-1.6,-1.6v3.2M159.0,459.5h3.2m-1.6,-1.6v3.2M127.7,432.7h3.2m-1.6,-1.6v3.2M467.4,388.0h3.2m-1.6,-1.6v3.2M558.9,417.0h3.2m-1.6,-1.6v3.2M264.8,448.5h3.2m-1.6,-1.6v3.2M205.4,389.0h3.2m-1.6,-1.6v3.2M627.2,432.1h3.2m-1.6,-1.6v3.2M561.7,418.1h3.2m-1.6,-1.6v3.2M482.7,399.6h3.2m-1.6,-1.6v3.2M565.8,402.7h3.2m-1.6,-1.6v3.2M567.2,399.1h3.2m-1.6,-1.6v3.2M632.4,443.5h3.2m-1.6,-1.6v3.2M384.5,441.8h3.2m-1.6,-1.6v3.2M258.4,439.3h3.2m-1.6,-1.6v3.2M265.7,450.3h3.2m-1.6,-1.6v3.2M124.3,424.3h3.2m-1.6,-1.6v3.2M571.0,394.8h3.2m-1.6,-1.6v3.2M450.2,391.2h3.2m-1.6,-1.6v3.2M677.2,439.2h3.2m-1.6,-1.6v3.2M218.5,387.7h3.2m-1.6,-1.6v3.2M444.2,402.2h3.2m-1.6,-1.6v3.2M408.8,452.4h3.2m-1.6,-1.6v3.2M331.5,390.6h3.2m-1.6,-1.6v3.2M650.1,468.8h3.2m-1.6,-1.6v3.2M460.8,383.5h3.2m-1.6,-1.6v3.2M488.7,413.9h3.2m-1.6,-1.6v3.2M382.4,441.9h3.2m-1.6,-1.6v3.2M451.8,396.4h3.2m-1.6,-1.6v3.2M654.9,463.7h3.2m-1.6,-1.6v3.2M532.1,461.4h3.2m-1.6,-1.6v3.2M172.1,442.6h3.2m-1.6,-1.6v3.2M642.6,456.1h3.2m-1.6,-1.6v3.2M307.5,424.5h3.2m-1.6,-1.6v3.2M454.3,389.5h3.2m-1.6,-1.6v3.2M294.8,444.2h3.2m-1.6,-1.6v3.2M68.5,411.6h3.2m-1.6,-1.6v3.2M343.1,379.8h3.2m-1.6,-1.6v3.2M532.4,466.1h3.2m-1.6,-1.6v3.2M262.3,431.9h3.2m-1.6,-1.6v3.2M640.5,461.8h3.2m-1.6,-1.6v3.2M537.3,454.6h3.2m-1.6,-1.6v3.2M217.6,379.3h3.2m-1.6,-1.6v3.2M213.4,386.6h3.2m-1.6,-1.6v3.2M350.8,393.2h3.2m-1.6,-1.6v3.2M103.4,390.8h3.2m-1.6,-1.6v3.2M431.9,430.9h3.2m-1.6,-1.6v3.2M215.7,383.1h3.2m-1.6,-1.6v3.2M678.2,445.0h3.2m-1.6,-1.6v3.2M618.2,417.3h3.2m-1.6,-1.6v3.2M345.6,381.0h3.2m-1.6,-1.6v3.2M246.5,419.2h3.2m-1.6,-1.6v3.2M675.3,439.5h3.2m-1.6,-1.6v3.2M563.2,410.1h3.2m-1.6,-1.6v3.2M521.3,466.8h3.2m-1.6,-1.6v3.2M639.9,459.1h3.2m-1.6,-1.6v3.2M67.6,408.5h3.2m-1.6,-1.6v3.2M403.0,458.8h3.2m-1.6,-1.6v3.2M546.4,444.1h3.2m-1.6,-1.6v3.2M488.7,415.8h3.2m-1.6,-1.6v3.2M396.9,461.3h3.2m-1.6,-1.6v3.2M604.2,386.2h3.2m-1.6,-1.6v3.2M572.3,392.8h3.2m-1.6,-1.6v3.2M409.8,456.7h3.2m-1.6,-1.6v3.2M678.4,433.3h3.2m-1.6,-1.6v3.2M679.5,429.5h3.2m-1.6,-1.6v3.2M637.4,462.2h3.2m-1.6,-1.6v3.2M589.2,382.5h3.2m-1.6,-1.6v3.2M670.9,447.5h3.2m-1.6,-1.6v3.2M337.7,392.3h3.2m-1.6,-1.6v3.2M394.5,456.0h3.2m-1.6,-1.6v3.2M323.4,396.8h3.2m-1.6,-1.6v3.2M659.8,466.0h3.2m-1.6,-1.6v3.2M389.9,454.1h3.2m-1.6,-1.6v3.2M579.9,379.4h3.2m-1.6,-1.6v3.2M554.5,422.5h3.2m-1.6,-1.6v3.2M154.7,459.1h3.2m-1.6,-1.6v3.2M499.3,436.6h3.2m-1.6,-1.6v3.2M65.3,410.8h3.2m-1.6,-1.6v3.2M399.9,455.9h3.2m-1.6,-1.6v3.2M250.2,422.8h3.2m-1.6,-1.6v3.2M646.7,463.9h3.2m-1.6,-1.6v3.2M321.6,400.4h3.2m-1.6,-1.6v3.2M448.3,396.3h3.2m-1.6,-1.6v3.2M589.8,381.4h3.2m-1.6,-1.6v3.2M581.7,379.0h3.2m-1.6,-1.6v3.2M125.7,434.0h3.2m-1.6,-1.6v3.2M178.5,440.6h3.2m-1.6,-1.6v3.2M294.1,442.3h3.2m-1.6,-1.6v3.2M223.8,380.1h3.2m-1.6,-1.6v3.2M422.1,448.8h3.2m-1.6,-1.6v3.2M333.0,387.5h3.2m-1.6,-1.6v3.2M340.4,388.7h3.2m-1.6,-1.6v3.2M82.5,397.2h3.2m-1.6,-1.6v3.2M188.0,421.3h3.2m-1.6,-1.6v3.2M271.9,453.6h3.2m-1.6,-1.6v3.2M590.1,377.8h3.2m-1.6,-1.6v3.2M177.1,438.8h3.2m-1.6,-1.6v3.2M482.1,399.8h3.2m-1.6,-1.6v3.2M195.9,403.8h3.2m-1.6,-1.6v3.2M563.0,411.4h3.2m-1.6,-1.6v3.2M469.3,382.7h3.2m-1.6,-1.6v3.2M605.9,401.3h3.2m-1.6,-1.6v3.2M629.1,443.7h3.2m-1.6,-1.6v3.2M454.0,392.5h3.2m-1.6,-1.6v3.2M379.0,439.1h3.2m-1.6,-1.6v3.2M592.6,383.7h3.2m-1.6,-1.6v3.2M492.7,422.3h3.2m-1.6,-1.6v3.2M59.1,427.1h3.2m-1.6,-1.6v3.2M129.1,442.3h3.2m-1.6,-1.6v3.2M635.7,459.1h3.2m-1.6,-1.6v3.2M385.9,446.1h3.2m-1.6,-1.6v3.2M533.0,457.3h3.2m-1.6,-1.6v3.2M332.3,386.5h3.2m-1.6,-1.6v3.2M666.3,454.7h3.2m-1.6,-1.6v3.2M324.4,400.3h3.2m-1.6,-1.6v3.2M501.5,427.8h3.2m-1.6,-1.6v3.2M406.5,460.6h3.2m-1.6,-1.6v3.2M165.2,462.8h3.2m-1.6,-1.6v3.2M307.8,426.0h3.2m-1.6,-1.6v3.2M97.2,390.5h3.2m-1.6,-1.6v3.2M151.3,458.0h3.2m-1.6,-1.6v3.2M206.5,384.9h3.2m-1.6,-1.6v3.2M648.6,464.7h3.2m-1.6,-1.6v3.2M568.1,411.0h3.2m-1.6,-1.6v3.2M227.8,384.8h3.2m-1.6,-1.6v3.2M335.3,393.5h3.2m-1.6,-1.6v3.2M634.7,455.4h3.2m-1.6,-1.6v3.2M165.2,455.3h3.2m-1.6,-1.6v3.2M171.3,442.9h3.2m-1.6,-1.6v3.2M330.7,392.4h3.2m-1.6,-1.6v3.2M554.7,429.1h3.2m-1.6,-1.6v3.2M561.5,417.2h3.2m-1.6,-1.6v3.2M297.3,438.5h3.2m-1.6,-1.6v3.2M398.7,463.6h3.2m-1.6,-1.6v3.2M419.0,448.4h3.2m-1.6,-1.6v3.2M608.2,401.1h3.2m-1.6,-1.6v3.2M494.7,419.6h3.2m-1.6,-1.6v3.2M662.2,466.8h3.2m-1.6,-1.6v3.2M484.9,407.9h3.2m-1.6,-1.6v3.2M71.9,406.1h3.2m-1.6,-1.6v3.2M317.8,412.3h3.2m-1.6,-1.6v3.2M176.2,437.0h3.2m-1.6,-1.6v3.2M628.1,447.1h3.2m-1.6,-1.6v3.2M678.3,431.9h3.2m-1.6,-1.6v3.2M572.2,398.6h3.2m-1.6,-1.6v3.2M663.0,459.8h3.2m-1.6,-1.6v3.2M76.1,395.6h3.2m-1.6,-1.6v3.2M441.2,404.1h3.2m-1.6,-1.6v3.2M208.8,386.2h3.2m-1.6,-1.6v3.2M446.8,390.3h3.2m-1.6,-1.6v3.2M259.9,444.0h3.2m-1.6,-1.6v3.2M187.0,411.9h3.2m-1.6,-1.6v3.2M464.8,383.8h3.2m-1.6,-1.6v3.2M667.2,457.1h3.2m-1.6,-1.6v3.2M176.9,440.6h3.2m-1.6,-1.6v3.2M590.7,377.8h3.2m-1.6,-1.6v3.2M635.7,459.1h3.2m-1.6,-1.6v3.2M555.7,424.4h3.2m-1.6,-1.6v3.2M294.9,447.8h3.2m-1.6,-1.6v3.2M229.0,389.6h3.2m-1.6,-1.6v3.2M482.0,395.2h3.2m-1.6,-1.6v3.2M673.3,442.8h3.2m-1.6,-1.6v3.2M152.2,460.3h3.2m-1.6,-1.6v3.2M402.8,463.1h3.2m-1.6,-1.6v3.2M106.3,395.4h3.2m-1.6,-1.6v3.2M514.9,453.2h3.2m-1.6,-1.6v3.2M535.8,463.9h3.2m-1.6,-1.6v3.2M399.6,460.3h3.2m-1.6,-1.6v3.2M591.3,383.4h3.2m-1.6,-1.6v3.2M344.1,384.3h3.2m-1.6,-1.6v3.2M174.0,442.1h3.2m-1.6,-1.6v3.2M451.7,392.1h3.2m-1.6,-1.6v3.2M446.1,403.5h3.2m-1.6,-1.6v3.2M283.1,452.0h3.2m-1.6,-1.6v3.2M347.1,392.3h3.2m-1.6,-1.6v3.2M107.6,399.3h3.2m-1.6,-1.6v3.2M198.6,400.0h3.2m-1.6,-1.6v3.2M334.7,391.4h3.2m-1.6,-1.6v3.2M561.1,416.2h3.2m-1.6,-1.6v3.2M377.2,435.4h3.2m-1.6,-1.6v3.2M630.3,444.0h3.2m-1.6,-1.6v3.2M533.1,463.7h3.2m-1.6,-1.6v3.2M597.0,381.0h3.2m-1.6,-1.6v3.2M541.1,453.6h3.2m-1.6,-1.6v3.2M274.1,468.7h3.2m-1.6,-1.6v3.2M73.3,397.8h3.2m-1.6,-1.6v3.2M490.3,418.7h3.2m-1.6,-1.6v3.2M118.0,421.1h3.2m-1.6,-1.6v3.2M203.9,389.0h3.2m-1.6,-1.6v3.2M644.4,464.6h3.2m-1.6,-1.6v3.2M324.7,404.7h3.2m-1.6,-1.6v3.2M651.4,464.0h3.2m-1.6,-1.6v3.2M203.5,394.7h3.2m-1.6,-1.6v3.2M365.2,413.4h3.2m-1.6,-1.6v3.2M579.4,379.9h3.2m-1.6,-1.6v3.2M143.6,454.3h3.2m-1.6,-1.6v3.2M369.6,420.9h3.2m-1.6,-1.6v3.2M616.9,423.7h3.2m-1.6,-1.6v3.2M424.4,440.5h3.2m-1.6,-1.6v3.2M301.0,433.6h3.2m-1.6,-1.6v3.2M448.4,391.4h3.2m-1.6,-1.6v3.2M489.2,409.4h3.2m-1.6,-1.6v3.2M271.6,454.6h3.2m-1.6,-1.6v3.2M467.0,376.6h3.2m-1.6,-1.6v3.2M109.0,405.2h3.2m-1.6,-1.6v3.2M430.8,425.9h3.2m-1.6,-1.6v3.2M461.6,382.1h3.2m-1.6,-1.6v3.2M392.6,449.7h3.2m-1.6,-1.6v3.2M684.8,426.6h3.2m-1.6,-1.6v3.2M218.8,383.4h3.2m-1.6,-1.6v3.2M301.7,427.8h3.2m-1.6,-1.6v3.2M310.3,421.1h3.2m-1.6,-1.6v3.2M613.4,413.0h3.2m-1.6,-1.6v3.2M389.2,449.7h3.2m-1.6,-1.6v3.2M636.2,456.7h3.2m-1.6,-1.6v3.2M410.9,454.7h3.2m-1.6,-1.6v3.2M461.0,380.6h3.2m-1.6,-1.6v3.2M537.9,456.6h3.2m-1.6,-1.6v3.2M624.5,435.1h3.2m-1.6,-1.6v3.2M381.7,441.6h3.2m-1.6,-1.6v3.2M482.0,404.5h3.2m-1.6,-1.6v3.2M138.8,448.3h3.2m-1.6,-1.6v3.2M470.3,386.7h3.2m-1.6,-1.6v3.2M213.6,377.7h3.2m-1.6,-1.6v3.2M507.3,443.4h3.2m-1.6,-1.6v3.2M412.0,448.8h3.2m-1.6,-1.6v3.2M214.7,382.5h3.2m-1.6,-1.6v3.2M531.5,462.2h3.2m-1.6,-1.6v3.2M299.3,436.0h3.2m-1.6,-1.6v3.2M59.0,424.6h3.2m-1.6,-1.6v3.2M365.4,416.9h3.2m-1.6,-1.6v3.2M94.4,385.8h3.2m-1.6,-1.6v3.2M287.2,456.5h3.2m-1.6,-1.6v3.2M429.0,427.6h3.2m-1.6,-1.6v3.2M377.7,430.7h3.2m-1.6,-1.6v3.2M185.5,418.1h3.2m-1.6,-1.6v3.2M81.4,390.1h3.2m-1.6,-1.6v3.2M557.6,427.6h3.2m-1.6,-1.6v3.2M597.2,377.9h3.2m-1.6,-1.6v3.2M648.6,472.5h3.2m-1.6,-1.6v3.2M429.5,430.9h3.2m-1.6,-1.6v3.2M396.6,460.9h3.2m-1.6,-1.6v3.2M414.1,455.5h3.2m-1.6,-1.6v3.2M328.8,391.7h3.2m-1.6,-1.6v3.2M525.0,468.0h3.2m-1.6,-1.6v3.2M363.3,407.8h3.2m-1.6,-1.6v3.2M220.3,382.8h3.2m-1.6,-1.6v3.2M679.4,432.8h3.2m-1.6,-1.6v3.2M74.6,398.2h3.2m-1.6,-1.6v3.2M629.3,446.5h3.2m-1.6,-1.6v3.2M81.3,394.3h3.2m-1.6,-1.6v3.2M177.9,440.8h3.2m-1.6,-1.6v3.2M358.8,404.5h3.2m-1.6,-1.6v3.2M346.7,387.5h3.2m-1.6,-1.6v3.2M467.9,385.3h3.2m-1.6,-1.6v3.2M279.1,455.3h3.2m-1.6,-1.6v3.2M92.0,384.7h3.2m-1.6,-1.6v3.2M253.3,433.4h3.2m-1.6,-1.6v3.2M504.4,436.0h3.2m-1.6,-1.6v3.2M660.7,461.0h3.2m-1.6,-1.6v3.2M630.2,445.2h3.2m-1.6,-1.6v3.2M170.0,449.3h3.2m-1.6,-1.6v3.2M676.6,438.7h3.2m-1.6,-1.6v3.2M463.8,385.6h3.2m-1.6,-1.6v3.2M435.3,414.0h3.2m-1.6,-1.6v3.2M89.2,389.2h3.2m-1.6,-1.6v3.2M511.8,451.4h3.2m-1.6,-1.6v3.2M342.5,386.4h3.2m-1.6,-1.6v3.2M558.5,419.3h3.2m-1.6,-1.6v3.2M138.7,450.8h3.2m-1.6,-1.6v3.2M114.6,409.9h3.2m-1.6,-1.6v3.2M466.7,386.3h3.2m-1.6,-1.6v3.2M316.4,408.0h3.2m-1.6,-1.6v3.2M95.4,386.8h3.2m-1.6,-1.6v3.2M641.0,457.4h3.2m-1.6,-1.6v3.2M529.4,463.5h3.2m-1.6,-1.6v3.2M659.5,459.0h3.2m-1.6,-1.6v3.2M464.2,384.2h3.2m-1.6,-1.6v3.2M316.0,410.1h3.2m-1.6,-1.6v3.2M275.6,458.4h3.2m-1.6,-1.6v3.2M670.0,449.5h3.2m-1.6,-1.6v3.2M279.6,453.9h3.2m-1.6,-1.6v3.2M355.1,395.6h3.2m-1.6,-1.6v3.2M398.4,457.4h3.2m-1.6,-1.6v3.2M114.9,413.8h3.2m-1.6,-1.6v3.2M631.7,448.2h3.2m-1.6,-1.6v3.2M440.8,409.5h3.2m-1.6,-1.6v3.2M527.6,460.2h3.2m-1.6,-1.6v3.2M330.6,383.7h3.2m-1.6,-1.6v3.2M653.5,467.4h3.2m-1.6,-1.6v3.2M65.6,414.2h3.2m-1.6,-1.6v3.2M444.0,397.2h3.2m-1.6,-1.6v3.2M108.2,397.9h3.2m-1.6,-1.6v3.2M340.1,385.4h3.2m-1.6,-1.6v3.2M136.6,439.6h3.2m-1.6,-1.6v3.2M174.6,445.0h3.2m-1.6,-1.6v3.2M471.3,387.5h3.2m-1.6,-1.6v3.2M642.2,461.6h3.2m-1.6,-1.6v3.2M349.6,394.4h3.2m-1.6,-1.6v3.2M670.8,445.8h3.2m-1.6,-1.6v3.2M265.3,449.1h3.2m-1.6,-1.6v3.2M677.0,433.4h3.2m-1.6,-1.6v3.2M512.1,451.7h3.2m-1.6,-1.6v3.2M303.7,431.1h3.2m-1.6,-1.6v3.2M232.8,395.3h3.2m-1.6,-1.6v3.2M538.5,456.3h3.2m-1.6,-1.6v3.2M116.9,407.4h3.2m-1.6,-1.6v3.2M389.0,453.2h3.2m-1.6,-1.6v3.2M242.5,414.5h3.2m-1.6,-1.6v3.2M358.6,405.7h3.2m-1.6,-1.6v3.2M409.6,461.9h3.2m-1.6,-1.6v3.2M586.3,378.1h3.2m-1.6,-1.6v3.2M505.6,442.0h3.2m-1.6,-1.6v3.2M585.9,378.1h3.2m-1.6,-1.6v3.2M212.9,387.6h3.2m-1.6,-1.6v3.2M171.9,442.8h3.2m-1.6,-1.6v3.2M382.4,438.1h3.2m-1.6,-1.6v3.2M84.0,385.5h3.2m-1.6,-1.6v3.2M361.9,407.5h3.2m-1.6,-1.6v3.2M338.4,381.5h3.2m-1.6,-1.6v3.2M179.5,435.4h3.2m-1.6,-1.6v3.2M542.2,458.6h3.2m-1.6,-1.6v3.2M392.3,455.7h3.2m-1.6,-1.6v3.2M382.5,449.9h3.2m-1.6,-1.6v3.2M147.5,463.5h3.2m-1.6,-1.6v3.2M191.5,408.1h3.2m-1.6,-1.6v3.2M531.7,463.1h3.2m-1.6,-1.6v3.2M463.8,388.4h3.2m-1.6,-1.6v3.2M230.0,386.6h3.2m-1.6,-1.6v3.2M678.1,433.3h3.2m-1.6,-1.6v3.2M642.2,464.1h3.2m-1.6,-1.6v3.2M511.9,456.0h3.2m-1.6,-1.6v3.2M292.3,450.1h3.2m-1.6,-1.6v3.2M525.4,462.0h3.2m-1.6,-1.6v3.2M536.9,457.0h3.2m-1.6,-1.6v3.2M288.8,451.2h3.2m-1.6,-1.6v3.2M547.2,440.9h3.2m-1.6,-1.6v3.2M412.9,449.3h3.2m-1.6,-1.6v3.2M106.7,392.5h3.2m-1.6,-1.6v3.2M524.5,472.0h3.2m-1.6,-1.6v3.2M95.0,387.7h3.2m-1.6,-1.6v3.2M173.9,444.4h3.2m-1.6,-1.6v3.2M574.0,393.8h3.2m-1.6,-1.6v3.2M76.0,400.2h3.2m-1.6,-1.6v3.2M108.4,405.4h3.2m-1.6,-1.6v3.2M320.7,398.0h3.2m-1.6,-1.6v3.2M271.3,452.9h3.2m-1.6,-1.6v3.2M150.7,464.0h3.2m-1.6,-1.6v3.2M380.8,442.7h3.2m-1.6,-1.6v3.2M359.2,396.6h3.2m-1.6,-1.6v3.2M395.5,452.6h3.2m-1.6,-1.6v3.2M652.5,471.2h3.2m-1.6,-1.6v3.2M378.8,433.2h3.2m-1.6,-1.6v3.2M678.2,437.9h3.2m-1.6,-1.6v3.2M63.9,419.6h3.2m-1.6,-1.6v3.2M596.2,386.1h3.2m-1.6,-1.6v3.2M69.7,408.8h3.2m-1.6,-1.6v3.2M232.1,394.7h3.2m-1.6,-1.6v3.2M83.7,389.2h3.2m-1.6,-1.6v3.2M255.5,436.5h3.2m-1.6,-1.6v3.2M563.9,402.0h3.2m-1.6,-1.6v3.2M225.3,383.5h3.2m-1.6,-1.6v3.2M458.9,388.8h3.2m-1.6,-1.6v3.2M335.4,383.1h3.2m-1.6,-1.6v3.2M564.2,415.7h3.2m-1.6,-1.6v3.2M659.9,461.3h3.2m-1.6,-1.6v3.2M500.3,434.7h3.2m-1.6,-1.6v3.2M359.5,404.5h3.2m-1.6,-1.6v3.2M630.4,449.0h3.2m-1.6,-1.6v3.2M352.2,386.7h3.2m-1.6,-1.6v3.2M84.5,388.0h3.2m-1.6,-1.6v3.2M547.1,446.9h3.2m-1.6,-1.6v3.2M639.5,454.6h3.2m-1.6,-1.6v3.2M559.8,417.8h3.2m-1.6,-1.6v3.2M627.7,438.1h3.2m-1.6,-1.6v3.2M618.4,419.5h3.2m-1.6,-1.6v3.2M635.6,448.6h3.2m-1.6,-1.6v3.2M418.0,448.3h3.2m-1.6,-1.6v3.2M92.8,390.9h3.2m-1.6,-1.6v3.2M64.5,420.3h3.2m-1.6,-1.6v3.2M339.7,387.7h3.2m-1.6,-1.6v3.2M179.6,430.7h3.2m-1.6,-1.6v3.2M514.0,465.0h3.2m-1.6,-1.6v3.2M611.8,405.4h3.2m-1.6,-1.6v3.2M327.6,396.8h3.2m-1.6,-1.6v3.2M204.6,389.2h3.2m-1.6,-1.6v3.2M338.8,388.8h3.2m-1.6,-1.6v3.2M380.2,426.9h3.2m-1.6,-1.6v3.2M466.6,381.0h3.2m-1.6,-1.6v3.2M534.8,460.8h3.2m-1.6,-1.6v3.2M345.2,389.6h3.2m-1.6,-1.6v3.2M424.3,436.8h3.2m-1.6,-1.6v3.2M458.1,388.3h3.2m-1.6,-1.6v3.2M198.7,396.3h3.2m-1.6,-1.6v3.2M550.4,438.8h3.2m-1.6,-1.6v3.2M110.0,406.9h3.2m-1.6,-1.6v3.2M260.6,440.4h3.2m-1.6,-1.6v3.2M497.6,427.6h3.2m-1.6,-1.6v3.2M75.4,403.9h3.2m-1.6,-1.6v3.2M551.2,431.2h3.2m-1.6,-1.6v3.2M122.8,428.3h3.2m-1.6,-1.6v3.2M283.4,451.1h3.2m-1.6,-1.6v3.2M446.0,397.3h3.2m-1.6,-1.6v3.2M381.1,439.0h3.2m-1.6,-1.6v3.2M363.9,414.5h3.2m-1.6,-1.6v3.2M128.6,433.5h3.2m-1.6,-1.6v3.2M594.4,382.8h3.2m-1.6,-1.6v3.2M234.8,395.9h3.2m-1.6,-1.6v3.2M206.6,393.5h3.2m-1.6,-1.6v3.2M222.3,382.0h3.2m-1.6,-1.6v3.2M585.8,378.3h3.2m-1.6,-1.6v3.2M534.0,461.8h3.2m-1.6,-1.6v3.2M533.9,457.4h3.2m-1.6,-1.6v3.2M671.3,452.4h3.2m-1.6,-1.6v3.2M197.8,399.6h3.2m-1.6,-1.6v3.2M487.3,406.1h3.2m-1.6,-1.6v3.2M375.5,436.5h3.2m-1.6,-1.6v3.2M396.5,458.4h3.2m-1.6,-1.6v3.2M539.4,450.6h3.2m-1.6,-1.6v3.2M130.6,447.1h3.2m-1.6,-1.6v3.2M61.1,427.9h3.2m-1.6,-1.6v3.2M480.1,400.6h3.2m-1.6,-1.6v3.2M128.5,433.1h3.2m-1.6,-1.6v3.2M269.9,451.4h3.2m-1.6,-1.6v3.2M266.2,449.2h3.2m-1.6,-1.6v3.2M467.7,392.6h3.2m-1.6,-1.6v3.2M384.1,450.0h3.2m-1.6,-1.6v3.2M282.3,455.6h3.2m-1.6,-1.6v3.2M536.9,459.2h3.2m-1.6,-1.6v3.2M352.3,387.5h3.2m-1.6,-1.6v3.2M640.3,458.1h3.2m-1.6,-1.6v3.2M112.2,417.6h3.2m-1.6,-1.6v3.2M345.5,396.1h3.2m-1.6,-1.6v3.2M522.3,466.2h3.2m-1.6,-1.6v3.2M529.5,461.7h3.2m-1.6,-1.6v3.2M505.9,449.6h3.2m-1.6,-1.6v3.2M246.5,414.2h3.2m-1.6,-1.6v3.2M188.6,412.8h3.2m-1.6,-1.6v3.2M682.0,430.4h3.2m-1.6,-1.6v3.2M266.5,444.2h3.2m-1.6,-1.6v3.2M322.4,395.0h3.2m-1.6,-1.6v3.2M134.8,445.0h3.2m-1.6,-1.6v3.2M331.5,389.3h3.2m-1.6,-1.6v3.2M445.9,399.1h3.2m-1.6,-1.6v3.2M172.8,449.1h3.2m-1.6,-1.6v3.2M487.6,404.4h3.2m-1.6,-1.6v3.2M337.9,385.1h3.2m-1.6,-1.6v3.2M214.6,386.6h3.2m-1.6,-1.6v3.2M125.1,435.0h3.2m-1.6,-1.6v3.2M522.3,463.5h3.2m-1.6,-1.6v3.2M598.7,389.4h3.2m-1.6,-1.6v3.2M69.4,406.7h3.2m-1.6,-1.6v3.2M387.4,452.4h3.2m-1.6,-1.6v3.2M396.1,462.4h3.2m-1.6,-1.6v3.2M153.4,460.0h3.2m-1.6,-1.6v3.2M331.2,390.1h3.2m-1.6,-1.6v3.2M524.4,465.5h3.2m-1.6,-1.6v3.2M382.2,437.3h3.2m-1.6,-1.6v3.2M199.9,397.5h3.2m-1.6,-1.6v3.2M607.9,399.4h3.2m-1.6,-1.6v3.2M473.1,384.0h3.2m-1.6,-1.6v3.2M294.4,446.3h3.2m-1.6,-1.6v3.2M604.0,394.4h3.2m-1.6,-1.6v3.2M67.5,407.5h3.2m-1.6,-1.6v3.2M449.6,391.3h3.2m-1.6,-1.6v3.2M509.9,456.8h3.2m-1.6,-1.6v3.2M677.5,442.2h3.2m-1.6,-1.6v3.2M623.4,433.8h3.2m-1.6,-1.6v3.2M79.7,393.5h3.2m-1.6,-1.6v3.2M457.6,393.5h3.2m-1.6,-1.6v3.2M550.6,431.4h3.2m-1.6,-1.6v3.2M129.4,436.6h3.2m-1.6,-1.6v3.2M250.6,422.3h3.2m-1.6,-1.6v3.2M262.5,440.3h3.2m-1.6,-1.6v3.2M552.2,432.0h3.2m-1.6,-1.6v3.2M147.0,457.9h3.2m-1.6,-1.6v3.2M373.8,427.4h3.2m-1.6,-1.6v3.2M521.6,462.6h3.2m-1.6,-1.6v3.2M135.8,446.7h3.2m-1.6,-1.6v3.2M447.8,388.1h3.2m-1.6,-1.6v3.2M102.2,394.4h3.2m-1.6,-1.6v3.2M274.5,458.2h3.2m-1.6,-1.6v3.2M542.8,452.7h3.2m-1.6,-1.6v3.2M391.8,455.7h3.2m-1.6,-1.6v3.2M344.9,388.7h3.2m-1.6,-1.6v3.2M268.7,452.0h3.2m-1.6,-1.6v3.2M607.7,393.2h3.2m-1.6,-1.6v3.2M197.0,397.8h3.2m-1.6,-1.6v3.2M342.6,387.8h3.2m-1.6,-1.6v3.2M80.0,387.8h3.2m-1.6,-1.6v3.2M369.6,419.7h3.2m-1.6,-1.6v3.2M140.2,458.5h3.2m-1.6,-1.6v3.2M665.0,455.8h3.2m-1.6,-1.6v3.2M161.6,456.4h3.2m-1.6,-1.6v3.2M624.2,428.5h3.2m-1.6,-1.6v3.2M661.4,459.5h3.2m-1.6,-1.6v3.2M383.3,441.5h3.2m-1.6,-1.6v3.2M157.5,462.3h3.2m-1.6,-1.6v3.2M500.5,426.5h3.2m-1.6,-1.6v3.2M165.3,456.4h3.2m-1.6,-1.6v3.2M173.7,442.9h3.2m-1.6,-1.6v3.2M97.1,391.0h3.2m-1.6,-1.6v3.2M423.6,435.2h3.2m-1.6,-1.6v3.2M666.5,457.9h3.2m-1.6,-1.6v3.2M336.7,391.4h3.2m-1.6,-1.6v3.2M362.9,407.9h3.2m-1.6,-1.6v3.2M625.6,438.4h3.2m-1.6,-1.6v3.2M581.7,384.5h3.2m-1.6,-1.6v3.2M173.2,440.3h3.2m-1.6,-1.6v3.2M661.1,457.0h3.2m-1.6,-1.6v3.2M481.3,397.2h3.2m-1.6,-1.6v3.2M367.6,411.7h3.2m-1.6,-1.6v3.2M662.2,457.7h3.2m-1.6,-1.6v3.2M604.6,390.9h3.2m-1.6,-1.6v3.2M478.2,393.7h3.2m-1.6,-1.6v3.2M280.9,458.2h3.2m-1.6,-1.6v3.2M414.1,458.9h3.2m-1.6,-1.6v3.2M230.5,387.9h3.2m-1.6,-1.6v3.2M121.6,415.4h3.2m-1.6,-1.6v3.2M598.2,390.9h3.2m-1.6,-1.6v3.2M281.2,457.5h3.2m-1.6,-1.6v3.2M490.1,408.4h3.2m-1.6,-1.6v3.2M115.6,412.9h3.2m-1.6,-1.6v3.2M300.4,437.0h3.2m-1.6,-1.6v3.2M365.6,414.2h3.2m-1.6,-1.6v3.2M302.8,429.1h3.2m-1.6,-1.6v3.2M685.0,425.7h3.2m-1.6,-1.6v3.2M434.7,418.8h3.2m-1.6,-1.6v3.2M209.1,383.6h3.2m-1.6,-1.6v3.2M683.6,427.1h3.2m-1.6,-1.6v3.2M334.6,385.2h3.2m-1.6,-1.6v3.2M572.5,390.8h3.2m-1.6,-1.6v3.2M184.2,428.8h3.2m-1.6,-1.6v3.2M94.7,393.3h3.2m-1.6,-1.6v3.2M623.7,427.6h3.2m-1.6,-1.6v3.2M202.7,394.3h3.2m-1.6,-1.6v3.2M493.8,417.7h3.2m-1.6,-1.6v3.2M442.1,419.8h3.2m-1.6,-1.6v3.2M81.8,397.0h3.2m-1.6,-1.6v3.2M654.0,466.5h3.2m-1.6,-1.6v3.2M415.4,450.3h3.2m-1.6,-1.6v3.2M230.2,395.9h3.2m-1.6,-1.6v3.2M504.9,433.8h3.2m-1.6,-1.6v3.2M419.3,444.2h3.2m-1.6,-1.6v3.2M634.5,454.5h3.2m-1.6,-1.6v3.2M591.2,379.4h3.2m-1.6,-1.6v3.2M574.2,392.4h3.2m-1.6,-1.6v3.2M232.1,388.4h3.2m-1.6,-1.6v3.2M287.0,453.1h3.2m-1.6,-1.6v3.2M381.2,440.9h3.2m-1.6,-1.6v3.2M280.4,458.6h3.2m-1.6,-1.6v3.2M563.2,404.7h3.2m-1.6,-1.6v3.2M413.2,457.1h3.2m-1.6,-1.6v3.2M327.1,393.6h3.2m-1.6,-1.6v3.2M488.1,417.5h3.2m-1.6,-1.6v3.2M98.4,389.7h3.2m-1.6,-1.6v3.2M656.8,461.5h3.2m-1.6,-1.6v3.2M374.7,434.2h3.2m-1.6,-1.6v3.2M369.0,415.7h3.2m-1.6,-1.6v3.2M177.8,430.4h3.2m-1.6,-1.6v3.2M420.1,444.1h3.2m-1.6,-1.6v3.2M415.0,452.1h3.2m-1.6,-1.6v3.2M76.5,397.9h3.2m-1.6,-1.6v3.2M73.9,406.0h3.2m-1.6,-1.6v3.2M523.0,460.2h3.2m-1.6,-1.6v3.2M520.6,463.0h3.2m-1.6,-1.6v3.2M317.6,403.5h3.2m-1.6,-1.6v3.2M317.5,407.2h3.2m-1.6,-1.6v3.2M384.9,439.1h3.2m-1.6,-1.6v3.2M665.0,459.2h3.2m-1.6,-1.6v3.2M441.8,406.5h3.2m-1.6,-1.6v3.2M528.4,461.1h3.2m-1.6,-1.6v3.2M552.9,432.3h3.2m-1.6,-1.6v3.2M265.9,450.5h3.2m-1.6,-1.6v3.2M656.3,461.5h3.2m-1.6,-1.6v3.2M370.3,428.8h3.2m-1.6,-1.6v3.2M306.4,428.9h3.2m-1.6,-1.6v3.2M217.6,383.8h3.2m-1.6,-1.6v3.2M112.2,406.5h3.2m-1.6,-1.6v3.2M121.7,425.5h3.2m-1.6,-1.6v3.2M258.6,438.5h3.2m-1.6,-1.6v3.2M506.4,442.5h3.2m-1.6,-1.6v3.2M544.5,442.3h3.2m-1.6,-1.6v3.2M392.6,456.3h3.2m-1.6,-1.6v3.2M274.6,460.4h3.2m-1.6,-1.6v3.2M433.7,421.8h3.2m-1.6,-1.6v3.2M402.1,458.4h3.2m-1.6,-1.6v3.2M121.1,426.6h3.2m-1.6,-1.6v3.2M474.8,395.5h3.2m-1.6,-1.6v3.2M559.0,421.8h3.2m-1.6,-1.6v3.2M333.3,390.2h3.2m-1.6,-1.6v3.2M607.0,399.5h3.2m-1.6,-1.6v3.2M103.0,397.1h3.2m-1.6,-1.6v3.2M566.4,400.4h3.2m-1.6,-1.6v3.2M544.3,450.4h3.2m-1.6,-1.6v3.2M552.7,437.8h3.2m-1.6,-1.6v3.2M266.7,445.8h3.2m-1.6,-1.6v3.2M348.0,397.2h3.2m-1.6,-1.6v3.2M293.3,445.0h3.2m-1.6,-1.6v3.2M316.9,406.0h3.2m-1.6,-1.6v3.2M661.1,459.9h3.2m-1.6,-1.6v3.2M278.7,455.7h3.2m-1.6,-1.6v3.2M475.0,394.9h3.2m-1.6,-1.6v3.2M575.1,389.7h3.2m-1.6,-1.6v3.2M408.3,455.8h3.2m-1.6,-1.6v3.2M346.4,387.3h3.2m-1.6,-1.6v3.2M406.3,456.7h3.2m-1.6,-1.6v3.2M513.3,454.5h3.2m-1.6,-1.6v3.2M79.1,399.6h3.2m-1.6,-1.6v3.2M623.5,434.3h3.2m-1.6,-1.6v3.2M570.6,391.3h3.2m-1.6,-1.6v3.2M551.7,434.9h3.2m-1.6,-1.6v3.2M293.3,450.2h3.2m-1.6,-1.6v3.2M343.4,392.6h3.2m-1.6,-1.6v3.2M75.6,404.1h3.2m-1.6,-1.6v3.2M639.3,458.4h3.2m-1.6,-1.6v3.2M544.3,452.2h3.2m-1.6,-1.6v3.2M405.1,460.9h3.2m-1.6,-1.6v3.2M465.0,382.2h3.2m-1.6,-1.6v3.2M533.2,458.3h3.2m-1.6,-1.6v3.2M496.6,427.1h3.2m-1.6,-1.6v3.2M305.8,420.4h3.2m-1.6,-1.6v3.2M427.7,433.8h3.2m-1.6,-1.6v3.2M417.9,448.4h3.2m-1.6,-1.6v3.2M419.4,446.0h3.2m-1.6,-1.6v3.2M107.7,397.2h3.2m-1.6,-1.6v3.2M298.4,442.4h3.2m-1.6,-1.6v3.2M208.7,383.8h3.2m-1.6,-1.6v3.2M634.9,451.5h3.2m-1.6,-1.6v3.2M264.8,447.0h3.2m-1.6,-1.6v3.2M250.9,423.5h3.2m-1.6,-1.6v3.2M528.6,462.3h3.2m-1.6,-1.6v3.2M205.6,387.1h3.2m-1.6,-1.6v3.2M130.7,438.0h3.2m-1.6,-1.6v3.2M409.1,456.7h3.2m-1.6,-1.6v3.2M321.3,400.5h3.2m-1.6,-1.6v3.2M318.7,404.9h3.2m-1.6,-1.6v3.2M550.3,432.9h3.2m-1.6,-1.6v3.2M246.5,422.4h3.2m-1.6,-1.6v3.2M71.5,405.1h3.2m-1.6,-1.6v3.2M298.6,434.6h3.2m-1.6,-1.6v3.2M186.9,434.9h3.2m-1.6,-1.6v3.2M405.0,462.9h3.2m-1.6,-1.6v3.2M652.5,470.8h3.2m-1.6,-1.6v3.2M466.8,388.1h3.2m-1.6,-1.6v3.2M516.6,452.6h3.2m-1.6,-1.6v3.2M203.9,390.0h3.2m-1.6,-1.6v3.2M288.8,449.9h3.2m-1.6,-1.6v3.2M279.1,459.8h3.2m-1.6,-1.6v3.2M535.9,465.7h3.2m-1.6,-1.6v3.2M419.3,449.2h3.2m-1.6,-1.6v3.2M156.5,462.3h3.2m-1.6,-1.6v3.2M664.3,451.0h3.2m-1.6,-1.6v3.2M204.5,392.4h3.2m-1.6,-1.6v3.2M440.1,404.2h3.2m-1.6,-1.6v3.2M447.4,399.6h3.2m-1.6,-1.6v3.2M405.4,461.6h3.2m-1.6,-1.6v3.2M119.0,419.1h3.2m-1.6,-1.6v3.2M537.2,459.3h3.2m-1.6,-1.6v3.2M184.0,423.3h3.2m-1.6,-1.6v3.2M676.9,428.6h3.2m-1.6,-1.6v3.2M199.2,395.5h3.2m-1.6,-1.6v3.2M464.0,383.0h3.2m-1.6,-1.6v3.2M85.9,389.8h3.2m-1.6,-1.6v3.2M542.0,452.9h3.2m-1.6,-1.6v3.2M242.9,415.4h3.2m-1.6,-1.6v3.2M130.1,433.6h3.2m-1.6,-1.6v3.2M495.1,421.0h3.2m-1.6,-1.6v3.2M311.3,414.7h3.2m-1.6,-1.6v3.2M369.5,424.2h3.2m-1.6,-1.6v3.2M389.6,458.7h3.2m-1.6,-1.6v3.2M552.0,433.0h3.2m-1.6,-1.6v3.2M453.6,387.1h3.2m-1.6,-1.6v3.2M366.9,415.9h3.2m-1.6,-1.6v3.2M393.5,448.3h3.2m-1.6,-1.6v3.2M378.8,436.5h3.2m-1.6,-1.6v3.2M323.7,398.8h3.2m-1.6,-1.6v3.2M438.8,411.5h3.2m-1.6,-1.6v3.2M167.3,452.5h3.2m-1.6,-1.6v3.2M199.2,394.1h3.2m-1.6,-1.6v3.2M251.9,430.3h3.2m-1.6,-1.6v3.2M443.7,401.9h3.2m-1.6,-1.6v3.2M113.3,407.6h3.2m-1.6,-1.6v3.2M126.6,426.9h3.2m-1.6,-1.6v3.2M347.0,389.3h3.2m-1.6,-1.6v3.2M309.6,414.3h3.2m-1.6,-1.6v3.2M131.9,438.9h3.2m-1.6,-1.6v3.2M172.6,445.5h3.2m-1.6,-1.6v3.2M352.3,395.1h3.2m-1.6,-1.6v3.2M578.0,382.9h3.2m-1.6,-1.6v3.2M327.0,393.2h3.2m-1.6,-1.6v3.2M77.7,398.1h3.2m-1.6,-1.6v3.2M432.1,425.5h3.2m-1.6,-1.6v3.2M332.2,393.3h3.2m-1.6,-1.6v3.2M285.0,452.3h3.2m-1.6,-1.6v3.2M250.3,420.2h3.2m-1.6,-1.6v3.2M613.7,405.3h3.2m-1.6,-1.6v3.2M211.2,388.7h3.2m-1.6,-1.6v3.2M502.6,433.0h3.2m-1.6,-1.6v3.2M129.7,449.7h3.2m-1.6,-1.6v3.2M145.2,458.1h3.2m-1.6,-1.6v3.2M529.6,467.7h3.2m-1.6,-1.6v3.2M500.4,435.6h3.2m-1.6,-1.6v3.2M265.7,447.0h3.2m-1.6,-1.6v3.2M510.6,445.7h3.2m-1.6,-1.6v3.2M79.9,392.9h3.2m-1.6,-1.6v3.2M162.0,457.5h3.2m-1.6,-1.6v3.2M640.8,462.4h3.2m-1.6,-1.6v3.2M378.2,430.4h3.2m-1.6,-1.6v3.2M360.0,401.3h3.2m-1.6,-1.6v3.2M574.7,389.1h3.2m-1.6,-1.6v3.2M379.0,439.5h3.2m-1.6,-1.6v3.2M620.0,416.6h3.2m-1.6,-1.6v3.2M230.5,388.9h3.2m-1.6,-1.6v3.2M597.8,388.0h3.2m-1.6,-1.6v3.2M294.7,447.8h3.2m-1.6,-1.6v3.2M111.7,408.3h3.2m-1.6,-1.6v3.2M200.9,391.2h3.2m-1.6,-1.6v3.2M593.6,381.5h3.2m-1.6,-1.6v3.2M59.3,419.2h3.2m-1.6,-1.6v3.2M682.8,429.1h3.2m-1.6,-1.6v3.2M577.0,397.9h3.2m-1.6,-1.6v3.2M304.1,430.5h3.2m-1.6,-1.6v3.2M156.7,463.5h3.2m-1.6,-1.6v3.2M226.6,390.8h3.2m-1.6,-1.6v3.2M322.5,402.0h3.2m-1.6,-1.6v3.2M614.4,411.7h3.2m-1.6,-1.6v3.2M552.9,431.3h3.2m-1.6,-1.6v3.2M679.9,433.8h3.2m-1.6,-1.6v3.2M516.7,454.8h3.2m-1.6,-1.6v3.2M413.6,453.0h3.2m-1.6,-1.6v3.2M475.9,391.2h3.2m-1.6,-1.6v3.2M378.4,438.6h3.2m-1.6,-1.6v3.2M405.5,459.4h3.2m-1.6,-1.6v3.2M247.0,417.6h3.2m-1.6,-1.6v3.2M677.8,439.8h3.2m-1.6,-1.6v3.2M194.8,406.2h3.2m-1.6,-1.6v3.2M409.4,455.0h3.2m-1.6,-1.6v3.2M413.1,451.6h3.2m-1.6,-1.6v3.2M357.0,399.0h3.2m-1.6,-1.6v3.2M299.9,439.1h3.2m-1.6,-1.6v3.2M74.5,399.3h3.2m-1.6,-1.6v3.2M119.4,411.1h3.2m-1.6,-1.6v3.2M530.4,466.4h3.2m-1.6,-1.6v3.2M492.0,421.9h3.2m-1.6,-1.6v3.2M356.1,392.9h3.2m-1.6,-1.6v3.2M678.8,431.9h3.2m-1.6,-1.6v3.2M241.9,416.9h3.2m-1.6,-1.6v3.2M92.5,387.7h3.2m-1.6,-1.6v3.2M241.4,418.8h3.2m-1.6,-1.6v3.2M210.4,379.2h3.2m-1.6,-1.6v3.2M351.4,388.9h3.2m-1.6,-1.6v3.2M406.7,461.6h3.2m-1.6,-1.6v3.2M284.4,455.9h3.2m-1.6,-1.6v3.2M673.9,439.8h3.2m-1.6,-1.6v3.2M83.9,389.3h3.2m-1.6,-1.6v3.2M142.6,450.4h3.2m-1.6,-1.6v3.2M80.5,391.0h3.2m-1.6,-1.6v3.2M607.2,397.2h3.2m-1.6,-1.6v3.2M340.5,392.9h3.2m-1.6,-1.6v3.2M581.5,382.8h3.2m-1.6,-1.6v3.2M394.1,457.7h3.2m-1.6,-1.6v3.2M195.0,403.0h3.2m-1.6,-1.6v3.2M456.1,388.9h3.2m-1.6,-1.6v3.2M188.9,414.0h3.2m-1.6,-1.6v3.2M125.5,433.8h3.2m-1.6,-1.6v3.2M216.5,381.8h3.2m-1.6,-1.6v3.2M219.4,379.3h3.2m-1.6,-1.6v3.2M347.4,389.1h3.2m-1.6,-1.6v3.2M489.8,414.9h3.2m-1.6,-1.6v3.2M69.4,406.8h3.2m-1.6,-1.6v3.2M197.6,399.3h3.2m-1.6,-1.6v3.2M414.3,450.1h3.2m-1.6,-1.6v3.2M248.3,421.8h3.2m-1.6,-1.6v3.2M209.7,386.0h3.2m-1.6,-1.6v3.2M218.9,378.9h3.2m-1.6,-1.6v3.2M559.6,415.1h3.2m-1.6,-1.6v3.2M651.5,468.5h3.2m-1.6,-1.6v3.2M583.2,374.4h3.2m-1.6,-1.6v3.2M575.4,382.3h3.2m-1.6,-1.6v3.2M189.9,411.4h3.2m-1.6,-1.6v3.2M239.7,411.3h3.2m-1.6,-1.6v3.2M639.4,461.8h3.2m-1.6,-1.6v3.2M74.5,402.4h3.2m-1.6,-1.6v3.2M467.0,380.7h3.2m-1.6,-1.6v3.2M232.4,393.2h3.2m-1.6,-1.6v3.2M345.8,388.0h3.2m-1.6,-1.6v3.2M607.3,400.4h3.2m-1.6,-1.6v3.2M641.4,458.8h3.2m-1.6,-1.6v3.2M613.3,406.1h3.2m-1.6,-1.6v3.2M138.1,454.7h3.2m-1.6,-1.6v3.2M543.7,439.4h3.2m-1.6,-1.6v3.2M542.0,449.9h3.2m-1.6,-1.6v3.2M419.6,445.5h3.2m-1.6,-1.6v3.2M575.9,384.3h3.2m-1.6,-1.6v3.2M592.1,375.6h3.2m-1.6,-1.6v3.2M169.8,444.1h3.2m-1.6,-1.6v3.2M144.5,455.3h3.2m-1.6,-1.6v3.2M479.5,391.2h3.2m-1.6,-1.6v3.2M406.8,457.3h3.2m-1.6,-1.6v3.2M218.3,390.4h3.2m-1.6,-1.6v3.2M450.8,389.1h3.2m-1.6,-1.6v3.2M281.9,452.9h3.2m-1.6,-1.6v3.2M85.4,389.4h3.2m-1.6,-1.6v3.2M86.0,392.2h3.2m-1.6,-1.6v3.2M610.4,400.9h3.2m-1.6,-1.6v3.2M533.0,458.2h3.2m-1.6,-1.6v3.2M246.9,418.6h3.2m-1.6,-1.6v3.2M644.2,462.5h3.2m-1.6,-1.6v3.2M177.9,436.4h3.2m-1.6,-1.6v3.2M162.4,455.0h3.2m-1.6,-1.6v3.2M526.7,464.8h3.2m-1.6,-1.6v3.2M167.7,451.2h3.2m-1.6,-1.6v3.2M491.0,410.2h3.2m-1.6,-1.6v3.2M429.3,431.2h3.2m-1.6,-1.6v3.2M427.2,431.6h3.2m-1.6,-1.6v3.2M464.9,384.0h3.2m-1.6,-1.6v3.2M215.2,376.7h3.2m-1.6,-1.6v3.2M282.9,450.6h3.2m-1.6,-1.6v3.2M316.6,407.1h3.2m-1.6,-1.6v3.2M603.4,396.1h3.2m-1.6,-1.6v3.2M394.4,453.1h3.2m-1.6,-1.6v3.2M546.6,445.1h3.2m-1.6,-1.6v3.2M134.7,438.3h3.2m-1.6,-1.6v3.2M105.9,395.1h3.2m-1.6,-1.6v3.2M373.8,431.3h3.2m-1.6,-1.6v3.2M105.6,392.5h3.2m-1.6,-1.6v3.2M256.9,439.8h3.2m-1.6,-1.6v3.2M85.0,394.1h3.2m-1.6,-1.6v3.2M225.8,390.3h3.2m-1.6,-1.6v3.2M527.7,459.5h3.2m-1.6,-1.6v3.2M618.6,422.7h3.2m-1.6,-1.6v3.2M121.5,419.9h3.2m-1.6,-1.6v3.2M543.4,440.9h3.2m-1.6,-1.6v3.2M254.9,438.5h3.2m-1.6,-1.6v3.2M231.3,393.3h3.2m-1.6,-1.6v3.2M491.8,414.2h3.2m-1.6,-1.6v3.2M81.3,385.4h3.2m-1.6,-1.6v3.2M404.0,462.8h3.2m-1.6,-1.6v3.2M408.2,455.5h3.2m-1.6,-1.6v3.2M685.2,432.1h3.2m-1.6,-1.6v3.2M146.0,457.1h3.2m-1.6,-1.6v3.2M477.9,386.6h3.2m-1.6,-1.6v3.2M308.4,422.1h3.2m-1.6,-1.6v3.2M616.9,419.1h3.2m-1.6,-1.6v3.2M408.4,458.2h3.2m-1.6,-1.6v3.2M590.8,375.7h3.2m-1.6,-1.6v3.2M275.4,459.8h3.2m-1.6,-1.6v3.2M118.7,418.3h3.2m-1.6,-1.6v3.2M625.6,448.1h3.2m-1.6,-1.6v3.2M631.3,447.2h3.2m-1.6,-1.6v3.2M557.1,424.7h3.2m-1.6,-1.6v3.2M650.5,467.9h3.2m-1.6,-1.6v3.2M521.8,459.5h3.2m-1.6,-1.6v3.2M342.5,385.6h3.2m-1.6,-1.6v3.2M585.7,382.6h3.2m-1.6,-1.6v3.2M299.6,438.9h3.2m-1.6,-1.6v3.2M215.2,385.4h3.2m-1.6,-1.6v3.2M507.5,447.8h3.2m-1.6,-1.6v3.2M439.6,415.4h3.2m-1.6,-1.6v3.2M632.8,449.2h3.2m-1.6,-1.6v3.2M583.4,381.6h3.2m-1.6,-1.6v3.2M618.7,419.8h3.2m-1.6,-1.6v3.2M285.4,450.2h3.2m-1.6,-1.6v3.2M199.4,403.7h3.2m-1.6,-1.6v3.2M380.6,437.3h3.2m-1.6,-1.6v3.2M250.4,427.2h3.2m-1.6,-1.6v3.2M468.7,382.6h3.2m-1.6,-1.6v3.2M153.4,454.7h3.2m-1.6,-1.6v3.2M86.0,391.1h3.2m-1.6,-1.6v3.2M160.9,459.4h3.2m-1.6,-1.6v3.2M507.6,447.5h3.2m-1.6,-1.6v3.2M364.0,410.2h3.2m-1.6,-1.6v3.2M473.6,390.5h3.2m-1.6,-1.6v3.2M178.6,432.3h3.2m-1.6,-1.6v3.2M408.6,455.3h3.2m-1.6,-1.6v3.2M437.5,412.5h3.2m-1.6,-1.6v3.2M606.4,400.5h3.2m-1.6,-1.6v3.2M669.3,450.3h3.2m-1.6,-1.6v3.2M446.3,389.9h3.2m-1.6,-1.6v3.2M428.1,435.1h3.2m-1.6,-1.6v3.2M161.2,459.7h3.2m-1.6,-1.6v3.2M168.2,460.7h3.2m-1.6,-1.6v3.2M442.1,409.2h3.2m-1.6,-1.6v3.2M183.2,420.4h3.2m-1.6,-1.6v3.2M308.0,418.0h3.2m-1.6,-1.6v3.2M656.7,469.2h3.2m-1.6,-1.6v3.2M248.1,417.4h3.2m-1.6,-1.6v3.2M555.9,422.6h3.2m-1.6,-1.6v3.2M329.2,393.7h3.2m-1.6,-1.6v3.2M270.2,455.6h3.2m-1.6,-1.6v3.2M451.6,393.7h3.2m-1.6,-1.6v3.2M579.9,381.4h3.2m-1.6,-1.6v3.2M426.1,435.5h3.2m-1.6,-1.6v3.2M500.7,438.2h3.2m-1.6,-1.6v3.2M469.8,385.4h3.2m-1.6,-1.6v3.2M527.6,460.9h3.2m-1.6,-1.6v3.2M83.0,393.2h3.2m-1.6,-1.6v3.2M472.5,388.5h3.2m-1.6,-1.6v3.2M159.5,458.9h3.2m-1.6,-1.6v3.2M214.4,381.6h3.2m-1.6,-1.6v3.2M502.0,436.1h3.2m-1.6,-1.6v3.2M107.2,394.5h3.2m-1.6,-1.6v3.2M630.5,445.9h3.2m-1.6,-1.6v3.2M290.9,449.1h3.2m-1.6,-1.6v3.2M298.0,433.0h3.2m-1.6,-1.6v3.2M470.9,384.3h3.2m-1.6,-1.6v3.2M583.0,384.5h3.2m-1.6,-1.6v3.2M344.0,387.1h3.2m-1.6,-1.6v3.2M179.3,433.0h3.2m-1.6,-1.6v3.2M361.7,400.5h3.2m-1.6,-1.6v3.2M383.5,440.9h3.2m-1.6,-1.6v3.2M512.8,457.6h3.2m-1.6,-1.6v3.2M209.9,382.4h3.2m-1.6,-1.6v3.2M103.7,394.4h3.2m-1.6,-1.6v3.2M63.1,418.2h3.2m-1.6,-1.6v3.2M379.9,437.2h3.2m-1.6,-1.6v3.2M343.4,390.6h3.2m-1.6,-1.6v3.2M679.6,433.8h3.2m-1.6,-1.6v3.2M372.1,427.0h3.2m-1.6,-1.6v3.2M251.3,418.8h3.2m-1.6,-1.6v3.2M300.4,438.7h3.2m-1.6,-1.6v3.2M294.8,446.9h3.2m-1.6,-1.6v3.2M164.8,456.1h3.2m-1.6,-1.6v3.2M165.3,453.3h3.2m-1.6,-1.6v3.2M248.1,422.8h3.2m-1.6,-1.6v3.2M322.7,403.5h3.2m-1.6,-1.6v3.2M279.9,454.8h3.2m-1.6,-1.6v3.2M642.3,464.9h3.2m-1.6,-1.6v3.2M134.2,439.4h3.2m-1.6,-1.6v3.2M421.0,447.2h3.2m-1.6,-1.6v3.2M128.3,430.9h3.2m-1.6,-1.6v3.2M613.9,416.8h3.2m-1.6,-1.6v3.2M198.6,392.2h3.2m-1.6,-1.6v3.2M534.7,463.9h3.2m-1.6,-1.6v3.2M373.0,426.3h3.2m-1.6,-1.6v3.2M631.3,451.0h3.2m-1.6,-1.6v3.2M341.4,381.3h3.2m-1.6,-1.6v3.2M263.6,444.5h3.2m-1.6,-1.6v3.2M424.8,442.2h3.2m-1.6,-1.6v3.2M236.3,404.7h3.2m-1.6,-1.6v3.2M534.5,457.8h3.2m-1.6,-1.6v3.2M254.2,436.3h3.2m-1.6,-1.6v3.2M445.1,403.8h3.2m-1.6,-1.6v3.2M151.3,463.1h3.2m-1.6,-1.6v3.2M348.6,392.1h3.2m-1.6,-1.6v3.2M197.3,399.3h3.2m-1.6,-1.6v3.2M391.9,454.3h3.2m-1.6,-1.6v3.2M611.2,404.9h3.2m-1.6,-1.6v3.2M185.9,424.7h3.2m-1.6,-1.6v3.2M593.7,382.8h3.2m-1.6,-1.6v3.2M437.6,395.0h3.2m-1.6,-1.6v3.2M276.0,454.3h3.2m-1.6,-1.6v3.2M293.0,439.5h3.2m-1.6,-1.6v3.2M328.0,394.6h3.2m-1.6,-1.6v3.2M91.9,389.3h3.2m-1.6,-1.6v3.2M662.0,466.2h3.2m-1.6,-1.6v3.2M397.6,461.9h3.2m-1.6,-1.6v3.2M167.6,453.1h3.2m-1.6,-1.6v3.2M564.7,408.4h3.2m-1.6,-1.6v3.2M98.2,389.6h3.2m-1.6,-1.6v3.2M668.4,453.1h3.2m-1.6,-1.6v3.2M277.5,453.8h3.2m-1.6,-1.6v3.2M582.7,377.1h3.2m-1.6,-1.6v3.2M234.2,392.4h3.2m-1.6,-1.6v3.2M356.0,394.6h3.2m-1.6,-1.6v3.2M63.0,425.9h3.2m-1.6,-1.6v3.2M343.5,388.7h3.2m-1.6,-1.6v3.2M678.8,428.3h3.2m-1.6,-1.6v3.2M153.2,458.6h3.2m-1.6,-1.6v3.2M445.1,399.9h3.2m-1.6,-1.6v3.2M471.8,389.9h3.2m-1.6,-1.6v3.2M416.9,448.4h3.2m-1.6,-1.6v3.2M520.8,457.3h3.2m-1.6,-1.6v3.2M421.5,453.4h3.2m-1.6,-1.6v3.2M673.5,434.7h3.2m-1.6,-1.6v3.2M341.3,385.7h3.2m-1.6,-1.6v3.2M126.1,433.7h3.2m-1.6,-1.6v3.2M520.4,458.4h3.2m-1.6,-1.6v3.2M564.7,406.9h3.2m-1.6,-1.6v3.2M116.4,414.2h3.2m-1.6,-1.6v3.2M247.3,427.1h3.2m-1.6,-1.6v3.2M472.5,386.3h3.2m-1.6,-1.6v3.2M676.6,431.5h3.2m-1.6,-1.6v3.2M179.3,433.5h3.2m-1.6,-1.6v3.2M620.6,428.8h3.2m-1.6,-1.6v3.2M497.2,428.5h3.2m-1.6,-1.6v3.2M611.7,407.7h3.2m-1.6,-1.6v3.2M585.9,384.7h3.2m-1.6,-1.6v3.2M349.9,396.8h3.2m-1.6,-1.6v3.2M264.1,446.8h3.2m-1.6,-1.6v3.2M449.2,399.4h3.2m-1.6,-1.6v3.2M233.6,392.2h3.2m-1.6,-1.6v3.2M554.2,419.0h3.2m-1.6,-1.6v3.2M363.4,411.9h3.2m-1.6,-1.6v3.2M104.9,395.5h3.2m-1.6,-1.6v3.2M186.9,415.9h3.2m-1.6,-1.6v3.2M577.5,392.5h3.2m-1.6,-1.6v3.2M570.2,395.5h3.2m-1.6,-1.6v3.2M163.1,457.1h3.2m-1.6,-1.6v3.2M297.3,444.1h3.2m-1.6,-1.6v3.2M647.1,465.5h3.2m-1.6,-1.6v3.2M166.2,462.0h3.2m-1.6,-1.6v3.2M77.6,396.8h3.2m-1.6,-1.6v3.2M104.8,387.7h3.2m-1.6,-1.6v3.2M359.6,412.9h3.2m-1.6,-1.6v3.2M132.0,440.9h3.2m-1.6,-1.6v3.2M139.0,451.7h3.2m-1.6,-1.6v3.2M154.9,455.8h3.2m-1.6,-1.6v3.2M571.7,395.6h3.2m-1.6,-1.6v3.2M677.8,438.0h3.2m-1.6,-1.6v3.2M399.8,459.3h3.2m-1.6,-1.6v3.2M236.4,399.7h3.2m-1.6,-1.6v3.2M241.8,409.1h3.2m-1.6,-1.6v3.2M396.5,452.2h3.2m-1.6,-1.6v3.2M588.7,384.2h3.2m-1.6,-1.6v3.2M331.2,393.2h3.2m-1.6,-1.6v3.2M479.8,403.3h3.2m-1.6,-1.6v3.2M199.8,397.3h3.2m-1.6,-1.6v3.2M343.3,381.1h3.2m-1.6,-1.6v3.2M314.1,413.8h3.2m-1.6,-1.6v3.2M644.9,465.8h3.2m-1.6,-1.6v3.2M579.3,382.3h3.2m-1.6,-1.6v3.2M408.1,457.9h3.2m-1.6,-1.6v3.2M147.3,460.5h3.2m-1.6,-1.6v3.2M520.9,458.7h3.2m-1.6,-1.6v3.2M258.7,439.6h3.2m-1.6,-1.6v3.2M273.9,453.7h3.2m-1.6,-1.6v3.2M162.3,456.2h3.2m-1.6,-1.6v3.2M255.0,437.1h3.2m-1.6,-1.6v3.2M657.5,465.6h3.2m-1.6,-1.6v3.2M439.7,405.4h3.2m-1.6,-1.6v3.2M146.7,455.6h3.2m-1.6,-1.6v3.2M125.5,428.7h3.2m-1.6,-1.6v3.2M284.3,457.2h3.2m-1.6,-1.6v3.2M113.7,412.0h3.2m-1.6,-1.6v3.2M541.0,450.2h3.2m-1.6,-1.6v3.2M139.4,451.1h3.2m-1.6,-1.6v3.2M187.8,421.8h3.2m-1.6,-1.6v3.2M164.9,456.9h3.2m-1.6,-1.6v3.2M536.4,459.1h3.2m-1.6,-1.6v3.2M457.5,385.3h3.2m-1.6,-1.6v3.2M664.7,452.3h3.2m-1.6,-1.6v3.2M325.3,397.4h3.2m-1.6,-1.6v3.2M605.5,390.8h3.2m-1.6,-1.6v3.2M440.2,408.8h3.2m-1.6,-1.6v3.2M532.7,463.9h3.2m-1.6,-1.6v3.2M85.3,389.7h3.2m-1.6,-1.6v3.2M136.0,446.2h3.2m-1.6,-1.6v3.2M490.8,419.1h3.2m-1.6,-1.6v3.2M262.7,442.8h3.2m-1.6,-1.6v3.2M63.9,415.0h3.2m-1.6,-1.6v3.2M533.7,456.8h3.2m-1.6,-1.6v3.2M361.9,402.8h3.2m-1.6,-1.6v3.2M608.5,395.1h3.2m-1.6,-1.6v3.2M577.5,386.6h3.2m-1.6,-1.6v3.2M636.8,457.0h3.2m-1.6,-1.6v3.2M205.4,383.1h3.2m-1.6,-1.6v3.2M173.6,441.7h3.2m-1.6,-1.6v3.2M392.6,453.2h3.2m-1.6,-1.6v3.2M152.0,463.5h3.2m-1.6,-1.6v3.2M669.8,446.2h3.2m-1.6,-1.6v3.2M81.1,395.3h3.2m-1.6,-1.6v3.2M62.2,420.8h3.2m-1.6,-1.6v3.2M656.9,463.8h3.2m-1.6,-1.6v3.2M511.5,459.1h3.2m-1.6,-1.6v3.2M261.8,442.2h3.2m-1.6,-1.6v3.2M333.9,385.1h3.2m-1.6,-1.6v3.2M492.9,419.8h3.2m-1.6,-1.6v3.2M571.0,396.9h3.2m-1.6,-1.6v3.2M183.3,424.0h3.2m-1.6,-1.6v3.2M502.6,442.0h3.2m-1.6,-1.6v3.2M143.6,452.9h3.2m-1.6,-1.6v3.2M554.1,432.6h3.2m-1.6,-1.6v3.2M241.9,411.8h3.2m-1.6,-1.6v3.2M269.9,442.8h3.2m-1.6,-1.6v3.2M399.7,456.3h3.2m-1.6,-1.6v3.2M499.9,430.9h3.2m-1.6,-1.6v3.2M434.7,423.5h3.2m-1.6,-1.6v3.2M390.9,452.3h3.2m-1.6,-1.6v3.2M502.8,439.6h3.2m-1.6,-1.6v3.2M292.0,447.6h3.2m-1.6,-1.6v3.2M122.0,423.5h3.2m-1.6,-1.6v3.2M445.7,402.9h3.2m-1.6,-1.6v3.2M96.4,389.1h3.2m-1.6,-1.6v3.2M193.7,409.1h3.2m-1.6,-1.6v3.2M128.3,432.7h3.2m-1.6,-1.6v3.2M565.6,396.0h3.2m-1.6,-1.6v3.2M409.7,456.3h3.2m-1.6,-1.6v3.2M570.4,396.3h3.2m-1.6,-1.6v3.2M547.8,435.6h3.2m-1.6,-1.6v3.2M408.8,456.9h3.2m-1.6,-1.6v3.2M77.0,399.7h3.2m-1.6,-1.6v3.2M617.0,412.5h3.2m-1.6,-1.6v3.2M471.1,386.2h3.2m-1.6,-1.6v3.2M306.6,425.2h3.2m-1.6,-1.6v3.2M410.9,451.1h3.2m-1.6,-1.6v3.2M631.3,451.3h3.2m-1.6,-1.6v3.2M399.3,451.9h3.2m-1.6,-1.6v3.2M623.0,429.7h3.2m-1.6,-1.6v3.2M147.2,456.5h3.2m-1.6,-1.6v3.2M492.2,422.0h3.2m-1.6,-1.6v3.2M373.7,430.3h3.2m-1.6,-1.6v3.2M388.9,451.5h3.2m-1.6,-1.6v3.2M459.4,379.4h3.2m-1.6,-1.6v3.2M421.7,444.5h3.2m-1.6,-1.6v3.2M60.3,421.9h3.2m-1.6,-1.6v3.2M225.3,389.8h3.2m-1.6,-1.6v3.2M672.2,444.1h3.2m-1.6,-1.6v3.2M82.9,396.3h3.2m-1.6,-1.6v3.2M451.1,396.9h3.2m-1.6,-1.6v3.2M161.4,458.4h3.2m-1.6,-1.6v3.2M177.7,438.6h3.2m-1.6,-1.6v3.2M561.5,418.3h3.2m-1.6,-1.6v3.2M677.1,431.2h3.2m-1.6,-1.6v3.2M234.2,389.5h3.2m-1.6,-1.6v3.2M353.7,396.4h3.2m-1.6,-1.6v3.2M97.3,388.0h3.2m-1.6,-1.6v3.2M240.8,399.6h3.2m-1.6,-1.6v3.2M220.3,382.1h3.2m-1.6,-1.6v3.2M289.2,445.2h3.2m-1.6,-1.6v3.2M659.6,459.3h3.2m-1.6,-1.6v3.2M589.6,379.1h3.2m-1.6,-1.6v3.2M360.2,399.0h3.2m-1.6,-1.6v3.2M611.4,406.8h3.2m-1.6,-1.6v3.2M213.2,387.4h3.2m-1.6,-1.6v3.2M361.7,413.0h3.2m-1.6,-1.6v3.2M610.8,403.6h3.2m-1.6,-1.6v3.2M157.1,455.9h3.2m-1.6,-1.6v3.2M92.0,393.3h3.2m-1.6,-1.6v3.2M374.1,431.8h3.2m-1.6,-1.6v3.2M167.3,454.2h3.2m-1.6,-1.6v3.2M145.5,459.1h3.2m-1.6,-1.6v3.2M674.0,444.5h3.2m-1.6,-1.6v3.2M682.4,427.7h3.2m-1.6,-1.6v3.2M237.1,401.0h3.2m-1.6,-1.6v3.2M336.8,388.8h3.2m-1.6,-1.6v3.2M589.1,380.2h3.2m-1.6,-1.6v3.2M334.6,386.4h3.2m-1.6,-1.6v3.2M89.2,384.0h3.2m-1.6,-1.6v3.2M180.3,435.0h3.2m-1.6,-1.6v3.2M132.3,442.4h3.2m-1.6,-1.6v3.2M503.2,433.8h3.2m-1.6,-1.6v3.2M682.0,427.8h3.2m-1.6,-1.6v3.2M623.4,428.8h3.2m-1.6,-1.6v3.2M312.1,409.1h3.2m-1.6,-1.6v3.2M599.1,391.7h3.2m-1.6,-1.6v3.2M277.1,462.3h3.2m-1.6,-1.6v3.2M93.2,390.0h3.2m-1.6,-1.6v3.2M289.1,449.7h3.2m-1.6,-1.6v3.2M83.0,391.0h3.2m-1.6,-1.6v3.2M636.2,452.4h3.2m-1.6,-1.6v3.2M282.5,448.7h3.2m-1.6,-1.6v3.2M123.7,428.3h3.2m-1.6,-1.6v3.2M468.7,388.0h3.2m-1.6,-1.6v3.2M639.6,461.5h3.2m-1.6,-1.6v3.2M351.3,390.7h3.2m-1.6,-1.6v3.2M656.5,461.4h3.2m-1.6,-1.6v3.2M156.0,458.6h3.2m-1.6,-1.6v3.2M100.6,387.1h3.2m-1.6,-1.6v3.2M478.4,387.2h3.2m-1.6,-1.6v3.2M607.7,398.8h3.2m-1.6,-1.6v3.2M618.6,414.2h3.2m-1.6,-1.6v3.2M233.2,393.8h3.2m-1.6,-1.6v3.2M305.9,423.6h3.2m-1.6,-1.6v3.2M416.9,452.1h3.2m-1.6,-1.6v3.2M165.4,450.7h3.2m-1.6,-1.6v3.2M385.4,454.3h3.2m-1.6,-1.6v3.2M271.5,454.3h3.2m-1.6,-1.6v3.2M327.5,390.0h3.2m-1.6,-1.6v3.2M229.9,388.7h3.2m-1.6,-1.6v3.2M613.7,406.4h3.2m-1.6,-1.6v3.2M568.7,399.1h3.2m-1.6,-1.6v3.2M248.0,420.8h3.2m-1.6,-1.6v3.2M238.1,405.5h3.2m-1.6,-1.6v3.2M652.5,465.3h3.2m-1.6,-1.6v3.2M602.9,396.7h3.2m-1.6,-1.6v3.2M602.5,394.7h3.2m-1.6,-1.6v3.2M393.3,452.7h3.2m-1.6,-1.6v3.2M219.4,380.4h3.2m-1.6,-1.6v3.2M60.4,420.2h3.2m-1.6,-1.6v3.2M446.3,401.4h3.2m-1.6,-1.6v3.2M483.7,403.8h3.2m-1.6,-1.6v3.2M301.1,436.9h3.2m-1.6,-1.6v3.2M189.2,409.9h3.2m-1.6,-1.6v3.2M482.3,401.0h3.2m-1.6,-1.6v3.2M506.3,443.9h3.2m-1.6,-1.6v3.2M87.1,389.9h3.2m-1.6,-1.6v3.2M211.3,382.7h3.2m-1.6,-1.6v3.2M80.2,399.8h3.2m-1.6,-1.6v3.2M655.8,466.7h3.2m-1.6,-1.6v3.2M125.1,424.2h3.2m-1.6,-1.6v3.2M232.5,392.6h3.2m-1.6,-1.6v3.2M271.4,453.3h3.2m-1.6,-1.6v3.2M669.3,448.9h3.2m-1.6,-1.6v3.2M433.8,423.0h3.2m-1.6,-1.6v3.2M464.1,385.0h3.2m-1.6,-1.6v3.2M546.9,442.6h3.2m-1.6,-1.6v3.2M214.3,383.0h3.2m-1.6,-1.6v3.2M230.8,387.7h3.2m-1.6,-1.6v3.2M643.4,472.3h3.2m-1.6,-1.6v3.2M629.0,447.1h3.2m-1.6,-1.6v3.2M562.2,401.0h3.2m-1.6,-1.6v3.2M570.0,395.9h3.2m-1.6,-1.6v3.2M81.8,395.8h3.2m-1.6,-1.6v3.2M210.4,382.3h3.2m-1.6,-1.6v3.2M284.8,453.3h3.2m-1.6,-1.6v3.2M550.7,437.1h3.2m-1.6,-1.6v3.2M187.7,418.5h3.2m-1.6,-1.6v3.2M451.7,388.8h3.2m-1.6,-1.6v3.2M157.0,463.8h3.2m-1.6,-1.6v3.2M520.1,460.7h3.2m-1.6,-1.6v3.2M186.6,416.4h3.2m-1.6,-1.6v3.2M635.9,454.5h3.2m-1.6,-1.6v3.2M200.4,400.3h3.2m-1.6,-1.6v3.2M608.1,395.6h3.2m-1.6,-1.6v3.2M444.6,407.5h3.2m-1.6,-1.6v3.2M516.1,461.1h3.2m-1.6,-1.6v3.2M554.8,430.6h3.2m-1.6,-1.6v3.2M413.2,452.9h3.2m-1.6,-1.6v3.2M545.2,441.6h3.2m-1.6,-1.6v3.2M551.5,435.7h3.2m-1.6,-1.6v3.2M404.9,456.1h3.2m-1.6,-1.6v3.2M119.8,413.1h3.2m-1.6,-1.6v3.2M620.5,421.7h3.2m-1.6,-1.6v3.2M441.8,400.0h3.2m-1.6,-1.6v3.2M252.7,429.9h3.2m-1.6,-1.6v3.2M436.3,420.0h3.2m-1.6,-1.6v3.2M572.3,390.7h3.2m-1.6,-1.6v3.2M677.8,439.9h3.2m-1.6,-1.6v3.2M112.5,404.1h3.2m-1.6,-1.6v3.2M396.3,457.6h3.2m-1.6,-1.6v3.2M607.9,402.6h3.2m-1.6,-1.6v3.2M605.7,401.1h3.2m-1.6,-1.6v3.2M634.4,453.6h3.2m-1.6,-1.6v3.2M60.1,420.1h3.2m-1.6,-1.6v3.2M441.0,409.4h3.2m-1.6,-1.6v3.2M623.9,437.0h3.2m-1.6,-1.6v3.2M104.8,392.7h3.2m-1.6,-1.6v3.2M209.5,387.5h3.2m-1.6,-1.6v3.2M198.4,392.1h3.2m-1.6,-1.6v3.2M308.4,418.4h3.2m-1.6,-1.6v3.2M141.4,453.5h3.2m-1.6,-1.6v3.2M212.0,387.2h3.2m-1.6,-1.6v3.2M253.6,436.6h3.2m-1.6,-1.6v3.2M294.8,448.2h3.2m-1.6,-1.6v3.2M378.7,430.2h3.2m-1.6,-1.6v3.2M523.9,462.3h3.2m-1.6,-1.6v3.2M377.3,432.6h3.2m-1.6,-1.6v3.2M325.8,394.7h3.2m-1.6,-1.6v3.2M147.2,456.7h3.2m-1.6,-1.6v3.2M216.9,384.2h3.2m-1.6,-1.6v3.2M636.0,457.0h3.2m-1.6,-1.6v3.2M442.0,408.6h3.2m-1.6,-1.6v3.2M123.5,424.0h3.2m-1.6,-1.6v3.2M501.1,439.6h3.2m-1.6,-1.6v3.2M240.1,409.9h3.2m-1.6,-1.6v3.2M83.0,394.3h3.2m-1.6,-1.6v3.2M225.3,387.7h3.2m-1.6,-1.6v3.2M572.4,391.6h3.2m-1.6,-1.6v3.2M289.4,455.5h3.2m-1.6,-1.6v3.2M676.6,429.2h3.2m-1.6,-1.6v3.2M284.8,455.8h3.2m-1.6,-1.6v3.2M340.5,381.2h3.2m-1.6,-1.6v3.2M570.8,396.4h3.2m-1.6,-1.6v3.2M604.9,395.2h3.2m-1.6,-1.6v3.2M315.6,415.1h3.2m-1.6,-1.6v3.2M157.5,457.5h3.2m-1.6,-1.6v3.2M120.0,417.2h3.2m-1.6,-1.6v3.2M296.1,448.2h3.2m-1.6,-1.6v3.2M330.5,389.6h3.2m-1.6,-1.6v3.2M487.7,409.2h3.2m-1.6,-1.6v3.2M552.2,432.5h3.2m-1.6,-1.6v3.2M604.8,403.2h3.2m-1.6,-1.6v3.2M543.5,447.7h3.2m-1.6,-1.6v3.2M524.8,460.7h3.2m-1.6,-1.6v3.2M92.1,386.7h3.2m-1.6,-1.6v3.2M641.4,462.2h3.2m-1.6,-1.6v3.2M258.9,445.3h3.2m-1.6,-1.6v3.2M443.3,404.2h3.2m-1.6,-1.6v3.2M86.8,390.3h3.2m-1.6,-1.6v3.2M284.8,456.2h3.2m-1.6,-1.6v3.2M662.8,457.6h3.2m-1.6,-1.6v3.2M256.1,433.8h3.2m-1.6,-1.6v3.2M158.5,456.9h3.2m-1.6,-1.6v3.2M647.9,465.7h3.2m-1.6,-1.6v3.2M442.6,402.8h3.2m-1.6,-1.6v3.2M335.0,384.5h3.2m-1.6,-1.6v3.2M323.7,400.0h3.2m-1.6,-1.6v3.2M250.8,428.7h3.2m-1.6,-1.6v3.2M91.9,384.7h3.2m-1.6,-1.6v3.2M453.5,392.2h3.2m-1.6,-1.6v3.2M354.1,398.0h3.2m-1.6,-1.6v3.2M73.4,412.6h3.2m-1.6,-1.6v3.2M538.3,453.8h3.2m-1.6,-1.6v3.2M573.5,392.5h3.2m-1.6,-1.6v3.2M481.8,399.5h3.2m-1.6,-1.6v3.2M90.2,390.6h3.2m-1.6,-1.6v3.2M646.1,464.0h3.2m-1.6,-1.6v3.2M223.6,386.0h3.2m-1.6,-1.6v3.2M660.9,464.6h3.2m-1.6,-1.6v3.2M308.3,419.5h3.2m-1.6,-1.6v3.2M87.9,390.2h3.2m-1.6,-1.6v3.2M56.4,422.1h3.2m-1.6,-1.6v3.2M135.0,442.9h3.2m-1.6,-1.6v3.2M570.3,387.9h3.2m-1.6,-1.6v3.2M139.7,445.1h3.2m-1.6,-1.6v3.2M157.9,462.9h3.2m-1.6,-1.6v3.2M380.2,439.4h3.2m-1.6,-1.6v3.2M675.8,446.7h3.2m-1.6,-1.6v3.2M270.3,449.4h3.2m-1.6,-1.6v3.2M452.7,392.3h3.2m-1.6,-1.6v3.2M82.7,397.7h3.2m-1.6,-1.6v3.2M379.9,436.7h3.2m-1.6,-1.6v3.2M115.8,414.2h3.2m-1.6,-1.6v3.2M477.9,394.4h3.2m-1.6,-1.6v3.2M255.7,430.2h3.2m-1.6,-1.6v3.2M301.9,433.6h3.2m-1.6,-1.6v3.2M447.3,399.6h3.2m-1.6,-1.6v3.2M132.8,437.0h3.2m-1.6,-1.6v3.2M476.4,392.9h3.2m-1.6,-1.6v3.2M682.5,435.5h3.2m-1.6,-1.6v3.2M81.5,394.6h3.2m-1.6,-1.6v3.2M616.0,417.0h3.2m-1.6,-1.6v3.2M177.4,436.8h3.2m-1.6,-1.6v3.2M71.5,403.5h3.2m-1.6,-1.6v3.2M500.6,431.7h3.2m-1.6,-1.6v3.2M394.9,455.8h3.2m-1.6,-1.6v3.2M463.6,381.5h3.2m-1.6,-1.6v3.2M432.1,423.4h3.2m-1.6,-1.6v3.2M241.8,410.4h3.2m-1.6,-1.6v3.2M146.5,454.5h3.2m-1.6,-1.6v3.2M564.5,403.4h3.2m-1.6,-1.6v3.2M545.1,448.0h3.2m-1.6,-1.6v3.2M659.1,463.0h3.2m-1.6,-1.6v3.2M318.9,405.2h3.2m-1.6,-1.6v3.2M236.4,396.3h3.2m-1.6,-1.6v3.2M540.9,456.6h3.2m-1.6,-1.6v3.2M68.9,405.7h3.2m-1.6,-1.6v3.2M212.3,387.0h3.2m-1.6,-1.6v3.2M297.6,439.6h3.2m-1.6,-1.6v3.2M560.0,409.7h3.2m-1.6,-1.6v3.2M549.1,436.2h3.2m-1.6,-1.6v3.2M241.5,416.3h3.2m-1.6,-1.6v3.2M221.5,385.3h3.2m-1.6,-1.6v3.2M621.2,424.7h3.2m-1.6,-1.6v3.2M459.2,385.3h3.2m-1.6,-1.6v3.2M384.9,445.8h3.2m-1.6,-1.6v3.2M483.8,404.9h3.2m-1.6,-1.6v3.2M155.6,463.9h3.2m-1.6,-1.6v3.2M413.8,454.2h3.2m-1.6,-1.6v3.2M153.5,458.6h3.2m-1.6,-1.6v3.2M682.0,427.0h3.2m-1.6,-1.6v3.2M605.9,390.7h3.2m-1.6,-1.6v3.2M675.4,435.4h3.2m-1.6,-1.6v3.2M668.4,461.6h3.2m-1.6,-1.6v3.2M65.4,416.0h3.2m-1.6,-1.6v3.2M156.9,455.4h3.2m-1.6,-1.6v3.2M676.5,432.6h3.2m-1.6,-1.6v3.2M462.9,384.9h3.2m-1.6,-1.6v3.2M381.1,442.1h3.2m-1.6,-1.6v3.2M308.3,423.9h3.2m-1.6,-1.6v3.2M308.4,426.1h3.2m-1.6,-1.6v3.2M410.2,444.9h3.2m-1.6,-1.6v3.2M309.8,419.6h3.2m-1.6,-1.6v3.2M528.9,463.4h3.2m-1.6,-1.6v3.2M104.9,397.8h3.2m-1.6,-1.6v3.2M520.4,468.6h3.2m-1.6,-1.6v3.2M310.1,422.1h3.2m-1.6,-1.6v3.2M226.6,384.7h3.2m-1.6,-1.6v3.2M62.2,418.5h3.2m-1.6,-1.6v3.2M649.8,463.0h3.2m-1.6,-1.6v3.2M282.7,454.6h3.2m-1.6,-1.6v3.2M194.6,404.5h3.2m-1.6,-1.6v3.2M539.2,458.5h3.2m-1.6,-1.6v3.2M643.8,460.4h3.2m-1.6,-1.6v3.2M263.0,448.9h3.2m-1.6,-1.6v3.2M245.4,414.7h3.2m-1.6,-1.6v3.2M201.8,393.4h3.2m-1.6,-1.6v3.2M637.6,455.3h3.2m-1.6,-1.6v3.2M564.4,409.2h3.2m-1.6,-1.6v3.2M79.5,392.5h3.2m-1.6,-1.6v3.2M295.8,434.9h3.2m-1.6,-1.6v3.2M535.9,458.1h3.2m-1.6,-1.6v3.2M447.9,394.0h3.2m-1.6,-1.6v3.2M476.9,390.0h3.2m-1.6,-1.6v3.2M538.0,452.8h3.2m-1.6,-1.6v3.2M178.2,433.1h3.2m-1.6,-1.6v3.2M373.4,433.2h3.2m-1.6,-1.6v3.2M340.0,387.1h3.2m-1.6,-1.6v3.2M544.4,448.8h3.2m-1.6,-1.6v3.2M273.4,458.7h3.2m-1.6,-1.6v3.2M420.0,450.1h3.2m-1.6,-1.6v3.2M266.5,447.5h3.2m-1.6,-1.6v3.2M387.2,446.9h3.2m-1.6,-1.6v3.2M616.2,423.3h3.2m-1.6,-1.6v3.2M342.0,386.4h3.2m-1.6,-1.6v3.2M413.0,448.0h3.2m-1.6,-1.6v3.2M170.3,444.3h3.2m-1.6,-1.6v3.2M527.4,460.1h3.2m-1.6,-1.6v3.2M363.9,403.5h3.2m-1.6,-1.6v3.2M405.5,458.0h3.2m-1.6,-1.6v3.2M258.5,442.3h3.2m-1.6,-1.6v3.2M284.5,459.9h3.2m-1.6,-1.6v3.2M414.0,452.7h3.2m-1.6,-1.6v3.2M459.0,388.0h3.2m-1.6,-1.6v3.2M558.4,420.1h3.2m-1.6,-1.6v3.2M291.9,447.1h3.2m-1.6,-1.6v3.2M388.9,459.9h3.2m-1.6,-1.6v3.2M639.9,458.1h3.2m-1.6,-1.6v3.2M624.4,436.6h3.2m-1.6,-1.6v3.2M569.4,399.3h3.2m-1.6,-1.6v3.2M150.3,459.0h3.2m-1.6,-1.6v3.2M100.6,391.7h3.2m-1.6,-1.6v3.2M657.5,462.8h3.2m-1.6,-1.6v3.2M115.1,413.9h3.2m-1.6,-1.6v3.2M455.6,385.8h3.2m-1.6,-1.6v3.2M460.2,385.7h3.2m-1.6,-1.6v3.2M393.6,453.2h3.2m-1.6,-1.6v3.2M190.9,410.5h3.2m-1.6,-1.6v3.2M149.4,459.7h3.2m-1.6,-1.6v3.2M581.0,384.2h3.2m-1.6,-1.6v3.2M614.8,410.0h3.2m-1.6,-1.6v3.2M309.0,413.7h3.2m-1.6,-1.6v3.2M298.4,441.5h3.2m-1.6,-1.6v3.2M153.0,463.3h3.2m-1.6,-1.6v3.2M594.7,378.9h3.2m-1.6,-1.6v3.2M367.6,422.9h3.2m-1.6,-1.6v3.2M440.7,412.9h3.2m-1.6,-1.6v3.2M302.7,437.2h3.2m-1.6,-1.6v3.2M246.8,419.8h3.2m-1.6,-1.6v3.2M149.1,465.8h3.2m-1.6,-1.6v3.2M283.8,457.0h3.2m-1.6,-1.6v3.2M469.7,384.7h3.2m-1.6,-1.6v3.2M394.9,456.8h3.2m-1.6,-1.6v3.2M307.6,428.7h3.2m-1.6,-1.6v3.2M63.7,409.7h3.2m-1.6,-1.6v3.2M522.5,462.6h3.2m-1.6,-1.6v3.2M477.1,393.6h3.2m-1.6,-1.6v3.2M309.9,415.6h3.2m-1.6,-1.6v3.2M306.1,427.8h3.2m-1.6,-1.6v3.2M361.7,408.3h3.2m-1.6,-1.6v3.2M198.5,393.5h3.2m-1.6,-1.6v3.2M549.7,446.5h3.2m-1.6,-1.6v3.2M615.3,411.6h3.2m-1.6,-1.6v3.2M675.3,442.3h3.2m-1.6,-1.6v3.2M382.0,445.7h3.2m-1.6,-1.6v3.2M353.8,389.8h3.2m-1.6,-1.6v3.2M655.2,463.0h3.2m-1.6,-1.6v3.2M121.8,423.2h3.2m-1.6,-1.6v3.2M194.8,411.6h3.2m-1.6,-1.6v3.2M396.4,459.6h3.2m-1.6,-1.6v3.2M365.9,404.9h3.2m-1.6,-1.6v3.2M115.9,412.2h3.2m-1.6,-1.6v3.2M662.7,465.5h3.2m-1.6,-1.6v3.2M559.8,416.6h3.2m-1.6,-1.6v3.2M657.5,467.6h3.2m-1.6,-1.6v3.2M471.2,389.3h3.2m-1.6,-1.6v3.2M130.2,439.3h3.2m-1.6,-1.6v3.2M249.0,420.7h3.2m-1.6,-1.6v3.2M483.6,398.0h3.2m-1.6,-1.6v3.2M313.5,402.8h3.2m-1.6,-1.6v3.2M328.5,388.9h3.2m-1.6,-1.6v3.2M428.8,431.5h3.2m-1.6,-1.6v3.2M318.6,405.5h3.2m-1.6,-1.6v3.2M586.7,380.1h3.2m-1.6,-1.6v3.2M94.3,386.6h3.2m-1.6,-1.6v3.2M464.0,381.8h3.2m-1.6,-1.6v3.2M509.9,460.3h3.2m-1.6,-1.6v3.2M72.8,408.1h3.2m-1.6,-1.6v3.2M318.7,405.8h3.2m-1.6,-1.6v3.2M531.2,463.1h3.2m-1.6,-1.6v3.2M71.6,408.3h3.2m-1.6,-1.6v3.2M118.3,416.7h3.2m-1.6,-1.6v3.2M220.3,385.6h3.2m-1.6,-1.6v3.2M134.9,452.5h3.2m-1.6,-1.6v3.2M448.8,399.4h3.2m-1.6,-1.6v3.2M242.6,406.5h3.2m-1.6,-1.6v3.2M163.6,453.4h3.2m-1.6,-1.6v3.2M570.4,395.2h3.2m-1.6,-1.6v3.2M472.1,385.1h3.2m-1.6,-1.6v3.2M319.9,395.9h3.2m-1.6,-1.6v3.2M81.1,394.8h3.2m-1.6,-1.6v3.2M416.2,452.0h3.2m-1.6,-1.6v3.2M420.3,443.7h3.2m-1.6,-1.6v3.2M655.7,465.8h3.2m-1.6,-1.6v3.2M622.2,433.9h3.2m-1.6,-1.6v3.2M314.0,416.6h3.2m-1.6,-1.6v3.2M271.0,450.3h3.2m-1.6,-1.6v3.2M550.8,436.8h3.2m-1.6,-1.6v3.2M172.2,449.0h3.2m-1.6,-1.6v3.2M651.0,461.4h3.2m-1.6,-1.6v3.2M207.8,381.3h3.2m-1.6,-1.6v3.2M437.6,417.6h3.2m-1.6,-1.6v3.2M570.0,404.3h3.2m-1.6,-1.6v3.2M272.2,453.9h3.2m-1.6,-1.6v3.2M170.2,446.6h3.2m-1.6,-1.6v3.2M652.9,465.0h3.2m-1.6,-1.6v3.2M59.9,422.0h3.2m-1.6,-1.6v3.2M302.6,434.5h3.2m-1.6,-1.6v3.2M80.0,393.9h3.2m-1.6,-1.6v3.2M131.6,445.7h3.2m-1.6,-1.6v3.2M201.5,395.3h3.2m-1.6,-1.6v3.2M262.3,449.0h3.2m-1.6,-1.6v3.2M118.9,417.1h3.2m-1.6,-1.6v3.2M462.9,386.5h3.2m-1.6,-1.6v3.2M171.9,448.5h3.2m-1.6,-1.6v3.2M554.4,430.2h3.2m-1.6,-1.6v3.2M653.4,461.7h3.2m-1.6,-1.6v3.2M225.0,376.3h3.2m-1.6,-1.6v3.2M327.3,394.0h3.2m-1.6,-1.6v3.2M469.8,380.2h3.2m-1.6,-1.6v3.2M461.5,383.3h3.2m-1.6,-1.6v3.2M569.8,396.8h3.2m-1.6,-1.6v3.2M134.6,442.8h3.2m-1.6,-1.6v3.2M538.6,454.6h3.2m-1.6,-1.6v3.2M256.3,435.1h3.2m-1.6,-1.6v3.2M135.0,448.0h3.2m-1.6,-1.6v3.2M214.0,382.7h3.2m-1.6,-1.6v3.2M84.9,393.0h3.2m-1.6,-1.6v3.2M288.7,447.4h3.2m-1.6,-1.6v3.2M541.8,448.8h3.2m-1.6,-1.6v3.2M154.7,459.5h3.2m-1.6,-1.6v3.2M608.5,394.9h3.2m-1.6,-1.6v3.2M219.4,388.5h3.2m-1.6,-1.6v3.2M114.7,410.9h3.2m-1.6,-1.6v3.2M196.9,398.5h3.2m-1.6,-1.6v3.2M501.5,437.0h3.2m-1.6,-1.6v3.2M552.7,425.0h3.2m-1.6,-1.6v3.2M173.7,442.3h3.2m-1.6,-1.6v3.2M634.2,452.2h3.2m-1.6,-1.6v3.2M534.7,456.0h3.2m-1.6,-1.6v3.2M505.6,439.4h3.2m-1.6,-1.6v3.2M444.3,398.5h3.2m-1.6,-1.6v3.2M153.9,460.0h3.2m-1.6,-1.6v3.2M586.6,375.8h3.2m-1.6,-1.6v3.2M437.0,417.9h3.2m-1.6,-1.6v3.2M646.0,459.7h3.2m-1.6,-1.6v3.2M638.5,459.2h3.2m-1.6,-1.6v3.2M611.8,402.0h3.2m-1.6,-1.6v3.2M409.2,463.4h3.2m-1.6,-1.6v3.2M500.3,432.3h3.2m-1.6,-1.6v3.2M128.5,436.3h3.2m-1.6,-1.6v3.2M206.0,383.7h3.2m-1.6,-1.6v3.2M442.1,404.8h3.2m-1.6,-1.6v3.2M360.5,407.3h3.2m-1.6,-1.6v3.2M457.2,393.1h3.2m-1.6,-1.6v3.2M371.7,422.6h3.2m-1.6,-1.6v3.2M596.8,381.9h3.2m-1.6,-1.6v3.2M653.1,465.3h3.2m-1.6,-1.6v3.2M604.1,387.9h3.2m-1.6,-1.6v3.2M334.2,393.5h3.2m-1.6,-1.6v3.2M517.3,456.5h3.2m-1.6,-1.6v3.2M629.1,441.0h3.2m-1.6,-1.6v3.2M165.6,454.4h3.2m-1.6,-1.6v3.2M395.8,458.7h3.2m-1.6,-1.6v3.2M186.3,417.9h3.2m-1.6,-1.6v3.2M171.4,447.6h3.2m-1.6,-1.6v3.2M670.4,455.2h3.2m-1.6,-1.6v3.2M198.8,394.1h3.2m-1.6,-1.6v3.2M509.9,449.3h3.2m-1.6,-1.6v3.2M321.5,402.7h3.2m-1.6,-1.6v3.2M601.9,392.2h3.2m-1.6,-1.6v3.2M368.5,419.7h3.2m-1.6,-1.6v3.2M379.5,433.6h3.2m-1.6,-1.6v3.2M559.1,426.9h3.2m-1.6,-1.6v3.2M614.4,408.7h3.2m-1.6,-1.6v3.2M643.0,460.5h3.2m-1.6,-1.6v3.2M450.9,391.0h3.2m-1.6,-1.6v3.2M90.5,390.6h3.2m-1.6,-1.6v3.2M299.0,445.1h3.2m-1.6,-1.6v3.2M649.2,463.9h3.2m-1.6,-1.6v3.2M644.1,463.3h3.2m-1.6,-1.6v3.2M402.8,458.2h3.2m-1.6,-1.6v3.2M621.8,429.7h3.2m-1.6,-1.6v3.2M439.3,407.5h3.2m-1.6,-1.6v3.2M107.4,399.3h3.2m-1.6,-1.6v3.2M144.7,450.7h3.2m-1.6,-1.6v3.2M606.4,403.6h3.2m-1.6,-1.6v3.2M184.4,418.7h3.2m-1.6,-1.6v3.2M208.6,386.3h3.2m-1.6,-1.6v3.2M592.1,385.3h3.2m-1.6,-1.6v3.2M241.3,412.4h3.2m-1.6,-1.6v3.2M294.2,442.3h3.2m-1.6,-1.6v3.2M231.1,396.7h3.2m-1.6,-1.6v3.2M65.0,422.9h3.2m-1.6,-1.6v3.2M288.7,449.2h3.2m-1.6,-1.6v3.2M580.6,386.8h3.2m-1.6,-1.6v3.2M150.4,463.1h3.2m-1.6,-1.6v3.2M166.8,453.3h3.2m-1.6,-1.6v3.2M298.2,434.9h3.2m-1.6,-1.6v3.2M358.4,400.1h3.2m-1.6,-1.6v3.2M323.5,392.1h3.2m-1.6,-1.6v3.2M626.0,430.0h3.2m-1.6,-1.6v3.2M604.7,392.0h3.2m-1.6,-1.6v3.2M504.3,444.1h3.2m-1.6,-1.6v3.2M284.0,458.4h3.2m-1.6,-1.6v3.2M105.5,394.6h3.2m-1.6,-1.6v3.2M523.1,460.3h3.2m-1.6,-1.6v3.2M161.1,454.1h3.2m-1.6,-1.6v3.2M480.8,401.9h3.2m-1.6,-1.6v3.2M444.8,404.7h3.2m-1.6,-1.6v3.2M210.9,378.8h3.2m-1.6,-1.6v3.2M187.9,416.0h3.2m-1.6,-1.6v3.2M334.0,389.6h3.2m-1.6,-1.6v3.2M165.2,454.7h3.2m-1.6,-1.6v3.2M63.6,412.6h3.2m-1.6,-1.6v3.2M422.2,440.6h3.2m-1.6,-1.6v3.2M483.9,404.2h3.2m-1.6,-1.6v3.2M440.3,408.2h3.2m-1.6,-1.6v3.2M326.1,394.0h3.2m-1.6,-1.6v3.2M197.7,401.9h3.2m-1.6,-1.6v3.2M145.3,454.9h3.2m-1.6,-1.6v3.2M348.3,387.1h3.2m-1.6,-1.6v3.2M486.4,404.4h3.2m-1.6,-1.6v3.2M497.4,429.0h3.2m-1.6,-1.6v3.2M356.6,402.8h3.2m-1.6,-1.6v3.2M61.8,419.7h3.2m-1.6,-1.6v3.2M167.5,456.5h3.2m-1.6,-1.6v3.2M487.5,406.9h3.2m-1.6,-1.6v3.2M237.6,401.2h3.2m-1.6,-1.6v3.2M456.6,387.7h3.2m-1.6,-1.6v3.2M216.6,381.5h3.2m-1.6,-1.6v3.2M220.1,385.1h3.2m-1.6,-1.6v3.2M357.6,397.7h3.2m-1.6,-1.6v3.2M125.4,429.0h3.2m-1.6,-1.6v3.2M461.3,382.2h3.2m-1.6,-1.6v3.2M490.0,413.7h3.2m-1.6,-1.6v3.2M456.9,387.5h3.2m-1.6,-1.6v3.2M117.8,408.9h3.2m-1.6,-1.6v3.2M649.3,467.3h3.2m-1.6,-1.6v3.2M395.8,459.1h3.2m-1.6,-1.6v3.2M348.3,386.0h3.2m-1.6,-1.6v3.2M555.5,420.0h3.2m-1.6,-1.6v3.2M412.5,456.4h3.2m-1.6,-1.6v3.2M199.7,397.1h3.2m-1.6,-1.6v3.2M405.0,455.9h3.2m-1.6,-1.6v3.2M612.7,407.5h3.2m-1.6,-1.6v3.2M293.9,445.3h3.2m-1.6,-1.6v3.2M249.5,422.6h3.2m-1.6,-1.6v3.2M152.0,461.3h3.2m-1.6,-1.6v3.2M368.7,423.5h3.2m-1.6,-1.6v3.2M660.0,459.7h3.2m-1.6,-1.6v3.2M132.6,435.8h3.2m-1.6,-1.6v3.2M511.4,448.6h3.2m-1.6,-1.6v3.2M524.3,464.6h3.2m-1.6,-1.6v3.2M139.1,457.8h3.2m-1.6,-1.6v3.2M297.1,433.4h3.2m-1.6,-1.6v3.2M337.9,385.9h3.2m-1.6,-1.6v3.2M483.0,398.9h3.2m-1.6,-1.6v3.2M478.0,412.6h3.2m-1.6,-1.6v3.2M453.0,387.6h3.2m-1.6,-1.6v3.2M395.3,441.5h3.2m-1.6,-1.6v3.2M365.6,416.5h3.2m-1.6,-1.6v3.2M268.8,457.7h3.2m-1.6,-1.6v3.2M91.1,391.3h3.2m-1.6,-1.6v3.2M156.1,462.5h3.2m-1.6,-1.6v3.2M380.4,437.7h3.2m-1.6,-1.6v3.2M604.0,385.8h3.2m-1.6,-1.6v3.2M341.9,387.3h3.2m-1.6,-1.6v3.2M257.5,437.0h3.2m-1.6,-1.6v3.2M676.1,441.6h3.2m-1.6,-1.6v3.2M484.2,409.0h3.2m-1.6,-1.6v3.2M75.6,402.3h3.2m-1.6,-1.6v3.2M409.3,459.2h3.2m-1.6,-1.6v3.2M359.8,398.4h3.2m-1.6,-1.6v3.2M472.3,389.6h3.2m-1.6,-1.6v3.2M92.2,382.1h3.2m-1.6,-1.6v3.2M155.7,458.8h3.2m-1.6,-1.6v3.2M229.8,395.9h3.2m-1.6,-1.6v3.2M256.0,444.3h3.2m-1.6,-1.6v3.2M313.9,414.7h3.2m-1.6,-1.6v3.2M440.9,407.9h3.2m-1.6,-1.6v3.2M213.1,384.4h3.2m-1.6,-1.6v3.2M296.1,447.6h3.2m-1.6,-1.6v3.2M311.9,416.3h3.2m-1.6,-1.6v3.2M450.0,393.2h3.2m-1.6,-1.6v3.2M221.0,386.0h3.2m-1.6,-1.6v3.2M622.1,426.5h3.2m-1.6,-1.6v3.2M300.3,436.6h3.2m-1.6,-1.6v3.2M412.3,453.4h3.2m-1.6,-1.6v3.2M124.1,424.3h3.2m-1.6,-1.6v3.2M94.4,389.2h3.2m-1.6,-1.6v3.2M599.4,385.3h3.2m-1.6,-1.6v3.2M258.0,439.1h3.2m-1.6,-1.6v3.2M253.3,435.1h3.2m-1.6,-1.6v3.2M525.3,467.1h3.2m-1.6,-1.6v3.2M206.2,383.2h3.2m-1.6,-1.6v3.2M501.2,434.6h3.2m-1.6,-1.6v3.2M530.5,460.4h3.2m-1.6,-1.6v3.2M584.5,382.2h3.2m-1.6,-1.6v3.2M272.9,447.9h3.2m-1.6,-1.6v3.2M510.4,452.6h3.2m-1.6,-1.6v3.2M675.5,441.9h3.2m-1.6,-1.6v3.2M112.4,404.4h3.2m-1.6,-1.6v3.2M628.8,446.4h3.2m-1.6,-1.6v3.2M476.5,394.7h3.2m-1.6,-1.6v3.2M547.4,443.2h3.2m-1.6,-1.6v3.2M563.1,412.3h3.2m-1.6,-1.6v3.2M390.2,448.5h3.2m-1.6,-1.6v3.2M618.9,418.1h3.2m-1.6,-1.6v3.2M141.3,455.7h3.2m-1.6,-1.6v3.2M462.3,385.7h3.2m-1.6,-1.6v3.2M549.7,432.1h3.2m-1.6,-1.6v3.2M479.1,397.0h3.2m-1.6,-1.6v3.2M644.8,460.1h3.2m-1.6,-1.6v3.2M464.9,385.4h3.2m-1.6,-1.6v3.2M175.5,437.4h3.2m-1.6,-1.6v3.2M540.2,452.2h3.2m-1.6,-1.6v3.2M506.5,436.8h3.2m-1.6,-1.6v3.2M300.2,435.7h3.2m-1.6,-1.6v3.2M72.0,405.0h3.2m-1.6,-1.6v3.2M299.0,437.0h3.2m-1.6,-1.6v3.2M540.7,454.0h3.2m-1.6,-1.6v3.2M168.7,449.7h3.2m-1.6,-1.6v3.2M424.6,442.6h3.2m-1.6,-1.6v3.2M84.8,390.2h3.2m-1.6,-1.6v3.2M459.2,386.4h3.2m-1.6,-1.6v3.2M565.1,409.3h3.2m-1.6,-1.6v3.2M644.1,463.9h3.2m-1.6,-1.6v3.2M528.0,462.8h3.2m-1.6,-1.6v3.2M311.6,421.5h3.2m-1.6,-1.6v3.2M334.6,388.0h3.2m-1.6,-1.6v3.2M577.0,385.6h3.2m-1.6,-1.6v3.2M586.1,380.1h3.2m-1.6,-1.6v3.2M306.0,431.3h3.2m-1.6,-1.6v3.2M73.9,402.0h3.2m-1.6,-1.6v3.2M627.4,444.5h3.2m-1.6,-1.6v3.2M664.7,460.6h3.2m-1.6,-1.6v3.2M126.3,432.0h3.2m-1.6,-1.6v3.2M179.2,439.6h3.2m-1.6,-1.6v3.2M114.8,415.4h3.2m-1.6,-1.6v3.2M652.3,467.5h3.2m-1.6,-1.6v3.2M114.6,409.1h3.2m-1.6,-1.6v3.2M616.1,414.0h3.2m-1.6,-1.6v3.2M58.8,423.2h3.2m-1.6,-1.6v3.2M420.1,445.8h3.2m-1.6,-1.6v3.2M564.4,403.3h3.2m-1.6,-1.6v3.2M410.7,453.9h3.2m-1.6,-1.6v3.2M100.8,393.3h3.2m-1.6,-1.6v3.2M670.7,441.5h3.2m-1.6,-1.6v3.2M384.5,443.6h3.2m-1.6,-1.6v3.2M404.4,457.1h3.2m-1.6,-1.6v3.2M255.3,430.4h3.2m-1.6,-1.6v3.2M460.0,387.6h3.2m-1.6,-1.6v3.2M630.9,445.6h3.2m-1.6,-1.6v3.2M179.6,432.4h3.2m-1.6,-1.6v3.2M76.6,399.3h3.2m-1.6,-1.6v3.2M670.4,448.1h3.2m-1.6,-1.6v3.2M516.3,458.6h3.2m-1.6,-1.6v3.2M413.1,455.6h3.2m-1.6,-1.6v3.2M393.1,454.4h3.2m-1.6,-1.6v3.2M672.6,443.0h3.2m-1.6,-1.6v3.2M473.6,395.2h3.2m-1.6,-1.6v3.2M484.0,398.8h3.2m-1.6,-1.6v3.2M259.2,436.1h3.2m-1.6,-1.6v3.2M199.4,391.5h3.2m-1.6,-1.6v3.2M213.2,387.7h3.2m-1.6,-1.6v3.2M235.8,402.5h3.2m-1.6,-1.6v3.2M596.7,380.6h3.2m-1.6,-1.6v3.2M156.8,463.8h3.2m-1.6,-1.6v3.2M257.0,442.6h3.2m-1.6,-1.6v3.2M318.2,406.3h3.2m-1.6,-1.6v3.2M291.5,442.5h3.2m-1.6,-1.6v3.2M470.2,385.9h3.2m-1.6,-1.6v3.2M122.9,426.4h3.2m-1.6,-1.6v3.2M305.7,422.6h3.2m-1.6,-1.6v3.2M383.2,444.6h3.2m-1.6,-1.6v3.2M519.3,460.6h3.2m-1.6,-1.6v3.2M409.8,456.6h3.2m-1.6,-1.6v3.2M442.7,399.2h3.2m-1.6,-1.6v3.2M192.4,408.0h3.2m-1.6,-1.6v3.2M414.5,452.1h3.2m-1.6,-1.6v3.2M621.0,419.2h3.2m-1.6,-1.6v3.2M606.3,396.9h3.2m-1.6,-1.6v3.2M148.0,459.2h3.2m-1.6,-1.6v3.2M604.9,391.4h3.2m-1.6,-1.6v3.2M432.9,422.5h3.2m-1.6,-1.6v3.2M310.4,416.7h3.2m-1.6,-1.6v3.2M608.7,405.4h3.2m-1.6,-1.6v3.2M681.5,433.2h3.2m-1.6,-1.6v3.2M179.3,433.2h3.2m-1.6,-1.6v3.2M217.6,381.8h3.2m-1.6,-1.6v3.2M596.3,383.3h3.2m-1.6,-1.6v3.2M440.2,398.0h3.2m-1.6,-1.6v3.2M662.9,458.7h3.2m-1.6,-1.6v3.2M133.9,447.2h3.2m-1.6,-1.6v3.2M560.1,421.4h3.2m-1.6,-1.6v3.2M72.6,408.3h3.2m-1.6,-1.6v3.2M613.5,412.4h3.2m-1.6,-1.6v3.2M243.6,414.1h3.2m-1.6,-1.6v3.2M485.6,402.8h3.2m-1.6,-1.6v3.2M655.0,463.4h3.2m-1.6,-1.6v3.2M154.3,462.9h3.2m-1.6,-1.6v3.2M184.3,421.9h3.2m-1.6,-1.6v3.2M467.5,382.1h3.2m-1.6,-1.6v3.2M107.3,398.5h3.2m-1.6,-1.6v3.2M420.5,441.8h3.2m-1.6,-1.6v3.2M426.8,433.6h3.2m-1.6,-1.6v3.2M188.9,411.9h3.2m-1.6,-1.6v3.2M367.1,410.0h3.2m-1.6,-1.6v3.2M151.9,457.4h3.2m-1.6,-1.6v3.2M453.0,389.6h3.2m-1.6,-1.6v3.2M214.6,385.3h3.2m-1.6,-1.6v3.2M289.0,456.8h3.2m-1.6,-1.6v3.2M676.2,441.7h3.2m-1.6,-1.6v3.2M365.9,422.4h3.2m-1.6,-1.6v3.2M429.8,431.7h3.2m-1.6,-1.6v3.2M322.2,402.6h3.2m-1.6,-1.6v3.2M523.6,463.0h3.2m-1.6,-1.6v3.2M380.9,444.1h3.2m-1.6,-1.6v3.2M99.1,388.5h3.2m-1.6,-1.6v3.2M325.2,395.1h3.2m-1.6,-1.6v3.2M122.4,427.7h3.2m-1.6,-1.6v3.2M120.4,422.3h3.2m-1.6,-1.6v3.2M171.8,449.0h3.2m-1.6,-1.6v3.2M316.7,408.1h3.2m-1.6,-1.6v3.2M74.2,404.2h3.2m-1.6,-1.6v3.2M666.0,455.9h3.2m-1.6,-1.6v3.2M682.8,425.9h3.2m-1.6,-1.6v3.2M497.9,423.2h3.2m-1.6,-1.6v3.2M571.0,395.3h3.2m-1.6,-1.6v3.2M561.0,419.9h3.2m-1.6,-1.6v3.2M491.4,413.0h3.2m-1.6,-1.6v3.2M217.0,380.9h3.2m-1.6,-1.6v3.2M392.8,459.5h3.2m-1.6,-1.6v3.2M402.0,456.4h3.2m-1.6,-1.6v3.2M619.4,422.2h3.2m-1.6,-1.6v3.2M154.4,461.0h3.2m-1.6,-1.6v3.2M493.4,414.7h3.2m-1.6,-1.6v3.2M287.3,448.4h3.2m-1.6,-1.6v3.2M622.4,424.3h3.2m-1.6,-1.6v3.2M447.4,397.3h3.2m-1.6,-1.6v3.2M477.0,399.2h3.2m-1.6,-1.6v3.2M302.3,448.8h3.2m-1.6,-1.6v3.2M605.3,398.3h3.2m-1.6,-1.6v3.2M454.5,388.8h3.2m-1.6,-1.6v3.2M248.9,422.2h3.2m-1.6,-1.6v3.2M555.0,422.9h3.2m-1.6,-1.6v3.2M296.0,438.9h3.2m-1.6,-1.6v3.2M661.8,460.0h3.2m-1.6,-1.6v3.2M609.8,399.6h3.2m-1.6,-1.6v3.2M261.3,438.0h3.2m-1.6,-1.6v3.2M362.6,407.3h3.2m-1.6,-1.6v3.2M87.0,391.8h3.2m-1.6,-1.6v3.2M279.5,451.7h3.2m-1.6,-1.6v3.2M220.3,378.1h3.2m-1.6,-1.6v3.2M647.6,463.8h3.2m-1.6,-1.6v3.2M610.1,402.4h3.2m-1.6,-1.6v3.2M536.1,464.5h3.2m-1.6,-1.6v3.2M408.7,456.3h3.2m-1.6,-1.6v3.2M649.3,463.9h3.2m-1.6,-1.6v3.2M168.0,449.4h3.2m-1.6,-1.6v3.2M97.9,393.5h3.2m-1.6,-1.6v3.2M250.9,427.1h3.2m-1.6,-1.6v3.2M380.1,435.7h3.2m-1.6,-1.6v3.2M347.9,389.7h3.2m-1.6,-1.6v3.2M274.5,457.8h3.2m-1.6,-1.6v3.2M516.7,460.8h3.2m-1.6,-1.6v3.2M190.6,407.9h3.2m-1.6,-1.6v3.2M193.1,406.0h3.2m-1.6,-1.6v3.2M682.0,425.9h3.2m-1.6,-1.6v3.2M134.2,442.2h3.2m-1.6,-1.6v3.2M126.6,422.8h3.2m-1.6,-1.6v3.2M90.2,392.6h3.2m-1.6,-1.6v3.2M91.0,389.4h3.2m-1.6,-1.6v3.2M79.6,395.1h3.2m-1.6,-1.6v3.2M354.3,393.0h3.2m-1.6,-1.6v3.2M380.5,445.2h3.2m-1.6,-1.6v3.2M172.9,445.5h3.2m-1.6,-1.6v3.2M609.7,404.7h3.2m-1.6,-1.6v3.2M657.6,461.4h3.2m-1.6,-1.6v3.2M139.2,452.0h3.2m-1.6,-1.6v3.2M123.0,431.0h3.2m-1.6,-1.6v3.2M181.5,424.2h3.2m-1.6,-1.6v3.2M496.3,422.0h3.2m-1.6,-1.6v3.2M287.7,449.7h3.2m-1.6,-1.6v3.2M577.6,390.1h3.2m-1.6,-1.6v3.2M671.6,460.9h3.2m-1.6,-1.6v3.2M630.3,441.5h3.2m-1.6,-1.6v3.2M488.5,403.5h3.2m-1.6,-1.6v3.2M90.8,384.9h3.2m-1.6,-1.6v3.2M312.5,413.4h3.2m-1.6,-1.6v3.2M353.8,393.6h3.2m-1.6,-1.6v3.2M562.2,416.9h3.2m-1.6,-1.6v3.2M309.9,422.1h3.2m-1.6,-1.6v3.2M511.4,455.5h3.2m-1.6,-1.6v3.2M349.9,389.1h3.2m-1.6,-1.6v3.2M311.0,424.4h3.2m-1.6,-1.6v3.2M523.3,460.9h3.2m-1.6,-1.6v3.2M384.2,445.4h3.2m-1.6,-1.6v3.2M190.2,407.8h3.2m-1.6,-1.6v3.2M415.6,446.0h3.2m-1.6,-1.6v3.2M215.0,380.6h3.2m-1.6,-1.6v3.2M558.2,411.0h3.2m-1.6,-1.6v3.2M672.6,448.8h3.2m-1.6,-1.6v3.2M531.8,461.6h3.2m-1.6,-1.6v3.2M473.9,390.3h3.2m-1.6,-1.6v3.2M544.9,449.5h3.2m-1.6,-1.6v3.2M508.9,449.6h3.2m-1.6,-1.6v3.2M495.6,421.9h3.2m-1.6,-1.6v3.2M182.2,427.2h3.2m-1.6,-1.6v3.2M443.5,399.6h3.2m-1.6,-1.6v3.2M590.2,379.6h3.2m-1.6,-1.6v3.2M495.2,426.0h3.2m-1.6,-1.6v3.2M370.6,422.6h3.2m-1.6,-1.6v3.2M465.8,387.7h3.2m-1.6,-1.6v3.2M195.1,403.7h3.2m-1.6,-1.6v3.2M373.2,424.6h3.2m-1.6,-1.6v3.2M533.5,460.7h3.2m-1.6,-1.6v3.2M338.9,388.2h3.2m-1.6,-1.6v3.2M681.8,427.2h3.2m-1.6,-1.6v3.2M80.2,394.1h3.2m-1.6,-1.6v3.2M414.8,447.1h3.2m-1.6,-1.6v3.2M250.7,423.8h3.2m-1.6,-1.6v3.2M387.9,460.4h3.2m-1.6,-1.6v3.2M430.4,428.3h3.2m-1.6,-1.6v3.2M99.7,387.7h3.2m-1.6,-1.6v3.2M273.9,457.6h3.2m-1.6,-1.6v3.2M541.0,457.7h3.2m-1.6,-1.6v3.2M221.2,382.2h3.2m-1.6,-1.6v3.2M607.1,396.2h3.2m-1.6,-1.6v3.2M339.9,389.7h3.2m-1.6,-1.6v3.2M175.1,439.2h3.2m-1.6,-1.6v3.2M463.0,386.1h3.2m-1.6,-1.6v3.2M301.3,442.0h3.2m-1.6,-1.6v3.2M175.8,436.0h3.2m-1.6,-1.6v3.2M287.6,456.0h3.2m-1.6,-1.6v3.2M286.3,449.8h3.2m-1.6,-1.6v3.2M570.5,400.7h3.2m-1.6,-1.6v3.2M598.3,392.4h3.2m-1.6,-1.6v3.2M133.2,442.5h3.2m-1.6,-1.6v3.2M575.1,388.0h3.2m-1.6,-1.6v3.2M65.2,413.4h3.2m-1.6,-1.6v3.2M522.2,460.4h3.2m-1.6,-1.6v3.2M152.4,455.8h3.2m-1.6,-1.6v3.2M260.6,445.1h3.2m-1.6,-1.6v3.2M101.8,387.2h3.2m-1.6,-1.6v3.2M315.7,408.7h3.2m-1.6,-1.6v3.2M623.4,433.2h3.2m-1.6,-1.6v3.2M99.1,393.0h3.2m-1.6,-1.6v3.2M325.3,394.0h3.2m-1.6,-1.6v3.2M230.5,396.6h3.2m-1.6,-1.6v3.2M571.4,388.2h3.2m-1.6,-1.6v3.2M608.5,396.4h3.2m-1.6,-1.6v3.2M573.5,392.3h3.2m-1.6,-1.6v3.2M174.8,438.7h3.2m-1.6,-1.6v3.2M569.1,395.0h3.2m-1.6,-1.6v3.2M478.8,394.9h3.2m-1.6,-1.6v3.2M571.9,389.7h3.2m-1.6,-1.6v3.2M642.9,463.2h3.2m-1.6,-1.6v3.2M557.7,417.7h3.2m-1.6,-1.6v3.2M208.0,386.0h3.2m-1.6,-1.6v3.2M245.8,416.7h3.2m-1.6,-1.6v3.2M219.2,384.9h3.2m-1.6,-1.6v3.2M486.9,408.9h3.2m-1.6,-1.6v3.2M238.0,398.4h3.2m-1.6,-1.6v3.2M502.1,435.0h3.2m-1.6,-1.6v3.2M220.5,379.7h3.2m-1.6,-1.6v3.2M589.1,383.2h3.2m-1.6,-1.6v3.2M487.8,410.6h3.2m-1.6,-1.6v3.2M567.9,400.1h3.2m-1.6,-1.6v3.2M145.2,456.1h3.2m-1.6,-1.6v3.2M160.9,460.0h3.2m-1.6,-1.6v3.2M216.0,381.2h3.2m-1.6,-1.6v3.2M125.0,436.0h3.2m-1.6,-1.6v3.2M664.2,464.0h3.2m-1.6,-1.6v3.2M306.2,433.3h3.2m-1.6,-1.6v3.2M245.5,411.3h3.2m-1.6,-1.6v3.2M459.7,388.0h3.2m-1.6,-1.6v3.2M191.5,404.9h3.2m-1.6,-1.6v3.2M534.5,463.1h3.2m-1.6,-1.6v3.2M588.0,383.6h3.2m-1.6,-1.6v3.2M64.0,413.9h3.2m-1.6,-1.6v3.2M130.7,422.7h3.2m-1.6,-1.6v3.2M424.1,439.2h3.2m-1.6,-1.6v3.2M123.7,427.3h3.2m-1.6,-1.6v3.2M569.1,399.2h3.2m-1.6,-1.6v3.2M150.7,450.6h3.2m-1.6,-1.6v3.2M148.7,458.5h3.2m-1.6,-1.6v3.2M125.3,429.9h3.2m-1.6,-1.6v3.2M173.4,439.4h3.2m-1.6,-1.6v3.2M468.0,384.0h3.2m-1.6,-1.6v3.2M350.2,389.2h3.2m-1.6,-1.6v3.2M359.9,406.4h3.2m-1.6,-1.6v3.2M567.6,399.0h3.2m-1.6,-1.6v3.2M185.4,426.7h3.2m-1.6,-1.6v3.2M287.3,447.1h3.2m-1.6,-1.6v3.2M316.1,410.6h3.2m-1.6,-1.6v3.2M348.5,387.5h3.2m-1.6,-1.6v3.2M315.0,415.8h3.2m-1.6,-1.6v3.2M496.8,429.1h3.2m-1.6,-1.6v3.2M293.1,446.9h3.2m-1.6,-1.6v3.2M72.4,399.7h3.2m-1.6,-1.6v3.2M153.4,460.0h3.2m-1.6,-1.6v3.2M570.4,400.9h3.2m-1.6,-1.6v3.2M364.1,412.3h3.2m-1.6,-1.6v3.2M654.8,464.1h3.2m-1.6,-1.6v3.2M214.5,384.1h3.2m-1.6,-1.6v3.2M577.4,386.3h3.2m-1.6,-1.6v3.2M107.1,402.3h3.2m-1.6,-1.6v3.2M441.2,407.2h3.2m-1.6,-1.6v3.2M541.6,448.2h3.2m-1.6,-1.6v3.2M516.8,460.7h3.2m-1.6,-1.6v3.2M657.9,463.4h3.2m-1.6,-1.6v3.2M574.7,390.9h3.2m-1.6,-1.6v3.2M590.0,380.7h3.2m-1.6,-1.6v3.2M338.8,388.1h3.2m-1.6,-1.6v3.2M596.3,386.8h3.2m-1.6,-1.6v3.2M440.1,408.2h3.2m-1.6,-1.6v3.2M240.5,408.6h3.2m-1.6,-1.6v3.2M455.3,388.0h3.2m-1.6,-1.6v3.2M306.7,419.1h3.2m-1.6,-1.6v3.2M543.3,448.9h3.2m-1.6,-1.6v3.2M361.5,407.0h3.2m-1.6,-1.6v3.2M517.1,456.3h3.2m-1.6,-1.6v3.2M276.7,462.5h3.2m-1.6,-1.6v3.2M318.9,407.9h3.2m-1.6,-1.6v3.2M482.2,395.4h3.2m-1.6,-1.6v3.2M535.9,460.0h3.2m-1.6,-1.6v3.2M493.2,423.0h3.2m-1.6,-1.6v3.2M500.8,435.4h3.2m-1.6,-1.6v3.2M672.1,448.0h3.2m-1.6,-1.6v3.2M163.3,457.7h3.2m-1.6,-1.6v3.2M109.8,404.7h3.2m-1.6,-1.6v3.2M549.3,428.6h3.2m-1.6,-1.6v3.2M193.1,410.0h3.2m-1.6,-1.6v3.2M483.2,400.3h3.2m-1.6,-1.6v3.2M338.1,383.4h3.2m-1.6,-1.6v3.2M675.3,444.0h3.2m-1.6,-1.6v3.2M503.8,440.3h3.2m-1.6,-1.6v3.2M390.6,455.4h3.2m-1.6,-1.6v3.2M384.3,442.2h3.2m-1.6,-1.6v3.2M258.7,439.0h3.2m-1.6,-1.6v3.2M61.3,416.1h3.2m-1.6,-1.6v3.2M215.3,383.2h3.2m-1.6,-1.6v3.2M571.3,393.7h3.2m-1.6,-1.6v3.2M272.5,449.5h3.2m-1.6,-1.6v3.2M660.7,463.1h3.2m-1.6,-1.6v3.2M396.1,456.3h3.2m-1.6,-1.6v3.2M349.7,395.1h3.2m-1.6,-1.6v3.2M270.8,458.8h3.2m-1.6,-1.6v3.2M463.9,380.0h3.2m-1.6,-1.6v3.2M605.6,393.9h3.2m-1.6,-1.6v3.2M283.0,454.7h3.2m-1.6,-1.6v3.2M125.3,423.7h3.2m-1.6,-1.6v3.2M440.9,409.0h3.2m-1.6,-1.6v3.2M177.2,438.5h3.2m-1.6,-1.6v3.2M630.7,446.6h3.2m-1.6,-1.6v3.2M656.0,466.1h3.2m-1.6,-1.6v3.2M563.6,406.5h3.2m-1.6,-1.6v3.2M360.0,403.5h3.2m-1.6,-1.6v3.2M353.7,394.9h3.2m-1.6,-1.6v3.2M657.1,470.1h3.2m-1.6,-1.6v3.2M66.3,411.6h3.2m-1.6,-1.6v3.2M538.3,455.9h3.2m-1.6,-1.6v3.2M572.4,395.1h3.2m-1.6,-1.6v3.2M224.3,383.5h3.2m-1.6,-1.6v3.2M576.0,395.1h3.2m-1.6,-1.6v3.2M271.5,457.1h3.2m-1.6,-1.6v3.2M667.3,452.7h3.2m-1.6,-1.6v3.2M267.0,443.3h3.2m-1.6,-1.6v3.2M78.1,394.1h3.2m-1.6,-1.6v3.2M360.1,404.0h3.2m-1.6,-1.6v3.2M626.5,435.8h3.2m-1.6,-1.6v3.2M370.5,424.7h3.2m-1.6,-1.6v3.2M562.1,412.3h3.2m-1.6,-1.6v3.2M245.7,423.2h3.2m-1.6,-1.6v3.2M183.1,421.5h3.2m-1.6,-1.6v3.2M661.1,466.5h3.2m-1.6,-1.6v3.2M630.0,443.3h3.2m-1.6,-1.6v3.2M650.1,471.9h3.2m-1.6,-1.6v3.2M423.1,435.8h3.2m-1.6,-1.6v3.2M558.3,418.8h3.2m-1.6,-1.6v3.2M483.5,401.2h3.2m-1.6,-1.6v3.2M311.2,411.7h3.2m-1.6,-1.6v3.2M519.7,462.9h3.2m-1.6,-1.6v3.2M677.4,434.8h3.2m-1.6,-1.6v3.2M659.2,463.1h3.2m-1.6,-1.6v3.2M570.1,394.0h3.2m-1.6,-1.6v3.2M429.7,426.5h3.2m-1.6,-1.6v3.2M188.1,418.6h3.2m-1.6,-1.6v3.2M566.9,405.8h3.2m-1.6,-1.6v3.2M583.6,383.0h3.2m-1.6,-1.6v3.2M438.0,418.3h3.2m-1.6,-1.6v3.2M602.0,391.7h3.2m-1.6,-1.6v3.2M656.2,467.8h3.2m-1.6,-1.6v3.2M100.2,389.5h3.2m-1.6,-1.6v3.2M85.8,390.4h3.2m-1.6,-1.6v3.2M456.4,383.5h3.2m-1.6,-1.6v3.2M193.9,409.6h3.2m-1.6,-1.6v3.2M179.8,434.1h3.2m-1.6,-1.6v3.2M579.0,386.5h3.2m-1.6,-1.6v3.2M91.8,385.7h3.2m-1.6,-1.6v3.2M531.7,462.1h3.2m-1.6,-1.6v3.2M120.7,427.9h3.2m-1.6,-1.6v3.2M546.9,443.5h3.2m-1.6,-1.6v3.2M329.7,393.3h3.2m-1.6,-1.6v3.2M521.9,456.2h3.2m-1.6,-1.6v3.2M425.9,435.7h3.2m-1.6,-1.6v3.2M516.4,460.0h3.2m-1.6,-1.6v3.2M217.4,386.3h3.2m-1.6,-1.6v3.2M255.1,434.6h3.2m-1.6,-1.6v3.2M96.6,390.5h3.2m-1.6,-1.6v3.2M673.4,441.5h3.2m-1.6,-1.6v3.2M414.5,449.9h3.2m-1.6,-1.6v3.2M263.9,445.5h3.2m-1.6,-1.6v3.2M159.8,461.4h3.2m-1.6,-1.6v3.2M316.6,410.0h3.2m-1.6,-1.6v3.2M360.8,400.3h3.2m-1.6,-1.6v3.2M90.1,389.8h3.2m-1.6,-1.6v3.2M377.0,434.5h3.2m-1.6,-1.6v3.2M517.6,463.7h3.2m-1.6,-1.6v3.2M582.5,373.6h3.2m-1.6,-1.6v3.2M209.8,389.3h3.2m-1.6,-1.6v3.2M94.8,388.6h3.2m-1.6,-1.6v3.2M222.1,386.9h3.2m-1.6,-1.6v3.2M454.9,386.5h3.2m-1.6,-1.6v3.2M131.1,441.9h3.2m-1.6,-1.6v3.2M293.3,449.5h3.2m-1.6,-1.6v3.2M441.7,410.3h3.2m-1.6,-1.6v3.2M387.2,447.5h3.2m-1.6,-1.6v3.2M635.3,453.8h3.2m-1.6,-1.6v3.2M256.9,440.2h3.2m-1.6,-1.6v3.2M149.8,454.6h3.2m-1.6,-1.6v3.2M630.5,450.4h3.2m-1.6,-1.6v3.2M158.6,464.4h3.2m-1.6,-1.6v3.2M70.2,405.8h3.2m-1.6,-1.6v3.2M348.9,389.7h3.2m-1.6,-1.6v3.2M406.3,459.7h3.2m-1.6,-1.6v3.2M521.0,458.2h3.2m-1.6,-1.6v3.2M86.5,389.9h3.2m-1.6,-1.6v3.2M225.0,390.6h3.2m-1.6,-1.6v3.2M510.8,445.7h3.2m-1.6,-1.6v3.2M173.9,444.2h3.2m-1.6,-1.6v3.2M223.5,385.8h3.2m-1.6,-1.6v3.2M65.0,417.5h3.2m-1.6,-1.6v3.2M77.0,400.3h3.2m-1.6,-1.6v3.2M104.8,393.6h3.2m-1.6,-1.6v3.2M136.5,446.5h3.2m-1.6,-1.6v3.2M377.8,435.7h3.2m-1.6,-1.6v3.2M559.3,415.5h3.2m-1.6,-1.6v3.2M305.2,422.9h3.2m-1.6,-1.6v3.2M571.7,392.3h3.2m-1.6,-1.6v3.2M210.6,383.6h3.2m-1.6,-1.6v3.2M381.3,443.5h3.2m-1.6,-1.6v3.2M628.8,442.0h3.2m-1.6,-1.6v3.2M487.9,410.8h3.2m-1.6,-1.6v3.2M555.3,424.5h3.2m-1.6,-1.6v3.2M625.7,436.6h3.2m-1.6,-1.6v3.2M587.1,383.1h3.2m-1.6,-1.6v3.2M80.8,396.7h3.2m-1.6,-1.6v3.2M610.0,403.6h3.2m-1.6,-1.6v3.2M141.4,454.6h3.2m-1.6,-1.6v3.2M518.6,461.1h3.2m-1.6,-1.6v3.2M505.9,437.3h3.2m-1.6,-1.6v3.2M380.7,442.9h3.2m-1.6,-1.6v3.2M107.7,406.3h3.2m-1.6,-1.6v3.2M469.5,376.8h3.2m-1.6,-1.6v3.2M121.9,419.1h3.2m-1.6,-1.6v3.2M352.9,396.6h3.2m-1.6,-1.6v3.2M303.9,426.6h3.2m-1.6,-1.6v3.2M236.5,401.7h3.2m-1.6,-1.6v3.2M479.3,396.3h3.2m-1.6,-1.6v3.2M183.9,420.5h3.2m-1.6,-1.6v3.2M615.3,416.7h3.2m-1.6,-1.6v3.2M421.8,437.3h3.2m-1.6,-1.6v3.2M189.4,415.2h3.2m-1.6,-1.6v3.2M651.9,467.3h3.2m-1.6,-1.6v3.2M255.6,441.3h3.2m-1.6,-1.6v3.2M464.0,385.9h3.2m-1.6,-1.6v3.2M544.9,451.8h3.2m-1.6,-1.6v3.2M383.0,447.2h3.2m-1.6,-1.6v3.2M246.3,411.7h3.2m-1.6,-1.6v3.2M457.0,386.4h3.2m-1.6,-1.6v3.2M240.1,407.6h3.2m-1.6,-1.6v3.2M166.7,453.3h3.2m-1.6,-1.6v3.2M387.0,447.6h3.2m-1.6,-1.6v3.2M78.0,397.5h3.2m-1.6,-1.6v3.2M442.6,407.4h3.2m-1.6,-1.6v3.2M101.7,391.5h3.2m-1.6,-1.6v3.2M238.6,400.9h3.2m-1.6,-1.6v3.2M356.0,402.7h3.2m-1.6,-1.6v3.2M554.4,428.4h3.2m-1.6,-1.6v3.2M113.0,410.1h3.2m-1.6,-1.6v3.2M226.4,389.3h3.2m-1.6,-1.6v3.2M507.7,445.4h3.2m-1.6,-1.6v3.2M353.9,396.1h3.2m-1.6,-1.6v3.2M557.3,416.9h3.2m-1.6,-1.6v3.2M565.8,403.0h3.2m-1.6,-1.6v3.2M552.3,426.8h3.2m-1.6,-1.6v3.2M233.0,395.3h3.2m-1.6,-1.6v3.2M253.0,427.3h3.2m-1.6,-1.6v3.2M268.4,450.3h3.2m-1.6,-1.6v3.2M395.0,455.2h3.2m-1.6,-1.6v3.2M326.8,395.1h3.2m-1.6,-1.6v3.2M382.6,438.6h3.2m-1.6,-1.6v3.2M121.5,419.3h3.2m-1.6,-1.6v3.2M541.3,450.7h3.2m-1.6,-1.6v3.2M397.1,456.4h3.2m-1.6,-1.6v3.2M483.5,401.4h3.2m-1.6,-1.6v3.2M369.8,419.1h3.2m-1.6,-1.6v3.2M273.2,449.4h3.2m-1.6,-1.6v3.2M177.1,436.1h3.2m-1.6,-1.6v3.2M199.8,386.2h3.2m-1.6,-1.6v3.2M526.1,466.6h3.2m-1.6,-1.6v3.2M400.2,457.3h3.2m-1.6,-1.6v3.2M456.4,390.9h3.2m-1.6,-1.6v3.2M112.1,405.0h3.2m-1.6,-1.6v3.2M196.0,401.1h3.2m-1.6,-1.6v3.2M199.9,394.1h3.2m-1.6,-1.6v3.2M87.9,391.6h3.2m-1.6,-1.6v3.2M551.9,438.6h3.2m-1.6,-1.6v3.2M533.4,459.0h3.2m-1.6,-1.6v3.2M676.7,438.3h3.2m-1.6,-1.6v3.2M334.1,395.6h3.2m-1.6,-1.6v3.2M209.2,386.0h3.2m-1.6,-1.6v3.2M503.3,454.9h3.2m-1.6,-1.6v3.2M356.4,406.3h3.2m-1.6,-1.6v3.2M218.0,372.9h3.2m-1.6,-1.6v3.2M665.0,454.9h3.2m-1.6,-1.6v3.2M279.6,455.9h3.2m-1.6,-1.6v3.2M340.3,387.4h3.2m-1.6,-1.6v3.2M500.1,424.6h3.2m-1.6,-1.6v3.2M193.7,407.5h3.2m-1.6,-1.6v3.2" stroke="#8a22dc" stroke-width="0.85" fill="none"/>
</g></g>
<g font-family="Liberation Serif" fill="#111">
<text transform="translate(121.2,303.3) scale(1.12,1)" font-size="17" font-style="italic">ω</text>
<rect x="138.7" y="296.3" width="11.5" height="1" /><rect x="138.7" y="300.7" width="11.5" height="1"/>
<rect x="158" y="298.0" width="33.2" height="1"/>
<text x="174.3" y="291.8" font-size="17" text-anchor="middle">2<tspan font-style="italic">π</tspan></text>
<text transform="translate(174.5,314.8) scale(0.93,1)" font-size="19" text-anchor="middle">8000</text>
</g>
<g font-family="Liberation Serif" fill="#111">
<text transform="translate(121.2,399.1) scale(1.12,1)" font-size="17" font-style="italic">ω</text>
<rect x="138.7" y="392.1" width="11.5" height="1" /><rect x="138.7" y="396.5" width="11.5" height="1"/>
<rect x="158" y="393.8" width="33.2" height="1"/>
<text x="174.3" y="388.9" font-size="17" text-anchor="middle">2<tspan font-style="italic">π</tspan></text>
<text transform="translate(174.5,410.6) scale(0.93,1)" font-size="19" text-anchor="middle">2000</text>
</g>
<g font-family="Liberation Serif" fill="#111">
<text transform="translate(75.5,491.1) scale(1.3,1)" font-size="24.5" font-style="italic">r</text>
<text transform="translate(86.9,494.3) scale(1.2,1)" font-size="17.5" font-style="italic">c</text>
<rect x="105.9" y="480.3" width="16.8" height="1.2"/><rect x="105.9" y="485.6" width="16.8" height="1.2"/>
<text transform="translate(130,491.1) scale(1.05,1)" font-size="25.5">7</text>
<text transform="translate(5.9,389.3) scale(1.18,1)" font-size="27">Σ</text>
<text x="25.1" y="390.2" font-size="29.5">(</text>
<text transform="translate(33.0,389.3) scale(1.15,1)" font-size="28" font-style="italic">t</text>
<text x="43" y="390.2" font-size="29.5">)</text>
<text transform="translate(330.7,544.8) scale(1.2,1)" font-size="19" font-style="italic">N</text>
<rect x="354.2" y="537.5" width="13.3" height="1.1"/><rect x="354.2" y="541.8" width="13.3" height="1.1"/>
<text transform="translate(373.1,544.8) scale(1.13,1)" font-size="18" font-style="italic">ω</text>
<text transform="translate(386.4,544.8) scale(1.4,1)" font-size="19" font-style="italic">t</text>
<path d="M396.4,550.3L402.2,532" stroke="#111" stroke-width="1.15" fill="none"/>
<text x="404" y="544.8" font-size="17.5">2</text>
<text transform="translate(412.7,544.8) scale(1.28,1)" font-size="18" font-style="italic">π</text>
</g>
<g stroke="#111" fill="none" stroke-linecap="round" stroke-linejoin="round"><path d="M691.8,331C693.5,326 698,319 702,315.3C705.5,318.5 709.5,324.5 712,329.5" stroke-width="2.6"/><path d="M702,316.5C701.2,340 702.6,365 701.7,390C701.3,402 702.2,412 702,422.8" stroke-width="2.4"/><path d="M701.2,318C700.8,345 701.9,372 701.0,398C700.9,408 701.4,416 701.5,421" stroke-width="1.4" stroke-dasharray="3 2 5 1.5"/><path d="M702.8,318C702.4,345 703.2,372 702.6,398C702.5,408 702.9,416 702.8,421" stroke-width="1.3" stroke-dasharray="4 1.5 2 2.5"/></g>
<text transform="translate(162.4,578.6) scale(1,1.06)" font-size="28" font-style="italic" font-family="Liberation Serif" fill="#e5121e">Phys Rev Lett 122, 105501 (2019)</text>
<g font-size="27" font-weight="bold" font-family="Liberation Serif" fill="#111"><text x="-3" y="609.7">FIG. 1.</text><text x="108" y="609.7">I</text><text x="156" y="609.7">d</text><text x="172" y="609.7">l</text><text x="204" y="609.7">l</text><text x="241" y="609.7">d</text><text x="266" y="609.7">l</text><text x="282" y="609.7">i</text><text x="303" y="609.7">d</text><text x="321" y="609.7">l</text><text x="352" y="609.7">d</text><text x="513" y="609.7">l</text><text x="532" y="609.7">d</text><text x="553" y="609.7">i</text><text x="583" y="609.7">(a)</text><text x="622" y="609.7">P</text><text x="657" y="609.7">l</text><text x="677" y="609.7">d</text></g>
</svg>
</body></html>
